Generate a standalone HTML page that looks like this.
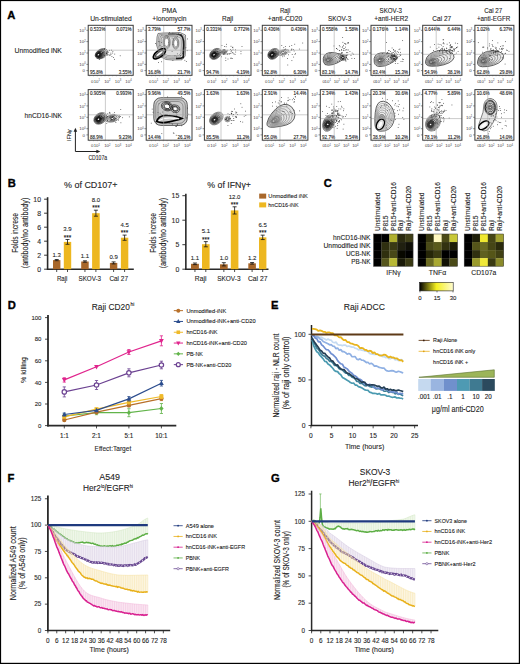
<!DOCTYPE html>
<html><head><meta charset="utf-8"><style>
html,body{margin:0;padding:0;background:#fff;width:520px;height:664px;overflow:hidden}
svg{display:block;font-family:"Liberation Sans", sans-serif}
text{stroke:currentColor;stroke-width:0.1px}
</style></head><body>
<svg width="520" height="664" viewBox="0 0 520 664">
<rect x="0" y="0" width="520" height="664" fill="#fff"/>
<rect x="0.00" y="0.00" width="520.00" height="1.10" fill="#000" stroke="none" stroke-width="1"/>
<rect x="0.00" y="0.00" width="1.10" height="664.00" fill="#000" stroke="none" stroke-width="1"/>
<rect x="518.80" y="0.00" width="1.20" height="664.00" fill="#000" stroke="none" stroke-width="1"/>
<rect x="0.00" y="662.80" width="520.00" height="1.20" fill="#000" stroke="none" stroke-width="1"/>
<text x="7.30" y="19.20" font-size="11.2" text-anchor="start" font-weight="bold" fill="#000" style="stroke:#000;stroke-width:0.35px">A</text>
<text x="7.80" y="187.30" font-size="11.2" text-anchor="start" font-weight="bold" fill="#000" style="stroke:#000;stroke-width:0.35px">B</text>
<text x="323.80" y="186.90" font-size="11.2" text-anchor="start" font-weight="bold" fill="#000" style="stroke:#000;stroke-width:0.35px">C</text>
<text x="7.80" y="308.90" font-size="11.2" text-anchor="start" font-weight="bold" fill="#000" style="stroke:#000;stroke-width:0.35px">D</text>
<text x="271.00" y="308.90" font-size="11.2" text-anchor="start" font-weight="bold" fill="#000" style="stroke:#000;stroke-width:0.35px">E</text>
<text x="7.50" y="482.40" font-size="11.2" text-anchor="start" font-weight="bold" fill="#000" style="stroke:#000;stroke-width:0.35px">F</text>
<text x="271.00" y="482.40" font-size="11.2" text-anchor="start" font-weight="bold" fill="#000" style="stroke:#000;stroke-width:0.35px">G</text>
<text x="14.50" y="52.70" font-size="7.8" text-anchor="start" font-weight="normal" fill="#2a2a2a" textLength="47.4" lengthAdjust="spacingAndGlyphs">Unmodified iNK</text>
<text x="24.50" y="117.60" font-size="7.8" text-anchor="start" font-weight="normal" fill="#2a2a2a" textLength="37.4" lengthAdjust="spacingAndGlyphs">hnCD16-iNK</text>
<text x="90.20" y="20.60" font-size="7.4" text-anchor="start" font-weight="normal" fill="#2a2a2a" textLength="41.499999999999986" lengthAdjust="spacingAndGlyphs">Un-stimulated</text>
<text x="85.60" y="31.90" font-size="4.4" text-anchor="end" fill="#444" style="stroke:none">10<tspan font-size="2.64" dy="-1.6">3</tspan></text>
<text x="85.60" y="43.20" font-size="4.4" text-anchor="end" fill="#444" style="stroke:none">10<tspan font-size="2.64" dy="-1.6">2</tspan></text>
<text x="85.60" y="54.60" font-size="4.4" text-anchor="end" fill="#444" style="stroke:none">10<tspan font-size="2.64" dy="-1.6">1</tspan></text>
<text x="85.60" y="66.00" font-size="4.4" text-anchor="end" fill="#444" style="stroke:none">10<tspan font-size="2.64" dy="-1.6">0</tspan></text>
<text x="85.00" y="72.20" font-size="4.4" text-anchor="end" font-weight="normal" fill="#444" style="stroke:none">0</text>
<line x1="86.40" y1="30.30" x2="88.20" y2="30.30" stroke="#444" stroke-width="0.6"/>
<line x1="86.40" y1="41.60" x2="88.20" y2="41.60" stroke="#444" stroke-width="0.6"/>
<line x1="86.40" y1="53.00" x2="88.20" y2="53.00" stroke="#444" stroke-width="0.6"/>
<line x1="86.40" y1="64.40" x2="88.20" y2="64.40" stroke="#444" stroke-width="0.6"/>
<line x1="86.40" y1="70.60" x2="88.20" y2="70.60" stroke="#444" stroke-width="0.6"/>
<text x="92.20" y="82.50" font-size="4.4" text-anchor="middle" font-weight="normal" fill="#444" style="stroke:none">0</text>
<text x="100.00" y="82.50" font-size="4.4" text-anchor="end" fill="#444" style="stroke:none">10<tspan font-size="2.64" dy="-1.6">1</tspan></text>
<text x="110.50" y="82.50" font-size="4.4" text-anchor="end" fill="#444" style="stroke:none">10<tspan font-size="2.64" dy="-1.6">2</tspan></text>
<text x="121.10" y="82.50" font-size="4.4" text-anchor="end" fill="#444" style="stroke:none">10<tspan font-size="2.64" dy="-1.6">3</tspan></text>
<text x="131.70" y="82.50" font-size="4.4" text-anchor="end" fill="#444" style="stroke:none">10<tspan font-size="2.64" dy="-1.6">4</tspan></text>
<text x="90.00" y="30.50" font-size="4.55" text-anchor="start" font-weight="normal" fill="#2a2a2a">0.533%</text>
<text x="131.60" y="30.50" font-size="4.55" text-anchor="end" font-weight="normal" fill="#2a2a2a">0.071%</text>
<text x="90.00" y="73.80" font-size="4.55" text-anchor="start" font-weight="normal" fill="#2a2a2a">95.8%</text>
<text x="131.60" y="73.80" font-size="4.55" text-anchor="end" font-weight="normal" fill="#2a2a2a">3.55%</text>
<text x="85.60" y="96.20" font-size="4.4" text-anchor="end" fill="#444" style="stroke:none">10<tspan font-size="2.64" dy="-1.6">3</tspan></text>
<text x="85.60" y="107.50" font-size="4.4" text-anchor="end" fill="#444" style="stroke:none">10<tspan font-size="2.64" dy="-1.6">2</tspan></text>
<text x="85.60" y="118.90" font-size="4.4" text-anchor="end" fill="#444" style="stroke:none">10<tspan font-size="2.64" dy="-1.6">1</tspan></text>
<text x="85.60" y="130.30" font-size="4.4" text-anchor="end" fill="#444" style="stroke:none">10<tspan font-size="2.64" dy="-1.6">0</tspan></text>
<text x="85.00" y="136.50" font-size="4.4" text-anchor="end" font-weight="normal" fill="#444" style="stroke:none">0</text>
<line x1="86.40" y1="94.60" x2="88.20" y2="94.60" stroke="#444" stroke-width="0.6"/>
<line x1="86.40" y1="105.90" x2="88.20" y2="105.90" stroke="#444" stroke-width="0.6"/>
<line x1="86.40" y1="117.30" x2="88.20" y2="117.30" stroke="#444" stroke-width="0.6"/>
<line x1="86.40" y1="128.70" x2="88.20" y2="128.70" stroke="#444" stroke-width="0.6"/>
<line x1="86.40" y1="134.90" x2="88.20" y2="134.90" stroke="#444" stroke-width="0.6"/>
<text x="92.20" y="147.40" font-size="4.4" text-anchor="middle" font-weight="normal" fill="#444" style="stroke:none">0</text>
<text x="100.00" y="147.40" font-size="4.4" text-anchor="end" fill="#444" style="stroke:none">10<tspan font-size="2.64" dy="-1.6">1</tspan></text>
<text x="110.50" y="147.40" font-size="4.4" text-anchor="end" fill="#444" style="stroke:none">10<tspan font-size="2.64" dy="-1.6">2</tspan></text>
<text x="121.10" y="147.40" font-size="4.4" text-anchor="end" fill="#444" style="stroke:none">10<tspan font-size="2.64" dy="-1.6">3</tspan></text>
<text x="131.70" y="147.40" font-size="4.4" text-anchor="end" fill="#444" style="stroke:none">10<tspan font-size="2.64" dy="-1.6">4</tspan></text>
<text x="90.00" y="94.80" font-size="4.55" text-anchor="start" font-weight="normal" fill="#2a2a2a">0.905%</text>
<text x="131.60" y="94.80" font-size="4.55" text-anchor="end" font-weight="normal" fill="#2a2a2a">0.993%</text>
<text x="90.00" y="138.70" font-size="4.55" text-anchor="start" font-weight="normal" fill="#2a2a2a">88.9%</text>
<text x="131.60" y="138.70" font-size="4.55" text-anchor="end" font-weight="normal" fill="#2a2a2a">9.23%</text>
<text x="162.00" y="12.60" font-size="7.4" text-anchor="start" font-weight="normal" fill="#2a2a2a" textLength="14.699999999999989" lengthAdjust="spacingAndGlyphs">PMA</text>
<text x="152.30" y="20.50" font-size="7.4" text-anchor="start" font-weight="normal" fill="#2a2a2a" textLength="34.19999999999999" lengthAdjust="spacingAndGlyphs">+ionomycin</text>
<text x="143.60" y="31.90" font-size="4.4" text-anchor="end" fill="#444" style="stroke:none">10<tspan font-size="2.64" dy="-1.6">3</tspan></text>
<text x="143.60" y="43.20" font-size="4.4" text-anchor="end" fill="#444" style="stroke:none">10<tspan font-size="2.64" dy="-1.6">2</tspan></text>
<text x="143.60" y="54.60" font-size="4.4" text-anchor="end" fill="#444" style="stroke:none">10<tspan font-size="2.64" dy="-1.6">1</tspan></text>
<text x="143.60" y="66.00" font-size="4.4" text-anchor="end" fill="#444" style="stroke:none">10<tspan font-size="2.64" dy="-1.6">0</tspan></text>
<text x="143.00" y="72.20" font-size="4.4" text-anchor="end" font-weight="normal" fill="#444" style="stroke:none">0</text>
<line x1="144.40" y1="30.30" x2="146.20" y2="30.30" stroke="#444" stroke-width="0.6"/>
<line x1="144.40" y1="41.60" x2="146.20" y2="41.60" stroke="#444" stroke-width="0.6"/>
<line x1="144.40" y1="53.00" x2="146.20" y2="53.00" stroke="#444" stroke-width="0.6"/>
<line x1="144.40" y1="64.40" x2="146.20" y2="64.40" stroke="#444" stroke-width="0.6"/>
<line x1="144.40" y1="70.60" x2="146.20" y2="70.60" stroke="#444" stroke-width="0.6"/>
<text x="150.27" y="82.50" font-size="4.4" text-anchor="middle" font-weight="normal" fill="#444" style="stroke:none">0</text>
<text x="158.17" y="82.50" font-size="4.4" text-anchor="end" fill="#444" style="stroke:none">10<tspan font-size="2.64" dy="-1.6">1</tspan></text>
<text x="168.86" y="82.50" font-size="4.4" text-anchor="end" fill="#444" style="stroke:none">10<tspan font-size="2.64" dy="-1.6">2</tspan></text>
<text x="179.65" y="82.50" font-size="4.4" text-anchor="end" fill="#444" style="stroke:none">10<tspan font-size="2.64" dy="-1.6">3</tspan></text>
<text x="190.44" y="82.50" font-size="4.4" text-anchor="end" fill="#444" style="stroke:none">10<tspan font-size="2.64" dy="-1.6">4</tspan></text>
<text x="148.00" y="30.50" font-size="4.55" text-anchor="start" font-weight="normal" fill="#2a2a2a">3.79%</text>
<text x="190.40" y="30.50" font-size="4.55" text-anchor="end" font-weight="normal" fill="#2a2a2a">57.7%</text>
<text x="148.00" y="73.80" font-size="4.55" text-anchor="start" font-weight="normal" fill="#2a2a2a">16.8%</text>
<text x="190.40" y="73.80" font-size="4.55" text-anchor="end" font-weight="normal" fill="#2a2a2a">21.7%</text>
<text x="143.60" y="96.20" font-size="4.4" text-anchor="end" fill="#444" style="stroke:none">10<tspan font-size="2.64" dy="-1.6">3</tspan></text>
<text x="143.60" y="107.50" font-size="4.4" text-anchor="end" fill="#444" style="stroke:none">10<tspan font-size="2.64" dy="-1.6">2</tspan></text>
<text x="143.60" y="118.90" font-size="4.4" text-anchor="end" fill="#444" style="stroke:none">10<tspan font-size="2.64" dy="-1.6">1</tspan></text>
<text x="143.60" y="130.30" font-size="4.4" text-anchor="end" fill="#444" style="stroke:none">10<tspan font-size="2.64" dy="-1.6">0</tspan></text>
<text x="143.00" y="136.50" font-size="4.4" text-anchor="end" font-weight="normal" fill="#444" style="stroke:none">0</text>
<line x1="144.40" y1="94.60" x2="146.20" y2="94.60" stroke="#444" stroke-width="0.6"/>
<line x1="144.40" y1="105.90" x2="146.20" y2="105.90" stroke="#444" stroke-width="0.6"/>
<line x1="144.40" y1="117.30" x2="146.20" y2="117.30" stroke="#444" stroke-width="0.6"/>
<line x1="144.40" y1="128.70" x2="146.20" y2="128.70" stroke="#444" stroke-width="0.6"/>
<line x1="144.40" y1="134.90" x2="146.20" y2="134.90" stroke="#444" stroke-width="0.6"/>
<text x="150.27" y="147.40" font-size="4.4" text-anchor="middle" font-weight="normal" fill="#444" style="stroke:none">0</text>
<text x="158.17" y="147.40" font-size="4.4" text-anchor="end" fill="#444" style="stroke:none">10<tspan font-size="2.64" dy="-1.6">1</tspan></text>
<text x="168.86" y="147.40" font-size="4.4" text-anchor="end" fill="#444" style="stroke:none">10<tspan font-size="2.64" dy="-1.6">2</tspan></text>
<text x="179.65" y="147.40" font-size="4.4" text-anchor="end" fill="#444" style="stroke:none">10<tspan font-size="2.64" dy="-1.6">3</tspan></text>
<text x="190.44" y="147.40" font-size="4.4" text-anchor="end" fill="#444" style="stroke:none">10<tspan font-size="2.64" dy="-1.6">4</tspan></text>
<text x="148.00" y="94.80" font-size="4.55" text-anchor="start" font-weight="normal" fill="#2a2a2a">9.96%</text>
<text x="190.40" y="94.80" font-size="4.55" text-anchor="end" font-weight="normal" fill="#2a2a2a">49.5%</text>
<text x="148.00" y="138.70" font-size="4.55" text-anchor="start" font-weight="normal" fill="#2a2a2a">14.4%</text>
<text x="190.40" y="138.70" font-size="4.55" text-anchor="end" font-weight="normal" fill="#2a2a2a">26.1%</text>
<text x="222.00" y="20.60" font-size="7.4" text-anchor="start" font-weight="normal" fill="#2a2a2a" textLength="11.099999999999994" lengthAdjust="spacingAndGlyphs">Raji</text>
<text x="201.80" y="31.90" font-size="4.4" text-anchor="end" fill="#444" style="stroke:none">10<tspan font-size="2.64" dy="-1.6">3</tspan></text>
<text x="201.80" y="43.20" font-size="4.4" text-anchor="end" fill="#444" style="stroke:none">10<tspan font-size="2.64" dy="-1.6">2</tspan></text>
<text x="201.80" y="54.60" font-size="4.4" text-anchor="end" fill="#444" style="stroke:none">10<tspan font-size="2.64" dy="-1.6">1</tspan></text>
<text x="201.80" y="66.00" font-size="4.4" text-anchor="end" fill="#444" style="stroke:none">10<tspan font-size="2.64" dy="-1.6">0</tspan></text>
<text x="201.20" y="72.20" font-size="4.4" text-anchor="end" font-weight="normal" fill="#444" style="stroke:none">0</text>
<line x1="202.60" y1="30.30" x2="204.40" y2="30.30" stroke="#444" stroke-width="0.6"/>
<line x1="202.60" y1="41.60" x2="204.40" y2="41.60" stroke="#444" stroke-width="0.6"/>
<line x1="202.60" y1="53.00" x2="204.40" y2="53.00" stroke="#444" stroke-width="0.6"/>
<line x1="202.60" y1="64.40" x2="204.40" y2="64.40" stroke="#444" stroke-width="0.6"/>
<line x1="202.60" y1="70.60" x2="204.40" y2="70.60" stroke="#444" stroke-width="0.6"/>
<text x="208.54" y="82.50" font-size="4.4" text-anchor="middle" font-weight="normal" fill="#444" style="stroke:none">0</text>
<text x="216.55" y="82.50" font-size="4.4" text-anchor="end" fill="#444" style="stroke:none">10<tspan font-size="2.64" dy="-1.6">1</tspan></text>
<text x="227.42" y="82.50" font-size="4.4" text-anchor="end" fill="#444" style="stroke:none">10<tspan font-size="2.64" dy="-1.6">2</tspan></text>
<text x="238.40" y="82.50" font-size="4.4" text-anchor="end" fill="#444" style="stroke:none">10<tspan font-size="2.64" dy="-1.6">3</tspan></text>
<text x="249.38" y="82.50" font-size="4.4" text-anchor="end" fill="#444" style="stroke:none">10<tspan font-size="2.64" dy="-1.6">4</tspan></text>
<text x="206.20" y="30.50" font-size="4.55" text-anchor="start" font-weight="normal" fill="#2a2a2a">0.331%</text>
<text x="249.40" y="30.50" font-size="4.55" text-anchor="end" font-weight="normal" fill="#2a2a2a">0.772%</text>
<text x="206.20" y="73.80" font-size="4.55" text-anchor="start" font-weight="normal" fill="#2a2a2a">94.7%</text>
<text x="249.40" y="73.80" font-size="4.55" text-anchor="end" font-weight="normal" fill="#2a2a2a">4.19%</text>
<text x="201.80" y="96.20" font-size="4.4" text-anchor="end" fill="#444" style="stroke:none">10<tspan font-size="2.64" dy="-1.6">3</tspan></text>
<text x="201.80" y="107.50" font-size="4.4" text-anchor="end" fill="#444" style="stroke:none">10<tspan font-size="2.64" dy="-1.6">2</tspan></text>
<text x="201.80" y="118.90" font-size="4.4" text-anchor="end" fill="#444" style="stroke:none">10<tspan font-size="2.64" dy="-1.6">1</tspan></text>
<text x="201.80" y="130.30" font-size="4.4" text-anchor="end" fill="#444" style="stroke:none">10<tspan font-size="2.64" dy="-1.6">0</tspan></text>
<text x="201.20" y="136.50" font-size="4.4" text-anchor="end" font-weight="normal" fill="#444" style="stroke:none">0</text>
<line x1="202.60" y1="94.60" x2="204.40" y2="94.60" stroke="#444" stroke-width="0.6"/>
<line x1="202.60" y1="105.90" x2="204.40" y2="105.90" stroke="#444" stroke-width="0.6"/>
<line x1="202.60" y1="117.30" x2="204.40" y2="117.30" stroke="#444" stroke-width="0.6"/>
<line x1="202.60" y1="128.70" x2="204.40" y2="128.70" stroke="#444" stroke-width="0.6"/>
<line x1="202.60" y1="134.90" x2="204.40" y2="134.90" stroke="#444" stroke-width="0.6"/>
<text x="208.54" y="147.40" font-size="4.4" text-anchor="middle" font-weight="normal" fill="#444" style="stroke:none">0</text>
<text x="216.55" y="147.40" font-size="4.4" text-anchor="end" fill="#444" style="stroke:none">10<tspan font-size="2.64" dy="-1.6">1</tspan></text>
<text x="227.42" y="147.40" font-size="4.4" text-anchor="end" fill="#444" style="stroke:none">10<tspan font-size="2.64" dy="-1.6">2</tspan></text>
<text x="238.40" y="147.40" font-size="4.4" text-anchor="end" fill="#444" style="stroke:none">10<tspan font-size="2.64" dy="-1.6">3</tspan></text>
<text x="249.38" y="147.40" font-size="4.4" text-anchor="end" fill="#444" style="stroke:none">10<tspan font-size="2.64" dy="-1.6">4</tspan></text>
<text x="206.20" y="94.80" font-size="4.55" text-anchor="start" font-weight="normal" fill="#2a2a2a">1.63%</text>
<text x="249.40" y="94.80" font-size="4.55" text-anchor="end" font-weight="normal" fill="#2a2a2a">1.63%</text>
<text x="206.20" y="138.70" font-size="4.55" text-anchor="start" font-weight="normal" fill="#2a2a2a">85.5%</text>
<text x="249.40" y="138.70" font-size="4.55" text-anchor="end" font-weight="normal" fill="#2a2a2a">11.2%</text>
<text x="279.90" y="12.60" font-size="7.4" text-anchor="start" font-weight="normal" fill="#2a2a2a" textLength="10.400000000000034" lengthAdjust="spacingAndGlyphs">Raji</text>
<text x="267.70" y="20.50" font-size="7.4" text-anchor="start" font-weight="normal" fill="#2a2a2a" textLength="34.60000000000002" lengthAdjust="spacingAndGlyphs">+anti-CD20</text>
<text x="259.70" y="31.90" font-size="4.4" text-anchor="end" fill="#444" style="stroke:none">10<tspan font-size="2.64" dy="-1.6">3</tspan></text>
<text x="259.70" y="43.20" font-size="4.4" text-anchor="end" fill="#444" style="stroke:none">10<tspan font-size="2.64" dy="-1.6">2</tspan></text>
<text x="259.70" y="54.60" font-size="4.4" text-anchor="end" fill="#444" style="stroke:none">10<tspan font-size="2.64" dy="-1.6">1</tspan></text>
<text x="259.70" y="66.00" font-size="4.4" text-anchor="end" fill="#444" style="stroke:none">10<tspan font-size="2.64" dy="-1.6">0</tspan></text>
<text x="259.10" y="72.20" font-size="4.4" text-anchor="end" font-weight="normal" fill="#444" style="stroke:none">0</text>
<line x1="260.50" y1="30.30" x2="262.30" y2="30.30" stroke="#444" stroke-width="0.6"/>
<line x1="260.50" y1="41.60" x2="262.30" y2="41.60" stroke="#444" stroke-width="0.6"/>
<line x1="260.50" y1="53.00" x2="262.30" y2="53.00" stroke="#444" stroke-width="0.6"/>
<line x1="260.50" y1="64.40" x2="262.30" y2="64.40" stroke="#444" stroke-width="0.6"/>
<line x1="260.50" y1="70.60" x2="262.30" y2="70.60" stroke="#444" stroke-width="0.6"/>
<text x="266.35" y="82.50" font-size="4.4" text-anchor="middle" font-weight="normal" fill="#444" style="stroke:none">0</text>
<text x="274.23" y="82.50" font-size="4.4" text-anchor="end" fill="#444" style="stroke:none">10<tspan font-size="2.64" dy="-1.6">1</tspan></text>
<text x="284.87" y="82.50" font-size="4.4" text-anchor="end" fill="#444" style="stroke:none">10<tspan font-size="2.64" dy="-1.6">2</tspan></text>
<text x="295.61" y="82.50" font-size="4.4" text-anchor="end" fill="#444" style="stroke:none">10<tspan font-size="2.64" dy="-1.6">3</tspan></text>
<text x="306.35" y="82.50" font-size="4.4" text-anchor="end" fill="#444" style="stroke:none">10<tspan font-size="2.64" dy="-1.6">4</tspan></text>
<text x="264.10" y="30.50" font-size="4.55" text-anchor="start" font-weight="normal" fill="#2a2a2a">0.436%</text>
<text x="306.30" y="30.50" font-size="4.55" text-anchor="end" font-weight="normal" fill="#2a2a2a">0.436%</text>
<text x="264.10" y="73.80" font-size="4.55" text-anchor="start" font-weight="normal" fill="#2a2a2a">92.8%</text>
<text x="306.30" y="73.80" font-size="4.55" text-anchor="end" font-weight="normal" fill="#2a2a2a">6.30%</text>
<text x="259.70" y="96.20" font-size="4.4" text-anchor="end" fill="#444" style="stroke:none">10<tspan font-size="2.64" dy="-1.6">3</tspan></text>
<text x="259.70" y="107.50" font-size="4.4" text-anchor="end" fill="#444" style="stroke:none">10<tspan font-size="2.64" dy="-1.6">2</tspan></text>
<text x="259.70" y="118.90" font-size="4.4" text-anchor="end" fill="#444" style="stroke:none">10<tspan font-size="2.64" dy="-1.6">1</tspan></text>
<text x="259.70" y="130.30" font-size="4.4" text-anchor="end" fill="#444" style="stroke:none">10<tspan font-size="2.64" dy="-1.6">0</tspan></text>
<text x="259.10" y="136.50" font-size="4.4" text-anchor="end" font-weight="normal" fill="#444" style="stroke:none">0</text>
<line x1="260.50" y1="94.60" x2="262.30" y2="94.60" stroke="#444" stroke-width="0.6"/>
<line x1="260.50" y1="105.90" x2="262.30" y2="105.90" stroke="#444" stroke-width="0.6"/>
<line x1="260.50" y1="117.30" x2="262.30" y2="117.30" stroke="#444" stroke-width="0.6"/>
<line x1="260.50" y1="128.70" x2="262.30" y2="128.70" stroke="#444" stroke-width="0.6"/>
<line x1="260.50" y1="134.90" x2="262.30" y2="134.90" stroke="#444" stroke-width="0.6"/>
<text x="266.35" y="147.40" font-size="4.4" text-anchor="middle" font-weight="normal" fill="#444" style="stroke:none">0</text>
<text x="274.23" y="147.40" font-size="4.4" text-anchor="end" fill="#444" style="stroke:none">10<tspan font-size="2.64" dy="-1.6">1</tspan></text>
<text x="284.87" y="147.40" font-size="4.4" text-anchor="end" fill="#444" style="stroke:none">10<tspan font-size="2.64" dy="-1.6">2</tspan></text>
<text x="295.61" y="147.40" font-size="4.4" text-anchor="end" fill="#444" style="stroke:none">10<tspan font-size="2.64" dy="-1.6">3</tspan></text>
<text x="306.35" y="147.40" font-size="4.4" text-anchor="end" fill="#444" style="stroke:none">10<tspan font-size="2.64" dy="-1.6">4</tspan></text>
<text x="264.10" y="94.80" font-size="4.55" text-anchor="start" font-weight="normal" fill="#2a2a2a">2.91%</text>
<text x="306.30" y="94.80" font-size="4.55" text-anchor="end" font-weight="normal" fill="#2a2a2a">14.4%</text>
<text x="264.10" y="138.70" font-size="4.55" text-anchor="start" font-weight="normal" fill="#2a2a2a">55.0%</text>
<text x="306.30" y="138.70" font-size="4.55" text-anchor="end" font-weight="normal" fill="#2a2a2a">27.7%</text>
<text x="328.10" y="20.60" font-size="7.4" text-anchor="start" font-weight="normal" fill="#2a2a2a" textLength="23.099999999999966" lengthAdjust="spacingAndGlyphs">SKOV-3</text>
<text x="317.70" y="31.90" font-size="4.4" text-anchor="end" fill="#444" style="stroke:none">10<tspan font-size="2.64" dy="-1.6">3</tspan></text>
<text x="317.70" y="43.20" font-size="4.4" text-anchor="end" fill="#444" style="stroke:none">10<tspan font-size="2.64" dy="-1.6">2</tspan></text>
<text x="317.70" y="54.60" font-size="4.4" text-anchor="end" fill="#444" style="stroke:none">10<tspan font-size="2.64" dy="-1.6">1</tspan></text>
<text x="317.70" y="66.00" font-size="4.4" text-anchor="end" fill="#444" style="stroke:none">10<tspan font-size="2.64" dy="-1.6">0</tspan></text>
<text x="317.10" y="72.20" font-size="4.4" text-anchor="end" font-weight="normal" fill="#444" style="stroke:none">0</text>
<line x1="318.50" y1="30.30" x2="320.30" y2="30.30" stroke="#444" stroke-width="0.6"/>
<line x1="318.50" y1="41.60" x2="320.30" y2="41.60" stroke="#444" stroke-width="0.6"/>
<line x1="318.50" y1="53.00" x2="320.30" y2="53.00" stroke="#444" stroke-width="0.6"/>
<line x1="318.50" y1="64.40" x2="320.30" y2="64.40" stroke="#444" stroke-width="0.6"/>
<line x1="318.50" y1="70.60" x2="320.30" y2="70.60" stroke="#444" stroke-width="0.6"/>
<text x="323.79" y="82.50" font-size="4.4" text-anchor="middle" font-weight="normal" fill="#444" style="stroke:none">0</text>
<text x="330.86" y="82.50" font-size="4.4" text-anchor="end" fill="#444" style="stroke:none">10<tspan font-size="2.64" dy="-1.6">1</tspan></text>
<text x="340.03" y="82.50" font-size="4.4" text-anchor="end" fill="#444" style="stroke:none">10<tspan font-size="2.64" dy="-1.6">2</tspan></text>
<text x="349.29" y="82.50" font-size="4.4" text-anchor="end" fill="#444" style="stroke:none">10<tspan font-size="2.64" dy="-1.6">3</tspan></text>
<text x="358.54" y="82.50" font-size="4.4" text-anchor="end" fill="#444" style="stroke:none">10<tspan font-size="2.64" dy="-1.6">4</tspan></text>
<text x="322.10" y="30.50" font-size="4.55" text-anchor="start" font-weight="normal" fill="#2a2a2a">0.558%</text>
<text x="358.00" y="30.50" font-size="4.55" text-anchor="end" font-weight="normal" fill="#2a2a2a">1.58%</text>
<text x="322.10" y="73.80" font-size="4.55" text-anchor="start" font-weight="normal" fill="#2a2a2a">83.1%</text>
<text x="358.00" y="73.80" font-size="4.55" text-anchor="end" font-weight="normal" fill="#2a2a2a">14.7%</text>
<text x="317.70" y="96.20" font-size="4.4" text-anchor="end" fill="#444" style="stroke:none">10<tspan font-size="2.64" dy="-1.6">3</tspan></text>
<text x="317.70" y="107.50" font-size="4.4" text-anchor="end" fill="#444" style="stroke:none">10<tspan font-size="2.64" dy="-1.6">2</tspan></text>
<text x="317.70" y="118.90" font-size="4.4" text-anchor="end" fill="#444" style="stroke:none">10<tspan font-size="2.64" dy="-1.6">1</tspan></text>
<text x="317.70" y="130.30" font-size="4.4" text-anchor="end" fill="#444" style="stroke:none">10<tspan font-size="2.64" dy="-1.6">0</tspan></text>
<text x="317.10" y="136.50" font-size="4.4" text-anchor="end" font-weight="normal" fill="#444" style="stroke:none">0</text>
<line x1="318.50" y1="94.60" x2="320.30" y2="94.60" stroke="#444" stroke-width="0.6"/>
<line x1="318.50" y1="105.90" x2="320.30" y2="105.90" stroke="#444" stroke-width="0.6"/>
<line x1="318.50" y1="117.30" x2="320.30" y2="117.30" stroke="#444" stroke-width="0.6"/>
<line x1="318.50" y1="128.70" x2="320.30" y2="128.70" stroke="#444" stroke-width="0.6"/>
<line x1="318.50" y1="134.90" x2="320.30" y2="134.90" stroke="#444" stroke-width="0.6"/>
<text x="323.79" y="147.40" font-size="4.4" text-anchor="middle" font-weight="normal" fill="#444" style="stroke:none">0</text>
<text x="330.86" y="147.40" font-size="4.4" text-anchor="end" fill="#444" style="stroke:none">10<tspan font-size="2.64" dy="-1.6">1</tspan></text>
<text x="340.03" y="147.40" font-size="4.4" text-anchor="end" fill="#444" style="stroke:none">10<tspan font-size="2.64" dy="-1.6">2</tspan></text>
<text x="349.29" y="147.40" font-size="4.4" text-anchor="end" fill="#444" style="stroke:none">10<tspan font-size="2.64" dy="-1.6">3</tspan></text>
<text x="358.54" y="147.40" font-size="4.4" text-anchor="end" fill="#444" style="stroke:none">10<tspan font-size="2.64" dy="-1.6">4</tspan></text>
<text x="322.10" y="94.80" font-size="4.55" text-anchor="start" font-weight="normal" fill="#2a2a2a">2.34%</text>
<text x="358.00" y="94.80" font-size="4.55" text-anchor="end" font-weight="normal" fill="#2a2a2a">1.43%</text>
<text x="322.10" y="138.70" font-size="4.55" text-anchor="start" font-weight="normal" fill="#2a2a2a">92.7%</text>
<text x="358.00" y="138.70" font-size="4.55" text-anchor="end" font-weight="normal" fill="#2a2a2a">3.54%</text>
<text x="379.50" y="12.60" font-size="7.4" text-anchor="start" font-weight="normal" fill="#2a2a2a" textLength="22.399999999999977" lengthAdjust="spacingAndGlyphs">SKOV-3</text>
<text x="374.20" y="20.50" font-size="7.4" text-anchor="start" font-weight="normal" fill="#2a2a2a" textLength="34.0" lengthAdjust="spacingAndGlyphs">+anti-HER2</text>
<text x="368.40" y="31.90" font-size="4.4" text-anchor="end" fill="#444" style="stroke:none">10<tspan font-size="2.64" dy="-1.6">3</tspan></text>
<text x="368.40" y="43.20" font-size="4.4" text-anchor="end" fill="#444" style="stroke:none">10<tspan font-size="2.64" dy="-1.6">2</tspan></text>
<text x="368.40" y="54.60" font-size="4.4" text-anchor="end" fill="#444" style="stroke:none">10<tspan font-size="2.64" dy="-1.6">1</tspan></text>
<text x="368.40" y="66.00" font-size="4.4" text-anchor="end" fill="#444" style="stroke:none">10<tspan font-size="2.64" dy="-1.6">0</tspan></text>
<text x="367.80" y="72.20" font-size="4.4" text-anchor="end" font-weight="normal" fill="#444" style="stroke:none">0</text>
<line x1="369.20" y1="30.30" x2="371.00" y2="30.30" stroke="#444" stroke-width="0.6"/>
<line x1="369.20" y1="41.60" x2="371.00" y2="41.60" stroke="#444" stroke-width="0.6"/>
<line x1="369.20" y1="53.00" x2="371.00" y2="53.00" stroke="#444" stroke-width="0.6"/>
<line x1="369.20" y1="64.40" x2="371.00" y2="64.40" stroke="#444" stroke-width="0.6"/>
<line x1="369.20" y1="70.60" x2="371.00" y2="70.60" stroke="#444" stroke-width="0.6"/>
<text x="374.43" y="82.50" font-size="4.4" text-anchor="middle" font-weight="normal" fill="#444" style="stroke:none">0</text>
<text x="381.41" y="82.50" font-size="4.4" text-anchor="end" fill="#444" style="stroke:none">10<tspan font-size="2.64" dy="-1.6">1</tspan></text>
<text x="390.41" y="82.50" font-size="4.4" text-anchor="end" fill="#444" style="stroke:none">10<tspan font-size="2.64" dy="-1.6">2</tspan></text>
<text x="399.51" y="82.50" font-size="4.4" text-anchor="end" fill="#444" style="stroke:none">10<tspan font-size="2.64" dy="-1.6">3</tspan></text>
<text x="408.60" y="82.50" font-size="4.4" text-anchor="end" fill="#444" style="stroke:none">10<tspan font-size="2.64" dy="-1.6">4</tspan></text>
<text x="372.80" y="30.50" font-size="4.55" text-anchor="start" font-weight="normal" fill="#2a2a2a">0.176%</text>
<text x="408.00" y="30.50" font-size="4.55" text-anchor="end" font-weight="normal" fill="#2a2a2a">1.14%</text>
<text x="372.80" y="73.80" font-size="4.55" text-anchor="start" font-weight="normal" fill="#2a2a2a">83.4%</text>
<text x="408.00" y="73.80" font-size="4.55" text-anchor="end" font-weight="normal" fill="#2a2a2a">15.3%</text>
<text x="368.40" y="96.20" font-size="4.4" text-anchor="end" fill="#444" style="stroke:none">10<tspan font-size="2.64" dy="-1.6">3</tspan></text>
<text x="368.40" y="107.50" font-size="4.4" text-anchor="end" fill="#444" style="stroke:none">10<tspan font-size="2.64" dy="-1.6">2</tspan></text>
<text x="368.40" y="118.90" font-size="4.4" text-anchor="end" fill="#444" style="stroke:none">10<tspan font-size="2.64" dy="-1.6">1</tspan></text>
<text x="368.40" y="130.30" font-size="4.4" text-anchor="end" fill="#444" style="stroke:none">10<tspan font-size="2.64" dy="-1.6">0</tspan></text>
<text x="367.80" y="136.50" font-size="4.4" text-anchor="end" font-weight="normal" fill="#444" style="stroke:none">0</text>
<line x1="369.20" y1="94.60" x2="371.00" y2="94.60" stroke="#444" stroke-width="0.6"/>
<line x1="369.20" y1="105.90" x2="371.00" y2="105.90" stroke="#444" stroke-width="0.6"/>
<line x1="369.20" y1="117.30" x2="371.00" y2="117.30" stroke="#444" stroke-width="0.6"/>
<line x1="369.20" y1="128.70" x2="371.00" y2="128.70" stroke="#444" stroke-width="0.6"/>
<line x1="369.20" y1="134.90" x2="371.00" y2="134.90" stroke="#444" stroke-width="0.6"/>
<text x="374.43" y="147.40" font-size="4.4" text-anchor="middle" font-weight="normal" fill="#444" style="stroke:none">0</text>
<text x="381.41" y="147.40" font-size="4.4" text-anchor="end" fill="#444" style="stroke:none">10<tspan font-size="2.64" dy="-1.6">1</tspan></text>
<text x="390.41" y="147.40" font-size="4.4" text-anchor="end" fill="#444" style="stroke:none">10<tspan font-size="2.64" dy="-1.6">2</tspan></text>
<text x="399.51" y="147.40" font-size="4.4" text-anchor="end" fill="#444" style="stroke:none">10<tspan font-size="2.64" dy="-1.6">3</tspan></text>
<text x="408.60" y="147.40" font-size="4.4" text-anchor="end" fill="#444" style="stroke:none">10<tspan font-size="2.64" dy="-1.6">4</tspan></text>
<text x="372.80" y="94.80" font-size="4.55" text-anchor="start" font-weight="normal" fill="#2a2a2a">20.3%</text>
<text x="408.00" y="94.80" font-size="4.55" text-anchor="end" font-weight="normal" fill="#2a2a2a">30.6%</text>
<text x="372.80" y="138.70" font-size="4.55" text-anchor="start" font-weight="normal" fill="#2a2a2a">38.9%</text>
<text x="408.00" y="138.70" font-size="4.55" text-anchor="end" font-weight="normal" fill="#2a2a2a">10.2%</text>
<text x="432.30" y="20.60" font-size="7.4" text-anchor="start" font-weight="normal" fill="#2a2a2a" textLength="18.899999999999977" lengthAdjust="spacingAndGlyphs">Cal 27</text>
<text x="420.10" y="31.90" font-size="4.4" text-anchor="end" fill="#444" style="stroke:none">10<tspan font-size="2.64" dy="-1.6">3</tspan></text>
<text x="420.10" y="43.20" font-size="4.4" text-anchor="end" fill="#444" style="stroke:none">10<tspan font-size="2.64" dy="-1.6">2</tspan></text>
<text x="420.10" y="54.60" font-size="4.4" text-anchor="end" fill="#444" style="stroke:none">10<tspan font-size="2.64" dy="-1.6">1</tspan></text>
<text x="420.10" y="66.00" font-size="4.4" text-anchor="end" fill="#444" style="stroke:none">10<tspan font-size="2.64" dy="-1.6">0</tspan></text>
<text x="419.50" y="72.20" font-size="4.4" text-anchor="end" font-weight="normal" fill="#444" style="stroke:none">0</text>
<line x1="420.90" y1="30.30" x2="422.70" y2="30.30" stroke="#444" stroke-width="0.6"/>
<line x1="420.90" y1="41.60" x2="422.70" y2="41.60" stroke="#444" stroke-width="0.6"/>
<line x1="420.90" y1="53.00" x2="422.70" y2="53.00" stroke="#444" stroke-width="0.6"/>
<line x1="420.90" y1="64.40" x2="422.70" y2="64.40" stroke="#444" stroke-width="0.6"/>
<line x1="420.90" y1="70.60" x2="422.70" y2="70.60" stroke="#444" stroke-width="0.6"/>
<text x="426.18" y="82.50" font-size="4.4" text-anchor="middle" font-weight="normal" fill="#444" style="stroke:none">0</text>
<text x="433.24" y="82.50" font-size="4.4" text-anchor="end" fill="#444" style="stroke:none">10<tspan font-size="2.64" dy="-1.6">1</tspan></text>
<text x="442.38" y="82.50" font-size="4.4" text-anchor="end" fill="#444" style="stroke:none">10<tspan font-size="2.64" dy="-1.6">2</tspan></text>
<text x="451.62" y="82.50" font-size="4.4" text-anchor="end" fill="#444" style="stroke:none">10<tspan font-size="2.64" dy="-1.6">3</tspan></text>
<text x="460.85" y="82.50" font-size="4.4" text-anchor="end" fill="#444" style="stroke:none">10<tspan font-size="2.64" dy="-1.6">4</tspan></text>
<text x="424.50" y="30.50" font-size="4.55" text-anchor="start" font-weight="normal" fill="#2a2a2a">0.644%</text>
<text x="460.30" y="30.50" font-size="4.55" text-anchor="end" font-weight="normal" fill="#2a2a2a">6.44%</text>
<text x="424.50" y="73.80" font-size="4.55" text-anchor="start" font-weight="normal" fill="#2a2a2a">54.9%</text>
<text x="460.30" y="73.80" font-size="4.55" text-anchor="end" font-weight="normal" fill="#2a2a2a">38.1%</text>
<text x="420.10" y="96.20" font-size="4.4" text-anchor="end" fill="#444" style="stroke:none">10<tspan font-size="2.64" dy="-1.6">3</tspan></text>
<text x="420.10" y="107.50" font-size="4.4" text-anchor="end" fill="#444" style="stroke:none">10<tspan font-size="2.64" dy="-1.6">2</tspan></text>
<text x="420.10" y="118.90" font-size="4.4" text-anchor="end" fill="#444" style="stroke:none">10<tspan font-size="2.64" dy="-1.6">1</tspan></text>
<text x="420.10" y="130.30" font-size="4.4" text-anchor="end" fill="#444" style="stroke:none">10<tspan font-size="2.64" dy="-1.6">0</tspan></text>
<text x="419.50" y="136.50" font-size="4.4" text-anchor="end" font-weight="normal" fill="#444" style="stroke:none">0</text>
<line x1="420.90" y1="94.60" x2="422.70" y2="94.60" stroke="#444" stroke-width="0.6"/>
<line x1="420.90" y1="105.90" x2="422.70" y2="105.90" stroke="#444" stroke-width="0.6"/>
<line x1="420.90" y1="117.30" x2="422.70" y2="117.30" stroke="#444" stroke-width="0.6"/>
<line x1="420.90" y1="128.70" x2="422.70" y2="128.70" stroke="#444" stroke-width="0.6"/>
<line x1="420.90" y1="134.90" x2="422.70" y2="134.90" stroke="#444" stroke-width="0.6"/>
<text x="426.18" y="147.40" font-size="4.4" text-anchor="middle" font-weight="normal" fill="#444" style="stroke:none">0</text>
<text x="433.24" y="147.40" font-size="4.4" text-anchor="end" fill="#444" style="stroke:none">10<tspan font-size="2.64" dy="-1.6">1</tspan></text>
<text x="442.38" y="147.40" font-size="4.4" text-anchor="end" fill="#444" style="stroke:none">10<tspan font-size="2.64" dy="-1.6">2</tspan></text>
<text x="451.62" y="147.40" font-size="4.4" text-anchor="end" fill="#444" style="stroke:none">10<tspan font-size="2.64" dy="-1.6">3</tspan></text>
<text x="460.85" y="147.40" font-size="4.4" text-anchor="end" fill="#444" style="stroke:none">10<tspan font-size="2.64" dy="-1.6">4</tspan></text>
<text x="424.50" y="94.80" font-size="4.55" text-anchor="start" font-weight="normal" fill="#2a2a2a">4.77%</text>
<text x="460.30" y="94.80" font-size="4.55" text-anchor="end" font-weight="normal" fill="#2a2a2a">5.89%</text>
<text x="424.50" y="138.70" font-size="4.55" text-anchor="start" font-weight="normal" fill="#2a2a2a">78.1%</text>
<text x="460.30" y="138.70" font-size="4.55" text-anchor="end" font-weight="normal" fill="#2a2a2a">11.2%</text>
<text x="484.20" y="12.60" font-size="7.4" text-anchor="start" font-weight="normal" fill="#2a2a2a" textLength="18.0" lengthAdjust="spacingAndGlyphs">Cal 27</text>
<text x="476.90" y="20.50" font-size="7.4" text-anchor="start" font-weight="normal" fill="#2a2a2a" textLength="33.400000000000034" lengthAdjust="spacingAndGlyphs">+anti-EGFR</text>
<text x="472.30" y="31.90" font-size="4.4" text-anchor="end" fill="#444" style="stroke:none">10<tspan font-size="2.64" dy="-1.6">3</tspan></text>
<text x="472.30" y="43.20" font-size="4.4" text-anchor="end" fill="#444" style="stroke:none">10<tspan font-size="2.64" dy="-1.6">2</tspan></text>
<text x="472.30" y="54.60" font-size="4.4" text-anchor="end" fill="#444" style="stroke:none">10<tspan font-size="2.64" dy="-1.6">1</tspan></text>
<text x="472.30" y="66.00" font-size="4.4" text-anchor="end" fill="#444" style="stroke:none">10<tspan font-size="2.64" dy="-1.6">0</tspan></text>
<text x="471.70" y="72.20" font-size="4.4" text-anchor="end" font-weight="normal" fill="#444" style="stroke:none">0</text>
<line x1="473.10" y1="30.30" x2="474.90" y2="30.30" stroke="#444" stroke-width="0.6"/>
<line x1="473.10" y1="41.60" x2="474.90" y2="41.60" stroke="#444" stroke-width="0.6"/>
<line x1="473.10" y1="53.00" x2="474.90" y2="53.00" stroke="#444" stroke-width="0.6"/>
<line x1="473.10" y1="64.40" x2="474.90" y2="64.40" stroke="#444" stroke-width="0.6"/>
<line x1="473.10" y1="70.60" x2="474.90" y2="70.60" stroke="#444" stroke-width="0.6"/>
<text x="478.37" y="82.50" font-size="4.4" text-anchor="middle" font-weight="normal" fill="#444" style="stroke:none">0</text>
<text x="485.39" y="82.50" font-size="4.4" text-anchor="end" fill="#444" style="stroke:none">10<tspan font-size="2.64" dy="-1.6">1</tspan></text>
<text x="494.49" y="82.50" font-size="4.4" text-anchor="end" fill="#444" style="stroke:none">10<tspan font-size="2.64" dy="-1.6">2</tspan></text>
<text x="503.68" y="82.50" font-size="4.4" text-anchor="end" fill="#444" style="stroke:none">10<tspan font-size="2.64" dy="-1.6">3</tspan></text>
<text x="512.87" y="82.50" font-size="4.4" text-anchor="end" fill="#444" style="stroke:none">10<tspan font-size="2.64" dy="-1.6">4</tspan></text>
<text x="476.70" y="30.50" font-size="4.55" text-anchor="start" font-weight="normal" fill="#2a2a2a">1.02%</text>
<text x="512.30" y="30.50" font-size="4.55" text-anchor="end" font-weight="normal" fill="#2a2a2a">6.37%</text>
<text x="476.70" y="73.80" font-size="4.55" text-anchor="start" font-weight="normal" fill="#2a2a2a">62.8%</text>
<text x="512.30" y="73.80" font-size="4.55" text-anchor="end" font-weight="normal" fill="#2a2a2a">29.8%</text>
<text x="472.30" y="96.20" font-size="4.4" text-anchor="end" fill="#444" style="stroke:none">10<tspan font-size="2.64" dy="-1.6">3</tspan></text>
<text x="472.30" y="107.50" font-size="4.4" text-anchor="end" fill="#444" style="stroke:none">10<tspan font-size="2.64" dy="-1.6">2</tspan></text>
<text x="472.30" y="118.90" font-size="4.4" text-anchor="end" fill="#444" style="stroke:none">10<tspan font-size="2.64" dy="-1.6">1</tspan></text>
<text x="472.30" y="130.30" font-size="4.4" text-anchor="end" fill="#444" style="stroke:none">10<tspan font-size="2.64" dy="-1.6">0</tspan></text>
<text x="471.70" y="136.50" font-size="4.4" text-anchor="end" font-weight="normal" fill="#444" style="stroke:none">0</text>
<line x1="473.10" y1="94.60" x2="474.90" y2="94.60" stroke="#444" stroke-width="0.6"/>
<line x1="473.10" y1="105.90" x2="474.90" y2="105.90" stroke="#444" stroke-width="0.6"/>
<line x1="473.10" y1="117.30" x2="474.90" y2="117.30" stroke="#444" stroke-width="0.6"/>
<line x1="473.10" y1="128.70" x2="474.90" y2="128.70" stroke="#444" stroke-width="0.6"/>
<line x1="473.10" y1="134.90" x2="474.90" y2="134.90" stroke="#444" stroke-width="0.6"/>
<text x="478.37" y="147.40" font-size="4.4" text-anchor="middle" font-weight="normal" fill="#444" style="stroke:none">0</text>
<text x="485.39" y="147.40" font-size="4.4" text-anchor="end" fill="#444" style="stroke:none">10<tspan font-size="2.64" dy="-1.6">1</tspan></text>
<text x="494.49" y="147.40" font-size="4.4" text-anchor="end" fill="#444" style="stroke:none">10<tspan font-size="2.64" dy="-1.6">2</tspan></text>
<text x="503.68" y="147.40" font-size="4.4" text-anchor="end" fill="#444" style="stroke:none">10<tspan font-size="2.64" dy="-1.6">3</tspan></text>
<text x="512.87" y="147.40" font-size="4.4" text-anchor="end" fill="#444" style="stroke:none">10<tspan font-size="2.64" dy="-1.6">4</tspan></text>
<text x="476.70" y="94.80" font-size="4.55" text-anchor="start" font-weight="normal" fill="#2a2a2a">10.6%</text>
<text x="512.30" y="94.80" font-size="4.55" text-anchor="end" font-weight="normal" fill="#2a2a2a">48.6%</text>
<text x="476.70" y="138.70" font-size="4.55" text-anchor="start" font-weight="normal" fill="#2a2a2a">26.8%</text>
<text x="512.30" y="138.70" font-size="4.55" text-anchor="end" font-weight="normal" fill="#2a2a2a">14.0%</text>
<line x1="75.40" y1="130.50" x2="75.40" y2="151.50" stroke="#222" stroke-width="1.0"/>
<line x1="75.40" y1="151.50" x2="98.00" y2="151.50" stroke="#222" stroke-width="1.0"/>
<path d="M75.4,127.8 L73.6,131.8 L77.2,131.8 Z" stroke="none" stroke-width="1" fill="#222"/>
<path d="M100.4,151.5 L96.4,149.7 L96.4,153.3 Z" stroke="none" stroke-width="1" fill="#222"/>
<text x="70.60" y="135.20" font-size="6.2" text-anchor="middle" font-weight="normal" fill="#2a2a2a" textLength="11.6" lengthAdjust="spacingAndGlyphs" transform="rotate(-90 70.6 135.2)">IFNγ</text>
<text x="88.40" y="160.20" font-size="6.6" text-anchor="start" font-weight="normal" fill="#2a2a2a" textLength="18.7" lengthAdjust="spacingAndGlyphs">CD107a</text>
<clipPath id="cp00"><rect x="88.20" y="25.30" width="45.00" height="50.00"/></clipPath><g clip-path="url(#cp00)">
<rect x="112.98" y="57.07" width="0.75" height="0.75" fill="#222"/>
<rect x="104.06" y="48.31" width="0.75" height="0.75" fill="#222"/>
<rect x="98.45" y="57.01" width="0.75" height="0.75" fill="#222"/>
<rect x="111.03" y="49.79" width="0.75" height="0.75" fill="#222"/>
<rect x="103.98" y="55.33" width="0.75" height="0.75" fill="#222"/>
<rect x="114.01" y="58.92" width="0.75" height="0.75" fill="#222"/>
<rect x="108.90" y="54.72" width="0.75" height="0.75" fill="#222"/>
<rect x="101.95" y="52.46" width="0.75" height="0.75" fill="#222"/>
<rect x="111.54" y="56.27" width="0.75" height="0.75" fill="#222"/>
<rect x="119.82" y="55.42" width="0.75" height="0.75" fill="#222"/>
<rect x="112.33" y="52.68" width="0.75" height="0.75" fill="#222"/>
<rect x="112.50" y="50.96" width="0.75" height="0.75" fill="#222"/>
<rect x="101.88" y="52.70" width="0.75" height="0.75" fill="#222"/>
<rect x="108.30" y="51.76" width="0.75" height="0.75" fill="#222"/>
<rect x="106.03" y="52.91" width="0.75" height="0.75" fill="#222"/>
<rect x="107.58" y="54.24" width="0.75" height="0.75" fill="#222"/>
<rect x="99.18" y="58.99" width="0.75" height="0.75" fill="#222"/>
<rect x="110.50" y="52.75" width="0.75" height="0.75" fill="#222"/>
<rect x="109.71" y="54.84" width="0.75" height="0.75" fill="#222"/>
<rect x="104.27" y="48.99" width="0.75" height="0.75" fill="#222"/>
<rect x="106.21" y="52.83" width="0.75" height="0.75" fill="#222"/>
<rect x="110.57" y="54.21" width="0.75" height="0.75" fill="#222"/>
<rect x="101.57" y="53.72" width="0.75" height="0.75" fill="#222"/>
<rect x="109.19" y="49.93" width="0.75" height="0.75" fill="#222"/>
<rect x="114.38" y="53.72" width="0.75" height="0.75" fill="#222"/>
<rect x="107.36" y="54.76" width="0.75" height="0.75" fill="#222"/>
<rect x="98.54" y="54.40" width="0.75" height="0.75" fill="#222"/>
<rect x="100.89" y="55.05" width="0.75" height="0.75" fill="#222"/>
<rect x="101.65" y="55.83" width="0.75" height="0.75" fill="#222"/>
<rect x="103.44" y="52.22" width="0.75" height="0.75" fill="#222"/>
<ellipse cx="100.20" cy="54.15" rx="5.58" ry="3.60" transform="rotate(-30 100.20 54.15)" fill="#666" fill-opacity="0.20"/>
<ellipse cx="98.70" cy="54.69" rx="3.10" ry="2.00" transform="rotate(-30 98.70 54.69)" fill="#111" fill-opacity="0.75"/>
<ellipse cx="101.40" cy="53.72" rx="6.70" ry="4.50" transform="rotate(-30 101.40 53.72)" fill="none" stroke="#111" stroke-width="0.50"/>
<ellipse cx="101.03" cy="53.85" rx="5.80" ry="3.92" transform="rotate(-30 101.03 53.85)" fill="none" stroke="#111" stroke-width="0.56"/>
<ellipse cx="100.65" cy="53.99" rx="4.93" ry="3.36" transform="rotate(-30 100.65 53.99)" fill="none" stroke="#111" stroke-width="0.62"/>
<ellipse cx="100.28" cy="54.12" rx="4.08" ry="2.81" transform="rotate(-30 100.28 54.12)" fill="none" stroke="#111" stroke-width="0.69"/>
<ellipse cx="99.90" cy="54.26" rx="3.26" ry="2.28" transform="rotate(-30 99.90 54.26)" fill="none" stroke="#111" stroke-width="0.75"/>
<ellipse cx="99.53" cy="54.39" rx="2.47" ry="1.77" transform="rotate(-30 99.53 54.39)" fill="none" stroke="#111" stroke-width="0.81"/>
<ellipse cx="99.15" cy="54.53" rx="1.72" ry="1.29" transform="rotate(-30 99.15 54.53)" fill="none" stroke="#111" stroke-width="0.88"/>
<ellipse cx="98.78" cy="54.66" rx="1.04" ry="0.85" transform="rotate(-30 98.78 54.66)" fill="none" stroke="#111" stroke-width="0.94"/>
<ellipse cx="98.40" cy="54.80" rx="0.90" ry="0.60" transform="rotate(-30 98.40 54.80)" fill="#fff"/>
</g>
<line x1="105.40" y1="25.30" x2="105.40" y2="75.30" stroke="#a8a8a8" stroke-width="0.6"/>
<line x1="88.20" y1="50.20" x2="133.20" y2="50.20" stroke="#a8a8a8" stroke-width="0.6"/>
<rect x="88.20" y="25.30" width="45.00" height="50.00" fill="none" stroke="#3a3a3a" stroke-width="1.0"/>
<line x1="89.70" y1="75.30" x2="89.70" y2="76.30" stroke="#555" stroke-width="0.4"/>
<line x1="93.52" y1="75.30" x2="93.52" y2="76.30" stroke="#555" stroke-width="0.4"/>
<line x1="97.34" y1="75.30" x2="97.34" y2="76.30" stroke="#555" stroke-width="0.4"/>
<line x1="101.15" y1="75.30" x2="101.15" y2="76.30" stroke="#555" stroke-width="0.4"/>
<line x1="104.97" y1="75.30" x2="104.97" y2="76.30" stroke="#555" stroke-width="0.4"/>
<line x1="108.79" y1="75.30" x2="108.79" y2="76.30" stroke="#555" stroke-width="0.4"/>
<line x1="112.61" y1="75.30" x2="112.61" y2="76.30" stroke="#555" stroke-width="0.4"/>
<line x1="116.43" y1="75.30" x2="116.43" y2="76.30" stroke="#555" stroke-width="0.4"/>
<line x1="120.25" y1="75.30" x2="120.25" y2="76.30" stroke="#555" stroke-width="0.4"/>
<line x1="124.06" y1="75.30" x2="124.06" y2="76.30" stroke="#555" stroke-width="0.4"/>
<line x1="127.88" y1="75.30" x2="127.88" y2="76.30" stroke="#555" stroke-width="0.4"/>
<line x1="131.70" y1="75.30" x2="131.70" y2="76.30" stroke="#555" stroke-width="0.4"/>
<clipPath id="cp10"><rect x="88.20" y="89.60" width="45.00" height="50.60"/></clipPath><g clip-path="url(#cp10)">
<rect x="115.48" y="122.23" width="0.75" height="0.75" fill="#222"/>
<rect x="113.06" y="115.97" width="0.75" height="0.75" fill="#222"/>
<rect x="104.31" y="115.51" width="0.75" height="0.75" fill="#222"/>
<rect x="112.62" y="113.78" width="0.75" height="0.75" fill="#222"/>
<rect x="110.88" y="118.21" width="0.75" height="0.75" fill="#222"/>
<rect x="128.92" y="116.52" width="0.75" height="0.75" fill="#222"/>
<rect x="111.61" y="116.66" width="0.75" height="0.75" fill="#222"/>
<rect x="110.60" y="114.67" width="0.75" height="0.75" fill="#222"/>
<rect x="99.45" y="114.95" width="0.75" height="0.75" fill="#222"/>
<rect x="114.13" y="119.53" width="0.75" height="0.75" fill="#222"/>
<rect x="111.47" y="119.19" width="0.75" height="0.75" fill="#222"/>
<rect x="109.98" y="116.65" width="0.75" height="0.75" fill="#222"/>
<rect x="114.74" y="118.13" width="0.75" height="0.75" fill="#222"/>
<rect x="114.89" y="118.37" width="0.75" height="0.75" fill="#222"/>
<rect x="107.35" y="116.48" width="0.75" height="0.75" fill="#222"/>
<rect x="103.41" y="118.68" width="0.75" height="0.75" fill="#222"/>
<rect x="114.01" y="112.31" width="0.75" height="0.75" fill="#222"/>
<rect x="106.78" y="120.73" width="0.75" height="0.75" fill="#222"/>
<rect x="120.38" y="109.24" width="0.75" height="0.75" fill="#222"/>
<rect x="120.12" y="116.06" width="0.75" height="0.75" fill="#222"/>
<rect x="102.62" y="117.18" width="0.75" height="0.75" fill="#222"/>
<rect x="106.78" y="120.03" width="0.75" height="0.75" fill="#222"/>
<rect x="119.06" y="116.62" width="0.75" height="0.75" fill="#222"/>
<rect x="108.80" y="112.81" width="0.75" height="0.75" fill="#222"/>
<rect x="109.22" y="111.93" width="0.75" height="0.75" fill="#222"/>
<rect x="106.89" y="113.48" width="0.75" height="0.75" fill="#222"/>
<rect x="109.77" y="112.69" width="0.75" height="0.75" fill="#222"/>
<rect x="107.36" y="119.53" width="0.75" height="0.75" fill="#222"/>
<rect x="114.00" y="117.44" width="0.75" height="0.75" fill="#222"/>
<rect x="106.38" y="122.97" width="0.75" height="0.75" fill="#222"/>
<rect x="122.27" y="117.36" width="0.75" height="0.75" fill="#222"/>
<rect x="120.52" y="122.43" width="0.75" height="0.75" fill="#222"/>
<rect x="119.08" y="116.65" width="0.75" height="0.75" fill="#222"/>
<rect x="118.72" y="115.18" width="0.75" height="0.75" fill="#222"/>
<rect x="103.29" y="120.24" width="0.75" height="0.75" fill="#222"/>
<rect x="118.00" y="119.72" width="0.75" height="0.75" fill="#222"/>
<rect x="107.37" y="116.12" width="0.75" height="0.75" fill="#222"/>
<rect x="112.22" y="115.91" width="0.75" height="0.75" fill="#222"/>
<rect x="113.94" y="114.42" width="0.75" height="0.75" fill="#222"/>
<rect x="112.72" y="120.75" width="0.75" height="0.75" fill="#222"/>
<ellipse cx="99.58" cy="118.76" rx="5.85" ry="4.14" transform="rotate(-35 99.58 118.76)" fill="#666" fill-opacity="0.20"/>
<ellipse cx="98.68" cy="119.21" rx="3.25" ry="2.30" transform="rotate(-35 98.68 119.21)" fill="#111" fill-opacity="0.75"/>
<ellipse cx="100.30" cy="118.40" rx="7.00" ry="5.10" transform="rotate(-35 100.30 118.40)" fill="none" stroke="#111" stroke-width="0.50"/>
<ellipse cx="100.08" cy="118.51" rx="6.06" ry="4.43" transform="rotate(-35 100.08 118.51)" fill="none" stroke="#111" stroke-width="0.56"/>
<ellipse cx="99.85" cy="118.62" rx="5.14" ry="3.79" transform="rotate(-35 99.85 118.62)" fill="none" stroke="#111" stroke-width="0.62"/>
<ellipse cx="99.62" cy="118.74" rx="4.25" ry="3.15" transform="rotate(-35 99.62 118.74)" fill="none" stroke="#111" stroke-width="0.69"/>
<ellipse cx="99.40" cy="118.85" rx="3.39" ry="2.54" transform="rotate(-35 99.40 118.85)" fill="none" stroke="#111" stroke-width="0.75"/>
<ellipse cx="99.17" cy="118.96" rx="2.56" ry="1.96" transform="rotate(-35 99.17 118.96)" fill="none" stroke="#111" stroke-width="0.81"/>
<ellipse cx="98.95" cy="119.08" rx="1.78" ry="1.41" transform="rotate(-35 98.95 119.08)" fill="none" stroke="#111" stroke-width="0.88"/>
<ellipse cx="98.72" cy="119.19" rx="1.07" ry="0.90" transform="rotate(-35 98.72 119.19)" fill="none" stroke="#111" stroke-width="0.94"/>
<ellipse cx="98.50" cy="119.30" rx="0.90" ry="0.60" transform="rotate(-35 98.50 119.30)" fill="#fff"/>
<ellipse cx="112.00" cy="118.50" rx="7.00" ry="3.50" transform="rotate(-10 112.00 118.50)" fill="none" stroke="#333" stroke-width="0.50"/>
<ellipse cx="112.00" cy="118.50" rx="5.14" ry="2.64" transform="rotate(-10 112.00 118.50)" fill="none" stroke="#333" stroke-width="0.62"/>
<ellipse cx="112.00" cy="118.50" rx="3.39" ry="1.83" transform="rotate(-10 112.00 118.50)" fill="none" stroke="#333" stroke-width="0.75"/>
<ellipse cx="112.00" cy="118.50" rx="1.78" ry="1.09" transform="rotate(-10 112.00 118.50)" fill="none" stroke="#333" stroke-width="0.88"/>
</g>
<line x1="105.40" y1="89.60" x2="105.40" y2="140.20" stroke="#a8a8a8" stroke-width="0.6"/>
<line x1="88.20" y1="114.80" x2="133.20" y2="114.80" stroke="#a8a8a8" stroke-width="0.6"/>
<rect x="88.20" y="89.60" width="45.00" height="50.60" fill="none" stroke="#3a3a3a" stroke-width="1.0"/>
<line x1="89.70" y1="140.20" x2="89.70" y2="141.20" stroke="#555" stroke-width="0.4"/>
<line x1="93.52" y1="140.20" x2="93.52" y2="141.20" stroke="#555" stroke-width="0.4"/>
<line x1="97.34" y1="140.20" x2="97.34" y2="141.20" stroke="#555" stroke-width="0.4"/>
<line x1="101.15" y1="140.20" x2="101.15" y2="141.20" stroke="#555" stroke-width="0.4"/>
<line x1="104.97" y1="140.20" x2="104.97" y2="141.20" stroke="#555" stroke-width="0.4"/>
<line x1="108.79" y1="140.20" x2="108.79" y2="141.20" stroke="#555" stroke-width="0.4"/>
<line x1="112.61" y1="140.20" x2="112.61" y2="141.20" stroke="#555" stroke-width="0.4"/>
<line x1="116.43" y1="140.20" x2="116.43" y2="141.20" stroke="#555" stroke-width="0.4"/>
<line x1="120.25" y1="140.20" x2="120.25" y2="141.20" stroke="#555" stroke-width="0.4"/>
<line x1="124.06" y1="140.20" x2="124.06" y2="141.20" stroke="#555" stroke-width="0.4"/>
<line x1="127.88" y1="140.20" x2="127.88" y2="141.20" stroke="#555" stroke-width="0.4"/>
<line x1="131.70" y1="140.20" x2="131.70" y2="141.20" stroke="#555" stroke-width="0.4"/>
<clipPath id="cp01"><rect x="146.20" y="25.30" width="45.80" height="50.00"/></clipPath><g clip-path="url(#cp01)">
<rect x="185.49" y="47.39" width="0.75" height="0.75" fill="#222"/>
<rect x="187.20" y="38.58" width="0.75" height="0.75" fill="#222"/>
<rect x="168.20" y="42.07" width="0.75" height="0.75" fill="#222"/>
<rect x="185.94" y="61.12" width="0.75" height="0.75" fill="#222"/>
<rect x="166.57" y="43.71" width="0.75" height="0.75" fill="#222"/>
<rect x="157.95" y="41.05" width="0.75" height="0.75" fill="#222"/>
<rect x="182.01" y="55.92" width="0.75" height="0.75" fill="#222"/>
<rect x="165.70" y="57.43" width="0.75" height="0.75" fill="#222"/>
<rect x="169.04" y="44.59" width="0.75" height="0.75" fill="#222"/>
<rect x="158.43" y="52.99" width="0.75" height="0.75" fill="#222"/>
<rect x="171.75" y="37.79" width="0.75" height="0.75" fill="#222"/>
<rect x="159.37" y="41.43" width="0.75" height="0.75" fill="#222"/>
<rect x="173.36" y="38.61" width="0.75" height="0.75" fill="#222"/>
<rect x="161.14" y="42.07" width="0.75" height="0.75" fill="#222"/>
<rect x="161.81" y="46.15" width="0.75" height="0.75" fill="#222"/>
<rect x="164.09" y="51.37" width="0.75" height="0.75" fill="#222"/>
<rect x="162.69" y="55.79" width="0.75" height="0.75" fill="#222"/>
<rect x="172.51" y="60.00" width="0.75" height="0.75" fill="#222"/>
<rect x="163.69" y="45.31" width="0.75" height="0.75" fill="#222"/>
<rect x="177.09" y="36.40" width="0.75" height="0.75" fill="#222"/>
<rect x="175.07" y="44.95" width="0.75" height="0.75" fill="#222"/>
<rect x="181.87" y="53.35" width="0.75" height="0.75" fill="#222"/>
<rect x="182.86" y="48.75" width="0.75" height="0.75" fill="#222"/>
<rect x="184.49" y="59.87" width="0.75" height="0.75" fill="#222"/>
<rect x="167.09" y="41.52" width="0.75" height="0.75" fill="#222"/>
<rect x="176.34" y="56.59" width="0.75" height="0.75" fill="#222"/>
<rect x="161.45" y="34.89" width="0.75" height="0.75" fill="#222"/>
<rect x="155.22" y="43.05" width="0.75" height="0.75" fill="#222"/>
<rect x="171.71" y="51.15" width="0.75" height="0.75" fill="#222"/>
<rect x="186.79" y="50.31" width="0.75" height="0.75" fill="#222"/>
<rect x="178.17" y="33.04" width="0.75" height="0.75" fill="#222"/>
<rect x="159.62" y="45.28" width="0.75" height="0.75" fill="#222"/>
<rect x="172.44" y="32.78" width="0.75" height="0.75" fill="#222"/>
<rect x="174.56" y="55.46" width="0.75" height="0.75" fill="#222"/>
<rect x="167.01" y="36.72" width="0.75" height="0.75" fill="#222"/>
<rect x="179.92" y="55.18" width="0.75" height="0.75" fill="#222"/>
<rect x="172.55" y="44.13" width="0.75" height="0.75" fill="#222"/>
<rect x="180.98" y="58.38" width="0.75" height="0.75" fill="#222"/>
<rect x="179.74" y="54.81" width="0.75" height="0.75" fill="#222"/>
<rect x="167.30" y="43.10" width="0.75" height="0.75" fill="#222"/>
<rect x="158.19" y="62.17" width="0.75" height="0.75" fill="#222"/>
<rect x="161.24" y="61.42" width="0.75" height="0.75" fill="#222"/>
<rect x="157.60" y="69.71" width="0.75" height="0.75" fill="#222"/>
<rect x="176.96" y="53.49" width="0.75" height="0.75" fill="#222"/>
<rect x="169.26" y="32.24" width="0.75" height="0.75" fill="#222"/>
<path d="M157.00,37.00 L158.00,33.50 L163.00,33.00 L171.00,32.80 L180.00,32.50 L185.50,35.00 L185.80,45.00 L185.20,56.00 L182.00,59.80 L172.00,60.00 L166.00,59.50 L161.00,57.00 L158.50,51.00 L156.50,45.00 Z" stroke="#333" stroke-width="0.55" fill="#888" fill-opacity="0.28"/>
<path d="M158.40,37.90 L159.30,34.75 L163.80,34.30 L171.00,34.12 L179.10,33.85 L184.05,36.10 L184.32,45.10 L183.78,55.00 L180.90,58.42 L171.90,58.60 L166.50,58.15 L162.00,55.90 L159.75,50.50 L157.95,45.10 Z" stroke="#555" stroke-width="0.45" fill="none"/>
<path d="M159.80,38.80 L160.60,36.00 L164.60,35.60 L171.00,35.44 L178.20,35.20 L182.60,37.20 L182.84,45.20 L182.36,54.00 L179.80,57.04 L171.80,57.20 L167.00,56.80 L163.00,54.80 L161.00,50.00 L159.40,45.20 Z" stroke="#555" stroke-width="0.45" fill="none"/>
<path d="M161.20,39.70 L161.90,37.25 L165.40,36.90 L171.00,36.76 L177.30,36.55 L181.15,38.30 L181.36,45.30 L180.94,53.00 L178.70,55.66 L171.70,55.80 L167.50,55.45 L164.00,53.70 L162.25,49.50 L160.85,45.30 Z" stroke="#555" stroke-width="0.45" fill="none"/>
<path d="M179.5,34.5 Q184,36 183.8,45 L183.3,57.5 Q180,58.8 176,58.5" stroke="#1a1a1a" stroke-width="1.5" fill="none"/>
<path d="M168,34 Q176,33.5 182,35" stroke="#333" stroke-width="1.0" fill="none"/>
<ellipse cx="166.60" cy="42.30" rx="3.60" ry="6.80" transform="rotate(0 166.60 42.30)" fill="none" stroke="#444" stroke-width="0.45"/>
<ellipse cx="166.60" cy="42.30" rx="2.88" ry="5.44" transform="rotate(0 166.60 42.30)" fill="none" stroke="#444" stroke-width="0.45"/>
<ellipse cx="166.60" cy="42.30" rx="2.16" ry="4.08" transform="rotate(0 166.60 42.30)" fill="none" stroke="#444" stroke-width="0.45"/>
<ellipse cx="166.60" cy="42.30" rx="1.51" ry="3.40" transform="rotate(0 166.60 42.30)" fill="#fff"/>
<ellipse cx="175.70" cy="43.20" rx="3.20" ry="6.00" transform="rotate(0 175.70 43.20)" fill="none" stroke="#444" stroke-width="0.45"/>
<ellipse cx="175.70" cy="43.20" rx="2.56" ry="4.80" transform="rotate(0 175.70 43.20)" fill="none" stroke="#444" stroke-width="0.45"/>
<ellipse cx="175.70" cy="43.20" rx="1.92" ry="3.60" transform="rotate(0 175.70 43.20)" fill="none" stroke="#444" stroke-width="0.45"/>
<ellipse cx="175.70" cy="43.20" rx="1.34" ry="3.00" transform="rotate(0 175.70 43.20)" fill="#fff"/>
<ellipse cx="159.40" cy="53.80" rx="7.40" ry="3.30" transform="rotate(-37 159.40 53.80)" fill="#999" stroke="#000" stroke-width="1.5"/>
<ellipse cx="159.40" cy="53.80" rx="5.20" ry="1.70" transform="rotate(-37 159.40 53.80)" fill="none" stroke="#222" stroke-width="0.6"/>
<ellipse cx="159.60" cy="53.60" rx="3.60" ry="0.80" transform="rotate(-37 159.60 53.60)" fill="#fff"/>
</g>
<line x1="163.70" y1="25.30" x2="163.70" y2="75.30" stroke="#a8a8a8" stroke-width="0.6"/>
<line x1="146.20" y1="50.20" x2="192.00" y2="50.20" stroke="#a8a8a8" stroke-width="0.6"/>
<rect x="146.20" y="25.30" width="45.80" height="50.00" fill="none" stroke="#3a3a3a" stroke-width="1.0"/>
<line x1="147.70" y1="75.30" x2="147.70" y2="76.30" stroke="#555" stroke-width="0.4"/>
<line x1="151.59" y1="75.30" x2="151.59" y2="76.30" stroke="#555" stroke-width="0.4"/>
<line x1="155.48" y1="75.30" x2="155.48" y2="76.30" stroke="#555" stroke-width="0.4"/>
<line x1="159.37" y1="75.30" x2="159.37" y2="76.30" stroke="#555" stroke-width="0.4"/>
<line x1="163.26" y1="75.30" x2="163.26" y2="76.30" stroke="#555" stroke-width="0.4"/>
<line x1="167.15" y1="75.30" x2="167.15" y2="76.30" stroke="#555" stroke-width="0.4"/>
<line x1="171.05" y1="75.30" x2="171.05" y2="76.30" stroke="#555" stroke-width="0.4"/>
<line x1="174.94" y1="75.30" x2="174.94" y2="76.30" stroke="#555" stroke-width="0.4"/>
<line x1="178.83" y1="75.30" x2="178.83" y2="76.30" stroke="#555" stroke-width="0.4"/>
<line x1="182.72" y1="75.30" x2="182.72" y2="76.30" stroke="#555" stroke-width="0.4"/>
<line x1="186.61" y1="75.30" x2="186.61" y2="76.30" stroke="#555" stroke-width="0.4"/>
<line x1="190.50" y1="75.30" x2="190.50" y2="76.30" stroke="#555" stroke-width="0.4"/>
<clipPath id="cp11"><rect x="146.20" y="89.60" width="45.80" height="50.60"/></clipPath><g clip-path="url(#cp11)">
<rect x="175.88" y="112.60" width="0.75" height="0.75" fill="#222"/>
<rect x="171.64" y="107.20" width="0.75" height="0.75" fill="#222"/>
<rect x="151.81" y="108.73" width="0.75" height="0.75" fill="#222"/>
<rect x="169.46" y="119.53" width="0.75" height="0.75" fill="#222"/>
<rect x="166.57" y="114.93" width="0.75" height="0.75" fill="#222"/>
<rect x="167.27" y="96.57" width="0.75" height="0.75" fill="#222"/>
<rect x="155.93" y="123.40" width="0.75" height="0.75" fill="#222"/>
<rect x="158.66" y="103.42" width="0.75" height="0.75" fill="#222"/>
<rect x="157.62" y="112.08" width="0.75" height="0.75" fill="#222"/>
<rect x="188.44" y="113.79" width="0.75" height="0.75" fill="#222"/>
<rect x="171.89" y="124.29" width="0.75" height="0.75" fill="#222"/>
<rect x="150.86" y="122.79" width="0.75" height="0.75" fill="#222"/>
<rect x="178.43" y="107.62" width="0.75" height="0.75" fill="#222"/>
<rect x="176.13" y="126.16" width="0.75" height="0.75" fill="#222"/>
<rect x="186.04" y="117.79" width="0.75" height="0.75" fill="#222"/>
<rect x="186.90" y="114.73" width="0.75" height="0.75" fill="#222"/>
<rect x="169.04" y="104.21" width="0.75" height="0.75" fill="#222"/>
<rect x="185.76" y="116.83" width="0.75" height="0.75" fill="#222"/>
<rect x="171.74" y="122.93" width="0.75" height="0.75" fill="#222"/>
<rect x="175.41" y="126.08" width="0.75" height="0.75" fill="#222"/>
<rect x="175.86" y="134.88" width="0.75" height="0.75" fill="#222"/>
<rect x="173.58" y="132.88" width="0.75" height="0.75" fill="#222"/>
<rect x="162.32" y="111.67" width="0.75" height="0.75" fill="#222"/>
<rect x="176.80" y="124.25" width="0.75" height="0.75" fill="#222"/>
<rect x="175.81" y="118.64" width="0.75" height="0.75" fill="#222"/>
<rect x="187.23" y="107.72" width="0.75" height="0.75" fill="#222"/>
<rect x="172.94" y="112.30" width="0.75" height="0.75" fill="#222"/>
<rect x="176.62" y="114.45" width="0.75" height="0.75" fill="#222"/>
<rect x="168.79" y="114.72" width="0.75" height="0.75" fill="#222"/>
<rect x="179.47" y="108.97" width="0.75" height="0.75" fill="#222"/>
<rect x="159.75" y="112.84" width="0.75" height="0.75" fill="#222"/>
<rect x="166.25" y="107.15" width="0.75" height="0.75" fill="#222"/>
<rect x="180.95" y="96.12" width="0.75" height="0.75" fill="#222"/>
<rect x="181.34" y="125.40" width="0.75" height="0.75" fill="#222"/>
<rect x="176.15" y="115.56" width="0.75" height="0.75" fill="#222"/>
<rect x="169.06" y="122.51" width="0.75" height="0.75" fill="#222"/>
<rect x="177.03" y="123.76" width="0.75" height="0.75" fill="#222"/>
<rect x="176.81" y="125.08" width="0.75" height="0.75" fill="#222"/>
<rect x="173.50" y="104.60" width="0.75" height="0.75" fill="#222"/>
<rect x="161.43" y="133.30" width="0.75" height="0.75" fill="#222"/>
<rect x="172.94" y="132.58" width="0.75" height="0.75" fill="#222"/>
<rect x="160.76" y="114.12" width="0.75" height="0.75" fill="#222"/>
<rect x="152.66" y="111.82" width="0.75" height="0.75" fill="#222"/>
<rect x="153.8" y="97.7" width="33.5" height="27.7" rx="7" fill="#777" fill-opacity="0.38" stroke="#222" stroke-width="0.7"/>
<rect x="155.8" y="99.7" width="29.5" height="23.7" rx="6" fill="none" stroke="#444" stroke-width="0.5"/>
<rect x="158" y="101.5" width="25" height="19" rx="5" fill="none" stroke="#555" stroke-width="0.5"/>
<ellipse cx="167.00" cy="106.30" rx="5.70" ry="4.50" transform="rotate(15 167.00 106.30)" fill="none" stroke="#111" stroke-width="0.60"/>
<ellipse cx="167.00" cy="106.30" rx="4.21" ry="3.36" transform="rotate(15 167.00 106.30)" fill="none" stroke="#111" stroke-width="0.75"/>
<ellipse cx="167.00" cy="106.30" rx="2.81" ry="2.28" transform="rotate(15 167.00 106.30)" fill="none" stroke="#111" stroke-width="0.90"/>
<ellipse cx="167.00" cy="106.30" rx="1.53" ry="1.29" transform="rotate(15 167.00 106.30)" fill="none" stroke="#111" stroke-width="1.05"/>
<ellipse cx="167.00" cy="106.30" rx="2.50" ry="1.80" transform="rotate(15 167.00 106.30)" fill="#fff"/>
<ellipse cx="175.20" cy="108.70" rx="4.50" ry="3.70" transform="rotate(15 175.20 108.70)" fill="none" stroke="#222" stroke-width="0.60"/>
<ellipse cx="175.20" cy="108.70" rx="2.99" ry="2.49" transform="rotate(15 175.20 108.70)" fill="none" stroke="#222" stroke-width="0.80"/>
<ellipse cx="175.20" cy="108.70" rx="1.61" ry="1.38" transform="rotate(15 175.20 108.70)" fill="none" stroke="#222" stroke-width="1.00"/>
<ellipse cx="175.20" cy="108.70" rx="1.80" ry="1.40" transform="rotate(15 175.20 108.70)" fill="#fff"/>
<path d="M156.5,121.5 Q159,114.5 168,115.5 Q177,116 182,118.5 Q177,120.5 169,121.8 Q162,123.5 156.5,121.5 Z" stroke="#000" stroke-width="1.7" fill="#ccc"/>
<path d="M159,120.5 Q163,118 170,118 Q176,118.5 179,118.8" stroke="#fff" stroke-width="1.0" fill="none"/>
</g>
<line x1="163.70" y1="89.60" x2="163.70" y2="140.20" stroke="#a8a8a8" stroke-width="0.6"/>
<line x1="146.20" y1="114.80" x2="192.00" y2="114.80" stroke="#a8a8a8" stroke-width="0.6"/>
<rect x="146.20" y="89.60" width="45.80" height="50.60" fill="none" stroke="#3a3a3a" stroke-width="1.0"/>
<line x1="147.70" y1="140.20" x2="147.70" y2="141.20" stroke="#555" stroke-width="0.4"/>
<line x1="151.59" y1="140.20" x2="151.59" y2="141.20" stroke="#555" stroke-width="0.4"/>
<line x1="155.48" y1="140.20" x2="155.48" y2="141.20" stroke="#555" stroke-width="0.4"/>
<line x1="159.37" y1="140.20" x2="159.37" y2="141.20" stroke="#555" stroke-width="0.4"/>
<line x1="163.26" y1="140.20" x2="163.26" y2="141.20" stroke="#555" stroke-width="0.4"/>
<line x1="167.15" y1="140.20" x2="167.15" y2="141.20" stroke="#555" stroke-width="0.4"/>
<line x1="171.05" y1="140.20" x2="171.05" y2="141.20" stroke="#555" stroke-width="0.4"/>
<line x1="174.94" y1="140.20" x2="174.94" y2="141.20" stroke="#555" stroke-width="0.4"/>
<line x1="178.83" y1="140.20" x2="178.83" y2="141.20" stroke="#555" stroke-width="0.4"/>
<line x1="182.72" y1="140.20" x2="182.72" y2="141.20" stroke="#555" stroke-width="0.4"/>
<line x1="186.61" y1="140.20" x2="186.61" y2="141.20" stroke="#555" stroke-width="0.4"/>
<line x1="190.50" y1="140.20" x2="190.50" y2="141.20" stroke="#555" stroke-width="0.4"/>
<clipPath id="cp02"><rect x="204.40" y="25.30" width="46.60" height="50.00"/></clipPath><g clip-path="url(#cp02)">
<rect x="227.55" y="53.49" width="0.75" height="0.75" fill="#222"/>
<rect x="235.34" y="51.66" width="0.75" height="0.75" fill="#222"/>
<rect x="230.75" y="51.14" width="0.75" height="0.75" fill="#222"/>
<rect x="223.88" y="52.37" width="0.75" height="0.75" fill="#222"/>
<rect x="232.45" y="46.80" width="0.75" height="0.75" fill="#222"/>
<rect x="232.70" y="52.67" width="0.75" height="0.75" fill="#222"/>
<rect x="230.32" y="57.83" width="0.75" height="0.75" fill="#222"/>
<rect x="226.76" y="54.27" width="0.75" height="0.75" fill="#222"/>
<rect x="231.33" y="50.21" width="0.75" height="0.75" fill="#222"/>
<rect x="232.31" y="47.19" width="0.75" height="0.75" fill="#222"/>
<rect x="223.45" y="54.17" width="0.75" height="0.75" fill="#222"/>
<rect x="234.72" y="53.97" width="0.75" height="0.75" fill="#222"/>
<rect x="229.59" y="53.25" width="0.75" height="0.75" fill="#222"/>
<rect x="225.45" y="60.27" width="0.75" height="0.75" fill="#222"/>
<rect x="220.01" y="52.04" width="0.75" height="0.75" fill="#222"/>
<rect x="241.62" y="46.18" width="0.75" height="0.75" fill="#222"/>
<rect x="230.28" y="49.27" width="0.75" height="0.75" fill="#222"/>
<rect x="227.61" y="58.64" width="0.75" height="0.75" fill="#222"/>
<rect x="226.65" y="51.33" width="0.75" height="0.75" fill="#222"/>
<rect x="225.77" y="46.38" width="0.75" height="0.75" fill="#222"/>
<rect x="226.22" y="43.90" width="0.75" height="0.75" fill="#222"/>
<rect x="221.56" y="45.21" width="0.75" height="0.75" fill="#222"/>
<rect x="232.65" y="48.81" width="0.75" height="0.75" fill="#222"/>
<rect x="230.63" y="45.86" width="0.75" height="0.75" fill="#222"/>
<rect x="223.69" y="49.23" width="0.75" height="0.75" fill="#222"/>
<rect x="231.92" y="52.06" width="0.75" height="0.75" fill="#222"/>
<rect x="221.09" y="56.45" width="0.75" height="0.75" fill="#222"/>
<rect x="235.16" y="49.50" width="0.75" height="0.75" fill="#222"/>
<rect x="240.59" y="53.42" width="0.75" height="0.75" fill="#222"/>
<rect x="230.55" y="52.86" width="0.75" height="0.75" fill="#222"/>
<rect x="226.83" y="49.86" width="0.75" height="0.75" fill="#222"/>
<rect x="225.38" y="57.66" width="0.75" height="0.75" fill="#222"/>
<rect x="219.82" y="50.26" width="0.75" height="0.75" fill="#222"/>
<rect x="227.55" y="53.47" width="0.75" height="0.75" fill="#222"/>
<rect x="224.08" y="46.17" width="0.75" height="0.75" fill="#222"/>
<rect x="233.61" y="53.59" width="0.75" height="0.75" fill="#222"/>
<rect x="230.94" y="57.79" width="0.75" height="0.75" fill="#222"/>
<rect x="229.00" y="53.64" width="0.75" height="0.75" fill="#222"/>
<rect x="231.88" y="58.00" width="0.75" height="0.75" fill="#222"/>
<rect x="240.59" y="50.95" width="0.75" height="0.75" fill="#222"/>
<ellipse cx="214.90" cy="54.26" rx="5.40" ry="3.78" transform="rotate(-40 214.90 54.26)" fill="#666" fill-opacity="0.20"/>
<ellipse cx="214.15" cy="54.71" rx="3.00" ry="2.10" transform="rotate(-40 214.15 54.71)" fill="#111" fill-opacity="0.75"/>
<ellipse cx="215.50" cy="53.90" rx="6.50" ry="4.70" transform="rotate(-40 215.50 53.90)" fill="none" stroke="#111" stroke-width="0.50"/>
<ellipse cx="215.31" cy="54.01" rx="5.63" ry="4.09" transform="rotate(-40 215.31 54.01)" fill="none" stroke="#111" stroke-width="0.56"/>
<ellipse cx="215.12" cy="54.12" rx="4.79" ry="3.50" transform="rotate(-40 215.12 54.12)" fill="none" stroke="#111" stroke-width="0.62"/>
<ellipse cx="214.94" cy="54.24" rx="3.96" ry="2.92" transform="rotate(-40 214.94 54.24)" fill="none" stroke="#111" stroke-width="0.69"/>
<ellipse cx="214.75" cy="54.35" rx="3.17" ry="2.37" transform="rotate(-40 214.75 54.35)" fill="none" stroke="#111" stroke-width="0.75"/>
<ellipse cx="214.56" cy="54.46" rx="2.40" ry="1.83" transform="rotate(-40 214.56 54.46)" fill="none" stroke="#111" stroke-width="0.81"/>
<ellipse cx="214.38" cy="54.57" rx="1.69" ry="1.33" transform="rotate(-40 214.38 54.57)" fill="none" stroke="#111" stroke-width="0.88"/>
<ellipse cx="214.19" cy="54.69" rx="1.03" ry="0.87" transform="rotate(-40 214.19 54.69)" fill="none" stroke="#111" stroke-width="0.94"/>
<ellipse cx="214.00" cy="54.80" rx="0.90" ry="0.60" transform="rotate(-40 214.00 54.80)" fill="#fff"/>
<ellipse cx="224.00" cy="52.00" rx="2.70" ry="2.50" transform="rotate(0 224.00 52.00)" fill="none" stroke="#333" stroke-width="0.45"/>
<ellipse cx="224.00" cy="52.00" rx="1.87" ry="1.74" transform="rotate(0 224.00 52.00)" fill="none" stroke="#333" stroke-width="0.60"/>
<ellipse cx="224.00" cy="52.00" rx="1.11" ry="1.05" transform="rotate(0 224.00 52.00)" fill="none" stroke="#333" stroke-width="0.75"/>
</g>
<line x1="221.00" y1="25.30" x2="221.00" y2="75.30" stroke="#a8a8a8" stroke-width="0.6"/>
<line x1="204.40" y1="50.20" x2="251.00" y2="50.20" stroke="#a8a8a8" stroke-width="0.6"/>
<rect x="204.40" y="25.30" width="46.60" height="50.00" fill="none" stroke="#3a3a3a" stroke-width="1.0"/>
<line x1="205.90" y1="75.30" x2="205.90" y2="76.30" stroke="#555" stroke-width="0.4"/>
<line x1="209.86" y1="75.30" x2="209.86" y2="76.30" stroke="#555" stroke-width="0.4"/>
<line x1="213.83" y1="75.30" x2="213.83" y2="76.30" stroke="#555" stroke-width="0.4"/>
<line x1="217.79" y1="75.30" x2="217.79" y2="76.30" stroke="#555" stroke-width="0.4"/>
<line x1="221.75" y1="75.30" x2="221.75" y2="76.30" stroke="#555" stroke-width="0.4"/>
<line x1="225.72" y1="75.30" x2="225.72" y2="76.30" stroke="#555" stroke-width="0.4"/>
<line x1="229.68" y1="75.30" x2="229.68" y2="76.30" stroke="#555" stroke-width="0.4"/>
<line x1="233.65" y1="75.30" x2="233.65" y2="76.30" stroke="#555" stroke-width="0.4"/>
<line x1="237.61" y1="75.30" x2="237.61" y2="76.30" stroke="#555" stroke-width="0.4"/>
<line x1="241.57" y1="75.30" x2="241.57" y2="76.30" stroke="#555" stroke-width="0.4"/>
<line x1="245.54" y1="75.30" x2="245.54" y2="76.30" stroke="#555" stroke-width="0.4"/>
<line x1="249.50" y1="75.30" x2="249.50" y2="76.30" stroke="#555" stroke-width="0.4"/>
<clipPath id="cp12"><rect x="204.40" y="89.60" width="46.60" height="50.60"/></clipPath><g clip-path="url(#cp12)">
<rect x="243.81" y="115.84" width="0.75" height="0.75" fill="#222"/>
<rect x="230.01" y="118.23" width="0.75" height="0.75" fill="#222"/>
<rect x="235.48" y="111.60" width="0.75" height="0.75" fill="#222"/>
<rect x="245.03" y="110.77" width="0.75" height="0.75" fill="#222"/>
<rect x="237.14" y="114.03" width="0.75" height="0.75" fill="#222"/>
<rect x="236.22" y="117.10" width="0.75" height="0.75" fill="#222"/>
<rect x="229.02" y="116.42" width="0.75" height="0.75" fill="#222"/>
<rect x="232.64" y="120.01" width="0.75" height="0.75" fill="#222"/>
<rect x="226.98" y="119.72" width="0.75" height="0.75" fill="#222"/>
<rect x="231.00" y="120.09" width="0.75" height="0.75" fill="#222"/>
<rect x="225.50" y="119.08" width="0.75" height="0.75" fill="#222"/>
<rect x="242.36" y="121.71" width="0.75" height="0.75" fill="#222"/>
<rect x="232.51" y="115.74" width="0.75" height="0.75" fill="#222"/>
<rect x="229.32" y="118.36" width="0.75" height="0.75" fill="#222"/>
<rect x="233.11" y="114.11" width="0.75" height="0.75" fill="#222"/>
<rect x="226.04" y="117.86" width="0.75" height="0.75" fill="#222"/>
<rect x="230.87" y="123.18" width="0.75" height="0.75" fill="#222"/>
<rect x="236.35" y="112.06" width="0.75" height="0.75" fill="#222"/>
<rect x="233.36" y="118.18" width="0.75" height="0.75" fill="#222"/>
<rect x="235.82" y="116.05" width="0.75" height="0.75" fill="#222"/>
<rect x="234.01" y="108.63" width="0.75" height="0.75" fill="#222"/>
<rect x="232.01" y="111.25" width="0.75" height="0.75" fill="#222"/>
<rect x="229.36" y="114.05" width="0.75" height="0.75" fill="#222"/>
<rect x="231.29" y="113.05" width="0.75" height="0.75" fill="#222"/>
<rect x="245.44" y="115.21" width="0.75" height="0.75" fill="#222"/>
<rect x="227.56" y="125.18" width="0.75" height="0.75" fill="#222"/>
<rect x="230.86" y="112.75" width="0.75" height="0.75" fill="#222"/>
<rect x="231.33" y="113.06" width="0.75" height="0.75" fill="#222"/>
<rect x="235.59" y="112.76" width="0.75" height="0.75" fill="#222"/>
<rect x="230.93" y="113.78" width="0.75" height="0.75" fill="#222"/>
<rect x="240.25" y="121.31" width="0.75" height="0.75" fill="#222"/>
<rect x="235.59" y="117.26" width="0.75" height="0.75" fill="#222"/>
<rect x="233.56" y="120.15" width="0.75" height="0.75" fill="#222"/>
<rect x="241.66" y="106.89" width="0.75" height="0.75" fill="#222"/>
<rect x="240.43" y="103.40" width="0.75" height="0.75" fill="#222"/>
<rect x="231.30" y="110.91" width="0.75" height="0.75" fill="#222"/>
<rect x="227.61" y="113.44" width="0.75" height="0.75" fill="#222"/>
<rect x="234.91" y="116.18" width="0.75" height="0.75" fill="#222"/>
<rect x="225.32" y="119.05" width="0.75" height="0.75" fill="#222"/>
<rect x="232.77" y="114.12" width="0.75" height="0.75" fill="#222"/>
<ellipse cx="215.58" cy="118.98" rx="6.48" ry="4.32" transform="rotate(-40 215.58 118.98)" fill="#666" fill-opacity="0.20"/>
<ellipse cx="214.68" cy="119.58" rx="3.60" ry="2.40" transform="rotate(-40 214.68 119.58)" fill="#111" fill-opacity="0.75"/>
<ellipse cx="216.30" cy="118.50" rx="7.70" ry="5.30" transform="rotate(-40 216.30 118.50)" fill="none" stroke="#222" stroke-width="0.45"/>
<ellipse cx="216.07" cy="118.65" rx="6.66" ry="4.61" transform="rotate(-40 216.07 118.65)" fill="none" stroke="#222" stroke-width="0.51"/>
<ellipse cx="215.85" cy="118.80" rx="5.64" ry="3.93" transform="rotate(-40 215.85 118.80)" fill="none" stroke="#222" stroke-width="0.56"/>
<ellipse cx="215.62" cy="118.95" rx="4.65" ry="3.27" transform="rotate(-40 215.62 118.95)" fill="none" stroke="#222" stroke-width="0.62"/>
<ellipse cx="215.40" cy="119.10" rx="3.70" ry="2.63" transform="rotate(-40 215.40 119.10)" fill="none" stroke="#222" stroke-width="0.68"/>
<ellipse cx="215.18" cy="119.25" rx="2.79" ry="2.02" transform="rotate(-40 215.18 119.25)" fill="none" stroke="#222" stroke-width="0.73"/>
<ellipse cx="214.95" cy="119.40" rx="1.92" ry="1.45" transform="rotate(-40 214.95 119.40)" fill="none" stroke="#222" stroke-width="0.79"/>
<ellipse cx="214.72" cy="119.55" rx="1.13" ry="0.92" transform="rotate(-40 214.72 119.55)" fill="none" stroke="#222" stroke-width="0.84"/>
<ellipse cx="214.50" cy="119.70" rx="0.90" ry="0.60" transform="rotate(-40 214.50 119.70)" fill="#fff"/>
<ellipse cx="227.50" cy="119.20" rx="2.90" ry="2.70" transform="rotate(0 227.50 119.20)" fill="none" stroke="#333" stroke-width="0.45"/>
<ellipse cx="227.50" cy="119.20" rx="1.99" ry="1.87" transform="rotate(0 227.50 119.20)" fill="none" stroke="#333" stroke-width="0.60"/>
<ellipse cx="227.50" cy="119.20" rx="1.16" ry="1.11" transform="rotate(0 227.50 119.20)" fill="none" stroke="#333" stroke-width="0.75"/>
</g>
<line x1="221.00" y1="89.60" x2="221.00" y2="140.20" stroke="#a8a8a8" stroke-width="0.6"/>
<line x1="204.40" y1="114.80" x2="251.00" y2="114.80" stroke="#a8a8a8" stroke-width="0.6"/>
<rect x="204.40" y="89.60" width="46.60" height="50.60" fill="none" stroke="#3a3a3a" stroke-width="1.0"/>
<line x1="205.90" y1="140.20" x2="205.90" y2="141.20" stroke="#555" stroke-width="0.4"/>
<line x1="209.86" y1="140.20" x2="209.86" y2="141.20" stroke="#555" stroke-width="0.4"/>
<line x1="213.83" y1="140.20" x2="213.83" y2="141.20" stroke="#555" stroke-width="0.4"/>
<line x1="217.79" y1="140.20" x2="217.79" y2="141.20" stroke="#555" stroke-width="0.4"/>
<line x1="221.75" y1="140.20" x2="221.75" y2="141.20" stroke="#555" stroke-width="0.4"/>
<line x1="225.72" y1="140.20" x2="225.72" y2="141.20" stroke="#555" stroke-width="0.4"/>
<line x1="229.68" y1="140.20" x2="229.68" y2="141.20" stroke="#555" stroke-width="0.4"/>
<line x1="233.65" y1="140.20" x2="233.65" y2="141.20" stroke="#555" stroke-width="0.4"/>
<line x1="237.61" y1="140.20" x2="237.61" y2="141.20" stroke="#555" stroke-width="0.4"/>
<line x1="241.57" y1="140.20" x2="241.57" y2="141.20" stroke="#555" stroke-width="0.4"/>
<line x1="245.54" y1="140.20" x2="245.54" y2="141.20" stroke="#555" stroke-width="0.4"/>
<line x1="249.50" y1="140.20" x2="249.50" y2="141.20" stroke="#555" stroke-width="0.4"/>
<clipPath id="cp03"><rect x="262.30" y="25.30" width="45.60" height="50.00"/></clipPath><g clip-path="url(#cp03)">
<rect x="291.39" y="45.11" width="0.75" height="0.75" fill="#222"/>
<rect x="282.40" y="56.38" width="0.75" height="0.75" fill="#222"/>
<rect x="281.39" y="45.09" width="0.75" height="0.75" fill="#222"/>
<rect x="293.29" y="56.69" width="0.75" height="0.75" fill="#222"/>
<rect x="290.81" y="49.90" width="0.75" height="0.75" fill="#222"/>
<rect x="291.82" y="54.14" width="0.75" height="0.75" fill="#222"/>
<rect x="287.70" y="49.60" width="0.75" height="0.75" fill="#222"/>
<rect x="302.35" y="42.65" width="0.75" height="0.75" fill="#222"/>
<rect x="288.23" y="54.42" width="0.75" height="0.75" fill="#222"/>
<rect x="283.39" y="47.35" width="0.75" height="0.75" fill="#222"/>
<rect x="292.97" y="49.28" width="0.75" height="0.75" fill="#222"/>
<rect x="287.41" y="64.63" width="0.75" height="0.75" fill="#222"/>
<rect x="289.54" y="51.72" width="0.75" height="0.75" fill="#222"/>
<rect x="291.55" y="48.76" width="0.75" height="0.75" fill="#222"/>
<rect x="294.96" y="52.97" width="0.75" height="0.75" fill="#222"/>
<rect x="284.49" y="49.23" width="0.75" height="0.75" fill="#222"/>
<rect x="291.51" y="60.29" width="0.75" height="0.75" fill="#222"/>
<rect x="289.15" y="45.93" width="0.75" height="0.75" fill="#222"/>
<rect x="284.96" y="46.18" width="0.75" height="0.75" fill="#222"/>
<rect x="293.79" y="50.62" width="0.75" height="0.75" fill="#222"/>
<rect x="286.22" y="52.37" width="0.75" height="0.75" fill="#222"/>
<rect x="287.13" y="58.25" width="0.75" height="0.75" fill="#222"/>
<rect x="285.31" y="48.65" width="0.75" height="0.75" fill="#222"/>
<rect x="298.96" y="48.69" width="0.75" height="0.75" fill="#222"/>
<rect x="285.21" y="53.55" width="0.75" height="0.75" fill="#222"/>
<rect x="284.23" y="55.64" width="0.75" height="0.75" fill="#222"/>
<rect x="294.59" y="54.05" width="0.75" height="0.75" fill="#222"/>
<rect x="294.36" y="43.84" width="0.75" height="0.75" fill="#222"/>
<rect x="291.21" y="48.86" width="0.75" height="0.75" fill="#222"/>
<rect x="280.01" y="52.81" width="0.75" height="0.75" fill="#222"/>
<ellipse cx="272.90" cy="54.26" rx="5.22" ry="3.78" transform="rotate(-40 272.90 54.26)" fill="#666" fill-opacity="0.20"/>
<ellipse cx="272.15" cy="54.71" rx="2.90" ry="2.10" transform="rotate(-40 272.15 54.71)" fill="#111" fill-opacity="0.75"/>
<ellipse cx="273.50" cy="53.90" rx="6.30" ry="4.70" transform="rotate(-40 273.50 53.90)" fill="none" stroke="#111" stroke-width="0.50"/>
<ellipse cx="273.31" cy="54.01" rx="5.46" ry="4.09" transform="rotate(-40 273.31 54.01)" fill="none" stroke="#111" stroke-width="0.56"/>
<ellipse cx="273.12" cy="54.12" rx="4.64" ry="3.50" transform="rotate(-40 273.12 54.12)" fill="none" stroke="#111" stroke-width="0.62"/>
<ellipse cx="272.94" cy="54.24" rx="3.85" ry="2.92" transform="rotate(-40 272.94 54.24)" fill="none" stroke="#111" stroke-width="0.69"/>
<ellipse cx="272.75" cy="54.35" rx="3.08" ry="2.37" transform="rotate(-40 272.75 54.35)" fill="none" stroke="#111" stroke-width="0.75"/>
<ellipse cx="272.56" cy="54.46" rx="2.34" ry="1.83" transform="rotate(-40 272.56 54.46)" fill="none" stroke="#111" stroke-width="0.81"/>
<ellipse cx="272.38" cy="54.57" rx="1.65" ry="1.33" transform="rotate(-40 272.38 54.57)" fill="none" stroke="#111" stroke-width="0.88"/>
<ellipse cx="272.19" cy="54.69" rx="1.01" ry="0.87" transform="rotate(-40 272.19 54.69)" fill="none" stroke="#111" stroke-width="0.94"/>
<ellipse cx="272.00" cy="54.80" rx="0.90" ry="0.60" transform="rotate(-40 272.00 54.80)" fill="#fff"/>
<ellipse cx="283.00" cy="52.50" rx="6.00" ry="2.70" transform="rotate(-15 283.00 52.50)" fill="none" stroke="#666" stroke-width="0.45"/>
<ellipse cx="283.00" cy="52.50" rx="4.43" ry="2.07" transform="rotate(-15 283.00 52.50)" fill="none" stroke="#666" stroke-width="0.56"/>
<ellipse cx="283.00" cy="52.50" rx="2.94" ry="1.48" transform="rotate(-15 283.00 52.50)" fill="none" stroke="#666" stroke-width="0.68"/>
<ellipse cx="283.00" cy="52.50" rx="1.59" ry="0.93" transform="rotate(-15 283.00 52.50)" fill="none" stroke="#666" stroke-width="0.79"/>
</g>
<line x1="280.00" y1="25.30" x2="280.00" y2="75.30" stroke="#a8a8a8" stroke-width="0.6"/>
<line x1="262.30" y1="50.20" x2="307.90" y2="50.20" stroke="#a8a8a8" stroke-width="0.6"/>
<rect x="262.30" y="25.30" width="45.60" height="50.00" fill="none" stroke="#3a3a3a" stroke-width="1.0"/>
<line x1="263.80" y1="75.30" x2="263.80" y2="76.30" stroke="#555" stroke-width="0.4"/>
<line x1="267.67" y1="75.30" x2="267.67" y2="76.30" stroke="#555" stroke-width="0.4"/>
<line x1="271.55" y1="75.30" x2="271.55" y2="76.30" stroke="#555" stroke-width="0.4"/>
<line x1="275.42" y1="75.30" x2="275.42" y2="76.30" stroke="#555" stroke-width="0.4"/>
<line x1="279.29" y1="75.30" x2="279.29" y2="76.30" stroke="#555" stroke-width="0.4"/>
<line x1="283.16" y1="75.30" x2="283.16" y2="76.30" stroke="#555" stroke-width="0.4"/>
<line x1="287.04" y1="75.30" x2="287.04" y2="76.30" stroke="#555" stroke-width="0.4"/>
<line x1="290.91" y1="75.30" x2="290.91" y2="76.30" stroke="#555" stroke-width="0.4"/>
<line x1="294.78" y1="75.30" x2="294.78" y2="76.30" stroke="#555" stroke-width="0.4"/>
<line x1="298.65" y1="75.30" x2="298.65" y2="76.30" stroke="#555" stroke-width="0.4"/>
<line x1="302.53" y1="75.30" x2="302.53" y2="76.30" stroke="#555" stroke-width="0.4"/>
<line x1="306.40" y1="75.30" x2="306.40" y2="76.30" stroke="#555" stroke-width="0.4"/>
<clipPath id="cp13"><rect x="262.30" y="89.60" width="45.60" height="50.60"/></clipPath><g clip-path="url(#cp13)">
<rect x="286.48" y="105.82" width="0.75" height="0.75" fill="#222"/>
<rect x="294.04" y="101.45" width="0.75" height="0.75" fill="#222"/>
<rect x="272.21" y="102.32" width="0.75" height="0.75" fill="#222"/>
<rect x="287.41" y="100.37" width="0.75" height="0.75" fill="#222"/>
<rect x="278.83" y="103.60" width="0.75" height="0.75" fill="#222"/>
<rect x="291.91" y="99.41" width="0.75" height="0.75" fill="#222"/>
<rect x="294.05" y="99.11" width="0.75" height="0.75" fill="#222"/>
<rect x="277.84" y="102.57" width="0.75" height="0.75" fill="#222"/>
<rect x="281.19" y="101.54" width="0.75" height="0.75" fill="#222"/>
<rect x="275.90" y="110.41" width="0.75" height="0.75" fill="#222"/>
<rect x="275.02" y="101.55" width="0.75" height="0.75" fill="#222"/>
<rect x="280.60" y="101.43" width="0.75" height="0.75" fill="#222"/>
<rect x="280.86" y="114.69" width="0.75" height="0.75" fill="#222"/>
<rect x="281.08" y="97.12" width="0.75" height="0.75" fill="#222"/>
<rect x="282.48" y="111.00" width="0.75" height="0.75" fill="#222"/>
<rect x="287.75" y="97.48" width="0.75" height="0.75" fill="#222"/>
<rect x="289.52" y="111.33" width="0.75" height="0.75" fill="#222"/>
<rect x="283.59" y="111.03" width="0.75" height="0.75" fill="#222"/>
<rect x="276.42" y="105.88" width="0.75" height="0.75" fill="#222"/>
<rect x="292.08" y="113.10" width="0.75" height="0.75" fill="#222"/>
<rect x="293.05" y="97.91" width="0.75" height="0.75" fill="#222"/>
<rect x="293.51" y="101.71" width="0.75" height="0.75" fill="#222"/>
<rect x="293.52" y="109.85" width="0.75" height="0.75" fill="#222"/>
<rect x="284.36" y="103.75" width="0.75" height="0.75" fill="#222"/>
<rect x="272.23" y="105.72" width="0.75" height="0.75" fill="#222"/>
<rect x="283.89" y="102.65" width="0.75" height="0.75" fill="#222"/>
<rect x="294.84" y="96.33" width="0.75" height="0.75" fill="#222"/>
<rect x="289.92" y="112.31" width="0.75" height="0.75" fill="#222"/>
<rect x="280.46" y="105.75" width="0.75" height="0.75" fill="#222"/>
<rect x="299.30" y="110.52" width="0.75" height="0.75" fill="#222"/>
<rect x="288.05" y="99.89" width="0.75" height="0.75" fill="#222"/>
<rect x="289.53" y="99.32" width="0.75" height="0.75" fill="#222"/>
<rect x="278.90" y="100.40" width="0.75" height="0.75" fill="#222"/>
<rect x="295.23" y="96.55" width="0.75" height="0.75" fill="#222"/>
<rect x="283.70" y="113.87" width="0.75" height="0.75" fill="#222"/>
<rect x="286.33" y="102.80" width="0.75" height="0.75" fill="#222"/>
<path d="M274.00,127.25 Q266.00,128.00 267.00,123.00 Q268.00,118.00 272.00,113.00 Q276.00,108.00 280.00,105.75 Q284.00,103.50 288.00,104.75 Q292.00,106.00 294.00,110.50 Q296.00,115.00 294.00,119.00 Q292.00,123.00 287.00,124.75 Q282.00,126.50 274.00,127.25 Z" stroke="none" stroke-width="1" fill="#777" fill-opacity="0.18"/>
<path d="M273.68,123.19 Q270.88,123.45 271.23,121.70 Q271.57,119.95 272.98,118.20 Q274.38,116.45 275.77,115.66 Q277.18,114.88 278.58,115.31 Q279.98,115.75 280.68,117.33 Q281.38,118.90 280.68,120.30 Q279.98,121.70 278.23,122.31 Q276.48,122.92 273.68,123.19 Z" stroke="none" stroke-width="1" fill="#222" fill-opacity="0.35"/>
<path d="M274.00,127.25 Q266.00,128.00 267.00,123.00 Q268.00,118.00 272.00,113.00 Q276.00,108.00 280.00,105.75 Q284.00,103.50 288.00,104.75 Q292.00,106.00 294.00,110.50 Q296.00,115.00 294.00,119.00 Q292.00,123.00 287.00,124.75 Q282.00,126.50 274.00,127.25 Z" stroke="#222" stroke-width="0.7" fill="none"/>
<path d="M273.93,126.43 Q266.99,127.08 267.86,122.74 Q268.72,118.40 272.20,114.05 Q275.67,109.71 279.14,107.76 Q282.62,105.81 286.09,106.89 Q289.56,107.98 291.30,111.88 Q293.03,115.79 291.30,119.26 Q289.56,122.74 285.22,124.26 Q280.88,125.78 273.93,126.43 Z" stroke="#666" stroke-width="0.45733333333333326" fill="none"/>
<path d="M273.87,125.62 Q267.95,126.18 268.69,122.48 Q269.43,118.78 272.39,115.08 Q275.35,111.38 278.31,109.72 Q281.27,108.06 284.22,108.98 Q287.18,109.91 288.66,113.23 Q290.14,116.56 288.66,119.52 Q287.18,122.48 283.49,123.77 Q279.79,125.07 273.87,125.62 Z" stroke="#666" stroke-width="0.49466666666666664" fill="none"/>
<path d="M273.81,124.84 Q268.89,125.30 269.50,122.23 Q270.12,119.16 272.58,116.08 Q275.04,113.01 277.50,111.63 Q279.95,110.24 282.41,111.01 Q284.87,111.78 286.10,114.55 Q287.33,117.31 286.10,119.77 Q284.87,122.23 281.80,123.31 Q278.73,124.38 273.81,124.84 Z" stroke="#666" stroke-width="0.5319999999999999" fill="none"/>
<path d="M273.75,124.09 Q269.80,124.46 270.29,121.99 Q270.78,119.52 272.76,117.05 Q274.73,114.58 276.71,113.47 Q278.69,112.36 280.66,112.97 Q282.64,113.59 283.63,115.81 Q284.61,118.04 283.63,120.01 Q282.64,121.99 280.17,122.85 Q277.70,123.72 273.75,124.09 Z" stroke="#666" stroke-width="0.5693333333333334" fill="none"/>
<path d="M273.69,123.36 Q270.67,123.65 271.04,121.76 Q271.42,119.87 272.93,117.98 Q274.44,116.09 275.96,115.24 Q277.47,114.39 278.98,114.86 Q280.49,115.33 281.25,117.03 Q282.00,118.73 281.25,120.24 Q280.49,121.76 278.60,122.42 Q276.71,123.08 273.69,123.36 Z" stroke="#666" stroke-width="0.6066666666666667" fill="none"/>
<path d="M273.63,122.67 Q271.49,122.87 271.76,121.54 Q272.03,120.20 273.10,118.86 Q274.17,117.52 275.24,116.92 Q276.31,116.32 277.38,116.65 Q278.45,116.99 278.99,118.19 Q279.52,119.39 278.99,120.46 Q278.45,121.54 277.11,122.00 Q275.77,122.47 273.63,122.67 Z" stroke="#666" stroke-width="0.644" fill="none"/>
<path d="M273.58,122.03 Q272.27,122.15 272.43,121.33 Q272.60,120.51 273.25,119.68 Q273.91,118.86 274.57,118.49 Q275.23,118.12 275.89,118.33 Q276.54,118.53 276.87,119.27 Q277.20,120.01 276.87,120.67 Q276.54,121.33 275.72,121.62 Q274.90,121.90 273.58,122.03 Z" stroke="#666" stroke-width="0.6813333333333333" fill="none"/>
<path d="M273.54,121.45 Q272.96,121.50 273.03,121.14 Q273.11,120.79 273.39,120.43 Q273.68,120.07 273.97,119.91 Q274.25,119.75 274.54,119.84 Q274.82,119.93 274.97,120.25 Q275.11,120.57 274.97,120.86 Q274.82,121.14 274.47,121.27 Q274.11,121.39 273.54,121.45 Z" stroke="#666" stroke-width="0.7186666666666667" fill="none"/>
<ellipse cx="273.50" cy="121.00" rx="0.90" ry="0.60" transform="rotate(0 273.50 121.00)" fill="#fff"/>
</g>
<line x1="280.00" y1="89.60" x2="280.00" y2="140.20" stroke="#a8a8a8" stroke-width="0.6"/>
<line x1="262.30" y1="114.80" x2="307.90" y2="114.80" stroke="#a8a8a8" stroke-width="0.6"/>
<rect x="262.30" y="89.60" width="45.60" height="50.60" fill="none" stroke="#3a3a3a" stroke-width="1.0"/>
<line x1="263.80" y1="140.20" x2="263.80" y2="141.20" stroke="#555" stroke-width="0.4"/>
<line x1="267.67" y1="140.20" x2="267.67" y2="141.20" stroke="#555" stroke-width="0.4"/>
<line x1="271.55" y1="140.20" x2="271.55" y2="141.20" stroke="#555" stroke-width="0.4"/>
<line x1="275.42" y1="140.20" x2="275.42" y2="141.20" stroke="#555" stroke-width="0.4"/>
<line x1="279.29" y1="140.20" x2="279.29" y2="141.20" stroke="#555" stroke-width="0.4"/>
<line x1="283.16" y1="140.20" x2="283.16" y2="141.20" stroke="#555" stroke-width="0.4"/>
<line x1="287.04" y1="140.20" x2="287.04" y2="141.20" stroke="#555" stroke-width="0.4"/>
<line x1="290.91" y1="140.20" x2="290.91" y2="141.20" stroke="#555" stroke-width="0.4"/>
<line x1="294.78" y1="140.20" x2="294.78" y2="141.20" stroke="#555" stroke-width="0.4"/>
<line x1="298.65" y1="140.20" x2="298.65" y2="141.20" stroke="#555" stroke-width="0.4"/>
<line x1="302.53" y1="140.20" x2="302.53" y2="141.20" stroke="#555" stroke-width="0.4"/>
<line x1="306.40" y1="140.20" x2="306.40" y2="141.20" stroke="#555" stroke-width="0.4"/>
<clipPath id="cp04"><rect x="320.30" y="25.30" width="39.30" height="50.00"/></clipPath><g clip-path="url(#cp04)">
<rect x="340.73" y="57.17" width="0.75" height="0.75" fill="#222"/>
<rect x="346.19" y="56.76" width="0.75" height="0.75" fill="#222"/>
<rect x="341.83" y="52.70" width="0.75" height="0.75" fill="#222"/>
<rect x="345.97" y="52.27" width="0.75" height="0.75" fill="#222"/>
<rect x="347.18" y="42.57" width="0.75" height="0.75" fill="#222"/>
<rect x="345.20" y="60.43" width="0.75" height="0.75" fill="#222"/>
<rect x="344.26" y="42.97" width="0.75" height="0.75" fill="#222"/>
<rect x="354.20" y="58.22" width="0.75" height="0.75" fill="#222"/>
<rect x="339.67" y="53.98" width="0.75" height="0.75" fill="#222"/>
<rect x="338.92" y="45.16" width="0.75" height="0.75" fill="#222"/>
<rect x="346.97" y="58.48" width="0.75" height="0.75" fill="#222"/>
<rect x="345.74" y="54.76" width="0.75" height="0.75" fill="#222"/>
<rect x="339.22" y="60.54" width="0.75" height="0.75" fill="#222"/>
<rect x="345.96" y="57.11" width="0.75" height="0.75" fill="#222"/>
<rect x="339.54" y="58.17" width="0.75" height="0.75" fill="#222"/>
<rect x="334.77" y="57.66" width="0.75" height="0.75" fill="#222"/>
<rect x="342.51" y="41.89" width="0.75" height="0.75" fill="#222"/>
<rect x="353.11" y="53.79" width="0.75" height="0.75" fill="#222"/>
<rect x="347.64" y="59.14" width="0.75" height="0.75" fill="#222"/>
<rect x="347.88" y="49.58" width="0.75" height="0.75" fill="#222"/>
<rect x="341.43" y="56.85" width="0.75" height="0.75" fill="#222"/>
<rect x="342.63" y="58.04" width="0.75" height="0.75" fill="#222"/>
<rect x="351.50" y="57.97" width="0.75" height="0.75" fill="#222"/>
<rect x="347.82" y="42.82" width="0.75" height="0.75" fill="#222"/>
<rect x="341.13" y="49.22" width="0.75" height="0.75" fill="#222"/>
<rect x="341.03" y="52.51" width="0.75" height="0.75" fill="#222"/>
<rect x="340.80" y="56.98" width="0.75" height="0.75" fill="#222"/>
<rect x="351.80" y="52.71" width="0.75" height="0.75" fill="#222"/>
<rect x="345.45" y="43.83" width="0.75" height="0.75" fill="#222"/>
<rect x="333.60" y="45.60" width="0.75" height="0.75" fill="#222"/>
<rect x="350.61" y="55.05" width="0.75" height="0.75" fill="#222"/>
<rect x="348.09" y="42.23" width="0.75" height="0.75" fill="#222"/>
<rect x="338.93" y="49.97" width="0.75" height="0.75" fill="#222"/>
<rect x="346.12" y="54.99" width="0.75" height="0.75" fill="#222"/>
<rect x="336.00" y="48.18" width="0.75" height="0.75" fill="#222"/>
<rect x="349.56" y="51.15" width="0.75" height="0.75" fill="#222"/>
<rect x="339.65" y="46.43" width="0.75" height="0.75" fill="#222"/>
<rect x="345.66" y="60.64" width="0.75" height="0.75" fill="#222"/>
<rect x="342.04" y="55.45" width="0.75" height="0.75" fill="#222"/>
<rect x="339.36" y="50.34" width="0.75" height="0.75" fill="#222"/>
<rect x="338.58" y="53.07" width="0.75" height="0.75" fill="#222"/>
<rect x="342.30" y="37.17" width="0.75" height="0.75" fill="#222"/>
<rect x="329.65" y="53.14" width="0.75" height="0.75" fill="#222"/>
<rect x="339.73" y="53.01" width="0.75" height="0.75" fill="#222"/>
<rect x="347.37" y="54.58" width="0.75" height="0.75" fill="#222"/>
<rect x="339.88" y="54.48" width="0.75" height="0.75" fill="#222"/>
<rect x="343.64" y="58.80" width="0.75" height="0.75" fill="#222"/>
<rect x="346.56" y="49.58" width="0.75" height="0.75" fill="#222"/>
<rect x="346.66" y="54.66" width="0.75" height="0.75" fill="#222"/>
<rect x="337.34" y="48.88" width="0.75" height="0.75" fill="#222"/>
<rect x="337.06" y="61.60" width="0.75" height="0.75" fill="#222"/>
<rect x="345.18" y="46.73" width="0.75" height="0.75" fill="#222"/>
<rect x="341.36" y="49.89" width="0.75" height="0.75" fill="#222"/>
<rect x="337.57" y="56.65" width="0.75" height="0.75" fill="#222"/>
<rect x="341.86" y="47.29" width="0.75" height="0.75" fill="#222"/>
<rect x="341.10" y="57.12" width="0.75" height="0.75" fill="#222"/>
<rect x="343.89" y="48.03" width="0.75" height="0.75" fill="#222"/>
<rect x="342.93" y="48.44" width="0.75" height="0.75" fill="#222"/>
<rect x="345.66" y="49.17" width="0.75" height="0.75" fill="#222"/>
<rect x="336.08" y="48.15" width="0.75" height="0.75" fill="#222"/>
<rect x="342.45" y="46.05" width="0.75" height="0.75" fill="#222"/>
<rect x="340.91" y="53.05" width="0.75" height="0.75" fill="#222"/>
<rect x="338.10" y="53.99" width="0.75" height="0.75" fill="#222"/>
<rect x="341.71" y="52.15" width="0.75" height="0.75" fill="#222"/>
<rect x="342.99" y="50.22" width="0.75" height="0.75" fill="#222"/>
<rect x="345.33" y="43.44" width="0.75" height="0.75" fill="#222"/>
<rect x="345.01" y="58.80" width="0.75" height="0.75" fill="#222"/>
<rect x="343.02" y="44.89" width="0.75" height="0.75" fill="#222"/>
<rect x="347.38" y="52.10" width="0.75" height="0.75" fill="#222"/>
<rect x="344.62" y="50.24" width="0.75" height="0.75" fill="#222"/>
<path d="M328.50,65.25 Q324.00,65.50 323.40,61.75 Q322.80,58.00 324.15,55.75 Q325.50,53.50 328.75,52.75 Q332.00,52.00 336.00,53.00 Q340.00,54.00 342.50,55.75 Q345.00,57.50 343.00,59.25 Q341.00,61.00 337.00,63.00 Q333.00,65.00 328.50,65.25 Z" stroke="none" stroke-width="1" fill="#777" fill-opacity="0.15"/>
<path d="M328.18,61.84 Q326.60,61.92 326.39,60.61 Q326.18,59.30 326.65,58.51 Q327.12,57.73 328.26,57.46 Q329.40,57.20 330.80,57.55 Q332.20,57.90 333.07,58.51 Q333.95,59.12 333.25,59.74 Q332.55,60.35 331.15,61.05 Q329.75,61.75 328.18,61.84 Z" stroke="none" stroke-width="1" fill="#222" fill-opacity="0.35"/>
<path d="M328.50,65.25 Q324.00,65.50 323.40,61.75 Q322.80,58.00 324.15,55.75 Q325.50,53.50 328.75,52.75 Q332.00,52.00 336.00,53.00 Q340.00,54.00 342.50,55.75 Q345.00,57.50 343.00,59.25 Q341.00,61.00 337.00,63.00 Q333.00,65.00 328.50,65.25 Z" stroke="#222" stroke-width="0.7" fill="none"/>
<path d="M328.42,64.41 Q324.64,64.62 324.13,61.47 Q323.63,58.32 324.76,56.43 Q325.90,54.54 328.63,53.91 Q331.36,53.27 334.73,54.12 Q338.09,54.96 340.19,56.43 Q342.29,57.90 340.61,59.37 Q338.93,60.84 335.57,62.52 Q332.20,64.20 328.42,64.41 Z" stroke="#444" stroke-width="0.49500000000000005" fill="none"/>
<path d="M328.34,63.61 Q325.25,63.78 324.84,61.20 Q324.42,58.62 325.35,57.08 Q326.28,55.53 328.52,55.01 Q330.75,54.50 333.50,55.18 Q336.26,55.87 337.98,57.08 Q339.70,58.28 338.32,59.48 Q336.94,60.69 334.19,62.06 Q331.44,63.44 328.34,63.61 Z" stroke="#444" stroke-width="0.54" fill="none"/>
<path d="M328.27,62.85 Q325.83,62.99 325.50,60.95 Q325.18,58.91 325.91,57.69 Q326.64,56.47 328.41,56.06 Q330.17,55.66 332.34,56.20 Q334.51,56.74 335.87,57.69 Q337.23,58.64 336.14,59.59 Q335.06,60.54 332.89,61.63 Q330.71,62.71 328.27,62.85 Z" stroke="#444" stroke-width="0.5850000000000001" fill="none"/>
<path d="M328.20,62.13 Q326.38,62.23 326.13,60.71 Q325.89,59.19 326.44,58.27 Q326.98,57.36 328.30,57.06 Q329.62,56.75 331.25,57.16 Q332.87,57.56 333.89,58.27 Q334.90,58.98 334.09,59.70 Q333.28,60.41 331.66,61.22 Q330.03,62.03 328.20,62.13 Z" stroke="#444" stroke-width="0.63" fill="none"/>
<path d="M328.14,61.47 Q326.88,61.54 326.71,60.49 Q326.55,59.44 326.92,58.81 Q327.30,58.18 328.21,57.97 Q329.12,57.76 330.24,58.04 Q331.35,58.32 332.05,58.81 Q332.75,59.30 332.19,59.79 Q331.63,60.28 330.51,60.84 Q329.40,61.40 328.14,61.47 Z" stroke="#444" stroke-width="0.675" fill="none"/>
<path d="M328.08,60.87 Q327.34,60.91 327.24,60.29 Q327.14,59.67 327.36,59.30 Q327.59,58.93 328.12,58.80 Q328.66,58.68 329.32,58.85 Q329.98,59.01 330.39,59.30 Q330.80,59.59 330.47,59.88 Q330.14,60.16 329.48,60.49 Q328.82,60.82 328.08,60.87 Z" stroke="#444" stroke-width="0.7200000000000001" fill="none"/>
<path d="M328.03,60.35 Q327.73,60.37 327.69,60.12 Q327.65,59.87 327.74,59.72 Q327.83,59.56 328.05,59.51 Q328.27,59.46 328.54,59.53 Q328.80,59.60 328.97,59.72 Q329.14,59.83 329.00,59.95 Q328.87,60.07 328.60,60.20 Q328.33,60.33 328.03,60.35 Z" stroke="#444" stroke-width="0.7650000000000001" fill="none"/>
<ellipse cx="328.00" cy="60.00" rx="0.90" ry="0.60" transform="rotate(0 328.00 60.00)" fill="#fff"/>
<ellipse cx="343.00" cy="57.50" rx="3.50" ry="3.00" transform="rotate(0 343.00 57.50)" fill="none" stroke="#222" stroke-width="0.50"/>
<ellipse cx="343.00" cy="57.50" rx="2.37" ry="2.06" transform="rotate(0 343.00 57.50)" fill="none" stroke="#222" stroke-width="0.67"/>
<ellipse cx="343.00" cy="57.50" rx="1.33" ry="1.19" transform="rotate(0 343.00 57.50)" fill="none" stroke="#222" stroke-width="0.83"/>
</g>
<line x1="334.20" y1="25.30" x2="334.20" y2="75.30" stroke="#a8a8a8" stroke-width="0.6"/>
<line x1="320.30" y1="54.30" x2="359.60" y2="54.30" stroke="#a8a8a8" stroke-width="0.6"/>
<rect x="320.30" y="25.30" width="39.30" height="50.00" fill="none" stroke="#3a3a3a" stroke-width="1.0"/>
<line x1="321.80" y1="75.30" x2="321.80" y2="76.30" stroke="#555" stroke-width="0.4"/>
<line x1="325.10" y1="75.30" x2="325.10" y2="76.30" stroke="#555" stroke-width="0.4"/>
<line x1="328.40" y1="75.30" x2="328.40" y2="76.30" stroke="#555" stroke-width="0.4"/>
<line x1="331.70" y1="75.30" x2="331.70" y2="76.30" stroke="#555" stroke-width="0.4"/>
<line x1="335.00" y1="75.30" x2="335.00" y2="76.30" stroke="#555" stroke-width="0.4"/>
<line x1="338.30" y1="75.30" x2="338.30" y2="76.30" stroke="#555" stroke-width="0.4"/>
<line x1="341.60" y1="75.30" x2="341.60" y2="76.30" stroke="#555" stroke-width="0.4"/>
<line x1="344.90" y1="75.30" x2="344.90" y2="76.30" stroke="#555" stroke-width="0.4"/>
<line x1="348.20" y1="75.30" x2="348.20" y2="76.30" stroke="#555" stroke-width="0.4"/>
<line x1="351.50" y1="75.30" x2="351.50" y2="76.30" stroke="#555" stroke-width="0.4"/>
<line x1="354.80" y1="75.30" x2="354.80" y2="76.30" stroke="#555" stroke-width="0.4"/>
<line x1="358.10" y1="75.30" x2="358.10" y2="76.30" stroke="#555" stroke-width="0.4"/>
<clipPath id="cp14"><rect x="320.30" y="89.60" width="39.30" height="50.60"/></clipPath><g clip-path="url(#cp14)">
<rect x="334.62" y="118.96" width="0.75" height="0.75" fill="#222"/>
<rect x="332.97" y="111.29" width="0.75" height="0.75" fill="#222"/>
<rect x="337.24" y="123.18" width="0.75" height="0.75" fill="#222"/>
<rect x="326.38" y="123.16" width="0.75" height="0.75" fill="#222"/>
<rect x="335.89" y="109.77" width="0.75" height="0.75" fill="#222"/>
<rect x="332.31" y="121.37" width="0.75" height="0.75" fill="#222"/>
<rect x="328.81" y="107.03" width="0.75" height="0.75" fill="#222"/>
<rect x="337.49" y="113.47" width="0.75" height="0.75" fill="#222"/>
<rect x="332.96" y="122.25" width="0.75" height="0.75" fill="#222"/>
<rect x="332.91" y="115.10" width="0.75" height="0.75" fill="#222"/>
<rect x="345.96" y="114.46" width="0.75" height="0.75" fill="#222"/>
<rect x="337.24" y="114.18" width="0.75" height="0.75" fill="#222"/>
<rect x="337.27" y="111.73" width="0.75" height="0.75" fill="#222"/>
<rect x="335.10" y="121.98" width="0.75" height="0.75" fill="#222"/>
<rect x="338.46" y="108.57" width="0.75" height="0.75" fill="#222"/>
<rect x="333.55" y="113.35" width="0.75" height="0.75" fill="#222"/>
<rect x="333.50" y="127.32" width="0.75" height="0.75" fill="#222"/>
<rect x="337.83" y="114.57" width="0.75" height="0.75" fill="#222"/>
<rect x="324.60" y="124.55" width="0.75" height="0.75" fill="#222"/>
<rect x="333.61" y="107.89" width="0.75" height="0.75" fill="#222"/>
<rect x="343.49" y="108.48" width="0.75" height="0.75" fill="#222"/>
<rect x="340.41" y="108.60" width="0.75" height="0.75" fill="#222"/>
<rect x="336.65" y="117.08" width="0.75" height="0.75" fill="#222"/>
<rect x="343.01" y="110.37" width="0.75" height="0.75" fill="#222"/>
<rect x="331.65" y="124.49" width="0.75" height="0.75" fill="#222"/>
<rect x="337.87" y="121.35" width="0.75" height="0.75" fill="#222"/>
<rect x="339.04" y="120.34" width="0.75" height="0.75" fill="#222"/>
<rect x="338.62" y="121.29" width="0.75" height="0.75" fill="#222"/>
<rect x="341.60" y="115.56" width="0.75" height="0.75" fill="#222"/>
<rect x="344.94" y="116.16" width="0.75" height="0.75" fill="#222"/>
<rect x="339.07" y="114.76" width="0.75" height="0.75" fill="#222"/>
<rect x="334.36" y="115.54" width="0.75" height="0.75" fill="#222"/>
<rect x="336.76" y="127.93" width="0.75" height="0.75" fill="#222"/>
<rect x="337.57" y="113.09" width="0.75" height="0.75" fill="#222"/>
<rect x="333.43" y="118.63" width="0.75" height="0.75" fill="#222"/>
<rect x="335.64" y="120.34" width="0.75" height="0.75" fill="#222"/>
<rect x="337.53" y="115.55" width="0.75" height="0.75" fill="#222"/>
<rect x="335.67" y="118.08" width="0.75" height="0.75" fill="#222"/>
<rect x="335.02" y="114.76" width="0.75" height="0.75" fill="#222"/>
<rect x="336.30" y="110.88" width="0.75" height="0.75" fill="#222"/>
<rect x="339.95" y="101.05" width="0.75" height="0.75" fill="#222"/>
<rect x="336.36" y="115.45" width="0.75" height="0.75" fill="#222"/>
<rect x="335.21" y="111.29" width="0.75" height="0.75" fill="#222"/>
<rect x="331.44" y="112.88" width="0.75" height="0.75" fill="#222"/>
<rect x="332.22" y="113.11" width="0.75" height="0.75" fill="#222"/>
<rect x="331.02" y="109.72" width="0.75" height="0.75" fill="#222"/>
<rect x="330.60" y="122.71" width="0.75" height="0.75" fill="#222"/>
<rect x="332.46" y="109.47" width="0.75" height="0.75" fill="#222"/>
<rect x="342.75" y="128.71" width="0.75" height="0.75" fill="#222"/>
<rect x="332.42" y="112.30" width="0.75" height="0.75" fill="#222"/>
<rect x="339.03" y="120.58" width="0.75" height="0.75" fill="#222"/>
<rect x="333.75" y="110.85" width="0.75" height="0.75" fill="#222"/>
<rect x="334.68" y="109.47" width="0.75" height="0.75" fill="#222"/>
<rect x="339.64" y="114.70" width="0.75" height="0.75" fill="#222"/>
<rect x="337.80" y="117.29" width="0.75" height="0.75" fill="#222"/>
<rect x="338.24" y="114.97" width="0.75" height="0.75" fill="#222"/>
<rect x="336.15" y="119.74" width="0.75" height="0.75" fill="#222"/>
<rect x="331.85" y="114.65" width="0.75" height="0.75" fill="#222"/>
<rect x="336.40" y="120.41" width="0.75" height="0.75" fill="#222"/>
<rect x="332.83" y="113.63" width="0.75" height="0.75" fill="#222"/>
<rect x="331.78" y="110.16" width="0.75" height="0.75" fill="#222"/>
<rect x="334.95" y="125.87" width="0.75" height="0.75" fill="#222"/>
<rect x="337.80" y="101.38" width="0.75" height="0.75" fill="#222"/>
<rect x="343.51" y="123.82" width="0.75" height="0.75" fill="#222"/>
<rect x="327.78" y="121.75" width="0.75" height="0.75" fill="#222"/>
<rect x="338.49" y="116.89" width="0.75" height="0.75" fill="#222"/>
<rect x="325.57" y="114.97" width="0.75" height="0.75" fill="#222"/>
<rect x="339.57" y="114.94" width="0.75" height="0.75" fill="#222"/>
<rect x="335.58" y="119.25" width="0.75" height="0.75" fill="#222"/>
<rect x="334.06" y="114.80" width="0.75" height="0.75" fill="#222"/>
<rect x="332.03" y="115.65" width="0.75" height="0.75" fill="#222"/>
<rect x="337.33" y="125.00" width="0.75" height="0.75" fill="#222"/>
<rect x="336.38" y="106.10" width="0.75" height="0.75" fill="#222"/>
<rect x="338.66" y="121.83" width="0.75" height="0.75" fill="#222"/>
<rect x="336.44" y="120.35" width="0.75" height="0.75" fill="#222"/>
<rect x="341.05" y="105.83" width="0.75" height="0.75" fill="#222"/>
<rect x="326.96" y="113.20" width="0.75" height="0.75" fill="#222"/>
<rect x="336.13" y="116.27" width="0.75" height="0.75" fill="#222"/>
<rect x="335.96" y="121.29" width="0.75" height="0.75" fill="#222"/>
<rect x="326.80" y="115.76" width="0.75" height="0.75" fill="#222"/>
<rect x="338.57" y="118.21" width="0.75" height="0.75" fill="#222"/>
<rect x="332.63" y="116.20" width="0.75" height="0.75" fill="#222"/>
<rect x="330.31" y="123.34" width="0.75" height="0.75" fill="#222"/>
<rect x="342.32" y="116.68" width="0.75" height="0.75" fill="#222"/>
<rect x="335.36" y="116.75" width="0.75" height="0.75" fill="#222"/>
<rect x="326.14" y="105.84" width="0.75" height="0.75" fill="#222"/>
<rect x="341.07" y="119.44" width="0.75" height="0.75" fill="#222"/>
<rect x="333.66" y="109.71" width="0.75" height="0.75" fill="#222"/>
<rect x="340.07" y="118.36" width="0.75" height="0.75" fill="#222"/>
<rect x="336.93" y="113.45" width="0.75" height="0.75" fill="#222"/>
<rect x="336.18" y="115.33" width="0.75" height="0.75" fill="#222"/>
<rect x="343.25" y="116.43" width="0.75" height="0.75" fill="#222"/>
<rect x="337.10" y="110.86" width="0.75" height="0.75" fill="#222"/>
<rect x="330.42" y="126.72" width="0.75" height="0.75" fill="#222"/>
<rect x="331.45" y="112.75" width="0.75" height="0.75" fill="#222"/>
<rect x="337.73" y="110.43" width="0.75" height="0.75" fill="#222"/>
<rect x="336.92" y="110.22" width="0.75" height="0.75" fill="#222"/>
<rect x="332.98" y="124.41" width="0.75" height="0.75" fill="#222"/>
<rect x="331.59" y="115.17" width="0.75" height="0.75" fill="#222"/>
<rect x="332.97" y="106.55" width="0.75" height="0.75" fill="#222"/>
<rect x="337.43" y="118.74" width="0.75" height="0.75" fill="#222"/>
<rect x="341.66" y="106.90" width="0.75" height="0.75" fill="#222"/>
<rect x="331.39" y="103.74" width="0.75" height="0.75" fill="#222"/>
<rect x="333.42" y="112.18" width="0.75" height="0.75" fill="#222"/>
<rect x="338.54" y="112.72" width="0.75" height="0.75" fill="#222"/>
<rect x="338.48" y="113.95" width="0.75" height="0.75" fill="#222"/>
<rect x="322.17" y="111.26" width="0.75" height="0.75" fill="#222"/>
<rect x="330.93" y="119.05" width="0.75" height="0.75" fill="#222"/>
<rect x="334.87" y="118.03" width="0.75" height="0.75" fill="#222"/>
<rect x="334.88" y="110.03" width="0.75" height="0.75" fill="#222"/>
<ellipse cx="328.24" cy="123.68" rx="4.50" ry="7.20" transform="rotate(22 328.24 123.68)" fill="#666" fill-opacity="0.20"/>
<ellipse cx="327.79" cy="124.28" rx="2.50" ry="4.00" transform="rotate(22 327.79 124.28)" fill="#111" fill-opacity="0.75"/>
<ellipse cx="328.60" cy="123.20" rx="5.50" ry="8.50" transform="rotate(22 328.60 123.20)" fill="none" stroke="#222" stroke-width="0.48"/>
<ellipse cx="328.49" cy="123.35" rx="4.78" ry="7.34" transform="rotate(22 328.49 123.35)" fill="none" stroke="#222" stroke-width="0.54"/>
<ellipse cx="328.38" cy="123.50" rx="4.07" ry="6.21" transform="rotate(22 328.38 123.50)" fill="none" stroke="#222" stroke-width="0.60"/>
<ellipse cx="328.26" cy="123.65" rx="3.39" ry="5.12" transform="rotate(22 328.26 123.65)" fill="none" stroke="#222" stroke-width="0.66"/>
<ellipse cx="328.15" cy="123.80" rx="2.72" ry="4.06" transform="rotate(22 328.15 123.80)" fill="none" stroke="#222" stroke-width="0.72"/>
<ellipse cx="328.04" cy="123.95" rx="2.09" ry="3.04" transform="rotate(22 328.04 123.95)" fill="none" stroke="#222" stroke-width="0.78"/>
<ellipse cx="327.93" cy="124.10" rx="1.49" ry="2.08" transform="rotate(22 327.93 124.10)" fill="none" stroke="#222" stroke-width="0.84"/>
<ellipse cx="327.81" cy="124.25" rx="0.94" ry="1.20" transform="rotate(22 327.81 124.25)" fill="none" stroke="#222" stroke-width="0.90"/>
<ellipse cx="327.70" cy="124.40" rx="0.90" ry="0.60" transform="rotate(22 327.70 124.40)" fill="#fff"/>
</g>
<line x1="334.20" y1="89.60" x2="334.20" y2="140.20" stroke="#a8a8a8" stroke-width="0.6"/>
<line x1="320.30" y1="118.60" x2="359.60" y2="118.60" stroke="#a8a8a8" stroke-width="0.6"/>
<rect x="320.30" y="89.60" width="39.30" height="50.60" fill="none" stroke="#3a3a3a" stroke-width="1.0"/>
<line x1="321.80" y1="140.20" x2="321.80" y2="141.20" stroke="#555" stroke-width="0.4"/>
<line x1="325.10" y1="140.20" x2="325.10" y2="141.20" stroke="#555" stroke-width="0.4"/>
<line x1="328.40" y1="140.20" x2="328.40" y2="141.20" stroke="#555" stroke-width="0.4"/>
<line x1="331.70" y1="140.20" x2="331.70" y2="141.20" stroke="#555" stroke-width="0.4"/>
<line x1="335.00" y1="140.20" x2="335.00" y2="141.20" stroke="#555" stroke-width="0.4"/>
<line x1="338.30" y1="140.20" x2="338.30" y2="141.20" stroke="#555" stroke-width="0.4"/>
<line x1="341.60" y1="140.20" x2="341.60" y2="141.20" stroke="#555" stroke-width="0.4"/>
<line x1="344.90" y1="140.20" x2="344.90" y2="141.20" stroke="#555" stroke-width="0.4"/>
<line x1="348.20" y1="140.20" x2="348.20" y2="141.20" stroke="#555" stroke-width="0.4"/>
<line x1="351.50" y1="140.20" x2="351.50" y2="141.20" stroke="#555" stroke-width="0.4"/>
<line x1="354.80" y1="140.20" x2="354.80" y2="141.20" stroke="#555" stroke-width="0.4"/>
<line x1="358.10" y1="140.20" x2="358.10" y2="141.20" stroke="#555" stroke-width="0.4"/>
<clipPath id="cp05"><rect x="371.00" y="25.30" width="38.60" height="50.00"/></clipPath><g clip-path="url(#cp05)">
<rect x="396.87" y="51.33" width="0.75" height="0.75" fill="#222"/>
<rect x="381.98" y="53.01" width="0.75" height="0.75" fill="#222"/>
<rect x="394.93" y="63.12" width="0.75" height="0.75" fill="#222"/>
<rect x="388.50" y="50.31" width="0.75" height="0.75" fill="#222"/>
<rect x="394.11" y="58.75" width="0.75" height="0.75" fill="#222"/>
<rect x="392.49" y="55.19" width="0.75" height="0.75" fill="#222"/>
<rect x="400.40" y="54.56" width="0.75" height="0.75" fill="#222"/>
<rect x="391.72" y="47.62" width="0.75" height="0.75" fill="#222"/>
<rect x="393.36" y="49.71" width="0.75" height="0.75" fill="#222"/>
<rect x="394.27" y="54.13" width="0.75" height="0.75" fill="#222"/>
<rect x="388.02" y="55.52" width="0.75" height="0.75" fill="#222"/>
<rect x="394.21" y="53.40" width="0.75" height="0.75" fill="#222"/>
<rect x="402.46" y="61.20" width="0.75" height="0.75" fill="#222"/>
<rect x="391.19" y="55.04" width="0.75" height="0.75" fill="#222"/>
<rect x="389.87" y="56.65" width="0.75" height="0.75" fill="#222"/>
<rect x="402.17" y="58.74" width="0.75" height="0.75" fill="#222"/>
<rect x="394.31" y="50.89" width="0.75" height="0.75" fill="#222"/>
<rect x="394.14" y="54.42" width="0.75" height="0.75" fill="#222"/>
<rect x="395.25" y="51.57" width="0.75" height="0.75" fill="#222"/>
<rect x="397.06" y="54.22" width="0.75" height="0.75" fill="#222"/>
<rect x="387.10" y="51.98" width="0.75" height="0.75" fill="#222"/>
<rect x="398.23" y="51.93" width="0.75" height="0.75" fill="#222"/>
<rect x="397.49" y="63.25" width="0.75" height="0.75" fill="#222"/>
<rect x="402.28" y="40.28" width="0.75" height="0.75" fill="#222"/>
<rect x="391.98" y="53.78" width="0.75" height="0.75" fill="#222"/>
<rect x="387.84" y="61.15" width="0.75" height="0.75" fill="#222"/>
<rect x="392.50" y="61.72" width="0.75" height="0.75" fill="#222"/>
<rect x="399.51" y="48.65" width="0.75" height="0.75" fill="#222"/>
<rect x="400.65" y="61.25" width="0.75" height="0.75" fill="#222"/>
<rect x="388.51" y="50.30" width="0.75" height="0.75" fill="#222"/>
<rect x="398.65" y="49.30" width="0.75" height="0.75" fill="#222"/>
<rect x="395.81" y="52.80" width="0.75" height="0.75" fill="#222"/>
<rect x="399.56" y="54.10" width="0.75" height="0.75" fill="#222"/>
<rect x="400.07" y="51.95" width="0.75" height="0.75" fill="#222"/>
<rect x="387.56" y="55.85" width="0.75" height="0.75" fill="#222"/>
<rect x="391.89" y="55.89" width="0.75" height="0.75" fill="#222"/>
<rect x="393.97" y="56.25" width="0.75" height="0.75" fill="#222"/>
<rect x="402.96" y="59.21" width="0.75" height="0.75" fill="#222"/>
<rect x="391.54" y="55.45" width="0.75" height="0.75" fill="#222"/>
<rect x="391.20" y="52.67" width="0.75" height="0.75" fill="#222"/>
<rect x="386.23" y="42.14" width="0.75" height="0.75" fill="#222"/>
<rect x="399.94" y="54.96" width="0.75" height="0.75" fill="#222"/>
<rect x="393.13" y="49.09" width="0.75" height="0.75" fill="#222"/>
<rect x="390.05" y="51.12" width="0.75" height="0.75" fill="#222"/>
<rect x="387.38" y="52.60" width="0.75" height="0.75" fill="#222"/>
<rect x="397.33" y="57.51" width="0.75" height="0.75" fill="#222"/>
<rect x="398.67" y="55.93" width="0.75" height="0.75" fill="#222"/>
<rect x="394.80" y="50.22" width="0.75" height="0.75" fill="#222"/>
<rect x="388.42" y="59.31" width="0.75" height="0.75" fill="#222"/>
<rect x="392.18" y="52.54" width="0.75" height="0.75" fill="#222"/>
<rect x="388.58" y="52.75" width="0.75" height="0.75" fill="#222"/>
<rect x="393.21" y="52.10" width="0.75" height="0.75" fill="#222"/>
<rect x="395.22" y="59.04" width="0.75" height="0.75" fill="#222"/>
<rect x="386.07" y="53.46" width="0.75" height="0.75" fill="#222"/>
<rect x="391.65" y="60.91" width="0.75" height="0.75" fill="#222"/>
<rect x="390.87" y="53.61" width="0.75" height="0.75" fill="#222"/>
<rect x="390.49" y="62.34" width="0.75" height="0.75" fill="#222"/>
<rect x="394.95" y="61.02" width="0.75" height="0.75" fill="#222"/>
<rect x="389.74" y="57.52" width="0.75" height="0.75" fill="#222"/>
<rect x="391.36" y="57.52" width="0.75" height="0.75" fill="#222"/>
<path d="M380.00,66.50 Q375.00,66.50 374.25,62.25 Q373.50,58.00 375.25,55.75 Q377.00,53.50 380.50,53.00 Q384.00,52.50 388.50,53.50 Q393.00,54.50 395.50,56.00 Q398.00,57.50 396.00,59.50 Q394.00,61.50 389.50,64.00 Q385.00,66.50 380.00,66.50 Z" stroke="none" stroke-width="1" fill="#777" fill-opacity="0.15"/>
<path d="M379.74,62.60 Q377.99,62.60 377.73,61.11 Q377.47,59.62 378.08,58.84 Q378.69,58.05 379.91,57.88 Q381.14,57.70 382.72,58.05 Q384.29,58.40 385.17,58.92 Q386.04,59.45 385.34,60.15 Q384.64,60.85 383.06,61.73 Q381.49,62.60 379.74,62.60 Z" stroke="none" stroke-width="1" fill="#222" fill-opacity="0.35"/>
<path d="M380.00,66.50 Q375.00,66.50 374.25,62.25 Q373.50,58.00 375.25,55.75 Q377.00,53.50 380.50,53.00 Q384.00,52.50 388.50,53.50 Q393.00,54.50 395.50,56.00 Q398.00,57.50 396.00,59.50 Q394.00,61.50 389.50,64.00 Q385.00,66.50 380.00,66.50 Z" stroke="#222" stroke-width="0.7" fill="none"/>
<path d="M379.94,65.54 Q375.73,65.54 375.10,61.97 Q374.47,58.40 375.94,56.51 Q377.41,54.62 380.36,54.20 Q383.30,53.77 387.08,54.62 Q390.86,55.46 392.97,56.72 Q395.07,57.98 393.39,59.66 Q391.71,61.34 387.92,63.44 Q384.14,65.54 379.94,65.54 Z" stroke="#444" stroke-width="0.49500000000000005" fill="none"/>
<path d="M379.88,64.63 Q376.44,64.63 375.92,61.70 Q375.40,58.78 376.61,57.23 Q377.81,55.68 380.22,55.34 Q382.63,55.00 385.72,55.68 Q388.82,56.37 390.54,57.40 Q392.26,58.44 390.88,59.81 Q389.51,61.19 386.41,62.91 Q383.32,64.63 379.88,64.63 Z" stroke="#444" stroke-width="0.54" fill="none"/>
<path d="M379.82,63.76 Q377.10,63.76 376.70,61.45 Q376.29,59.14 377.24,57.92 Q378.19,56.70 380.09,56.43 Q381.99,56.16 384.43,56.70 Q386.87,57.24 388.23,58.06 Q389.59,58.87 388.50,59.96 Q387.42,61.04 384.97,62.40 Q382.53,63.76 379.82,63.76 Z" stroke="#444" stroke-width="0.5850000000000001" fill="none"/>
<path d="M379.76,62.94 Q377.73,62.94 377.43,61.21 Q377.12,59.48 377.83,58.57 Q378.54,57.66 379.97,57.45 Q381.39,57.25 383.21,57.66 Q385.04,58.06 386.06,58.67 Q387.07,59.28 386.26,60.09 Q385.45,60.91 383.62,61.92 Q381.79,62.94 379.76,62.94 Z" stroke="#444" stroke-width="0.63" fill="none"/>
<path d="M379.71,62.18 Q378.31,62.18 378.11,60.99 Q377.90,59.80 378.38,59.17 Q378.87,58.54 379.85,58.40 Q380.83,58.26 382.09,58.54 Q383.34,58.82 384.04,59.24 Q384.74,59.66 384.18,60.22 Q383.62,60.78 382.37,61.48 Q381.11,62.18 379.71,62.18 Z" stroke="#444" stroke-width="0.675" fill="none"/>
<path d="M379.67,61.49 Q378.84,61.49 378.72,60.79 Q378.59,60.09 378.88,59.72 Q379.17,59.35 379.75,59.26 Q380.33,59.18 381.07,59.35 Q381.81,59.51 382.22,59.76 Q382.63,60.01 382.30,60.34 Q381.98,60.66 381.23,61.08 Q380.49,61.49 379.67,61.49 Z" stroke="#444" stroke-width="0.7200000000000001" fill="none"/>
<path d="M379.63,60.90 Q379.29,60.90 379.24,60.62 Q379.19,60.33 379.31,60.18 Q379.43,60.03 379.66,60.00 Q379.89,59.96 380.20,60.03 Q380.50,60.10 380.67,60.20 Q380.83,60.30 380.70,60.43 Q380.56,60.57 380.26,60.73 Q379.96,60.90 379.63,60.90 Z" stroke="#444" stroke-width="0.7650000000000001" fill="none"/>
<ellipse cx="379.60" cy="60.50" rx="0.90" ry="0.60" transform="rotate(0 379.60 60.50)" fill="#fff"/>
<ellipse cx="394.00" cy="57.50" rx="3.50" ry="3.00" transform="rotate(0 394.00 57.50)" fill="none" stroke="#222" stroke-width="0.50"/>
<ellipse cx="394.00" cy="57.50" rx="2.37" ry="2.06" transform="rotate(0 394.00 57.50)" fill="none" stroke="#222" stroke-width="0.67"/>
<ellipse cx="394.00" cy="57.50" rx="1.33" ry="1.19" transform="rotate(0 394.00 57.50)" fill="none" stroke="#222" stroke-width="0.83"/>
</g>
<line x1="385.50" y1="25.30" x2="385.50" y2="75.30" stroke="#a8a8a8" stroke-width="0.6"/>
<line x1="371.00" y1="54.30" x2="409.60" y2="54.30" stroke="#a8a8a8" stroke-width="0.6"/>
<rect x="371.00" y="25.30" width="38.60" height="50.00" fill="none" stroke="#3a3a3a" stroke-width="1.0"/>
<line x1="372.50" y1="75.30" x2="372.50" y2="76.30" stroke="#555" stroke-width="0.4"/>
<line x1="375.74" y1="75.30" x2="375.74" y2="76.30" stroke="#555" stroke-width="0.4"/>
<line x1="378.97" y1="75.30" x2="378.97" y2="76.30" stroke="#555" stroke-width="0.4"/>
<line x1="382.21" y1="75.30" x2="382.21" y2="76.30" stroke="#555" stroke-width="0.4"/>
<line x1="385.45" y1="75.30" x2="385.45" y2="76.30" stroke="#555" stroke-width="0.4"/>
<line x1="388.68" y1="75.30" x2="388.68" y2="76.30" stroke="#555" stroke-width="0.4"/>
<line x1="391.92" y1="75.30" x2="391.92" y2="76.30" stroke="#555" stroke-width="0.4"/>
<line x1="395.15" y1="75.30" x2="395.15" y2="76.30" stroke="#555" stroke-width="0.4"/>
<line x1="398.39" y1="75.30" x2="398.39" y2="76.30" stroke="#555" stroke-width="0.4"/>
<line x1="401.63" y1="75.30" x2="401.63" y2="76.30" stroke="#555" stroke-width="0.4"/>
<line x1="404.86" y1="75.30" x2="404.86" y2="76.30" stroke="#555" stroke-width="0.4"/>
<line x1="408.10" y1="75.30" x2="408.10" y2="76.30" stroke="#555" stroke-width="0.4"/>
<clipPath id="cp15"><rect x="371.00" y="89.60" width="38.60" height="50.60"/></clipPath><g clip-path="url(#cp15)">
<rect x="394.66" y="115.63" width="0.75" height="0.75" fill="#222"/>
<rect x="399.30" y="109.60" width="0.75" height="0.75" fill="#222"/>
<rect x="386.40" y="104.52" width="0.75" height="0.75" fill="#222"/>
<rect x="394.58" y="112.84" width="0.75" height="0.75" fill="#222"/>
<rect x="381.25" y="105.58" width="0.75" height="0.75" fill="#222"/>
<rect x="386.86" y="99.29" width="0.75" height="0.75" fill="#222"/>
<rect x="398.16" y="106.36" width="0.75" height="0.75" fill="#222"/>
<rect x="393.72" y="109.31" width="0.75" height="0.75" fill="#222"/>
<rect x="402.36" y="116.97" width="0.75" height="0.75" fill="#222"/>
<rect x="380.25" y="106.99" width="0.75" height="0.75" fill="#222"/>
<rect x="403.33" y="107.76" width="0.75" height="0.75" fill="#222"/>
<rect x="392.09" y="100.42" width="0.75" height="0.75" fill="#222"/>
<rect x="391.67" y="108.30" width="0.75" height="0.75" fill="#222"/>
<rect x="384.00" y="104.70" width="0.75" height="0.75" fill="#222"/>
<rect x="388.11" y="106.40" width="0.75" height="0.75" fill="#222"/>
<rect x="398.59" y="123.85" width="0.75" height="0.75" fill="#222"/>
<rect x="386.50" y="102.11" width="0.75" height="0.75" fill="#222"/>
<rect x="391.17" y="119.93" width="0.75" height="0.75" fill="#222"/>
<rect x="386.33" y="127.57" width="0.75" height="0.75" fill="#222"/>
<rect x="395.26" y="103.26" width="0.75" height="0.75" fill="#222"/>
<rect x="397.79" y="127.02" width="0.75" height="0.75" fill="#222"/>
<rect x="395.03" y="119.28" width="0.75" height="0.75" fill="#222"/>
<rect x="389.36" y="109.44" width="0.75" height="0.75" fill="#222"/>
<rect x="381.23" y="122.12" width="0.75" height="0.75" fill="#222"/>
<rect x="394.46" y="104.67" width="0.75" height="0.75" fill="#222"/>
<rect x="397.15" y="110.33" width="0.75" height="0.75" fill="#222"/>
<rect x="398.19" y="113.87" width="0.75" height="0.75" fill="#222"/>
<rect x="396.60" y="105.78" width="0.75" height="0.75" fill="#222"/>
<rect x="402.61" y="110.46" width="0.75" height="0.75" fill="#222"/>
<rect x="403.53" y="118.91" width="0.75" height="0.75" fill="#222"/>
<rect x="385.04" y="121.46" width="0.75" height="0.75" fill="#222"/>
<rect x="390.70" y="112.75" width="0.75" height="0.75" fill="#222"/>
<rect x="386.60" y="104.84" width="0.75" height="0.75" fill="#222"/>
<rect x="386.22" y="124.77" width="0.75" height="0.75" fill="#222"/>
<rect x="398.77" y="104.03" width="0.75" height="0.75" fill="#222"/>
<rect x="390.26" y="119.51" width="0.75" height="0.75" fill="#222"/>
<rect x="383.78" y="103.78" width="0.75" height="0.75" fill="#222"/>
<rect x="382.22" y="97.88" width="0.75" height="0.75" fill="#222"/>
<rect x="397.84" y="100.55" width="0.75" height="0.75" fill="#222"/>
<rect x="387.06" y="110.11" width="0.75" height="0.75" fill="#222"/>
<path d="M380.25,131.25 Q375.50,131.00 375.00,125.00 Q374.50,119.00 375.25,112.50 Q376.00,106.00 378.00,103.50 Q380.00,101.00 383.50,101.25 Q387.00,101.50 390.00,104.75 Q393.00,108.00 394.00,113.00 Q395.00,118.00 393.50,122.50 Q392.00,127.00 388.50,129.25 Q385.00,131.50 380.25,131.25 Z" stroke="none" stroke-width="1" fill="#777" fill-opacity="0.12"/>
<path d="M380.74,124.59 Q379.07,124.50 378.90,122.40 Q378.73,120.30 378.99,118.03 Q379.25,115.75 379.95,114.88 Q380.65,114.00 381.88,114.09 Q383.10,114.17 384.15,115.31 Q385.20,116.45 385.55,118.20 Q385.90,119.95 385.38,121.53 Q384.85,123.10 383.62,123.89 Q382.40,124.67 380.74,124.59 Z" stroke="none" stroke-width="1" fill="#222" fill-opacity="0.35"/>
<path d="M380.25,131.25 Q375.50,131.00 375.00,125.00 Q374.50,119.00 375.25,112.50 Q376.00,106.00 378.00,103.50 Q380.00,101.00 383.50,101.25 Q387.00,101.50 390.00,104.75 Q393.00,108.00 394.00,113.00 Q395.00,118.00 393.50,122.50 Q392.00,127.00 388.50,129.25 Q385.00,131.50 380.25,131.25 Z" stroke="#222" stroke-width="0.7" fill="none"/>
<path d="M380.33,130.11 Q376.11,129.89 375.67,124.56 Q375.22,119.22 375.89,113.44 Q376.56,107.67 378.33,105.44 Q380.11,103.22 383.22,103.44 Q386.33,103.67 389.00,106.56 Q391.67,109.44 392.56,113.89 Q393.44,118.33 392.11,122.33 Q390.78,126.33 387.67,128.33 Q384.56,130.33 380.33,130.11 Z" stroke="#777" stroke-width="0.45733333333333326" fill="none"/>
<path d="M380.42,128.97 Q376.72,128.78 376.33,124.11 Q375.94,119.44 376.53,114.39 Q377.11,109.33 378.67,107.39 Q380.22,105.44 382.94,105.64 Q385.67,105.83 388.00,108.36 Q390.33,110.89 391.11,114.78 Q391.89,118.67 390.72,122.17 Q389.56,125.67 386.83,127.42 Q384.11,129.17 380.42,128.97 Z" stroke="#777" stroke-width="0.49466666666666664" fill="none"/>
<path d="M380.50,127.83 Q377.33,127.67 377.00,123.67 Q376.67,119.67 377.17,115.33 Q377.67,111.00 379.00,109.33 Q380.33,107.67 382.67,107.83 Q385.00,108.00 387.00,110.17 Q389.00,112.33 389.67,115.67 Q390.33,119.00 389.33,122.00 Q388.33,125.00 386.00,126.50 Q383.67,128.00 380.50,127.83 Z" stroke="#777" stroke-width="0.5319999999999999" fill="none"/>
<path d="M380.58,126.69 Q377.94,126.56 377.67,123.22 Q377.39,119.89 377.81,116.28 Q378.22,112.67 379.33,111.28 Q380.44,109.89 382.39,110.03 Q384.33,110.17 386.00,111.97 Q387.67,113.78 388.22,116.56 Q388.78,119.33 387.94,121.83 Q387.11,124.33 385.17,125.58 Q383.22,126.83 380.58,126.69 Z" stroke="#777" stroke-width="0.5693333333333334" fill="none"/>
<path d="M380.67,125.56 Q378.56,125.44 378.33,122.78 Q378.11,120.11 378.44,117.22 Q378.78,114.33 379.67,113.22 Q380.56,112.11 382.11,112.22 Q383.67,112.33 385.00,113.78 Q386.33,115.22 386.78,117.44 Q387.22,119.67 386.56,121.67 Q385.89,123.67 384.33,124.67 Q382.78,125.67 380.67,125.56 Z" stroke="#777" stroke-width="0.6066666666666667" fill="none"/>
<path d="M380.75,124.42 Q379.17,124.33 379.00,122.33 Q378.83,120.33 379.08,118.17 Q379.33,116.00 380.00,115.17 Q380.67,114.33 381.83,114.42 Q383.00,114.50 384.00,115.58 Q385.00,116.67 385.33,118.33 Q385.67,120.00 385.17,121.50 Q384.67,123.00 383.50,123.75 Q382.33,124.50 380.75,124.42 Z" stroke="#777" stroke-width="0.644" fill="none"/>
<path d="M380.83,123.28 Q379.78,123.22 379.67,121.89 Q379.56,120.56 379.72,119.11 Q379.89,117.67 380.33,117.11 Q380.78,116.56 381.56,116.61 Q382.33,116.67 383.00,117.39 Q383.67,118.11 383.89,119.22 Q384.11,120.33 383.78,121.33 Q383.44,122.33 382.67,122.83 Q381.89,123.33 380.83,123.28 Z" stroke="#777" stroke-width="0.6813333333333333" fill="none"/>
<path d="M380.92,122.14 Q380.39,122.11 380.33,121.44 Q380.28,120.78 380.36,120.06 Q380.44,119.33 380.67,119.06 Q380.89,118.78 381.28,118.81 Q381.67,118.83 382.00,119.19 Q382.33,119.56 382.44,120.11 Q382.56,120.67 382.39,121.17 Q382.22,121.67 381.83,121.92 Q381.44,122.17 380.92,122.14 Z" stroke="#777" stroke-width="0.7186666666666667" fill="none"/>
<ellipse cx="380.40" cy="124.40" rx="3.60" ry="5.60" transform="rotate(25 380.40 124.40)" fill="#ddd" stroke="#000" stroke-width="1.3"/>
<ellipse cx="380.40" cy="124.40" rx="1.50" ry="2.80" transform="rotate(25 380.40 124.40)" fill="#fff"/>
</g>
<line x1="385.50" y1="89.60" x2="385.50" y2="140.20" stroke="#a8a8a8" stroke-width="0.6"/>
<line x1="371.00" y1="118.60" x2="409.60" y2="118.60" stroke="#a8a8a8" stroke-width="0.6"/>
<rect x="371.00" y="89.60" width="38.60" height="50.60" fill="none" stroke="#3a3a3a" stroke-width="1.0"/>
<line x1="372.50" y1="140.20" x2="372.50" y2="141.20" stroke="#555" stroke-width="0.4"/>
<line x1="375.74" y1="140.20" x2="375.74" y2="141.20" stroke="#555" stroke-width="0.4"/>
<line x1="378.97" y1="140.20" x2="378.97" y2="141.20" stroke="#555" stroke-width="0.4"/>
<line x1="382.21" y1="140.20" x2="382.21" y2="141.20" stroke="#555" stroke-width="0.4"/>
<line x1="385.45" y1="140.20" x2="385.45" y2="141.20" stroke="#555" stroke-width="0.4"/>
<line x1="388.68" y1="140.20" x2="388.68" y2="141.20" stroke="#555" stroke-width="0.4"/>
<line x1="391.92" y1="140.20" x2="391.92" y2="141.20" stroke="#555" stroke-width="0.4"/>
<line x1="395.15" y1="140.20" x2="395.15" y2="141.20" stroke="#555" stroke-width="0.4"/>
<line x1="398.39" y1="140.20" x2="398.39" y2="141.20" stroke="#555" stroke-width="0.4"/>
<line x1="401.63" y1="140.20" x2="401.63" y2="141.20" stroke="#555" stroke-width="0.4"/>
<line x1="404.86" y1="140.20" x2="404.86" y2="141.20" stroke="#555" stroke-width="0.4"/>
<line x1="408.10" y1="140.20" x2="408.10" y2="141.20" stroke="#555" stroke-width="0.4"/>
<clipPath id="cp06"><rect x="422.70" y="25.30" width="39.20" height="50.00"/></clipPath><g clip-path="url(#cp06)">
<rect x="450.83" y="47.36" width="0.75" height="0.75" fill="#222"/>
<rect x="450.62" y="54.53" width="0.75" height="0.75" fill="#222"/>
<rect x="443.92" y="48.53" width="0.75" height="0.75" fill="#222"/>
<rect x="454.94" y="42.70" width="0.75" height="0.75" fill="#222"/>
<rect x="449.38" y="48.86" width="0.75" height="0.75" fill="#222"/>
<rect x="446.04" y="51.82" width="0.75" height="0.75" fill="#222"/>
<rect x="434.17" y="44.12" width="0.75" height="0.75" fill="#222"/>
<rect x="449.68" y="46.77" width="0.75" height="0.75" fill="#222"/>
<rect x="451.15" y="46.67" width="0.75" height="0.75" fill="#222"/>
<rect x="436.50" y="48.15" width="0.75" height="0.75" fill="#222"/>
<rect x="445.06" y="50.66" width="0.75" height="0.75" fill="#222"/>
<rect x="442.80" y="54.30" width="0.75" height="0.75" fill="#222"/>
<rect x="451.91" y="51.44" width="0.75" height="0.75" fill="#222"/>
<rect x="446.74" y="43.79" width="0.75" height="0.75" fill="#222"/>
<rect x="450.02" y="53.35" width="0.75" height="0.75" fill="#222"/>
<rect x="443.32" y="56.99" width="0.75" height="0.75" fill="#222"/>
<rect x="442.65" y="39.41" width="0.75" height="0.75" fill="#222"/>
<rect x="452.31" y="49.97" width="0.75" height="0.75" fill="#222"/>
<rect x="442.36" y="52.21" width="0.75" height="0.75" fill="#222"/>
<rect x="449.00" y="52.09" width="0.75" height="0.75" fill="#222"/>
<rect x="449.21" y="50.59" width="0.75" height="0.75" fill="#222"/>
<rect x="429.85" y="46.69" width="0.75" height="0.75" fill="#222"/>
<rect x="439.28" y="50.02" width="0.75" height="0.75" fill="#222"/>
<rect x="443.28" y="39.42" width="0.75" height="0.75" fill="#222"/>
<rect x="448.42" y="49.37" width="0.75" height="0.75" fill="#222"/>
<rect x="439.41" y="51.33" width="0.75" height="0.75" fill="#222"/>
<rect x="447.47" y="52.63" width="0.75" height="0.75" fill="#222"/>
<rect x="441.90" y="47.79" width="0.75" height="0.75" fill="#222"/>
<rect x="445.78" y="49.87" width="0.75" height="0.75" fill="#222"/>
<rect x="451.62" y="47.41" width="0.75" height="0.75" fill="#222"/>
<rect x="449.71" y="52.60" width="0.75" height="0.75" fill="#222"/>
<rect x="451.91" y="46.34" width="0.75" height="0.75" fill="#222"/>
<rect x="449.78" y="45.23" width="0.75" height="0.75" fill="#222"/>
<rect x="454.08" y="49.82" width="0.75" height="0.75" fill="#222"/>
<rect x="437.75" y="43.74" width="0.75" height="0.75" fill="#222"/>
<rect x="440.29" y="49.33" width="0.75" height="0.75" fill="#222"/>
<rect x="455.89" y="52.69" width="0.75" height="0.75" fill="#222"/>
<rect x="446.04" y="47.77" width="0.75" height="0.75" fill="#222"/>
<rect x="439.45" y="54.76" width="0.75" height="0.75" fill="#222"/>
<rect x="438.51" y="46.78" width="0.75" height="0.75" fill="#222"/>
<rect x="453.62" y="48.17" width="0.75" height="0.75" fill="#222"/>
<rect x="451.22" y="46.16" width="0.75" height="0.75" fill="#222"/>
<rect x="456.03" y="47.31" width="0.75" height="0.75" fill="#222"/>
<rect x="443.68" y="43.48" width="0.75" height="0.75" fill="#222"/>
<rect x="450.22" y="49.52" width="0.75" height="0.75" fill="#222"/>
<rect x="442.28" y="49.10" width="0.75" height="0.75" fill="#222"/>
<rect x="454.49" y="54.03" width="0.75" height="0.75" fill="#222"/>
<rect x="455.38" y="48.13" width="0.75" height="0.75" fill="#222"/>
<rect x="449.86" y="53.08" width="0.75" height="0.75" fill="#222"/>
<rect x="438.98" y="50.69" width="0.75" height="0.75" fill="#222"/>
<rect x="451.95" y="52.87" width="0.75" height="0.75" fill="#222"/>
<rect x="446.88" y="53.03" width="0.75" height="0.75" fill="#222"/>
<rect x="456.12" y="47.02" width="0.75" height="0.75" fill="#222"/>
<rect x="448.59" y="49.83" width="0.75" height="0.75" fill="#222"/>
<rect x="437.55" y="50.15" width="0.75" height="0.75" fill="#222"/>
<rect x="443.87" y="49.41" width="0.75" height="0.75" fill="#222"/>
<rect x="442.42" y="53.34" width="0.75" height="0.75" fill="#222"/>
<rect x="457.31" y="43.29" width="0.75" height="0.75" fill="#222"/>
<rect x="449.25" y="58.21" width="0.75" height="0.75" fill="#222"/>
<rect x="442.96" y="42.32" width="0.75" height="0.75" fill="#222"/>
<rect x="433.21" y="50.21" width="0.75" height="0.75" fill="#222"/>
<rect x="457.31" y="46.64" width="0.75" height="0.75" fill="#222"/>
<rect x="443.94" y="49.48" width="0.75" height="0.75" fill="#222"/>
<rect x="441.71" y="48.27" width="0.75" height="0.75" fill="#222"/>
<rect x="447.16" y="50.17" width="0.75" height="0.75" fill="#222"/>
<rect x="450.85" y="53.03" width="0.75" height="0.75" fill="#222"/>
<rect x="453.59" y="50.92" width="0.75" height="0.75" fill="#222"/>
<rect x="440.98" y="44.74" width="0.75" height="0.75" fill="#222"/>
<rect x="442.78" y="46.28" width="0.75" height="0.75" fill="#222"/>
<rect x="445.90" y="50.67" width="0.75" height="0.75" fill="#222"/>
<rect x="450.00" y="46.69" width="0.75" height="0.75" fill="#222"/>
<rect x="439.63" y="44.04" width="0.75" height="0.75" fill="#222"/>
<rect x="449.75" y="50.14" width="0.75" height="0.75" fill="#222"/>
<rect x="446.41" y="47.92" width="0.75" height="0.75" fill="#222"/>
<rect x="454.05" y="48.99" width="0.75" height="0.75" fill="#222"/>
<rect x="449.79" y="45.12" width="0.75" height="0.75" fill="#222"/>
<rect x="450.32" y="44.17" width="0.75" height="0.75" fill="#222"/>
<rect x="448.97" y="42.46" width="0.75" height="0.75" fill="#222"/>
<rect x="451.27" y="49.92" width="0.75" height="0.75" fill="#222"/>
<rect x="451.45" y="50.38" width="0.75" height="0.75" fill="#222"/>
<rect x="451.61" y="46.93" width="0.75" height="0.75" fill="#222"/>
<rect x="443.53" y="50.65" width="0.75" height="0.75" fill="#222"/>
<rect x="452.38" y="50.39" width="0.75" height="0.75" fill="#222"/>
<rect x="457.74" y="51.15" width="0.75" height="0.75" fill="#222"/>
<rect x="442.76" y="43.19" width="0.75" height="0.75" fill="#222"/>
<rect x="453.08" y="48.89" width="0.75" height="0.75" fill="#222"/>
<rect x="442.32" y="51.22" width="0.75" height="0.75" fill="#222"/>
<rect x="440.91" y="48.66" width="0.75" height="0.75" fill="#222"/>
<rect x="449.88" y="48.77" width="0.75" height="0.75" fill="#222"/>
<rect x="445.87" y="50.61" width="0.75" height="0.75" fill="#222"/>
<path d="M431.50,66.25 Q425.00,66.00 425.50,61.50 Q426.00,57.00 429.50,54.25 Q433.00,51.50 438.50,50.75 Q444.00,50.00 448.00,51.00 Q452.00,52.00 453.50,54.75 Q455.00,57.50 452.50,60.25 Q450.00,63.00 444.00,64.75 Q438.00,66.50 431.50,66.25 Z" stroke="none" stroke-width="1" fill="#777" fill-opacity="0.15"/>
<path d="M431.17,63.49 Q428.90,63.40 429.07,61.83 Q429.25,60.25 430.48,59.29 Q431.70,58.33 433.62,58.06 Q435.55,57.80 436.95,58.15 Q438.35,58.50 438.88,59.46 Q439.40,60.42 438.52,61.39 Q437.65,62.35 435.55,62.96 Q433.45,63.58 431.17,63.49 Z" stroke="none" stroke-width="1" fill="#222" fill-opacity="0.35"/>
<path d="M431.50,66.25 Q425.00,66.00 425.50,61.50 Q426.00,57.00 429.50,54.25 Q433.00,51.50 438.50,50.75 Q444.00,50.00 448.00,51.00 Q452.00,52.00 453.50,54.75 Q455.00,57.50 452.50,60.25 Q450.00,63.00 444.00,64.75 Q438.00,66.50 431.50,66.25 Z" stroke="#222" stroke-width="0.7" fill="none"/>
<path d="M431.43,65.65 Q425.85,65.43 426.28,61.57 Q426.71,57.71 429.71,55.35 Q432.72,52.99 437.44,52.35 Q442.15,51.70 445.59,52.56 Q449.02,53.42 450.31,55.78 Q451.59,58.14 449.45,60.50 Q447.30,62.86 442.15,64.36 Q437.01,65.86 431.43,65.65 Z" stroke="#444" stroke-width="0.45733333333333326" fill="none"/>
<path d="M431.36,65.07 Q426.67,64.89 427.03,61.64 Q427.39,58.39 429.92,56.41 Q432.44,54.43 436.41,53.89 Q440.38,53.34 443.26,54.07 Q446.15,54.79 447.23,56.77 Q448.31,58.75 446.51,60.74 Q444.70,62.72 440.38,63.98 Q436.05,65.25 431.36,65.07 Z" stroke="#444" stroke-width="0.49466666666666664" fill="none"/>
<path d="M431.30,64.51 Q427.46,64.36 427.75,61.70 Q428.05,59.05 430.11,57.43 Q432.18,55.80 435.43,55.36 Q438.67,54.92 441.04,55.51 Q443.40,56.10 444.28,57.72 Q445.17,59.34 443.69,60.97 Q442.22,62.59 438.67,63.62 Q435.13,64.66 431.30,64.51 Z" stroke="#444" stroke-width="0.5319999999999999" fill="none"/>
<path d="M431.23,63.98 Q428.21,63.86 428.44,61.77 Q428.67,59.67 430.30,58.39 Q431.93,57.11 434.49,56.76 Q437.05,56.41 438.92,56.88 Q440.78,57.34 441.48,58.62 Q442.18,59.90 441.01,61.18 Q439.85,62.47 437.05,63.28 Q434.26,64.10 431.23,63.98 Z" stroke="#444" stroke-width="0.5693333333333334" fill="none"/>
<path d="M431.17,63.48 Q428.91,63.39 429.08,61.83 Q429.26,60.26 430.48,59.30 Q431.70,58.34 433.61,58.08 Q435.53,57.82 436.92,58.17 Q438.32,58.52 438.84,59.47 Q439.36,60.43 438.49,61.39 Q437.62,62.35 435.53,62.96 Q433.44,63.57 431.17,63.48 Z" stroke="#444" stroke-width="0.6066666666666667" fill="none"/>
<path d="M431.12,63.02 Q429.56,62.96 429.68,61.88 Q429.80,60.80 430.64,60.14 Q431.48,59.48 432.80,59.30 Q434.12,59.12 435.08,59.36 Q436.03,59.60 436.39,60.26 Q436.75,60.92 436.15,61.58 Q435.56,62.24 434.12,62.66 Q432.68,63.08 431.12,63.02 Z" stroke="#444" stroke-width="0.644" fill="none"/>
<path d="M431.07,62.60 Q430.15,62.57 430.22,61.93 Q430.29,61.29 430.79,60.90 Q431.28,60.51 432.06,60.41 Q432.84,60.30 433.41,60.44 Q433.97,60.58 434.18,60.97 Q434.40,61.36 434.04,61.75 Q433.69,62.14 432.84,62.39 Q431.99,62.64 431.07,62.60 Z" stroke="#444" stroke-width="0.6813333333333333" fill="none"/>
<path d="M431.03,62.24 Q430.66,62.23 430.68,61.97 Q430.71,61.71 430.91,61.55 Q431.11,61.40 431.43,61.35 Q431.75,61.31 431.98,61.37 Q432.21,61.43 432.29,61.58 Q432.38,61.74 432.24,61.90 Q432.09,62.06 431.75,62.16 Q431.40,62.26 431.03,62.24 Z" stroke="#444" stroke-width="0.7186666666666667" fill="none"/>
<ellipse cx="431.00" cy="62.00" rx="0.90" ry="0.60" transform="rotate(0 431.00 62.00)" fill="#fff"/>
</g>
<line x1="436.20" y1="25.30" x2="436.20" y2="75.30" stroke="#a8a8a8" stroke-width="0.6"/>
<line x1="422.70" y1="54.30" x2="461.90" y2="54.30" stroke="#a8a8a8" stroke-width="0.6"/>
<rect x="422.70" y="25.30" width="39.20" height="50.00" fill="none" stroke="#3a3a3a" stroke-width="1.0"/>
<line x1="424.20" y1="75.30" x2="424.20" y2="76.30" stroke="#555" stroke-width="0.4"/>
<line x1="427.49" y1="75.30" x2="427.49" y2="76.30" stroke="#555" stroke-width="0.4"/>
<line x1="430.78" y1="75.30" x2="430.78" y2="76.30" stroke="#555" stroke-width="0.4"/>
<line x1="434.07" y1="75.30" x2="434.07" y2="76.30" stroke="#555" stroke-width="0.4"/>
<line x1="437.36" y1="75.30" x2="437.36" y2="76.30" stroke="#555" stroke-width="0.4"/>
<line x1="440.65" y1="75.30" x2="440.65" y2="76.30" stroke="#555" stroke-width="0.4"/>
<line x1="443.95" y1="75.30" x2="443.95" y2="76.30" stroke="#555" stroke-width="0.4"/>
<line x1="447.24" y1="75.30" x2="447.24" y2="76.30" stroke="#555" stroke-width="0.4"/>
<line x1="450.53" y1="75.30" x2="450.53" y2="76.30" stroke="#555" stroke-width="0.4"/>
<line x1="453.82" y1="75.30" x2="453.82" y2="76.30" stroke="#555" stroke-width="0.4"/>
<line x1="457.11" y1="75.30" x2="457.11" y2="76.30" stroke="#555" stroke-width="0.4"/>
<line x1="460.40" y1="75.30" x2="460.40" y2="76.30" stroke="#555" stroke-width="0.4"/>
<clipPath id="cp16"><rect x="422.70" y="89.60" width="39.20" height="50.60"/></clipPath><g clip-path="url(#cp16)">
<rect x="433.66" y="110.78" width="0.75" height="0.75" fill="#222"/>
<rect x="433.63" y="112.43" width="0.75" height="0.75" fill="#222"/>
<rect x="431.08" y="115.19" width="0.75" height="0.75" fill="#222"/>
<rect x="443.96" y="109.83" width="0.75" height="0.75" fill="#222"/>
<rect x="438.70" y="109.61" width="0.75" height="0.75" fill="#222"/>
<rect x="441.47" y="104.84" width="0.75" height="0.75" fill="#222"/>
<rect x="435.43" y="116.15" width="0.75" height="0.75" fill="#222"/>
<rect x="444.29" y="110.92" width="0.75" height="0.75" fill="#222"/>
<rect x="436.52" y="118.92" width="0.75" height="0.75" fill="#222"/>
<rect x="448.79" y="117.72" width="0.75" height="0.75" fill="#222"/>
<rect x="438.88" y="122.47" width="0.75" height="0.75" fill="#222"/>
<rect x="431.55" y="110.98" width="0.75" height="0.75" fill="#222"/>
<rect x="437.11" y="104.78" width="0.75" height="0.75" fill="#222"/>
<rect x="431.49" y="108.45" width="0.75" height="0.75" fill="#222"/>
<rect x="435.74" y="116.08" width="0.75" height="0.75" fill="#222"/>
<rect x="445.64" y="109.99" width="0.75" height="0.75" fill="#222"/>
<rect x="441.55" y="99.08" width="0.75" height="0.75" fill="#222"/>
<rect x="433.98" y="106.63" width="0.75" height="0.75" fill="#222"/>
<rect x="436.59" y="112.96" width="0.75" height="0.75" fill="#222"/>
<rect x="438.35" y="114.57" width="0.75" height="0.75" fill="#222"/>
<rect x="438.65" y="102.19" width="0.75" height="0.75" fill="#222"/>
<rect x="431.08" y="101.32" width="0.75" height="0.75" fill="#222"/>
<rect x="443.65" y="118.28" width="0.75" height="0.75" fill="#222"/>
<rect x="436.20" y="118.61" width="0.75" height="0.75" fill="#222"/>
<rect x="437.88" y="106.91" width="0.75" height="0.75" fill="#222"/>
<rect x="431.40" y="110.59" width="0.75" height="0.75" fill="#222"/>
<rect x="440.74" y="117.28" width="0.75" height="0.75" fill="#222"/>
<rect x="438.47" y="106.94" width="0.75" height="0.75" fill="#222"/>
<rect x="436.70" y="127.25" width="0.75" height="0.75" fill="#222"/>
<rect x="438.91" y="112.59" width="0.75" height="0.75" fill="#222"/>
<rect x="436.89" y="114.55" width="0.75" height="0.75" fill="#222"/>
<rect x="436.08" y="115.63" width="0.75" height="0.75" fill="#222"/>
<rect x="429.45" y="106.60" width="0.75" height="0.75" fill="#222"/>
<rect x="435.25" y="107.64" width="0.75" height="0.75" fill="#222"/>
<rect x="437.80" y="110.52" width="0.75" height="0.75" fill="#222"/>
<rect x="433.35" y="121.02" width="0.75" height="0.75" fill="#222"/>
<rect x="441.28" y="110.49" width="0.75" height="0.75" fill="#222"/>
<rect x="431.07" y="109.79" width="0.75" height="0.75" fill="#222"/>
<rect x="434.41" y="114.77" width="0.75" height="0.75" fill="#222"/>
<rect x="436.69" y="123.07" width="0.75" height="0.75" fill="#222"/>
<rect x="435.60" y="113.54" width="0.75" height="0.75" fill="#222"/>
<rect x="436.73" y="108.76" width="0.75" height="0.75" fill="#222"/>
<rect x="432.02" y="122.79" width="0.75" height="0.75" fill="#222"/>
<rect x="436.22" y="114.31" width="0.75" height="0.75" fill="#222"/>
<rect x="434.33" y="129.72" width="0.75" height="0.75" fill="#222"/>
<rect x="437.87" y="112.94" width="0.75" height="0.75" fill="#222"/>
<rect x="439.29" y="111.78" width="0.75" height="0.75" fill="#222"/>
<rect x="443.34" y="121.41" width="0.75" height="0.75" fill="#222"/>
<rect x="430.18" y="119.99" width="0.75" height="0.75" fill="#222"/>
<rect x="443.57" y="119.65" width="0.75" height="0.75" fill="#222"/>
<rect x="439.60" y="114.99" width="0.75" height="0.75" fill="#222"/>
<rect x="436.63" y="111.75" width="0.75" height="0.75" fill="#222"/>
<rect x="430.23" y="102.02" width="0.75" height="0.75" fill="#222"/>
<rect x="435.11" y="107.87" width="0.75" height="0.75" fill="#222"/>
<rect x="432.78" y="102.33" width="0.75" height="0.75" fill="#222"/>
<rect x="438.74" y="115.21" width="0.75" height="0.75" fill="#222"/>
<rect x="431.51" y="116.16" width="0.75" height="0.75" fill="#222"/>
<rect x="440.70" y="121.23" width="0.75" height="0.75" fill="#222"/>
<rect x="440.50" y="113.16" width="0.75" height="0.75" fill="#222"/>
<rect x="439.80" y="111.23" width="0.75" height="0.75" fill="#222"/>
<rect x="439.35" y="116.26" width="0.75" height="0.75" fill="#222"/>
<rect x="439.27" y="112.16" width="0.75" height="0.75" fill="#222"/>
<rect x="441.36" y="111.62" width="0.75" height="0.75" fill="#222"/>
<rect x="439.73" y="105.29" width="0.75" height="0.75" fill="#222"/>
<rect x="443.20" y="117.30" width="0.75" height="0.75" fill="#222"/>
<rect x="434.30" y="114.11" width="0.75" height="0.75" fill="#222"/>
<rect x="442.78" y="111.29" width="0.75" height="0.75" fill="#222"/>
<rect x="434.70" y="117.95" width="0.75" height="0.75" fill="#222"/>
<rect x="438.57" y="120.63" width="0.75" height="0.75" fill="#222"/>
<rect x="432.21" y="118.68" width="0.75" height="0.75" fill="#222"/>
<rect x="433.76" y="109.43" width="0.75" height="0.75" fill="#222"/>
<rect x="434.93" y="122.98" width="0.75" height="0.75" fill="#222"/>
<rect x="436.84" y="104.63" width="0.75" height="0.75" fill="#222"/>
<rect x="442.46" y="117.76" width="0.75" height="0.75" fill="#222"/>
<rect x="441.98" y="105.37" width="0.75" height="0.75" fill="#222"/>
<rect x="433.58" y="119.51" width="0.75" height="0.75" fill="#222"/>
<rect x="431.78" y="117.47" width="0.75" height="0.75" fill="#222"/>
<rect x="439.34" y="116.40" width="0.75" height="0.75" fill="#222"/>
<rect x="438.93" y="107.47" width="0.75" height="0.75" fill="#222"/>
<rect x="440.82" y="115.21" width="0.75" height="0.75" fill="#222"/>
<rect x="436.45" y="112.08" width="0.75" height="0.75" fill="#222"/>
<rect x="442.86" y="112.12" width="0.75" height="0.75" fill="#222"/>
<rect x="442.81" y="110.87" width="0.75" height="0.75" fill="#222"/>
<rect x="438.96" y="102.49" width="0.75" height="0.75" fill="#222"/>
<rect x="441.45" y="104.97" width="0.75" height="0.75" fill="#222"/>
<rect x="443.26" y="102.92" width="0.75" height="0.75" fill="#222"/>
<rect x="430.73" y="117.26" width="0.75" height="0.75" fill="#222"/>
<rect x="436.48" y="122.13" width="0.75" height="0.75" fill="#222"/>
<rect x="451.56" y="104.60" width="0.75" height="0.75" fill="#222"/>
<rect x="437.56" y="109.46" width="0.75" height="0.75" fill="#222"/>
<rect x="439.06" y="117.24" width="0.75" height="0.75" fill="#222"/>
<rect x="441.75" y="113.22" width="0.75" height="0.75" fill="#222"/>
<rect x="432.84" y="111.16" width="0.75" height="0.75" fill="#222"/>
<rect x="439.84" y="102.33" width="0.75" height="0.75" fill="#222"/>
<rect x="436.41" y="120.03" width="0.75" height="0.75" fill="#222"/>
<rect x="433.58" y="116.09" width="0.75" height="0.75" fill="#222"/>
<rect x="440.56" y="120.95" width="0.75" height="0.75" fill="#222"/>
<rect x="439.53" y="106.07" width="0.75" height="0.75" fill="#222"/>
<rect x="436.13" y="118.77" width="0.75" height="0.75" fill="#222"/>
<ellipse cx="432.04" cy="123.32" rx="5.85" ry="7.65" transform="rotate(30 432.04 123.32)" fill="#666" fill-opacity="0.20"/>
<ellipse cx="430.84" cy="124.22" rx="3.25" ry="4.25" transform="rotate(30 430.84 124.22)" fill="#111" fill-opacity="0.75"/>
<ellipse cx="433.00" cy="122.60" rx="7.00" ry="9.00" transform="rotate(30 433.00 122.60)" fill="none" stroke="#333" stroke-width="0.45"/>
<ellipse cx="432.70" cy="122.83" rx="6.06" ry="7.77" transform="rotate(30 432.70 122.83)" fill="none" stroke="#333" stroke-width="0.51"/>
<ellipse cx="432.40" cy="123.05" rx="5.14" ry="6.57" transform="rotate(30 432.40 123.05)" fill="none" stroke="#333" stroke-width="0.56"/>
<ellipse cx="432.10" cy="123.28" rx="4.25" ry="5.40" transform="rotate(30 432.10 123.28)" fill="none" stroke="#333" stroke-width="0.62"/>
<ellipse cx="431.80" cy="123.50" rx="3.39" ry="4.28" transform="rotate(30 431.80 123.50)" fill="none" stroke="#333" stroke-width="0.68"/>
<ellipse cx="431.50" cy="123.73" rx="2.56" ry="3.20" transform="rotate(30 431.50 123.73)" fill="none" stroke="#333" stroke-width="0.73"/>
<ellipse cx="431.20" cy="123.95" rx="1.78" ry="2.18" transform="rotate(30 431.20 123.95)" fill="none" stroke="#333" stroke-width="0.79"/>
<ellipse cx="430.90" cy="124.18" rx="1.07" ry="1.25" transform="rotate(30 430.90 124.18)" fill="none" stroke="#333" stroke-width="0.84"/>
<ellipse cx="430.60" cy="124.40" rx="0.90" ry="0.60" transform="rotate(30 430.60 124.40)" fill="#fff"/>
</g>
<line x1="436.20" y1="89.60" x2="436.20" y2="140.20" stroke="#a8a8a8" stroke-width="0.6"/>
<line x1="422.70" y1="118.60" x2="461.90" y2="118.60" stroke="#a8a8a8" stroke-width="0.6"/>
<rect x="422.70" y="89.60" width="39.20" height="50.60" fill="none" stroke="#3a3a3a" stroke-width="1.0"/>
<line x1="424.20" y1="140.20" x2="424.20" y2="141.20" stroke="#555" stroke-width="0.4"/>
<line x1="427.49" y1="140.20" x2="427.49" y2="141.20" stroke="#555" stroke-width="0.4"/>
<line x1="430.78" y1="140.20" x2="430.78" y2="141.20" stroke="#555" stroke-width="0.4"/>
<line x1="434.07" y1="140.20" x2="434.07" y2="141.20" stroke="#555" stroke-width="0.4"/>
<line x1="437.36" y1="140.20" x2="437.36" y2="141.20" stroke="#555" stroke-width="0.4"/>
<line x1="440.65" y1="140.20" x2="440.65" y2="141.20" stroke="#555" stroke-width="0.4"/>
<line x1="443.95" y1="140.20" x2="443.95" y2="141.20" stroke="#555" stroke-width="0.4"/>
<line x1="447.24" y1="140.20" x2="447.24" y2="141.20" stroke="#555" stroke-width="0.4"/>
<line x1="450.53" y1="140.20" x2="450.53" y2="141.20" stroke="#555" stroke-width="0.4"/>
<line x1="453.82" y1="140.20" x2="453.82" y2="141.20" stroke="#555" stroke-width="0.4"/>
<line x1="457.11" y1="140.20" x2="457.11" y2="141.20" stroke="#555" stroke-width="0.4"/>
<line x1="460.40" y1="140.20" x2="460.40" y2="141.20" stroke="#555" stroke-width="0.4"/>
<clipPath id="cp07"><rect x="474.90" y="25.30" width="39.00" height="50.00"/></clipPath><g clip-path="url(#cp07)">
<rect x="503.69" y="53.67" width="0.75" height="0.75" fill="#222"/>
<rect x="491.60" y="49.84" width="0.75" height="0.75" fill="#222"/>
<rect x="489.61" y="54.94" width="0.75" height="0.75" fill="#222"/>
<rect x="492.15" y="45.50" width="0.75" height="0.75" fill="#222"/>
<rect x="481.04" y="57.43" width="0.75" height="0.75" fill="#222"/>
<rect x="502.51" y="58.46" width="0.75" height="0.75" fill="#222"/>
<rect x="501.27" y="51.29" width="0.75" height="0.75" fill="#222"/>
<rect x="494.84" y="46.85" width="0.75" height="0.75" fill="#222"/>
<rect x="482.15" y="46.80" width="0.75" height="0.75" fill="#222"/>
<rect x="496.78" y="51.30" width="0.75" height="0.75" fill="#222"/>
<rect x="493.22" y="53.04" width="0.75" height="0.75" fill="#222"/>
<rect x="502.83" y="48.11" width="0.75" height="0.75" fill="#222"/>
<rect x="504.71" y="63.69" width="0.75" height="0.75" fill="#222"/>
<rect x="489.27" y="43.49" width="0.75" height="0.75" fill="#222"/>
<rect x="494.69" y="51.56" width="0.75" height="0.75" fill="#222"/>
<rect x="493.17" y="50.44" width="0.75" height="0.75" fill="#222"/>
<rect x="501.95" y="49.34" width="0.75" height="0.75" fill="#222"/>
<rect x="500.12" y="46.17" width="0.75" height="0.75" fill="#222"/>
<rect x="502.92" y="45.49" width="0.75" height="0.75" fill="#222"/>
<rect x="491.49" y="59.15" width="0.75" height="0.75" fill="#222"/>
<rect x="504.87" y="53.23" width="0.75" height="0.75" fill="#222"/>
<rect x="495.58" y="52.19" width="0.75" height="0.75" fill="#222"/>
<rect x="496.05" y="49.41" width="0.75" height="0.75" fill="#222"/>
<rect x="488.10" y="54.26" width="0.75" height="0.75" fill="#222"/>
<rect x="482.29" y="51.82" width="0.75" height="0.75" fill="#222"/>
<rect x="506.31" y="49.69" width="0.75" height="0.75" fill="#222"/>
<rect x="502.09" y="53.49" width="0.75" height="0.75" fill="#222"/>
<rect x="499.15" y="48.52" width="0.75" height="0.75" fill="#222"/>
<rect x="492.14" y="40.29" width="0.75" height="0.75" fill="#222"/>
<rect x="501.78" y="47.83" width="0.75" height="0.75" fill="#222"/>
<rect x="493.44" y="50.40" width="0.75" height="0.75" fill="#222"/>
<rect x="508.62" y="50.90" width="0.75" height="0.75" fill="#222"/>
<rect x="489.14" y="54.69" width="0.75" height="0.75" fill="#222"/>
<rect x="497.26" y="50.08" width="0.75" height="0.75" fill="#222"/>
<rect x="487.21" y="47.33" width="0.75" height="0.75" fill="#222"/>
<rect x="492.69" y="46.07" width="0.75" height="0.75" fill="#222"/>
<rect x="497.17" y="55.03" width="0.75" height="0.75" fill="#222"/>
<rect x="489.93" y="55.21" width="0.75" height="0.75" fill="#222"/>
<rect x="498.67" y="54.38" width="0.75" height="0.75" fill="#222"/>
<rect x="501.21" y="48.05" width="0.75" height="0.75" fill="#222"/>
<rect x="506.85" y="50.24" width="0.75" height="0.75" fill="#222"/>
<rect x="484.14" y="54.42" width="0.75" height="0.75" fill="#222"/>
<rect x="483.33" y="46.75" width="0.75" height="0.75" fill="#222"/>
<rect x="497.72" y="50.26" width="0.75" height="0.75" fill="#222"/>
<rect x="477.93" y="42.30" width="0.75" height="0.75" fill="#222"/>
<rect x="494.67" y="54.75" width="0.75" height="0.75" fill="#222"/>
<rect x="495.33" y="48.30" width="0.75" height="0.75" fill="#222"/>
<rect x="494.77" y="51.42" width="0.75" height="0.75" fill="#222"/>
<rect x="493.04" y="49.51" width="0.75" height="0.75" fill="#222"/>
<rect x="497.56" y="52.17" width="0.75" height="0.75" fill="#222"/>
<rect x="491.01" y="52.81" width="0.75" height="0.75" fill="#222"/>
<rect x="501.84" y="45.52" width="0.75" height="0.75" fill="#222"/>
<rect x="496.01" y="47.54" width="0.75" height="0.75" fill="#222"/>
<rect x="482.49" y="56.92" width="0.75" height="0.75" fill="#222"/>
<rect x="490.76" y="50.48" width="0.75" height="0.75" fill="#222"/>
<rect x="489.05" y="45.58" width="0.75" height="0.75" fill="#222"/>
<rect x="505.27" y="52.86" width="0.75" height="0.75" fill="#222"/>
<rect x="490.18" y="48.80" width="0.75" height="0.75" fill="#222"/>
<rect x="493.46" y="52.31" width="0.75" height="0.75" fill="#222"/>
<rect x="496.03" y="50.78" width="0.75" height="0.75" fill="#222"/>
<rect x="482.96" y="54.57" width="0.75" height="0.75" fill="#222"/>
<rect x="495.53" y="50.31" width="0.75" height="0.75" fill="#222"/>
<rect x="504.98" y="41.31" width="0.75" height="0.75" fill="#222"/>
<rect x="497.46" y="42.51" width="0.75" height="0.75" fill="#222"/>
<rect x="483.37" y="46.73" width="0.75" height="0.75" fill="#222"/>
<rect x="489.68" y="51.39" width="0.75" height="0.75" fill="#222"/>
<rect x="500.80" y="49.02" width="0.75" height="0.75" fill="#222"/>
<rect x="494.96" y="53.56" width="0.75" height="0.75" fill="#222"/>
<rect x="494.65" y="51.37" width="0.75" height="0.75" fill="#222"/>
<rect x="490.60" y="48.34" width="0.75" height="0.75" fill="#222"/>
<rect x="501.83" y="57.08" width="0.75" height="0.75" fill="#222"/>
<rect x="493.25" y="52.17" width="0.75" height="0.75" fill="#222"/>
<rect x="492.17" y="50.10" width="0.75" height="0.75" fill="#222"/>
<rect x="498.16" y="51.08" width="0.75" height="0.75" fill="#222"/>
<rect x="495.07" y="51.32" width="0.75" height="0.75" fill="#222"/>
<rect x="487.08" y="48.43" width="0.75" height="0.75" fill="#222"/>
<rect x="491.72" y="43.99" width="0.75" height="0.75" fill="#222"/>
<rect x="495.19" y="51.67" width="0.75" height="0.75" fill="#222"/>
<rect x="497.26" y="54.17" width="0.75" height="0.75" fill="#222"/>
<rect x="491.42" y="50.21" width="0.75" height="0.75" fill="#222"/>
<path d="M482.50,66.75 Q477.00,66.50 477.50,61.75 Q478.00,57.00 481.50,54.25 Q485.00,51.50 490.00,51.00 Q495.00,50.50 499.00,51.75 Q503.00,53.00 503.50,55.50 Q504.00,58.00 501.50,60.75 Q499.00,63.50 493.50,65.25 Q488.00,67.00 482.50,66.75 Z" stroke="none" stroke-width="1" fill="#777" fill-opacity="0.15"/>
<path d="M482.82,63.01 Q480.90,62.92 481.07,61.26 Q481.25,59.60 482.48,58.64 Q483.70,57.67 485.45,57.50 Q487.20,57.33 488.60,57.76 Q490.00,58.20 490.18,59.08 Q490.35,59.95 489.48,60.91 Q488.60,61.88 486.68,62.49 Q484.75,63.10 482.82,63.01 Z" stroke="none" stroke-width="1" fill="#222" fill-opacity="0.35"/>
<path d="M482.50,66.75 Q477.00,66.50 477.50,61.75 Q478.00,57.00 481.50,54.25 Q485.00,51.50 490.00,51.00 Q495.00,50.50 499.00,51.75 Q503.00,53.00 503.50,55.50 Q504.00,58.00 501.50,60.75 Q499.00,63.50 493.50,65.25 Q488.00,67.00 482.50,66.75 Z" stroke="#222" stroke-width="0.7" fill="none"/>
<path d="M482.57,65.93 Q477.85,65.72 478.28,61.64 Q478.71,57.57 481.71,55.21 Q484.72,52.85 489.01,52.42 Q493.30,51.99 496.73,53.06 Q500.16,54.14 500.59,56.28 Q501.02,58.43 498.87,60.79 Q496.73,63.15 492.01,64.65 Q487.29,66.15 482.57,65.93 Z" stroke="#444" stroke-width="0.45733333333333326" fill="none"/>
<path d="M482.64,65.15 Q478.67,64.97 479.03,61.54 Q479.39,58.11 481.92,56.13 Q484.44,54.15 488.05,53.79 Q491.66,53.43 494.54,54.33 Q497.43,55.23 497.79,57.03 Q498.15,58.84 496.34,60.82 Q494.54,62.80 490.57,64.07 Q486.61,65.33 482.64,65.15 Z" stroke="#444" stroke-width="0.49466666666666664" fill="none"/>
<path d="M482.70,64.39 Q479.46,64.25 479.75,61.44 Q480.05,58.64 482.11,57.02 Q484.18,55.39 487.13,55.10 Q490.08,54.80 492.44,55.54 Q494.81,56.28 495.10,57.75 Q495.40,59.23 493.92,60.85 Q492.44,62.48 489.20,63.51 Q485.95,64.54 482.70,64.39 Z" stroke="#444" stroke-width="0.5319999999999999" fill="none"/>
<path d="M482.77,63.68 Q480.21,63.56 480.44,61.35 Q480.67,59.14 482.30,57.86 Q483.93,56.58 486.26,56.34 Q488.59,56.11 490.45,56.69 Q492.31,57.27 492.55,58.44 Q492.78,59.60 491.62,60.88 Q490.45,62.16 487.89,62.98 Q485.33,63.79 482.77,63.68 Z" stroke="#444" stroke-width="0.5693333333333334" fill="none"/>
<path d="M482.83,63.00 Q480.91,62.92 481.08,61.26 Q481.26,59.61 482.48,58.65 Q483.70,57.69 485.44,57.52 Q487.18,57.34 488.58,57.78 Q489.97,58.21 490.14,59.08 Q490.32,59.95 489.45,60.91 Q488.58,61.87 486.66,62.48 Q484.74,63.09 482.83,63.00 Z" stroke="#444" stroke-width="0.6066666666666667" fill="none"/>
<path d="M482.88,62.38 Q481.56,62.32 481.68,61.18 Q481.80,60.04 482.64,59.38 Q483.48,58.72 484.68,58.60 Q485.88,58.48 486.84,58.78 Q487.79,59.08 487.91,59.68 Q488.03,60.28 487.44,60.94 Q486.84,61.60 485.52,62.02 Q484.20,62.44 482.88,62.38 Z" stroke="#444" stroke-width="0.644" fill="none"/>
<path d="M482.93,61.81 Q482.15,61.78 482.22,61.11 Q482.29,60.43 482.79,60.04 Q483.28,59.66 483.99,59.58 Q484.70,59.51 485.26,59.69 Q485.83,59.87 485.90,60.22 Q485.97,60.58 485.62,60.96 Q485.26,61.35 484.49,61.60 Q483.71,61.85 482.93,61.81 Z" stroke="#444" stroke-width="0.6813333333333333" fill="none"/>
<path d="M482.97,61.33 Q482.66,61.32 482.68,61.04 Q482.71,60.77 482.91,60.61 Q483.11,60.45 483.40,60.43 Q483.69,60.40 483.92,60.47 Q484.15,60.54 484.18,60.68 Q484.21,60.83 484.06,60.99 Q483.92,61.14 483.60,61.24 Q483.29,61.34 482.97,61.33 Z" stroke="#444" stroke-width="0.7186666666666667" fill="none"/>
<ellipse cx="483.00" cy="61.00" rx="0.90" ry="0.60" transform="rotate(0 483.00 61.00)" fill="#fff"/>
</g>
<line x1="487.80" y1="25.30" x2="487.80" y2="75.30" stroke="#a8a8a8" stroke-width="0.6"/>
<line x1="474.90" y1="54.30" x2="513.90" y2="54.30" stroke="#a8a8a8" stroke-width="0.6"/>
<rect x="474.90" y="25.30" width="39.00" height="50.00" fill="none" stroke="#3a3a3a" stroke-width="1.0"/>
<line x1="476.40" y1="75.30" x2="476.40" y2="76.30" stroke="#555" stroke-width="0.4"/>
<line x1="479.67" y1="75.30" x2="479.67" y2="76.30" stroke="#555" stroke-width="0.4"/>
<line x1="482.95" y1="75.30" x2="482.95" y2="76.30" stroke="#555" stroke-width="0.4"/>
<line x1="486.22" y1="75.30" x2="486.22" y2="76.30" stroke="#555" stroke-width="0.4"/>
<line x1="489.49" y1="75.30" x2="489.49" y2="76.30" stroke="#555" stroke-width="0.4"/>
<line x1="492.76" y1="75.30" x2="492.76" y2="76.30" stroke="#555" stroke-width="0.4"/>
<line x1="496.04" y1="75.30" x2="496.04" y2="76.30" stroke="#555" stroke-width="0.4"/>
<line x1="499.31" y1="75.30" x2="499.31" y2="76.30" stroke="#555" stroke-width="0.4"/>
<line x1="502.58" y1="75.30" x2="502.58" y2="76.30" stroke="#555" stroke-width="0.4"/>
<line x1="505.85" y1="75.30" x2="505.85" y2="76.30" stroke="#555" stroke-width="0.4"/>
<line x1="509.13" y1="75.30" x2="509.13" y2="76.30" stroke="#555" stroke-width="0.4"/>
<line x1="512.40" y1="75.30" x2="512.40" y2="76.30" stroke="#555" stroke-width="0.4"/>
<clipPath id="cp17"><rect x="474.90" y="89.60" width="39.00" height="50.60"/></clipPath><g clip-path="url(#cp17)">
<rect x="493.25" y="120.37" width="0.75" height="0.75" fill="#222"/>
<rect x="494.93" y="114.30" width="0.75" height="0.75" fill="#222"/>
<rect x="489.66" y="122.24" width="0.75" height="0.75" fill="#222"/>
<rect x="492.85" y="125.84" width="0.75" height="0.75" fill="#222"/>
<rect x="489.31" y="113.33" width="0.75" height="0.75" fill="#222"/>
<rect x="485.11" y="127.01" width="0.75" height="0.75" fill="#222"/>
<rect x="495.63" y="120.32" width="0.75" height="0.75" fill="#222"/>
<rect x="488.29" y="133.52" width="0.75" height="0.75" fill="#222"/>
<rect x="495.59" y="113.03" width="0.75" height="0.75" fill="#222"/>
<rect x="496.43" y="109.07" width="0.75" height="0.75" fill="#222"/>
<rect x="505.37" y="120.68" width="0.75" height="0.75" fill="#222"/>
<rect x="488.20" y="112.13" width="0.75" height="0.75" fill="#222"/>
<rect x="493.24" y="103.84" width="0.75" height="0.75" fill="#222"/>
<rect x="490.77" y="116.16" width="0.75" height="0.75" fill="#222"/>
<rect x="500.39" y="122.29" width="0.75" height="0.75" fill="#222"/>
<rect x="506.12" y="125.60" width="0.75" height="0.75" fill="#222"/>
<rect x="503.82" y="112.35" width="0.75" height="0.75" fill="#222"/>
<rect x="499.63" y="108.01" width="0.75" height="0.75" fill="#222"/>
<rect x="494.59" y="119.05" width="0.75" height="0.75" fill="#222"/>
<rect x="489.16" y="118.53" width="0.75" height="0.75" fill="#222"/>
<rect x="491.22" y="122.82" width="0.75" height="0.75" fill="#222"/>
<rect x="490.85" y="126.84" width="0.75" height="0.75" fill="#222"/>
<rect x="500.28" y="110.14" width="0.75" height="0.75" fill="#222"/>
<rect x="501.14" y="116.82" width="0.75" height="0.75" fill="#222"/>
<rect x="491.09" y="110.95" width="0.75" height="0.75" fill="#222"/>
<rect x="496.53" y="116.63" width="0.75" height="0.75" fill="#222"/>
<rect x="504.77" y="125.20" width="0.75" height="0.75" fill="#222"/>
<rect x="501.17" y="113.38" width="0.75" height="0.75" fill="#222"/>
<rect x="498.34" y="110.24" width="0.75" height="0.75" fill="#222"/>
<rect x="490.72" y="113.37" width="0.75" height="0.75" fill="#222"/>
<rect x="497.68" y="121.53" width="0.75" height="0.75" fill="#222"/>
<rect x="490.21" y="128.39" width="0.75" height="0.75" fill="#222"/>
<rect x="482.50" y="129.95" width="0.75" height="0.75" fill="#222"/>
<rect x="484.81" y="125.33" width="0.75" height="0.75" fill="#222"/>
<rect x="504.26" y="109.53" width="0.75" height="0.75" fill="#222"/>
<rect x="486.63" y="102.17" width="0.75" height="0.75" fill="#222"/>
<rect x="494.50" y="118.86" width="0.75" height="0.75" fill="#222"/>
<rect x="485.91" y="106.98" width="0.75" height="0.75" fill="#222"/>
<rect x="501.80" y="128.38" width="0.75" height="0.75" fill="#222"/>
<rect x="493.27" y="111.49" width="0.75" height="0.75" fill="#222"/>
<rect x="506.30" y="109.96" width="0.75" height="0.75" fill="#222"/>
<rect x="492.82" y="115.78" width="0.75" height="0.75" fill="#222"/>
<rect x="491.57" y="115.09" width="0.75" height="0.75" fill="#222"/>
<rect x="497.00" y="124.38" width="0.75" height="0.75" fill="#222"/>
<rect x="499.17" y="106.09" width="0.75" height="0.75" fill="#222"/>
<rect x="488.82" y="131.23" width="0.75" height="0.75" fill="#222"/>
<rect x="486.11" y="123.11" width="0.75" height="0.75" fill="#222"/>
<rect x="493.27" y="114.96" width="0.75" height="0.75" fill="#222"/>
<rect x="499.30" y="122.08" width="0.75" height="0.75" fill="#222"/>
<rect x="494.65" y="116.66" width="0.75" height="0.75" fill="#222"/>
<path d="M484,131 Q476,129 480,121 Q484,112 484,104 Q486,98 491,98.5 Q498,100 497,110 Q496,120 490,127 Q488,131 484,131 Z" stroke="#333" stroke-width="0.6" fill="#999" fill-opacity="0.25"/>
<ellipse cx="490.20" cy="107.50" rx="5.70" ry="7.50" transform="rotate(0 490.20 107.50)" fill="none" stroke="#333" stroke-width="0.50"/>
<ellipse cx="490.20" cy="107.50" rx="4.39" ry="5.74" transform="rotate(0 490.20 107.50)" fill="none" stroke="#333" stroke-width="0.60"/>
<ellipse cx="490.20" cy="107.50" rx="3.18" ry="4.10" transform="rotate(0 490.20 107.50)" fill="none" stroke="#333" stroke-width="0.70"/>
<ellipse cx="490.20" cy="107.50" rx="2.08" ry="2.63" transform="rotate(0 490.20 107.50)" fill="none" stroke="#333" stroke-width="0.80"/>
<ellipse cx="490.20" cy="107.50" rx="1.14" ry="1.36" transform="rotate(0 490.20 107.50)" fill="none" stroke="#333" stroke-width="0.90"/>
<ellipse cx="490.20" cy="107.50" rx="5.00" ry="6.80" transform="rotate(0 490.20 107.50)" fill="none" stroke="#111" stroke-width="0.9"/>
<ellipse cx="483.80" cy="125.20" rx="5.80" ry="3.20" transform="rotate(-35 483.80 125.20)" fill="#eee" stroke="#000" stroke-width="1.4"/>
<ellipse cx="483.80" cy="125.20" rx="3.00" ry="1.30" transform="rotate(-35 483.80 125.20)" fill="#fff"/>
</g>
<line x1="487.80" y1="89.60" x2="487.80" y2="140.20" stroke="#a8a8a8" stroke-width="0.6"/>
<line x1="474.90" y1="118.60" x2="513.90" y2="118.60" stroke="#a8a8a8" stroke-width="0.6"/>
<rect x="474.90" y="89.60" width="39.00" height="50.60" fill="none" stroke="#3a3a3a" stroke-width="1.0"/>
<line x1="476.40" y1="140.20" x2="476.40" y2="141.20" stroke="#555" stroke-width="0.4"/>
<line x1="479.67" y1="140.20" x2="479.67" y2="141.20" stroke="#555" stroke-width="0.4"/>
<line x1="482.95" y1="140.20" x2="482.95" y2="141.20" stroke="#555" stroke-width="0.4"/>
<line x1="486.22" y1="140.20" x2="486.22" y2="141.20" stroke="#555" stroke-width="0.4"/>
<line x1="489.49" y1="140.20" x2="489.49" y2="141.20" stroke="#555" stroke-width="0.4"/>
<line x1="492.76" y1="140.20" x2="492.76" y2="141.20" stroke="#555" stroke-width="0.4"/>
<line x1="496.04" y1="140.20" x2="496.04" y2="141.20" stroke="#555" stroke-width="0.4"/>
<line x1="499.31" y1="140.20" x2="499.31" y2="141.20" stroke="#555" stroke-width="0.4"/>
<line x1="502.58" y1="140.20" x2="502.58" y2="141.20" stroke="#555" stroke-width="0.4"/>
<line x1="505.85" y1="140.20" x2="505.85" y2="141.20" stroke="#555" stroke-width="0.4"/>
<line x1="509.13" y1="140.20" x2="509.13" y2="141.20" stroke="#555" stroke-width="0.4"/>
<line x1="512.40" y1="140.20" x2="512.40" y2="141.20" stroke="#555" stroke-width="0.4"/>
<line x1="47.60" y1="197.20" x2="47.60" y2="269.90" stroke="#2a2a2a" stroke-width="1.6"/>
<line x1="46.90" y1="269.20" x2="133.80" y2="269.20" stroke="#2a2a2a" stroke-width="1.5"/>
<line x1="44.10" y1="269.20" x2="47.60" y2="269.20" stroke="#222" stroke-width="0.9"/>
<text x="41.00" y="271.60" font-size="6.9" text-anchor="end" font-weight="normal" fill="#333">0</text>
<line x1="44.10" y1="255.20" x2="47.60" y2="255.20" stroke="#222" stroke-width="0.9"/>
<text x="41.00" y="257.60" font-size="6.9" text-anchor="end" font-weight="normal" fill="#333">2</text>
<line x1="44.10" y1="241.20" x2="47.60" y2="241.20" stroke="#222" stroke-width="0.9"/>
<text x="41.00" y="243.60" font-size="6.9" text-anchor="end" font-weight="normal" fill="#333">4</text>
<line x1="44.10" y1="227.20" x2="47.60" y2="227.20" stroke="#222" stroke-width="0.9"/>
<text x="41.00" y="229.60" font-size="6.9" text-anchor="end" font-weight="normal" fill="#333">6</text>
<line x1="44.10" y1="213.20" x2="47.60" y2="213.20" stroke="#222" stroke-width="0.9"/>
<text x="41.00" y="215.60" font-size="6.9" text-anchor="end" font-weight="normal" fill="#333">8</text>
<line x1="44.10" y1="199.20" x2="47.60" y2="199.20" stroke="#222" stroke-width="0.9"/>
<text x="41.00" y="201.60" font-size="6.9" text-anchor="end" font-weight="normal" fill="#333">10</text>
<rect x="53.00" y="260.10" width="7.40" height="9.10" fill="#A8672A" stroke="none" stroke-width="1"/>
<line x1="56.70" y1="269.20" x2="56.70" y2="272.00" stroke="#222" stroke-width="0.8"/>
<line x1="56.70" y1="259.50" x2="56.70" y2="260.70" stroke="#111" stroke-width="0.8"/>
<line x1="54.70" y1="259.50" x2="58.70" y2="259.50" stroke="#111" stroke-width="0.8"/>
<line x1="54.70" y1="260.70" x2="58.70" y2="260.70" stroke="#111" stroke-width="0.8"/>
<text x="56.70" y="256.80" font-size="6.0" text-anchor="middle" font-weight="normal" fill="#333">1.3</text>
<rect x="63.80" y="241.90" width="7.40" height="27.30" fill="#EDB720" stroke="none" stroke-width="1"/>
<line x1="67.50" y1="269.20" x2="67.50" y2="272.00" stroke="#222" stroke-width="0.8"/>
<line x1="67.50" y1="239.50" x2="67.50" y2="244.30" stroke="#111" stroke-width="0.8"/>
<line x1="65.50" y1="239.50" x2="69.50" y2="239.50" stroke="#111" stroke-width="0.8"/>
<line x1="65.50" y1="244.30" x2="69.50" y2="244.30" stroke="#111" stroke-width="0.8"/>
<text x="67.50" y="231.20" font-size="6.0" text-anchor="middle" font-weight="normal" fill="#333">3.9</text>
<text x="67.50" y="239.70" font-size="6.4" text-anchor="middle" font-weight="normal" fill="#222">***</text>
<rect x="81.20" y="261.50" width="7.50" height="7.70" fill="#A8672A" stroke="none" stroke-width="1"/>
<line x1="84.95" y1="269.20" x2="84.95" y2="272.00" stroke="#222" stroke-width="0.8"/>
<line x1="84.95" y1="260.80" x2="84.95" y2="262.20" stroke="#111" stroke-width="0.8"/>
<line x1="82.95" y1="260.80" x2="86.95" y2="260.80" stroke="#111" stroke-width="0.8"/>
<line x1="82.95" y1="262.20" x2="86.95" y2="262.20" stroke="#111" stroke-width="0.8"/>
<text x="84.95" y="258.10" font-size="6.0" text-anchor="middle" font-weight="normal" fill="#333">1.1</text>
<rect x="92.10" y="213.20" width="7.60" height="56.00" fill="#EDB720" stroke="none" stroke-width="1"/>
<line x1="95.90" y1="269.20" x2="95.90" y2="272.00" stroke="#222" stroke-width="0.8"/>
<line x1="95.90" y1="210.20" x2="95.90" y2="216.20" stroke="#111" stroke-width="0.8"/>
<line x1="93.90" y1="210.20" x2="97.90" y2="210.20" stroke="#111" stroke-width="0.8"/>
<line x1="93.90" y1="216.20" x2="97.90" y2="216.20" stroke="#111" stroke-width="0.8"/>
<text x="95.90" y="201.90" font-size="6.0" text-anchor="middle" font-weight="normal" fill="#333">8.0</text>
<text x="95.90" y="210.40" font-size="6.4" text-anchor="middle" font-weight="normal" fill="#222">***</text>
<rect x="109.90" y="262.90" width="7.40" height="6.30" fill="#A8672A" stroke="none" stroke-width="1"/>
<line x1="113.60" y1="269.20" x2="113.60" y2="272.00" stroke="#222" stroke-width="0.8"/>
<line x1="113.60" y1="261.90" x2="113.60" y2="263.90" stroke="#111" stroke-width="0.8"/>
<line x1="111.60" y1="261.90" x2="115.60" y2="261.90" stroke="#111" stroke-width="0.8"/>
<line x1="111.60" y1="263.90" x2="115.60" y2="263.90" stroke="#111" stroke-width="0.8"/>
<text x="113.60" y="259.20" font-size="6.0" text-anchor="middle" font-weight="normal" fill="#333">0.9</text>
<rect x="120.90" y="237.70" width="7.40" height="31.50" fill="#EDB720" stroke="none" stroke-width="1"/>
<line x1="124.60" y1="269.20" x2="124.60" y2="272.00" stroke="#222" stroke-width="0.8"/>
<line x1="124.60" y1="235.10" x2="124.60" y2="240.30" stroke="#111" stroke-width="0.8"/>
<line x1="122.60" y1="235.10" x2="126.60" y2="235.10" stroke="#111" stroke-width="0.8"/>
<line x1="122.60" y1="240.30" x2="126.60" y2="240.30" stroke="#111" stroke-width="0.8"/>
<text x="124.60" y="226.80" font-size="6.0" text-anchor="middle" font-weight="normal" fill="#333">4.5</text>
<text x="124.60" y="235.30" font-size="6.4" text-anchor="middle" font-weight="normal" fill="#222">***</text>
<text x="90.75" y="187.70" font-size="8.6" text-anchor="middle" font-weight="normal" fill="#2a2a2a" textLength="53.5" lengthAdjust="spacingAndGlyphs">% of CD107+</text>
<text x="62.15" y="281.20" font-size="7.0" text-anchor="middle" font-weight="normal" fill="#2a2a2a" textLength="10.500000000000007" lengthAdjust="spacingAndGlyphs">Raji</text>
<text x="89.80" y="281.20" font-size="7.0" text-anchor="middle" font-weight="normal" fill="#2a2a2a" textLength="22.599999999999994" lengthAdjust="spacingAndGlyphs">SKOV-3</text>
<text x="118.70" y="281.20" font-size="7.0" text-anchor="middle" font-weight="normal" fill="#2a2a2a" textLength="18.599999999999994" lengthAdjust="spacingAndGlyphs">Cal 27</text>
<text x="18.00" y="232.90" font-size="8.4" text-anchor="middle" font-weight="normal" fill="#2a2a2a" textLength="39.8" lengthAdjust="spacingAndGlyphs" transform="rotate(-90 18.0 232.9)">Folds increse</text>
<text x="28.20" y="233.00" font-size="8.4" text-anchor="middle" font-weight="normal" fill="#2a2a2a" textLength="70.5" lengthAdjust="spacingAndGlyphs" transform="rotate(-90 28.2 233.0)">(antibody/no antibody)</text>
<line x1="185.85" y1="193.70" x2="185.85" y2="269.90" stroke="#2a2a2a" stroke-width="1.6"/>
<line x1="185.15" y1="269.20" x2="268.50" y2="269.20" stroke="#2a2a2a" stroke-width="1.5"/>
<line x1="182.35" y1="269.20" x2="185.85" y2="269.20" stroke="#222" stroke-width="0.9"/>
<text x="179.25" y="271.60" font-size="6.9" text-anchor="end" font-weight="normal" fill="#333">0</text>
<line x1="182.35" y1="244.70" x2="185.85" y2="244.70" stroke="#222" stroke-width="0.9"/>
<text x="179.25" y="247.10" font-size="6.9" text-anchor="end" font-weight="normal" fill="#333">5</text>
<line x1="182.35" y1="220.20" x2="185.85" y2="220.20" stroke="#222" stroke-width="0.9"/>
<text x="179.25" y="222.60" font-size="6.9" text-anchor="end" font-weight="normal" fill="#333">10</text>
<line x1="182.35" y1="195.70" x2="185.85" y2="195.70" stroke="#222" stroke-width="0.9"/>
<text x="179.25" y="198.10" font-size="6.9" text-anchor="end" font-weight="normal" fill="#333">15</text>
<rect x="191.00" y="263.81" width="7.90" height="5.39" fill="#A8672A" stroke="none" stroke-width="1"/>
<line x1="194.95" y1="269.20" x2="194.95" y2="272.00" stroke="#222" stroke-width="0.8"/>
<line x1="194.95" y1="263.01" x2="194.95" y2="264.61" stroke="#111" stroke-width="0.8"/>
<line x1="192.95" y1="263.01" x2="196.95" y2="263.01" stroke="#111" stroke-width="0.8"/>
<line x1="192.95" y1="264.61" x2="196.95" y2="264.61" stroke="#111" stroke-width="0.8"/>
<text x="194.95" y="260.31" font-size="6.0" text-anchor="middle" font-weight="normal" fill="#333">1.1</text>
<rect x="202.00" y="244.21" width="7.60" height="24.99" fill="#EDB720" stroke="none" stroke-width="1"/>
<line x1="205.80" y1="269.20" x2="205.80" y2="272.00" stroke="#222" stroke-width="0.8"/>
<line x1="205.80" y1="241.61" x2="205.80" y2="246.81" stroke="#111" stroke-width="0.8"/>
<line x1="203.80" y1="241.61" x2="207.80" y2="241.61" stroke="#111" stroke-width="0.8"/>
<line x1="203.80" y1="246.81" x2="207.80" y2="246.81" stroke="#111" stroke-width="0.8"/>
<text x="205.80" y="233.31" font-size="6.0" text-anchor="middle" font-weight="normal" fill="#333">5.1</text>
<text x="205.80" y="241.81" font-size="6.4" text-anchor="middle" font-weight="normal" fill="#222">***</text>
<rect x="220.00" y="264.30" width="7.70" height="4.90" fill="#A8672A" stroke="none" stroke-width="1"/>
<line x1="223.85" y1="269.20" x2="223.85" y2="272.00" stroke="#222" stroke-width="0.8"/>
<line x1="223.85" y1="262.70" x2="223.85" y2="265.90" stroke="#111" stroke-width="0.8"/>
<line x1="221.85" y1="262.70" x2="225.85" y2="262.70" stroke="#111" stroke-width="0.8"/>
<line x1="221.85" y1="265.90" x2="225.85" y2="265.90" stroke="#111" stroke-width="0.8"/>
<text x="223.85" y="260.00" font-size="6.0" text-anchor="middle" font-weight="normal" fill="#333">1.0</text>
<rect x="230.80" y="210.40" width="7.60" height="58.80" fill="#EDB720" stroke="none" stroke-width="1"/>
<line x1="234.60" y1="269.20" x2="234.60" y2="272.00" stroke="#222" stroke-width="0.8"/>
<line x1="234.60" y1="206.80" x2="234.60" y2="214.00" stroke="#111" stroke-width="0.8"/>
<line x1="232.60" y1="206.80" x2="236.60" y2="206.80" stroke="#111" stroke-width="0.8"/>
<line x1="232.60" y1="214.00" x2="236.60" y2="214.00" stroke="#111" stroke-width="0.8"/>
<text x="234.60" y="198.50" font-size="6.0" text-anchor="middle" font-weight="normal" fill="#333">12.0</text>
<text x="234.60" y="207.00" font-size="6.4" text-anchor="middle" font-weight="normal" fill="#222">***</text>
<rect x="248.30" y="263.32" width="7.60" height="5.88" fill="#A8672A" stroke="none" stroke-width="1"/>
<line x1="252.10" y1="269.20" x2="252.10" y2="272.00" stroke="#222" stroke-width="0.8"/>
<line x1="252.10" y1="262.52" x2="252.10" y2="264.12" stroke="#111" stroke-width="0.8"/>
<line x1="250.10" y1="262.52" x2="254.10" y2="262.52" stroke="#111" stroke-width="0.8"/>
<line x1="250.10" y1="264.12" x2="254.10" y2="264.12" stroke="#111" stroke-width="0.8"/>
<text x="252.10" y="259.82" font-size="6.0" text-anchor="middle" font-weight="normal" fill="#333">1.2</text>
<rect x="259.00" y="237.35" width="7.40" height="31.85" fill="#EDB720" stroke="none" stroke-width="1"/>
<line x1="262.70" y1="269.20" x2="262.70" y2="272.00" stroke="#222" stroke-width="0.8"/>
<line x1="262.70" y1="235.15" x2="262.70" y2="239.55" stroke="#111" stroke-width="0.8"/>
<line x1="260.70" y1="235.15" x2="264.70" y2="235.15" stroke="#111" stroke-width="0.8"/>
<line x1="260.70" y1="239.55" x2="264.70" y2="239.55" stroke="#111" stroke-width="0.8"/>
<text x="262.70" y="226.85" font-size="6.0" text-anchor="middle" font-weight="normal" fill="#333">6.5</text>
<text x="262.70" y="235.35" font-size="6.4" text-anchor="middle" font-weight="normal" fill="#222">***</text>
<text x="229.15" y="187.70" font-size="8.6" text-anchor="middle" font-weight="normal" fill="#2a2a2a" textLength="43.69999999999999" lengthAdjust="spacingAndGlyphs">% of IFNγ+</text>
<text x="200.60" y="281.20" font-size="7.0" text-anchor="middle" font-weight="normal" fill="#2a2a2a" textLength="11.599999999999994" lengthAdjust="spacingAndGlyphs">Raji</text>
<text x="228.90" y="281.20" font-size="7.0" text-anchor="middle" font-weight="normal" fill="#2a2a2a" textLength="23.400000000000006" lengthAdjust="spacingAndGlyphs">SKOV-3</text>
<text x="257.70" y="281.20" font-size="7.0" text-anchor="middle" font-weight="normal" fill="#2a2a2a" textLength="19.599999999999994" lengthAdjust="spacingAndGlyphs">Cal 27</text>
<text x="156.00" y="232.90" font-size="8.4" text-anchor="middle" font-weight="normal" fill="#2a2a2a" textLength="39.8" lengthAdjust="spacingAndGlyphs" transform="rotate(-90 156.0 232.9)">Folds increse</text>
<text x="166.30" y="233.00" font-size="8.4" text-anchor="middle" font-weight="normal" fill="#2a2a2a" textLength="70.5" lengthAdjust="spacingAndGlyphs" transform="rotate(-90 166.3 233.0)">(antibody/no antibody)</text>
<rect x="259.20" y="193.60" width="7.00" height="5.00" fill="#A8672A" stroke="none" stroke-width="1"/>
<rect x="259.20" y="202.40" width="7.00" height="5.00" fill="#EDB720" stroke="none" stroke-width="1"/>
<text x="268.30" y="198.10" font-size="6.0" text-anchor="start" font-weight="normal" fill="#2a2a2a" textLength="39.6" lengthAdjust="spacingAndGlyphs">Unmodified iNK</text>
<text x="268.30" y="207.00" font-size="6.0" text-anchor="start" font-weight="normal" fill="#2a2a2a" textLength="30.2" lengthAdjust="spacingAndGlyphs">hnCD16-iNK</text>
<rect x="373.60" y="234.00" width="8.03" height="8.20" fill="#000" stroke="none" stroke-width="1"/>
<rect x="381.48" y="234.00" width="8.03" height="8.20" fill="#000" stroke="none" stroke-width="1"/>
<rect x="389.36" y="234.00" width="8.03" height="8.20" fill="#b0b030" stroke="none" stroke-width="1"/>
<rect x="397.24" y="234.00" width="8.03" height="8.20" fill="#2a2a10" stroke="none" stroke-width="1"/>
<rect x="405.12" y="234.00" width="8.03" height="8.20" fill="#404018" stroke="none" stroke-width="1"/>
<rect x="373.60" y="242.05" width="8.03" height="8.20" fill="#000" stroke="none" stroke-width="1"/>
<rect x="381.48" y="242.05" width="8.03" height="8.20" fill="#2f2f10" stroke="none" stroke-width="1"/>
<rect x="389.36" y="242.05" width="8.03" height="8.20" fill="#3a3a14" stroke="none" stroke-width="1"/>
<rect x="397.24" y="242.05" width="8.03" height="8.20" fill="#202010" stroke="none" stroke-width="1"/>
<rect x="405.12" y="242.05" width="8.03" height="8.20" fill="#101008" stroke="none" stroke-width="1"/>
<rect x="373.60" y="250.10" width="8.03" height="8.20" fill="#000" stroke="none" stroke-width="1"/>
<rect x="381.48" y="250.10" width="8.03" height="8.20" fill="#30300f" stroke="none" stroke-width="1"/>
<rect x="389.36" y="250.10" width="8.03" height="8.20" fill="#484818" stroke="none" stroke-width="1"/>
<rect x="397.24" y="250.10" width="8.03" height="8.20" fill="#080800" stroke="none" stroke-width="1"/>
<rect x="405.12" y="250.10" width="8.03" height="8.20" fill="#000" stroke="none" stroke-width="1"/>
<rect x="373.60" y="258.15" width="8.03" height="8.20" fill="#000" stroke="none" stroke-width="1"/>
<rect x="381.48" y="258.15" width="8.03" height="8.20" fill="#55551c" stroke="none" stroke-width="1"/>
<rect x="389.36" y="258.15" width="8.03" height="8.20" fill="#b8b835" stroke="none" stroke-width="1"/>
<rect x="397.24" y="258.15" width="8.03" height="8.20" fill="#1a1a08" stroke="none" stroke-width="1"/>
<rect x="405.12" y="258.15" width="8.03" height="8.20" fill="#3a3a14" stroke="none" stroke-width="1"/>
<rect x="373.60" y="234.00" width="39.40" height="32.20" fill="none" stroke="#333" stroke-width="0.5"/>
<text x="379.74" y="231.00" font-size="6.6" text-anchor="start" font-weight="normal" fill="#2a2a2a" transform="rotate(-90 379.74 231.0)">Unstimulated</text>
<text x="387.62" y="231.00" font-size="6.6" text-anchor="start" font-weight="normal" fill="#2a2a2a" transform="rotate(-90 387.62 231.0)">P815</text>
<text x="395.50" y="231.00" font-size="6.6" text-anchor="start" font-weight="normal" fill="#2a2a2a" transform="rotate(-90 395.5 231.0)">P815+anti-CD16</text>
<text x="403.38" y="231.00" font-size="6.6" text-anchor="start" font-weight="normal" fill="#2a2a2a" transform="rotate(-90 403.38 231.0)">Raji</text>
<text x="411.26" y="231.00" font-size="6.6" text-anchor="start" font-weight="normal" fill="#2a2a2a" transform="rotate(-90 411.26 231.0)">Raji+anti-CD20</text>
<text x="393.40" y="275.40" font-size="7.0" text-anchor="middle" font-weight="normal" fill="#2a2a2a" textLength="14.2" lengthAdjust="spacingAndGlyphs">IFNγ</text>
<rect x="418.00" y="234.00" width="8.03" height="8.20" fill="#000" stroke="none" stroke-width="1"/>
<rect x="425.88" y="234.00" width="8.03" height="8.20" fill="#35350f" stroke="none" stroke-width="1"/>
<rect x="433.76" y="234.00" width="8.03" height="8.20" fill="#fff8c0" stroke="none" stroke-width="1"/>
<rect x="441.64" y="234.00" width="8.03" height="8.20" fill="#4a4a18" stroke="none" stroke-width="1"/>
<rect x="449.52" y="234.00" width="8.03" height="8.20" fill="#c8c838" stroke="none" stroke-width="1"/>
<rect x="418.00" y="242.05" width="8.03" height="8.20" fill="#000" stroke="none" stroke-width="1"/>
<rect x="425.88" y="242.05" width="8.03" height="8.20" fill="#4a4a18" stroke="none" stroke-width="1"/>
<rect x="433.76" y="242.05" width="8.03" height="8.20" fill="#5a5a1c" stroke="none" stroke-width="1"/>
<rect x="441.64" y="242.05" width="8.03" height="8.20" fill="#323210" stroke="none" stroke-width="1"/>
<rect x="449.52" y="242.05" width="8.03" height="8.20" fill="#1e1e08" stroke="none" stroke-width="1"/>
<rect x="418.00" y="250.10" width="8.03" height="8.20" fill="#000" stroke="none" stroke-width="1"/>
<rect x="425.88" y="250.10" width="8.03" height="8.20" fill="#262608" stroke="none" stroke-width="1"/>
<rect x="433.76" y="250.10" width="8.03" height="8.20" fill="#3a3a12" stroke="none" stroke-width="1"/>
<rect x="441.64" y="250.10" width="8.03" height="8.20" fill="#000" stroke="none" stroke-width="1"/>
<rect x="449.52" y="250.10" width="8.03" height="8.20" fill="#000" stroke="none" stroke-width="1"/>
<rect x="418.00" y="258.15" width="8.03" height="8.20" fill="#000" stroke="none" stroke-width="1"/>
<rect x="425.88" y="258.15" width="8.03" height="8.20" fill="#6a6a22" stroke="none" stroke-width="1"/>
<rect x="433.76" y="258.15" width="8.03" height="8.20" fill="#a8a832" stroke="none" stroke-width="1"/>
<rect x="441.64" y="258.15" width="8.03" height="8.20" fill="#121205" stroke="none" stroke-width="1"/>
<rect x="449.52" y="258.15" width="8.03" height="8.20" fill="#4a4a18" stroke="none" stroke-width="1"/>
<rect x="418.00" y="234.00" width="39.40" height="32.20" fill="none" stroke="#333" stroke-width="0.5"/>
<text x="424.14" y="231.00" font-size="6.6" text-anchor="start" font-weight="normal" fill="#2a2a2a" transform="rotate(-90 424.14 231.0)">Unstimulated</text>
<text x="432.02" y="231.00" font-size="6.6" text-anchor="start" font-weight="normal" fill="#2a2a2a" transform="rotate(-90 432.02 231.0)">P815</text>
<text x="439.90" y="231.00" font-size="6.6" text-anchor="start" font-weight="normal" fill="#2a2a2a" transform="rotate(-90 439.9 231.0)">P815+anti-CD16</text>
<text x="447.78" y="231.00" font-size="6.6" text-anchor="start" font-weight="normal" fill="#2a2a2a" transform="rotate(-90 447.78 231.0)">Raji</text>
<text x="455.66" y="231.00" font-size="6.6" text-anchor="start" font-weight="normal" fill="#2a2a2a" transform="rotate(-90 455.65999999999997 231.0)">Raji+anti-CD20</text>
<text x="437.50" y="275.40" font-size="7.0" text-anchor="middle" font-weight="normal" fill="#2a2a2a" textLength="17.5" lengthAdjust="spacingAndGlyphs">TNFα</text>
<rect x="464.20" y="234.00" width="8.03" height="8.20" fill="#000" stroke="none" stroke-width="1"/>
<rect x="472.08" y="234.00" width="8.03" height="8.20" fill="#1e1e08" stroke="none" stroke-width="1"/>
<rect x="479.96" y="234.00" width="8.03" height="8.20" fill="#f0e830" stroke="none" stroke-width="1"/>
<rect x="487.84" y="234.00" width="8.03" height="8.20" fill="#454515" stroke="none" stroke-width="1"/>
<rect x="495.72" y="234.00" width="8.03" height="8.20" fill="#a0a030" stroke="none" stroke-width="1"/>
<rect x="464.20" y="242.05" width="8.03" height="8.20" fill="#000" stroke="none" stroke-width="1"/>
<rect x="472.08" y="242.05" width="8.03" height="8.20" fill="#55551a" stroke="none" stroke-width="1"/>
<rect x="479.96" y="242.05" width="8.03" height="8.20" fill="#6a6a22" stroke="none" stroke-width="1"/>
<rect x="487.84" y="242.05" width="8.03" height="8.20" fill="#454515" stroke="none" stroke-width="1"/>
<rect x="495.72" y="242.05" width="8.03" height="8.20" fill="#2a2a0c" stroke="none" stroke-width="1"/>
<rect x="464.20" y="250.10" width="8.03" height="8.20" fill="#000" stroke="none" stroke-width="1"/>
<rect x="472.08" y="250.10" width="8.03" height="8.20" fill="#303010" stroke="none" stroke-width="1"/>
<rect x="479.96" y="250.10" width="8.03" height="8.20" fill="#606020" stroke="none" stroke-width="1"/>
<rect x="487.84" y="250.10" width="8.03" height="8.20" fill="#555518" stroke="none" stroke-width="1"/>
<rect x="495.72" y="250.10" width="8.03" height="8.20" fill="#404014" stroke="none" stroke-width="1"/>
<rect x="464.20" y="258.15" width="8.03" height="8.20" fill="#000" stroke="none" stroke-width="1"/>
<rect x="472.08" y="258.15" width="8.03" height="8.20" fill="#9a9a2c" stroke="none" stroke-width="1"/>
<rect x="479.96" y="258.15" width="8.03" height="8.20" fill="#f0e838" stroke="none" stroke-width="1"/>
<rect x="487.84" y="258.15" width="8.03" height="8.20" fill="#3a3a12" stroke="none" stroke-width="1"/>
<rect x="495.72" y="258.15" width="8.03" height="8.20" fill="#8a8a2a" stroke="none" stroke-width="1"/>
<rect x="464.20" y="234.00" width="39.40" height="32.20" fill="none" stroke="#333" stroke-width="0.5"/>
<text x="470.34" y="231.00" font-size="6.6" text-anchor="start" font-weight="normal" fill="#2a2a2a" transform="rotate(-90 470.34 231.0)">Unstimulated</text>
<text x="478.22" y="231.00" font-size="6.6" text-anchor="start" font-weight="normal" fill="#2a2a2a" transform="rotate(-90 478.21999999999997 231.0)">P815</text>
<text x="486.10" y="231.00" font-size="6.6" text-anchor="start" font-weight="normal" fill="#2a2a2a" transform="rotate(-90 486.09999999999997 231.0)">P815+anti-CD16</text>
<text x="493.98" y="231.00" font-size="6.6" text-anchor="start" font-weight="normal" fill="#2a2a2a" transform="rotate(-90 493.97999999999996 231.0)">Raji</text>
<text x="501.86" y="231.00" font-size="6.6" text-anchor="start" font-weight="normal" fill="#2a2a2a" transform="rotate(-90 501.85999999999996 231.0)">Raji+anti-CD20</text>
<text x="483.75" y="275.40" font-size="7.0" text-anchor="middle" font-weight="normal" fill="#2a2a2a" textLength="25.0" lengthAdjust="spacingAndGlyphs">CD107a</text>
<text x="370.40" y="240.30" font-size="6.7" text-anchor="end" font-weight="normal" fill="#2a2a2a" textLength="37.299999999999955" lengthAdjust="spacingAndGlyphs">hnCD16-iNK</text>
<text x="370.40" y="248.30" font-size="6.7" text-anchor="end" font-weight="normal" fill="#2a2a2a" textLength="46.89999999999998" lengthAdjust="spacingAndGlyphs">Unmodified iNK</text>
<text x="370.40" y="256.10" font-size="6.7" text-anchor="end" font-weight="normal" fill="#2a2a2a" textLength="24.399999999999977" lengthAdjust="spacingAndGlyphs">UCB-NK</text>
<text x="370.40" y="264.00" font-size="6.7" text-anchor="end" font-weight="normal" fill="#2a2a2a" textLength="19.099999999999966" lengthAdjust="spacingAndGlyphs">PB-NK</text>
<defs><linearGradient id="cb" x1="0" x2="1" y1="0" y2="0"><stop offset="0" stop-color="#000"/><stop offset="0.5" stop-color="#f5f020"/><stop offset="1" stop-color="#fffcd0"/></linearGradient></defs>
<rect x="419.60" y="282.30" width="33.60" height="8.60" fill="url(#cb)" stroke="#222" stroke-width="0.6"/>
<line x1="420.00" y1="290.90" x2="420.00" y2="292.40" stroke="#222" stroke-width="0.6"/>
<text x="420.00" y="300.30" font-size="6.0" text-anchor="middle" font-weight="normal" fill="#2a2a2a">0</text>
<line x1="437.00" y1="290.90" x2="437.00" y2="292.40" stroke="#222" stroke-width="0.6"/>
<text x="437.00" y="300.30" font-size="6.0" text-anchor="middle" font-weight="normal" fill="#2a2a2a">15</text>
<line x1="453.00" y1="290.90" x2="453.00" y2="292.40" stroke="#222" stroke-width="0.6"/>
<text x="453.00" y="300.30" font-size="6.0" text-anchor="middle" font-weight="normal" fill="#2a2a2a">30</text>
<text x="91.80" y="310.10" font-size="9.4" text-anchor="start" font-weight="normal" fill="#2a2a2a" textLength="38.0" lengthAdjust="spacingAndGlyphs">Raji CD20</text>
<text x="130.60" y="306.40" font-size="4.6" text-anchor="start" font-weight="normal" fill="#2a2a2a" textLength="3.8" lengthAdjust="spacingAndGlyphs">hi</text>
<line x1="48.00" y1="315.00" x2="48.00" y2="426.40" stroke="#2a2a2a" stroke-width="1.8"/>
<line x1="47.20" y1="425.60" x2="176.30" y2="425.60" stroke="#2a2a2a" stroke-width="1.6"/>
<line x1="45.00" y1="425.60" x2="48.00" y2="425.60" stroke="#222" stroke-width="0.8"/>
<text x="41.40" y="427.70" font-size="6.0" text-anchor="end" font-weight="normal" fill="#333">0</text>
<line x1="45.00" y1="404.00" x2="48.00" y2="404.00" stroke="#222" stroke-width="0.8"/>
<text x="41.40" y="406.10" font-size="6.0" text-anchor="end" font-weight="normal" fill="#333">20</text>
<line x1="45.00" y1="382.40" x2="48.00" y2="382.40" stroke="#222" stroke-width="0.8"/>
<text x="41.40" y="384.50" font-size="6.0" text-anchor="end" font-weight="normal" fill="#333">40</text>
<line x1="45.00" y1="360.80" x2="48.00" y2="360.80" stroke="#222" stroke-width="0.8"/>
<text x="41.40" y="362.90" font-size="6.0" text-anchor="end" font-weight="normal" fill="#333">60</text>
<line x1="45.00" y1="339.20" x2="48.00" y2="339.20" stroke="#222" stroke-width="0.8"/>
<text x="41.40" y="341.30" font-size="6.0" text-anchor="end" font-weight="normal" fill="#333">80</text>
<line x1="45.00" y1="317.60" x2="48.00" y2="317.60" stroke="#222" stroke-width="0.8"/>
<text x="41.40" y="319.70" font-size="6.0" text-anchor="end" font-weight="normal" fill="#333">100</text>
<line x1="64.30" y1="425.60" x2="64.30" y2="428.40" stroke="#222" stroke-width="0.8"/>
<text x="64.30" y="437.60" font-size="6.3" text-anchor="middle" font-weight="normal" fill="#2a2a2a">1:1</text>
<line x1="96.50" y1="425.60" x2="96.50" y2="428.40" stroke="#222" stroke-width="0.8"/>
<text x="96.50" y="437.60" font-size="6.3" text-anchor="middle" font-weight="normal" fill="#2a2a2a">2:1</text>
<line x1="128.90" y1="425.60" x2="128.90" y2="428.40" stroke="#222" stroke-width="0.8"/>
<text x="128.90" y="437.60" font-size="6.3" text-anchor="middle" font-weight="normal" fill="#2a2a2a">5:1</text>
<line x1="161.40" y1="425.60" x2="161.40" y2="428.40" stroke="#222" stroke-width="0.8"/>
<text x="161.40" y="437.60" font-size="6.3" text-anchor="middle" font-weight="normal" fill="#2a2a2a">10:1</text>
<text x="112.90" y="450.50" font-size="7.6" text-anchor="middle" font-weight="normal" fill="#2a2a2a" textLength="36.7" lengthAdjust="spacingAndGlyphs">Effect:Target</text>
<text x="25.80" y="370.00" font-size="8.0" text-anchor="middle" font-weight="normal" fill="#2a2a2a" textLength="26.0" lengthAdjust="spacingAndGlyphs" transform="rotate(-90 25.8 370.0)">% killing</text>
<path d="M64.30,416.00 L96.50,412.70 L128.90,412.70 L161.40,408.50" stroke="#62B44A" stroke-width="1.25" fill="none"/>
<line x1="64.30" y1="414.00" x2="64.30" y2="418.00" stroke="#62B44A" stroke-width="0.8"/>
<line x1="62.70" y1="414.00" x2="65.90" y2="414.00" stroke="#62B44A" stroke-width="0.8"/>
<line x1="62.70" y1="418.00" x2="65.90" y2="418.00" stroke="#62B44A" stroke-width="0.8"/>
<path d="M64.30,413.60 L66.50,416.00 L64.30,418.40 L62.10,416.00 Z" fill="#62B44A"/>
<line x1="96.50" y1="410.70" x2="96.50" y2="414.70" stroke="#62B44A" stroke-width="0.8"/>
<line x1="94.90" y1="410.70" x2="98.10" y2="410.70" stroke="#62B44A" stroke-width="0.8"/>
<line x1="94.90" y1="414.70" x2="98.10" y2="414.70" stroke="#62B44A" stroke-width="0.8"/>
<path d="M96.50,410.30 L98.70,412.70 L96.50,415.10 L94.30,412.70 Z" fill="#62B44A"/>
<line x1="128.90" y1="408.70" x2="128.90" y2="416.70" stroke="#62B44A" stroke-width="0.8"/>
<line x1="127.30" y1="408.70" x2="130.50" y2="408.70" stroke="#62B44A" stroke-width="0.8"/>
<line x1="127.30" y1="416.70" x2="130.50" y2="416.70" stroke="#62B44A" stroke-width="0.8"/>
<path d="M128.90,410.30 L131.10,412.70 L128.90,415.10 L126.70,412.70 Z" fill="#62B44A"/>
<line x1="161.40" y1="403.50" x2="161.40" y2="413.50" stroke="#62B44A" stroke-width="0.8"/>
<line x1="159.80" y1="403.50" x2="163.00" y2="403.50" stroke="#62B44A" stroke-width="0.8"/>
<line x1="159.80" y1="413.50" x2="163.00" y2="413.50" stroke="#62B44A" stroke-width="0.8"/>
<path d="M161.40,406.10 L163.60,408.50 L161.40,410.90 L159.20,408.50 Z" fill="#62B44A"/>
<path d="M64.30,420.00 L96.50,412.20 L128.90,405.30 L161.40,398.60" stroke="#B8702A" stroke-width="1.25" fill="none"/>
<circle cx="64.30" cy="420.00" r="2.20" fill="#B8702A"/>
<circle cx="96.50" cy="412.20" r="2.20" fill="#B8702A"/>
<line x1="128.90" y1="403.80" x2="128.90" y2="406.80" stroke="#B8702A" stroke-width="0.8"/>
<line x1="127.30" y1="403.80" x2="130.50" y2="403.80" stroke="#B8702A" stroke-width="0.8"/>
<line x1="127.30" y1="406.80" x2="130.50" y2="406.80" stroke="#B8702A" stroke-width="0.8"/>
<circle cx="128.90" cy="405.30" r="2.20" fill="#B8702A"/>
<line x1="161.40" y1="396.60" x2="161.40" y2="400.60" stroke="#B8702A" stroke-width="0.8"/>
<line x1="159.80" y1="396.60" x2="163.00" y2="396.60" stroke="#B8702A" stroke-width="0.8"/>
<line x1="159.80" y1="400.60" x2="163.00" y2="400.60" stroke="#B8702A" stroke-width="0.8"/>
<circle cx="161.40" cy="398.60" r="2.20" fill="#B8702A"/>
<path d="M64.30,416.80 L96.50,409.20 L128.90,402.30 L161.40,396.50" stroke="#EFBA2A" stroke-width="1.25" fill="none"/>
<rect x="62.30" y="414.80" width="4.00" height="4.00" fill="#EFBA2A"/>
<rect x="94.50" y="407.20" width="4.00" height="4.00" fill="#EFBA2A"/>
<line x1="128.90" y1="400.80" x2="128.90" y2="403.80" stroke="#EFBA2A" stroke-width="0.8"/>
<line x1="127.30" y1="400.80" x2="130.50" y2="400.80" stroke="#EFBA2A" stroke-width="0.8"/>
<line x1="127.30" y1="403.80" x2="130.50" y2="403.80" stroke="#EFBA2A" stroke-width="0.8"/>
<rect x="126.90" y="400.30" width="4.00" height="4.00" fill="#EFBA2A"/>
<line x1="161.40" y1="394.50" x2="161.40" y2="398.50" stroke="#EFBA2A" stroke-width="0.8"/>
<line x1="159.80" y1="394.50" x2="163.00" y2="394.50" stroke="#EFBA2A" stroke-width="0.8"/>
<line x1="159.80" y1="398.50" x2="163.00" y2="398.50" stroke="#EFBA2A" stroke-width="0.8"/>
<rect x="159.40" y="394.50" width="4.00" height="4.00" fill="#EFBA2A"/>
<path d="M64.30,414.50 L96.50,410.40 L128.90,398.80 L161.40,383.20" stroke="#2C4D8E" stroke-width="1.25" fill="none"/>
<line x1="64.30" y1="413.00" x2="64.30" y2="416.00" stroke="#2C4D8E" stroke-width="0.8"/>
<line x1="62.70" y1="413.00" x2="65.90" y2="413.00" stroke="#2C4D8E" stroke-width="0.8"/>
<line x1="62.70" y1="416.00" x2="65.90" y2="416.00" stroke="#2C4D8E" stroke-width="0.8"/>
<path d="M64.30,411.90 L66.70,416.30 L61.90,416.30 Z" fill="#2C4D8E"/>
<path d="M96.50,407.80 L98.90,412.20 L94.10,412.20 Z" fill="#2C4D8E"/>
<line x1="128.90" y1="396.60" x2="128.90" y2="401.00" stroke="#2C4D8E" stroke-width="0.8"/>
<line x1="127.30" y1="396.60" x2="130.50" y2="396.60" stroke="#2C4D8E" stroke-width="0.8"/>
<line x1="127.30" y1="401.00" x2="130.50" y2="401.00" stroke="#2C4D8E" stroke-width="0.8"/>
<path d="M128.90,396.20 L131.30,400.60 L126.50,400.60 Z" fill="#2C4D8E"/>
<line x1="161.40" y1="380.40" x2="161.40" y2="386.00" stroke="#2C4D8E" stroke-width="0.8"/>
<line x1="159.80" y1="380.40" x2="163.00" y2="380.40" stroke="#2C4D8E" stroke-width="0.8"/>
<line x1="159.80" y1="386.00" x2="163.00" y2="386.00" stroke="#2C4D8E" stroke-width="0.8"/>
<path d="M161.40,380.60 L163.80,385.00 L159.00,385.00 Z" fill="#2C4D8E"/>
<path d="M64.30,391.90 L96.50,385.00 L128.90,372.80 L161.40,365.00" stroke="#6B4191" stroke-width="1.25" fill="none"/>
<line x1="64.30" y1="386.90" x2="64.30" y2="396.90" stroke="#6B4191" stroke-width="0.8"/>
<line x1="62.70" y1="386.90" x2="65.90" y2="386.90" stroke="#6B4191" stroke-width="0.8"/>
<line x1="62.70" y1="396.90" x2="65.90" y2="396.90" stroke="#6B4191" stroke-width="0.8"/>
<circle cx="64.30" cy="391.90" r="2.20" fill="#fff" stroke="#6B4191" stroke-width="1.2"/>
<line x1="96.50" y1="380.50" x2="96.50" y2="389.50" stroke="#6B4191" stroke-width="0.8"/>
<line x1="94.90" y1="380.50" x2="98.10" y2="380.50" stroke="#6B4191" stroke-width="0.8"/>
<line x1="94.90" y1="389.50" x2="98.10" y2="389.50" stroke="#6B4191" stroke-width="0.8"/>
<circle cx="96.50" cy="385.00" r="2.20" fill="#fff" stroke="#6B4191" stroke-width="1.2"/>
<line x1="128.90" y1="368.80" x2="128.90" y2="376.80" stroke="#6B4191" stroke-width="0.8"/>
<line x1="127.30" y1="368.80" x2="130.50" y2="368.80" stroke="#6B4191" stroke-width="0.8"/>
<line x1="127.30" y1="376.80" x2="130.50" y2="376.80" stroke="#6B4191" stroke-width="0.8"/>
<circle cx="128.90" cy="372.80" r="2.20" fill="#fff" stroke="#6B4191" stroke-width="1.2"/>
<line x1="161.40" y1="361.20" x2="161.40" y2="368.80" stroke="#6B4191" stroke-width="0.8"/>
<line x1="159.80" y1="361.20" x2="163.00" y2="361.20" stroke="#6B4191" stroke-width="0.8"/>
<line x1="159.80" y1="368.80" x2="163.00" y2="368.80" stroke="#6B4191" stroke-width="0.8"/>
<circle cx="161.40" cy="365.00" r="2.20" fill="#fff" stroke="#6B4191" stroke-width="1.2"/>
<path d="M64.30,379.90 L96.50,366.80 L128.90,352.00 L161.40,340.80" stroke="#E0258D" stroke-width="1.25" fill="none"/>
<line x1="64.30" y1="377.70" x2="64.30" y2="382.10" stroke="#E0258D" stroke-width="0.8"/>
<line x1="62.70" y1="377.70" x2="65.90" y2="377.70" stroke="#E0258D" stroke-width="0.8"/>
<line x1="62.70" y1="382.10" x2="65.90" y2="382.10" stroke="#E0258D" stroke-width="0.8"/>
<path d="M64.30,382.50 L66.70,378.10 L61.90,378.10 Z" fill="#E0258D"/>
<path d="M96.50,369.40 L98.90,365.00 L94.10,365.00 Z" fill="#E0258D"/>
<line x1="128.90" y1="349.50" x2="128.90" y2="354.50" stroke="#E0258D" stroke-width="0.8"/>
<line x1="127.30" y1="349.50" x2="130.50" y2="349.50" stroke="#E0258D" stroke-width="0.8"/>
<line x1="127.30" y1="354.50" x2="130.50" y2="354.50" stroke="#E0258D" stroke-width="0.8"/>
<path d="M128.90,354.60 L131.30,350.20 L126.50,350.20 Z" fill="#E0258D"/>
<line x1="161.40" y1="335.80" x2="161.40" y2="345.80" stroke="#E0258D" stroke-width="0.8"/>
<line x1="159.80" y1="335.80" x2="163.00" y2="335.80" stroke="#E0258D" stroke-width="0.8"/>
<line x1="159.80" y1="345.80" x2="163.00" y2="345.80" stroke="#E0258D" stroke-width="0.8"/>
<path d="M161.40,343.40 L163.80,339.00 L159.00,339.00 Z" fill="#E0258D"/>
<line x1="173.80" y1="310.65" x2="183.00" y2="310.65" stroke="#B8702A" stroke-width="1.0"/>
<circle cx="178.30" cy="310.65" r="1.98" fill="#B8702A"/>
<text x="186.40" y="312.65" font-size="5.9" text-anchor="start" font-weight="normal" fill="#2a2a2a" textLength="39.8" lengthAdjust="spacingAndGlyphs">Unmodified-iNK</text>
<line x1="173.80" y1="321.45" x2="183.00" y2="321.45" stroke="#2C4D8E" stroke-width="1.0"/>
<path d="M178.30,319.11 L180.46,323.07 L176.14,323.07 Z" fill="#2C4D8E"/>
<text x="186.40" y="323.45" font-size="5.9" text-anchor="start" font-weight="normal" fill="#2a2a2a" textLength="69.3" lengthAdjust="spacingAndGlyphs">Unmodified-iNK+anti-CD20</text>
<line x1="173.80" y1="332.25" x2="183.00" y2="332.25" stroke="#EFBA2A" stroke-width="1.0"/>
<rect x="176.50" y="330.45" width="3.60" height="3.60" fill="#EFBA2A"/>
<text x="186.40" y="334.25" font-size="5.9" text-anchor="start" font-weight="normal" fill="#2a2a2a" textLength="31.2" lengthAdjust="spacingAndGlyphs">hnCD16-iNK</text>
<line x1="173.80" y1="343.05" x2="183.00" y2="343.05" stroke="#E0258D" stroke-width="1.0"/>
<path d="M178.30,345.39 L180.46,341.43 L176.14,341.43 Z" fill="#E0258D"/>
<text x="186.40" y="345.05" font-size="5.9" text-anchor="start" font-weight="normal" fill="#2a2a2a" textLength="60.6" lengthAdjust="spacingAndGlyphs">hnCD16-iNK+anti-CD20</text>
<line x1="173.80" y1="353.85" x2="183.00" y2="353.85" stroke="#62B44A" stroke-width="1.0"/>
<path d="M178.30,351.69 L180.28,353.85 L178.30,356.01 L176.32,353.85 Z" fill="#62B44A"/>
<text x="186.40" y="355.85" font-size="5.9" text-anchor="start" font-weight="normal" fill="#2a2a2a" textLength="16.5" lengthAdjust="spacingAndGlyphs">PB-NK</text>
<line x1="173.80" y1="364.65" x2="183.00" y2="364.65" stroke="#6B4191" stroke-width="1.0"/>
<circle cx="178.30" cy="364.65" r="1.98" fill="#fff" stroke="#6B4191" stroke-width="1.2"/>
<text x="186.40" y="366.65" font-size="5.9" text-anchor="start" font-weight="normal" fill="#2a2a2a" textLength="45.0" lengthAdjust="spacingAndGlyphs">PB-NK+anti-CD20</text>
<text x="343.80" y="310.10" font-size="9.4" text-anchor="start" font-weight="normal" fill="#2a2a2a" textLength="41.2" lengthAdjust="spacingAndGlyphs">Raji ADCC</text>
<line x1="311.50" y1="325.00" x2="311.50" y2="426.20" stroke="#222" stroke-width="1.5"/>
<line x1="310.80" y1="425.50" x2="418.00" y2="425.50" stroke="#222" stroke-width="1.5"/>
<line x1="308.50" y1="425.50" x2="311.50" y2="425.50" stroke="#222" stroke-width="0.8"/>
<text x="305.60" y="427.90" font-size="6.8" text-anchor="end" font-weight="normal" fill="#333">0</text>
<line x1="308.50" y1="379.90" x2="311.50" y2="379.90" stroke="#222" stroke-width="0.8"/>
<text x="305.60" y="382.30" font-size="6.8" text-anchor="end" font-weight="normal" fill="#333">50</text>
<line x1="308.50" y1="334.30" x2="311.50" y2="334.30" stroke="#222" stroke-width="0.8"/>
<text x="305.60" y="336.70" font-size="6.8" text-anchor="end" font-weight="normal" fill="#333">100</text>
<line x1="310.90" y1="425.50" x2="310.90" y2="428.30" stroke="#222" stroke-width="0.8"/>
<text x="310.90" y="437.90" font-size="6.6" text-anchor="middle" font-weight="normal" fill="#2a2a2a">0</text>
<line x1="331.65" y1="425.50" x2="331.65" y2="428.30" stroke="#222" stroke-width="0.8"/>
<text x="331.65" y="437.90" font-size="6.6" text-anchor="middle" font-weight="normal" fill="#2a2a2a">5</text>
<line x1="352.40" y1="425.50" x2="352.40" y2="428.30" stroke="#222" stroke-width="0.8"/>
<text x="352.40" y="437.90" font-size="6.6" text-anchor="middle" font-weight="normal" fill="#2a2a2a">10</text>
<line x1="373.15" y1="425.50" x2="373.15" y2="428.30" stroke="#222" stroke-width="0.8"/>
<text x="373.15" y="437.90" font-size="6.6" text-anchor="middle" font-weight="normal" fill="#2a2a2a">15</text>
<line x1="393.90" y1="425.50" x2="393.90" y2="428.30" stroke="#222" stroke-width="0.8"/>
<text x="393.90" y="437.90" font-size="6.6" text-anchor="middle" font-weight="normal" fill="#2a2a2a">20</text>
<line x1="414.65" y1="425.50" x2="414.65" y2="428.30" stroke="#222" stroke-width="0.8"/>
<text x="414.65" y="437.90" font-size="6.6" text-anchor="middle" font-weight="normal" fill="#2a2a2a">25</text>
<text x="364.60" y="449.30" font-size="7.6" text-anchor="middle" font-weight="normal" fill="#2a2a2a" textLength="39.3" lengthAdjust="spacingAndGlyphs">Time (hours)</text>
<text x="278.60" y="375.60" font-size="8.2" text-anchor="middle" font-weight="normal" fill="#2a2a2a" textLength="84.0" lengthAdjust="spacingAndGlyphs" transform="rotate(-90 278.6 375.6)">Normalized raji - NLR count</text>
<text x="289.40" y="373.00" font-size="8.2" text-anchor="middle" font-weight="normal" fill="#2a2a2a" textLength="72.8" lengthAdjust="spacingAndGlyphs" transform="rotate(-90 289.4 373.0)">(% of raji only control)</text>
<path d="M312.00,334.55 L313.60,335.27 L315.20,336.50 L316.80,336.09 L318.40,336.68 L320.00,337.34 L321.60,337.07 L323.20,338.28 L324.80,339.06 L326.40,339.94 L328.00,339.09 L329.60,340.05 L331.20,340.20 L332.80,342.27 L334.40,342.68 L336.00,342.01 L337.60,344.52 L339.20,345.12 L340.80,345.14 L342.40,345.57 L344.00,345.03 L345.60,345.13 L347.20,346.53 L348.80,345.97 L350.40,346.61 L352.00,347.10 L353.60,347.05 L355.20,348.29 L356.80,348.61 L358.40,349.79 L360.00,349.53 L361.60,350.20 L363.20,350.35 L364.80,351.10 L366.40,351.21 L368.00,351.40 L369.60,353.40 L371.20,353.95 L372.80,354.19 L374.40,354.48 L376.00,354.25 L377.60,354.48 L379.20,354.99 L380.80,354.95 L382.40,356.73 L384.00,356.39 L385.60,357.68 L387.20,357.13 L388.80,358.62 L390.40,358.74 L392.00,357.39 L393.60,358.15 L395.20,359.89 L396.80,359.35 L398.40,360.72 L400.00,359.90 L401.60,359.59 L403.20,361.05" stroke="#C5DBF2" stroke-width="1.7" fill="none" stroke-linejoin="bevel"/>
<path d="M312.00,334.84 L313.60,336.06 L315.20,336.93 L316.80,336.74 L318.40,337.33 L320.00,338.92 L321.60,339.59 L323.20,341.55 L324.80,342.20 L326.40,342.91 L328.00,343.71 L329.60,344.80 L331.20,344.65 L332.80,346.09 L334.40,346.38 L336.00,348.72 L337.60,347.88 L339.20,350.25 L340.80,349.62 L342.40,351.65 L344.00,351.72 L345.60,352.63 L347.20,354.28 L348.80,353.40 L350.40,354.25 L352.00,356.73 L353.60,356.67 L355.20,356.58 L356.80,359.12 L358.40,359.78 L360.00,358.84 L361.60,360.14 L363.20,360.24 L364.80,361.27 L366.40,362.54 L368.00,362.26 L369.60,363.96 L371.20,363.30 L372.80,364.18 L374.40,366.10 L376.00,365.91 L377.60,366.52 L379.20,367.45 L380.80,367.79 L382.40,368.18 L384.00,368.05 L385.60,370.02 L387.20,370.94 L388.80,371.25 L390.40,370.92 L392.00,370.60 L393.60,370.90 L395.20,371.85 L396.80,372.11 L398.40,371.28 L400.00,371.81 L401.60,372.36 L403.20,372.95" stroke="#8FB0E3" stroke-width="1.7" fill="none" stroke-linejoin="bevel"/>
<path d="M312.00,339.88 L313.60,345.57 L315.20,348.96 L316.80,351.77 L318.40,352.93 L320.00,355.51 L321.60,357.14 L323.20,358.83 L324.80,361.38 L326.40,361.70 L328.00,364.04 L329.60,364.93 L331.20,366.60 L332.80,368.28 L334.40,370.50 L336.00,371.45 L337.60,371.66 L339.20,373.59 L340.80,374.74 L342.40,377.40 L344.00,378.28 L345.60,379.27 L347.20,380.31 L348.80,381.15 L350.40,382.56 L352.00,383.25 L353.60,383.06 L355.20,385.09 L356.80,385.22 L358.40,386.60 L360.00,387.12 L361.60,387.85 L363.20,388.73 L364.80,389.86 L366.40,390.25 L368.00,390.32 L369.60,392.18 L371.20,392.60 L372.80,393.43 L374.40,393.30 L376.00,393.49 L377.60,394.29 L379.20,393.47 L380.80,394.96 L382.40,394.90 L384.00,394.78 L385.60,395.24 L387.20,396.23 L388.80,395.99 L390.40,396.71 L392.00,397.30 L393.60,397.18 L395.20,396.95 L396.80,397.97 L398.40,397.76 L400.00,398.06 L401.60,398.28 L403.20,398.92" stroke="#4A9AB0" stroke-width="1.7" fill="none" stroke-linejoin="bevel"/>
<path d="M312.00,337.63 L313.60,342.17 L315.20,344.92 L316.80,348.06 L318.40,349.27 L320.00,351.80 L321.60,354.45 L323.20,355.66 L324.80,356.32 L326.40,358.44 L328.00,359.23 L329.60,361.36 L331.20,361.36 L332.80,362.76 L334.40,365.31 L336.00,365.41 L337.60,366.41 L339.20,368.68 L340.80,369.53 L342.40,369.74 L344.00,371.71 L345.60,373.10 L347.20,373.26 L348.80,375.40 L350.40,375.50 L352.00,377.09 L353.60,377.64 L355.20,378.89 L356.80,381.45 L358.40,381.32 L360.00,383.43 L361.60,383.13 L363.20,384.28 L364.80,385.61 L366.40,385.80 L368.00,385.11 L369.60,386.52 L371.20,387.07 L372.80,386.63 L374.40,386.91 L376.00,388.93 L377.60,388.70 L379.20,388.55 L380.80,389.56 L382.40,389.59 L384.00,391.24 L385.60,391.14 L387.20,390.78 L388.80,392.60 L390.40,391.53 L392.00,392.30 L393.60,392.18 L395.20,393.99 L396.80,393.12 L398.40,394.33 L400.00,393.85 L401.60,395.01 L403.20,395.81" stroke="#3F7F96" stroke-width="1.7" fill="none" stroke-linejoin="bevel"/>
<path d="M312.00,336.02 L313.60,335.25 L315.20,338.15 L316.80,338.63 L318.40,341.93 L320.00,341.63 L321.60,344.92 L323.20,346.06 L324.80,347.94 L326.40,349.76 L328.00,349.77 L329.60,351.50 L331.20,353.80 L332.80,354.58 L334.40,356.18 L336.00,357.75 L337.60,360.65 L339.20,362.32 L340.80,363.80 L342.40,364.24 L344.00,367.18 L345.60,367.90 L347.20,368.88 L348.80,370.87 L350.40,372.34 L352.00,373.20 L353.60,375.26 L355.20,375.78 L356.80,377.13 L358.40,378.78 L360.00,379.29 L361.60,380.19 L363.20,382.49 L364.80,384.14 L366.40,383.96 L368.00,385.48 L369.60,384.23 L371.20,385.09 L372.80,385.76 L374.40,387.90 L376.00,388.01 L377.60,388.48 L379.20,388.03 L380.80,388.85 L382.40,390.04 L384.00,388.88 L385.60,389.32 L387.20,389.58 L388.80,390.82 L390.40,391.96 L392.00,391.78 L393.60,391.87 L395.20,392.46 L396.80,392.21 L398.40,394.14 L400.00,393.35 L401.60,393.51 L403.20,394.05" stroke="#6F8FD2" stroke-width="1.7" fill="none" stroke-linejoin="bevel"/>
<path d="M312.00,337.78 L313.60,340.83 L315.20,343.12 L316.80,345.33 L318.40,347.41 L320.00,350.07 L321.60,350.92 L323.20,353.14 L324.80,353.35 L326.40,355.40 L328.00,356.93 L329.60,358.00 L331.20,360.64 L332.80,361.10 L334.40,363.38 L336.00,365.04 L337.60,364.96 L339.20,367.56 L340.80,368.72 L342.40,369.68 L344.00,369.57 L345.60,371.59 L347.20,373.09 L348.80,373.59 L350.40,374.61 L352.00,375.95 L353.60,376.77 L355.20,378.68 L356.80,378.64 L358.40,379.64 L360.00,380.93 L361.60,382.40 L363.20,381.94 L364.80,382.30 L366.40,384.68 L368.00,384.79 L369.60,385.10 L371.20,384.96 L372.80,384.77 L374.40,385.00 L376.00,385.70 L377.60,386.40 L379.20,386.01 L380.80,387.67 L382.40,388.12 L384.00,387.08 L385.60,389.14 L387.20,388.78 L388.80,389.94 L390.40,389.35 L392.00,390.29 L393.60,389.91 L395.20,390.53 L396.80,390.60 L398.40,389.95 L400.00,390.49 L401.60,390.97 L403.20,391.61" stroke="#253F55" stroke-width="1.7" fill="none" stroke-linejoin="bevel"/>
<path d="M312.00,328.88 L313.60,328.82 L315.20,329.13 L316.80,329.62 L318.40,331.00 L320.00,330.31 L321.60,330.88 L323.20,331.78 L324.80,331.80 L326.40,332.90 L328.00,332.31 L329.60,332.48 L331.20,333.16 L332.80,333.06 L334.40,335.26 L336.00,335.04 L337.60,335.90 L339.20,337.33 L340.80,337.10 L342.40,338.96 L344.00,340.17 L345.60,339.98 L347.20,342.03 L348.80,342.03 L350.40,343.36 L352.00,343.58 L353.60,344.28 L355.20,344.82 L356.80,344.94 L358.40,345.98 L360.00,348.20 L361.60,347.93 L363.20,348.44 L364.80,349.96 L366.40,350.00 L368.00,351.36 L369.60,350.75 L371.20,351.09 L372.80,353.12 L374.40,352.22 L376.00,354.11 L377.60,354.11 L379.20,355.28 L380.80,355.60 L382.40,355.43 L384.00,354.57 L385.60,354.94 L387.20,356.28 L388.80,357.47 L390.40,356.49 L392.00,357.68 L393.60,357.50 L395.20,358.44 L396.80,358.33 L398.40,359.48 L400.00,360.36 L401.60,360.21 L403.20,361.88" stroke="#E8B41E" stroke-width="1.8" fill="none" stroke-linejoin="bevel"/>
<line x1="311.50" y1="334.40" x2="403.40" y2="334.40" stroke="#5E3A17" stroke-width="2.0"/>
<line x1="418.60" y1="340.40" x2="429.70" y2="340.40" stroke="#6B4423" stroke-width="0.9"/>
<circle cx="423.8" cy="340.4" r="0.9" fill="#3a2010"/>
<text x="433.10" y="342.30" font-size="5.6" text-anchor="start" font-weight="normal" fill="#2a2a2a" textLength="24.2" lengthAdjust="spacingAndGlyphs">Raji Alone</text>
<line x1="418.60" y1="351.30" x2="429.70" y2="351.30" stroke="#EDBA3A" stroke-width="0.9"/>
<circle cx="423.8" cy="351.3" r="0.9" fill="#E0A010"/>
<text x="433.10" y="353.20" font-size="5.6" text-anchor="start" font-weight="normal" fill="#2a2a2a" textLength="42.1" lengthAdjust="spacingAndGlyphs">hnCD16 iNK only</text>
<text x="433.10" y="364.30" font-size="5.6" text-anchor="start" font-weight="normal" fill="#2a2a2a" textLength="35.1" lengthAdjust="spacingAndGlyphs">hnCD16 iNK +</text>
<path d="M418.9,377.3 L494.3,369.8 L494.3,377.3 Z" stroke="#5A7030" stroke-width="0.6" fill="#9CB55A"/>
<rect x="418.20" y="379.00" width="12.60" height="11.90" fill="#C5D9EF" stroke="none" stroke-width="1"/>
<rect x="430.70" y="379.00" width="13.40" height="11.90" fill="#9AB5E0" stroke="none" stroke-width="1"/>
<rect x="444.00" y="379.00" width="13.10" height="11.90" fill="#7090CC" stroke="none" stroke-width="1"/>
<rect x="457.00" y="379.00" width="12.70" height="11.90" fill="#4E9AB3" stroke="none" stroke-width="1"/>
<rect x="469.60" y="379.00" width="12.60" height="11.90" fill="#3F7A91" stroke="none" stroke-width="1"/>
<rect x="482.10" y="379.00" width="12.70" height="11.90" fill="#2B4A5E" stroke="none" stroke-width="1"/>
<text x="424.10" y="399.40" font-size="6.3" text-anchor="middle" font-weight="normal" fill="#2a2a2a">.001</text>
<text x="437.10" y="399.40" font-size="6.3" text-anchor="middle" font-weight="normal" fill="#2a2a2a">.01</text>
<text x="450.00" y="399.40" font-size="6.3" text-anchor="middle" font-weight="normal" fill="#2a2a2a">.1</text>
<text x="463.00" y="399.40" font-size="6.3" text-anchor="middle" font-weight="normal" fill="#2a2a2a">1</text>
<text x="476.00" y="399.40" font-size="6.3" text-anchor="middle" font-weight="normal" fill="#2a2a2a">10</text>
<text x="488.20" y="399.40" font-size="6.3" text-anchor="middle" font-weight="normal" fill="#2a2a2a">20</text>
<text x="457.80" y="411.50" font-size="8.4" text-anchor="middle" font-weight="normal" fill="#2a2a2a" textLength="51.9" lengthAdjust="spacingAndGlyphs">μg/ml anti-CD20</text>
<text x="109.60" y="480.20" font-size="8.8" text-anchor="middle" font-weight="normal" fill="#2a2a2a" textLength="20.8" lengthAdjust="spacingAndGlyphs">A549</text>
<text x="83.0" y="490.5" font-size="8.8" fill="#2a2a2a" textLength="50" lengthAdjust="spacingAndGlyphs">Her2<tspan font-size="4.6" dy="-3">lo</tspan><tspan dy="3">/EGFR</tspan><tspan font-size="4.6" dy="-3">hi</tspan></text>
<line x1="47.90" y1="495.59" x2="47.90" y2="631.20" stroke="#2a2a2a" stroke-width="1.8"/>
<line x1="47.20" y1="630.50" x2="170.20" y2="630.50" stroke="#2a2a2a" stroke-width="1.5"/>
<line x1="44.90" y1="630.50" x2="47.90" y2="630.50" stroke="#222" stroke-width="0.8"/>
<text x="41.30" y="632.70" font-size="6.3" text-anchor="end" font-weight="normal" fill="#333">0</text>
<line x1="44.90" y1="604.15" x2="47.90" y2="604.15" stroke="#222" stroke-width="0.8"/>
<text x="41.30" y="606.35" font-size="6.3" text-anchor="end" font-weight="normal" fill="#333">25</text>
<line x1="44.90" y1="577.80" x2="47.90" y2="577.80" stroke="#222" stroke-width="0.8"/>
<text x="41.30" y="580.00" font-size="6.3" text-anchor="end" font-weight="normal" fill="#333">50</text>
<line x1="44.90" y1="551.45" x2="47.90" y2="551.45" stroke="#222" stroke-width="0.8"/>
<text x="41.30" y="553.65" font-size="6.3" text-anchor="end" font-weight="normal" fill="#333">75</text>
<line x1="44.90" y1="525.10" x2="47.90" y2="525.10" stroke="#222" stroke-width="0.8"/>
<text x="41.30" y="527.30" font-size="6.3" text-anchor="end" font-weight="normal" fill="#333">100</text>
<line x1="44.90" y1="498.75" x2="47.90" y2="498.75" stroke="#222" stroke-width="0.8"/>
<text x="41.30" y="500.95" font-size="6.3" text-anchor="end" font-weight="normal" fill="#333">125</text>
<line x1="47.90" y1="630.50" x2="47.90" y2="633.30" stroke="#222" stroke-width="0.8"/>
<text x="47.90" y="642.80" font-size="6.4" text-anchor="middle" font-weight="normal" fill="#2a2a2a">0</text>
<line x1="56.78" y1="630.50" x2="56.78" y2="633.30" stroke="#222" stroke-width="0.8"/>
<text x="56.78" y="642.80" font-size="6.4" text-anchor="middle" font-weight="normal" fill="#2a2a2a">6</text>
<line x1="65.66" y1="630.50" x2="65.66" y2="633.30" stroke="#222" stroke-width="0.8"/>
<text x="65.66" y="642.80" font-size="6.4" text-anchor="middle" font-weight="normal" fill="#2a2a2a">12</text>
<line x1="74.54" y1="630.50" x2="74.54" y2="633.30" stroke="#222" stroke-width="0.8"/>
<text x="74.54" y="642.80" font-size="6.4" text-anchor="middle" font-weight="normal" fill="#2a2a2a">18</text>
<line x1="83.42" y1="630.50" x2="83.42" y2="633.30" stroke="#222" stroke-width="0.8"/>
<text x="83.42" y="642.80" font-size="6.4" text-anchor="middle" font-weight="normal" fill="#2a2a2a">24</text>
<line x1="92.30" y1="630.50" x2="92.30" y2="633.30" stroke="#222" stroke-width="0.8"/>
<text x="92.30" y="642.80" font-size="6.4" text-anchor="middle" font-weight="normal" fill="#2a2a2a">30</text>
<line x1="101.18" y1="630.50" x2="101.18" y2="633.30" stroke="#222" stroke-width="0.8"/>
<text x="101.18" y="642.80" font-size="6.4" text-anchor="middle" font-weight="normal" fill="#2a2a2a">36</text>
<line x1="110.06" y1="630.50" x2="110.06" y2="633.30" stroke="#222" stroke-width="0.8"/>
<text x="110.06" y="642.80" font-size="6.4" text-anchor="middle" font-weight="normal" fill="#2a2a2a">42</text>
<line x1="118.94" y1="630.50" x2="118.94" y2="633.30" stroke="#222" stroke-width="0.8"/>
<text x="118.94" y="642.80" font-size="6.4" text-anchor="middle" font-weight="normal" fill="#2a2a2a">48</text>
<line x1="127.82" y1="630.50" x2="127.82" y2="633.30" stroke="#222" stroke-width="0.8"/>
<text x="127.82" y="642.80" font-size="6.4" text-anchor="middle" font-weight="normal" fill="#2a2a2a">54</text>
<line x1="136.70" y1="630.50" x2="136.70" y2="633.30" stroke="#222" stroke-width="0.8"/>
<text x="136.70" y="642.80" font-size="6.4" text-anchor="middle" font-weight="normal" fill="#2a2a2a">60</text>
<line x1="145.58" y1="630.50" x2="145.58" y2="633.30" stroke="#222" stroke-width="0.8"/>
<text x="145.58" y="642.80" font-size="6.4" text-anchor="middle" font-weight="normal" fill="#2a2a2a">66</text>
<line x1="154.46" y1="630.50" x2="154.46" y2="633.30" stroke="#222" stroke-width="0.8"/>
<text x="154.46" y="642.80" font-size="6.4" text-anchor="middle" font-weight="normal" fill="#2a2a2a">72</text>
<line x1="163.34" y1="630.50" x2="163.34" y2="633.30" stroke="#222" stroke-width="0.8"/>
<text x="163.34" y="642.80" font-size="6.4" text-anchor="middle" font-weight="normal" fill="#2a2a2a">78</text>
<text x="16.30" y="563.20" font-size="8.2" text-anchor="middle" font-weight="normal" fill="#2a2a2a" textLength="74.0" lengthAdjust="spacingAndGlyphs" transform="rotate(-90 16.3 563.2)">Normalized  A549 count</text>
<text x="25.30" y="563.40" font-size="8.2" text-anchor="middle" font-weight="normal" fill="#2a2a2a" textLength="52.0" lengthAdjust="spacingAndGlyphs" transform="rotate(-90 25.3 563.4)">(% of A549 only)</text>
<text x="109.20" y="652.40" font-size="7.6" text-anchor="middle" font-weight="normal" fill="#2a2a2a" textLength="39.3" lengthAdjust="spacingAndGlyphs">Time (hours)</text>
<path d="M47.90,525.10 L48.64,525.19 L49.38,525.29 L50.12,525.40 L50.86,525.53 L51.60,525.66 L52.34,525.81 L53.08,525.96 L53.82,526.12 L54.56,526.29 L55.30,526.47 L56.04,526.64 L56.78,526.83 L57.52,527.01 L58.26,527.20 L59.00,527.38 L59.74,527.57 L60.48,527.75 L61.22,527.93 L61.96,528.11 L62.70,528.28 L63.44,528.44 L64.18,528.60 L64.92,528.75 L65.66,528.89 L66.40,529.03 L67.14,529.16 L67.88,529.30 L68.62,529.43 L69.36,529.56 L70.10,529.69 L70.84,529.81 L71.58,529.94 L72.32,530.06 L73.06,530.18 L73.80,530.30 L74.54,530.42 L75.28,530.53 L76.02,530.64 L76.76,530.75 L77.50,530.86 L78.24,530.97 L78.98,531.07 L79.72,531.17 L80.46,531.27 L81.20,531.37 L81.94,531.46 L82.68,531.55 L83.42,531.63 L84.16,531.72 L84.90,531.81 L85.64,531.90 L86.38,531.98 L87.12,532.07 L87.86,532.16 L88.60,532.24 L89.34,532.33 L90.08,532.41 L90.82,532.48 L91.56,532.56 L92.30,532.63 L93.04,532.70 L93.78,532.76 L94.52,532.81 L95.26,532.86 L96.00,532.91 L96.74,532.95 L97.48,532.98 L98.22,533.00 L98.96,533.01 L99.70,533.02 L100.44,533.02 L101.18,533.00 L101.92,532.98 L102.66,532.96 L103.40,532.92 L104.14,532.88 L104.88,532.84 L105.62,532.79 L106.36,532.73 L107.10,532.66 L107.84,532.59 L108.58,532.51 L109.32,532.43 L110.06,532.34 L110.80,532.24 L111.54,532.14 L112.28,532.03 L113.02,531.92 L113.76,531.80 L114.50,531.67 L115.24,531.54 L115.98,531.40 L116.72,531.26 L117.46,531.11 L118.20,530.95 L118.94,530.79 L119.68,530.62 L120.42,530.44 L121.16,530.26 L121.90,530.06 L122.64,529.86 L123.38,529.65 L124.12,529.43 L124.86,529.20 L125.60,528.97 L126.34,528.74 L127.08,528.49 L127.82,528.25 L128.56,528.00 L129.30,527.74 L130.04,527.49 L130.78,527.23 L131.52,526.97 L132.26,526.70 L133.00,526.43 L133.74,526.17 L134.48,525.90 L135.22,525.63 L135.96,525.37 L136.70,525.10 L137.44,524.65 L138.18,524.17 L138.92,523.66 L139.66,523.13 L140.40,522.59 L141.14,522.03 L141.88,521.49 L142.62,520.94 L143.36,520.42 L144.10,519.92 L144.84,519.45 L145.58,519.02 L146.32,518.64 L147.06,518.31 L147.80,518.04 L147.80,533.53 L147.06,533.71 L146.32,533.92 L145.58,534.16 L144.84,534.43 L144.10,534.72 L143.36,535.03 L142.62,535.36 L141.88,535.71 L141.14,536.07 L140.40,536.44 L139.66,536.83 L138.92,537.21 L138.18,537.60 L137.44,537.99 L136.70,538.38 L135.96,538.63 L135.22,538.89 L134.48,539.17 L133.74,539.46 L133.00,539.76 L132.26,540.07 L131.52,540.39 L130.78,540.71 L130.04,541.03 L129.30,541.36 L128.56,541.68 L127.82,542.00 L127.08,542.32 L126.34,542.64 L125.60,542.95 L124.86,543.24 L124.12,543.53 L123.38,543.81 L122.64,544.07 L121.90,544.32 L121.16,544.55 L120.42,544.76 L119.68,544.96 L118.94,545.13 L118.20,545.28 L117.46,545.41 L116.72,545.54 L115.98,545.65 L115.24,545.75 L114.50,545.83 L113.76,545.91 L113.02,545.97 L112.28,546.03 L111.54,546.07 L110.80,546.11 L110.06,546.13 L109.32,546.15 L108.58,546.16 L107.84,546.17 L107.10,546.16 L106.36,546.16 L105.62,546.14 L104.88,546.12 L104.14,546.10 L103.40,546.07 L102.66,546.04 L101.92,546.01 L101.18,545.97 L100.44,545.87 L99.70,545.71 L98.96,545.51 L98.22,545.28 L97.48,545.03 L96.74,544.76 L96.00,544.48 L95.26,544.21 L94.52,543.95 L93.78,543.71 L93.04,543.50 L92.30,543.33 L91.56,543.20 L90.82,543.08 L90.08,542.98 L89.34,542.89 L88.60,542.81 L87.86,542.75 L87.12,542.69 L86.38,542.64 L85.64,542.60 L84.90,542.56 L84.16,542.53 L83.42,542.49 L82.68,542.47 L81.94,542.49 L81.20,542.53 L80.46,542.58 L79.72,542.64 L78.98,542.70 L78.24,542.74 L77.50,542.76 L76.76,542.76 L76.02,542.72 L75.28,542.63 L74.54,542.49 L73.80,542.30 L73.06,542.07 L72.32,541.81 L71.58,541.52 L70.84,541.20 L70.10,540.86 L69.36,540.49 L68.62,540.10 L67.88,539.69 L67.14,539.27 L66.40,538.83 L65.66,538.38 L64.92,537.91 L64.18,537.41 L63.44,536.87 L62.70,536.32 L61.96,535.75 L61.22,535.16 L60.48,534.56 L59.74,533.97 L59.00,533.37 L58.26,532.78 L57.52,532.20 L56.78,531.63 L56.04,531.06 L55.30,530.46 L54.56,529.83 L53.82,529.20 L53.08,528.57 L52.34,527.95 L51.60,527.35 L50.86,526.79 L50.12,526.27 L49.38,525.81 L48.64,525.42 L47.90,525.10 Z" stroke="none" stroke-width="1" fill="#D3E8C4" fill-opacity="0.35"/>
<path d="M47.90,525.10 L47.90,525.10 M50.12,525.40 L50.12,526.27 M52.34,525.81 L52.34,527.95 M54.56,526.29 L54.56,529.83 M56.78,526.83 L56.78,531.63 M59.00,527.38 L59.00,533.37 M61.22,527.93 L61.22,535.16 M63.44,528.44 L63.44,536.87 M65.66,528.89 L65.66,538.38 M67.88,529.30 L67.88,539.69 M70.10,529.69 L70.10,540.86 M72.32,530.06 L72.32,541.81 M74.54,530.42 L74.54,542.49 M76.76,530.75 L76.76,542.76 M78.98,531.07 L78.98,542.70 M81.20,531.37 L81.20,542.53 M83.42,531.63 L83.42,542.49 M85.64,531.90 L85.64,542.60 M87.86,532.16 L87.86,542.75 M90.08,532.41 L90.08,542.98 M92.30,532.63 L92.30,543.33 M94.52,532.81 L94.52,543.95 M96.74,532.95 L96.74,544.76 M98.96,533.01 L98.96,545.51 M101.18,533.00 L101.18,545.97 M103.40,532.92 L103.40,546.07 M105.62,532.79 L105.62,546.14 M107.84,532.59 L107.84,546.17 M110.06,532.34 L110.06,546.13 M112.28,532.03 L112.28,546.03 M114.50,531.67 L114.50,545.83 M116.72,531.26 L116.72,545.54 M118.94,530.79 L118.94,545.13 M121.16,530.26 L121.16,544.55 M123.38,529.65 L123.38,543.81 M125.60,528.97 L125.60,542.95 M127.82,528.25 L127.82,542.00 M130.04,527.49 L130.04,541.03 M132.26,526.70 L132.26,540.07 M134.48,525.90 L134.48,539.17 M136.70,525.10 L136.70,538.38 M138.92,523.66 L138.92,537.21 M141.14,522.03 L141.14,536.07 M143.36,520.42 L143.36,535.03 M145.58,519.02 L145.58,534.16 M147.80,518.04 L147.80,533.53 " stroke="#D3E8C4" stroke-width="0.45" fill="none"/>
<path d="M47.90,525.10 L48.64,525.19 L49.38,525.29 L50.12,525.40 L50.86,525.53 L51.60,525.66 L52.34,525.81 L53.08,525.96 L53.82,526.12 L54.56,526.29 L55.30,526.47 L56.04,526.64 L56.78,526.83 L57.52,527.01 L58.26,527.20 L59.00,527.38 L59.74,527.57 L60.48,527.75 L61.22,527.93 L61.96,528.11 L62.70,528.28 L63.44,528.44 L64.18,528.60 L64.92,528.75 L65.66,528.89 L66.40,529.03 L67.14,529.16 L67.88,529.30 L68.62,529.43 L69.36,529.56 L70.10,529.69 L70.84,529.81 L71.58,529.94 L72.32,530.06 L73.06,530.18 L73.80,530.30 L74.54,530.42 L75.28,530.53 L76.02,530.64 L76.76,530.75 L77.50,530.86 L78.24,530.97 L78.98,531.07 L79.72,531.17 L80.46,531.27 L81.20,531.37 L81.94,531.46 L82.68,531.55 L83.42,531.63 L84.16,531.72 L84.90,531.81 L85.64,531.90 L86.38,531.98 L87.12,532.07 L87.86,532.16 L88.60,532.24 L89.34,532.33 L90.08,532.41 L90.82,532.48 L91.56,532.56 L92.30,532.63 L93.04,532.70 L93.78,532.76 L94.52,532.81 L95.26,532.86 L96.00,532.91 L96.74,532.95 L97.48,532.98 L98.22,533.00 L98.96,533.01 L99.70,533.02 L100.44,533.02 L101.18,533.00 L101.92,532.98 L102.66,532.96 L103.40,532.92 L104.14,532.88 L104.88,532.84 L105.62,532.79 L106.36,532.73 L107.10,532.66 L107.84,532.59 L108.58,532.51 L109.32,532.43 L110.06,532.34 L110.80,532.24 L111.54,532.14 L112.28,532.03 L113.02,531.92 L113.76,531.80 L114.50,531.67 L115.24,531.54 L115.98,531.40 L116.72,531.26 L117.46,531.11 L118.20,530.95 L118.94,530.79 L119.68,530.62 L120.42,530.44 L121.16,530.26 L121.90,530.06 L122.64,529.86 L123.38,529.65 L124.12,529.43 L124.86,529.20 L125.60,528.97 L126.34,528.74 L127.08,528.49 L127.82,528.25 L128.56,528.00 L129.30,527.74 L130.04,527.49 L130.78,527.23 L131.52,526.97 L132.26,526.70 L133.00,526.43 L133.74,526.17 L134.48,525.90 L135.22,525.63 L135.96,525.37 L136.70,525.10 L137.44,524.65 L138.18,524.17 L138.92,523.66 L139.66,523.13 L140.40,522.59 L141.14,522.03 L141.88,521.49 L142.62,520.94 L143.36,520.42 L144.10,519.92 L144.84,519.45 L145.58,519.02 L146.32,518.64 L147.06,518.31 L147.80,518.04" stroke="#D3E8C4" stroke-width="0.6" fill="none"/>
<path d="M47.90,525.20 L48.64,525.77 L49.38,526.08 L50.12,525.94 L50.86,526.66 L51.60,526.99 L52.34,528.23 L53.08,528.88 L53.82,529.01 L54.56,529.54 L55.30,530.52 L56.04,530.84 L56.78,531.78 L57.52,531.97 L58.26,532.92 L59.00,533.57 L59.74,533.71 L60.48,534.65 L61.22,534.97 L61.96,535.59 L62.70,536.08 L63.44,536.75 L64.18,537.14 L64.92,538.07 L65.66,538.31 L66.40,538.59 L67.14,538.98 L67.88,539.69 L68.62,539.83 L69.36,540.53 L70.10,540.56 L70.84,541.45 L71.58,541.16 L72.32,541.47 L73.06,541.75 L73.80,542.06 L74.54,542.83 L75.28,542.70 L76.02,542.71 L76.76,543.05 L77.50,542.96 L78.24,543.05 L78.98,542.62 L79.72,542.81 L80.46,542.45 L81.20,542.37 L81.94,542.25 L82.68,542.12 L83.42,542.73 L84.16,542.78 L84.90,542.87 L85.64,542.62 L86.38,542.37 L87.12,542.46 L87.86,542.66 L88.60,542.56 L89.34,542.77 L90.08,542.96 L90.82,543.24 L91.56,543.48 L92.30,543.21 L93.04,543.22 L93.78,543.91 L94.52,544.32 L95.26,544.13 L96.00,544.70 L96.74,544.98 L97.48,544.84 L98.22,545.47 L98.96,545.77 L99.70,545.62 L100.44,546.23 L101.18,546.06 L101.92,546.26 L102.66,546.17 L103.40,546.28 L104.14,545.79 L104.88,545.97 L105.62,546.12 L106.36,546.29 L107.10,546.23 L107.84,546.13 L108.58,546.31 L109.32,545.87 L110.06,545.77 L110.80,545.91 L111.54,546.29 L112.28,545.69 L113.02,545.99 L113.76,546.24 L114.50,545.97 L115.24,545.99 L115.98,545.97 L116.72,545.23 L117.46,545.23 L118.20,545.50 L118.94,544.86 L119.68,544.81 L120.42,544.56 L121.16,544.91 L121.90,543.95 L122.64,544.15 L123.38,543.66 L124.12,543.46 L124.86,543.07 L125.60,543.20 L126.34,542.96 L127.08,542.31 L127.82,542.20 L128.56,541.49 L129.30,541.13 L130.04,540.67 L130.78,540.63 L131.52,540.38 L132.26,540.26 L133.00,539.79 L133.74,539.22 L134.48,539.12 L135.22,538.62 L135.96,538.89 L136.70,538.42 L137.44,537.68 L138.18,537.89 L138.92,537.49 L139.66,536.60 L140.40,536.50 L141.14,536.17 L141.88,535.53 L142.62,535.13 L143.36,535.28 L144.10,534.86 L144.84,534.32 L145.58,533.88 L146.32,533.69 L147.06,533.97 L147.80,533.23" stroke="#5DAE45" stroke-width="1.5" fill="none"/>
<path d="M47.90,525.10 L48.64,525.40 L49.38,525.76 L50.12,526.17 L50.86,526.62 L51.60,527.11 L52.34,527.64 L53.08,528.20 L53.82,528.78 L54.56,529.39 L55.30,530.02 L56.04,530.66 L56.78,531.31 L57.52,531.97 L58.26,532.63 L59.00,533.29 L59.74,533.94 L60.48,534.58 L61.22,535.20 L61.96,535.81 L62.70,536.39 L63.44,536.94 L64.18,537.46 L64.92,537.94 L65.66,538.38 L66.40,538.79 L67.14,539.19 L67.88,539.58 L68.62,539.96 L69.36,540.32 L70.10,540.67 L70.84,541.01 L71.58,541.34 L72.32,541.66 L73.06,541.97 L73.80,542.26 L74.54,542.55 L75.28,542.83 L76.02,543.09 L76.76,543.35 L77.50,543.59 L78.24,543.83 L78.98,544.05 L79.72,544.27 L80.46,544.48 L81.20,544.68 L81.94,544.87 L82.68,545.06 L83.42,545.23 L84.16,545.39 L84.90,545.54 L85.64,545.67 L86.38,545.79 L87.12,545.90 L87.86,545.99 L88.60,546.07 L89.34,546.14 L90.08,546.21 L90.82,546.26 L91.56,546.31 L92.30,546.34 L93.04,546.38 L93.78,546.41 L94.52,546.43 L95.26,546.45 L96.00,546.47 L96.74,546.48 L97.48,546.50 L98.22,546.52 L98.96,546.53 L99.70,546.55 L100.44,546.58 L101.18,546.60 L101.92,546.63 L102.66,546.66 L103.40,546.70 L104.14,546.73 L104.88,546.76 L105.62,546.79 L106.36,546.83 L107.10,546.86 L107.84,546.88 L108.58,546.91 L109.32,546.93 L110.06,546.94 L110.80,546.96 L111.54,546.96 L112.28,546.96 L113.02,546.96 L113.76,546.94 L114.50,546.92 L115.24,546.89 L115.98,546.86 L116.72,546.81 L117.46,546.75 L118.20,546.68 L118.94,546.60 L119.68,546.51 L120.42,546.40 L121.16,546.27 L121.90,546.14 L122.64,545.99 L123.38,545.83 L124.12,545.66 L124.86,545.48 L125.60,545.30 L126.34,545.11 L127.08,544.91 L127.82,544.71 L128.56,544.51 L129.30,544.31 L130.04,544.11 L130.78,543.90 L131.52,543.71 L132.26,543.51 L133.00,543.32 L133.74,543.14 L134.48,542.96 L135.22,542.79 L135.96,542.64 L136.70,542.49 L137.44,542.27 L138.18,542.05 L138.92,541.83 L139.66,541.61 L140.40,541.41 L141.14,541.20 L141.88,541.01 L142.62,540.83 L143.36,540.65 L144.10,540.48 L144.84,540.33 L145.58,540.19 L146.32,540.06 L147.06,539.95 L147.80,539.86 L147.80,556.93 L147.06,557.22 L146.32,557.58 L145.58,558.01 L144.84,558.50 L144.10,559.03 L143.36,559.60 L142.62,560.18 L141.88,560.78 L141.14,561.37 L140.40,561.95 L139.66,562.50 L138.92,563.01 L138.18,563.47 L137.44,563.87 L136.70,564.20 L135.96,564.38 L135.22,564.54 L134.48,564.69 L133.74,564.82 L133.00,564.94 L132.26,565.06 L131.52,565.16 L130.78,565.25 L130.04,565.33 L129.30,565.40 L128.56,565.46 L127.82,565.51 L127.08,565.56 L126.34,565.59 L125.60,565.62 L124.86,565.64 L124.12,565.65 L123.38,565.66 L122.64,565.66 L121.90,565.65 L121.16,565.64 L120.42,565.62 L119.68,565.60 L118.94,565.57 L118.20,565.54 L117.46,565.48 L116.72,565.41 L115.98,565.33 L115.24,565.23 L114.50,565.13 L113.76,565.01 L113.02,564.88 L112.28,564.75 L111.54,564.61 L110.80,564.47 L110.06,564.32 L109.32,564.17 L108.58,564.03 L107.84,563.88 L107.10,563.73 L106.36,563.59 L105.62,563.46 L104.88,563.33 L104.14,563.21 L103.40,563.10 L102.66,563.00 L101.92,562.91 L101.18,562.83 L100.44,562.72 L99.70,562.65 L98.96,562.61 L98.22,562.60 L97.48,562.61 L96.74,562.62 L96.00,562.62 L95.26,562.62 L94.52,562.59 L93.78,562.54 L93.04,562.45 L92.30,562.31 L91.56,562.12 L90.82,561.90 L90.08,561.66 L89.34,561.39 L88.60,561.10 L87.86,560.79 L87.12,560.47 L86.38,560.14 L85.64,559.81 L84.90,559.48 L84.16,559.15 L83.42,558.83 L82.68,558.51 L81.94,558.19 L81.20,557.87 L80.46,557.55 L79.72,557.22 L78.98,556.89 L78.24,556.55 L77.50,556.20 L76.76,555.85 L76.02,555.48 L75.28,555.11 L74.54,554.72 L73.80,554.33 L73.06,553.96 L72.32,553.59 L71.58,553.23 L70.84,552.85 L70.10,552.46 L69.36,552.04 L68.62,551.59 L67.88,551.11 L67.14,550.58 L66.40,549.99 L65.66,549.34 L64.92,548.63 L64.18,547.87 L63.44,547.05 L62.70,546.19 L61.96,545.29 L61.22,544.36 L60.48,543.39 L59.74,542.41 L59.00,541.41 L58.26,540.41 L57.52,539.39 L56.78,538.38 L56.04,537.31 L55.30,536.15 L54.56,534.91 L53.82,533.63 L53.08,532.34 L52.34,531.06 L51.60,529.81 L50.86,528.63 L50.12,527.54 L49.38,526.57 L48.64,525.75 L47.90,525.10 Z" stroke="none" stroke-width="1" fill="#D6CCE2" fill-opacity="0.35"/>
<path d="M47.90,525.10 L47.90,525.10 M50.12,526.17 L50.12,527.54 M52.34,527.64 L52.34,531.06 M54.56,529.39 L54.56,534.91 M56.78,531.31 L56.78,538.38 M59.00,533.29 L59.00,541.41 M61.22,535.20 L61.22,544.36 M63.44,536.94 L63.44,547.05 M65.66,538.38 L65.66,549.34 M67.88,539.58 L67.88,551.11 M70.10,540.67 L70.10,552.46 M72.32,541.66 L72.32,553.59 M74.54,542.55 L74.54,554.72 M76.76,543.35 L76.76,555.85 M78.98,544.05 L78.98,556.89 M81.20,544.68 L81.20,557.87 M83.42,545.23 L83.42,558.83 M85.64,545.67 L85.64,559.81 M87.86,545.99 L87.86,560.79 M90.08,546.21 L90.08,561.66 M92.30,546.34 L92.30,562.31 M94.52,546.43 L94.52,562.59 M96.74,546.48 L96.74,562.62 M98.96,546.53 L98.96,562.61 M101.18,546.60 L101.18,562.83 M103.40,546.70 L103.40,563.10 M105.62,546.79 L105.62,563.46 M107.84,546.88 L107.84,563.88 M110.06,546.94 L110.06,564.32 M112.28,546.96 L112.28,564.75 M114.50,546.92 L114.50,565.13 M116.72,546.81 L116.72,565.41 M118.94,546.60 L118.94,565.57 M121.16,546.27 L121.16,565.64 M123.38,545.83 L123.38,565.66 M125.60,545.30 L125.60,565.62 M127.82,544.71 L127.82,565.51 M130.04,544.11 L130.04,565.33 M132.26,543.51 L132.26,565.06 M134.48,542.96 L134.48,564.69 M136.70,542.49 L136.70,564.20 M138.92,541.83 L138.92,563.01 M141.14,541.20 L141.14,561.37 M143.36,540.65 L143.36,559.60 M145.58,540.19 L145.58,558.01 M147.80,539.86 L147.80,556.93 " stroke="#D6CCE2" stroke-width="0.45" fill="none"/>
<path d="M47.90,525.10 L48.64,525.40 L49.38,525.76 L50.12,526.17 L50.86,526.62 L51.60,527.11 L52.34,527.64 L53.08,528.20 L53.82,528.78 L54.56,529.39 L55.30,530.02 L56.04,530.66 L56.78,531.31 L57.52,531.97 L58.26,532.63 L59.00,533.29 L59.74,533.94 L60.48,534.58 L61.22,535.20 L61.96,535.81 L62.70,536.39 L63.44,536.94 L64.18,537.46 L64.92,537.94 L65.66,538.38 L66.40,538.79 L67.14,539.19 L67.88,539.58 L68.62,539.96 L69.36,540.32 L70.10,540.67 L70.84,541.01 L71.58,541.34 L72.32,541.66 L73.06,541.97 L73.80,542.26 L74.54,542.55 L75.28,542.83 L76.02,543.09 L76.76,543.35 L77.50,543.59 L78.24,543.83 L78.98,544.05 L79.72,544.27 L80.46,544.48 L81.20,544.68 L81.94,544.87 L82.68,545.06 L83.42,545.23 L84.16,545.39 L84.90,545.54 L85.64,545.67 L86.38,545.79 L87.12,545.90 L87.86,545.99 L88.60,546.07 L89.34,546.14 L90.08,546.21 L90.82,546.26 L91.56,546.31 L92.30,546.34 L93.04,546.38 L93.78,546.41 L94.52,546.43 L95.26,546.45 L96.00,546.47 L96.74,546.48 L97.48,546.50 L98.22,546.52 L98.96,546.53 L99.70,546.55 L100.44,546.58 L101.18,546.60 L101.92,546.63 L102.66,546.66 L103.40,546.70 L104.14,546.73 L104.88,546.76 L105.62,546.79 L106.36,546.83 L107.10,546.86 L107.84,546.88 L108.58,546.91 L109.32,546.93 L110.06,546.94 L110.80,546.96 L111.54,546.96 L112.28,546.96 L113.02,546.96 L113.76,546.94 L114.50,546.92 L115.24,546.89 L115.98,546.86 L116.72,546.81 L117.46,546.75 L118.20,546.68 L118.94,546.60 L119.68,546.51 L120.42,546.40 L121.16,546.27 L121.90,546.14 L122.64,545.99 L123.38,545.83 L124.12,545.66 L124.86,545.48 L125.60,545.30 L126.34,545.11 L127.08,544.91 L127.82,544.71 L128.56,544.51 L129.30,544.31 L130.04,544.11 L130.78,543.90 L131.52,543.71 L132.26,543.51 L133.00,543.32 L133.74,543.14 L134.48,542.96 L135.22,542.79 L135.96,542.64 L136.70,542.49 L137.44,542.27 L138.18,542.05 L138.92,541.83 L139.66,541.61 L140.40,541.41 L141.14,541.20 L141.88,541.01 L142.62,540.83 L143.36,540.65 L144.10,540.48 L144.84,540.33 L145.58,540.19 L146.32,540.06 L147.06,539.95 L147.80,539.86" stroke="#D6CCE2" stroke-width="0.6" fill="none"/>
<path d="M47.90,525.45 L48.64,525.60 L49.38,526.42 L50.12,527.80 L50.86,528.47 L51.60,529.86 L52.34,531.40 L53.08,531.99 L53.82,533.83 L54.56,535.03 L55.30,536.45 L56.04,537.18 L56.78,538.40 L57.52,539.05 L58.26,540.10 L59.00,541.58 L59.74,542.07 L60.48,543.47 L61.22,544.45 L61.96,545.04 L62.70,545.92 L63.44,546.74 L64.18,547.86 L64.92,548.51 L65.66,549.59 L66.40,550.17 L67.14,550.55 L67.88,551.10 L68.62,551.52 L69.36,551.92 L70.10,552.51 L70.84,552.54 L71.58,553.38 L72.32,553.59 L73.06,553.66 L73.80,554.12 L74.54,554.37 L75.28,554.79 L76.02,555.63 L76.76,556.20 L77.50,556.52 L78.24,556.46 L78.98,556.99 L79.72,557.10 L80.46,557.44 L81.20,557.93 L81.94,558.04 L82.68,558.32 L83.42,558.66 L84.16,559.06 L84.90,559.35 L85.64,559.57 L86.38,559.96 L87.12,560.71 L87.86,560.43 L88.60,560.95 L89.34,561.45 L90.08,561.73 L90.82,561.89 L91.56,562.26 L92.30,562.16 L93.04,562.66 L93.78,562.30 L94.52,562.35 L95.26,562.84 L96.00,562.70 L96.74,562.36 L97.48,562.86 L98.22,562.47 L98.96,562.36 L99.70,563.00 L100.44,562.99 L101.18,562.60 L101.92,562.79 L102.66,562.86 L103.40,563.03 L104.14,563.55 L104.88,563.43 L105.62,563.38 L106.36,563.78 L107.10,563.99 L107.84,563.78 L108.58,564.34 L109.32,564.32 L110.06,564.56 L110.80,564.47 L111.54,564.39 L112.28,564.63 L113.02,564.78 L113.76,565.21 L114.50,564.85 L115.24,564.98 L115.98,565.67 L116.72,565.19 L117.46,565.66 L118.20,565.77 L118.94,565.34 L119.68,565.81 L120.42,565.32 L121.16,565.36 L121.90,565.77 L122.64,565.57 L123.38,565.93 L124.12,565.33 L124.86,565.45 L125.60,565.44 L126.34,565.32 L127.08,565.36 L127.82,565.86 L128.56,565.26 L129.30,565.35 L130.04,564.98 L130.78,565.22 L131.52,565.12 L132.26,565.38 L133.00,565.24 L133.74,565.00 L134.48,564.34 L135.22,564.87 L135.96,564.64 L136.70,564.18 L137.44,563.74 L138.18,563.14 L138.92,562.76 L139.66,562.32 L140.40,561.99 L141.14,561.30 L141.88,560.49 L142.62,560.40 L143.36,559.80 L144.10,559.15 L144.84,558.15 L145.58,558.06 L146.32,557.81 L147.06,557.33 L147.80,556.97" stroke="#6A4A92" stroke-width="2.2" fill="none"/>
<circle cx="47.90" cy="525.45" r="0.5" fill="#fff" stroke="none"/>
<circle cx="50.86" cy="528.47" r="0.5" fill="#fff" stroke="none"/>
<circle cx="53.82" cy="533.83" r="0.5" fill="#fff" stroke="none"/>
<circle cx="56.78" cy="538.40" r="0.5" fill="#fff" stroke="none"/>
<circle cx="59.74" cy="542.07" r="0.5" fill="#fff" stroke="none"/>
<circle cx="62.70" cy="545.92" r="0.5" fill="#fff" stroke="none"/>
<circle cx="65.66" cy="549.59" r="0.5" fill="#fff" stroke="none"/>
<circle cx="68.62" cy="551.52" r="0.5" fill="#fff" stroke="none"/>
<circle cx="71.58" cy="553.38" r="0.5" fill="#fff" stroke="none"/>
<circle cx="74.54" cy="554.37" r="0.5" fill="#fff" stroke="none"/>
<circle cx="77.50" cy="556.52" r="0.5" fill="#fff" stroke="none"/>
<circle cx="80.46" cy="557.44" r="0.5" fill="#fff" stroke="none"/>
<circle cx="83.42" cy="558.66" r="0.5" fill="#fff" stroke="none"/>
<circle cx="86.38" cy="559.96" r="0.5" fill="#fff" stroke="none"/>
<circle cx="89.34" cy="561.45" r="0.5" fill="#fff" stroke="none"/>
<circle cx="92.30" cy="562.16" r="0.5" fill="#fff" stroke="none"/>
<circle cx="95.26" cy="562.84" r="0.5" fill="#fff" stroke="none"/>
<circle cx="98.22" cy="562.47" r="0.5" fill="#fff" stroke="none"/>
<circle cx="101.18" cy="562.60" r="0.5" fill="#fff" stroke="none"/>
<circle cx="104.14" cy="563.55" r="0.5" fill="#fff" stroke="none"/>
<circle cx="107.10" cy="563.99" r="0.5" fill="#fff" stroke="none"/>
<circle cx="110.06" cy="564.56" r="0.5" fill="#fff" stroke="none"/>
<circle cx="113.02" cy="564.78" r="0.5" fill="#fff" stroke="none"/>
<circle cx="115.98" cy="565.67" r="0.5" fill="#fff" stroke="none"/>
<circle cx="118.94" cy="565.34" r="0.5" fill="#fff" stroke="none"/>
<circle cx="121.90" cy="565.77" r="0.5" fill="#fff" stroke="none"/>
<circle cx="124.86" cy="565.45" r="0.5" fill="#fff" stroke="none"/>
<circle cx="127.82" cy="565.86" r="0.5" fill="#fff" stroke="none"/>
<circle cx="130.78" cy="565.22" r="0.5" fill="#fff" stroke="none"/>
<circle cx="133.74" cy="565.00" r="0.5" fill="#fff" stroke="none"/>
<circle cx="136.70" cy="564.18" r="0.5" fill="#fff" stroke="none"/>
<circle cx="139.66" cy="562.32" r="0.5" fill="#fff" stroke="none"/>
<circle cx="142.62" cy="560.40" r="0.5" fill="#fff" stroke="none"/>
<circle cx="145.58" cy="558.06" r="0.5" fill="#fff" stroke="none"/>
<path d="M47.90,525.10 L48.64,525.59 L49.38,526.15 L50.12,526.79 L50.86,527.48 L51.60,528.24 L52.34,529.05 L53.08,529.92 L53.82,530.82 L54.56,531.76 L55.30,532.73 L56.04,533.73 L56.78,534.75 L57.52,535.79 L58.26,536.83 L59.00,537.88 L59.74,538.93 L60.48,539.97 L61.22,541.00 L61.96,542.01 L62.70,542.99 L63.44,543.95 L64.18,544.88 L64.92,545.76 L65.66,546.60 L66.40,547.42 L67.14,548.24 L67.88,549.06 L68.62,549.89 L69.36,550.71 L70.10,551.53 L70.84,552.34 L71.58,553.16 L72.32,553.96 L73.06,554.76 L73.80,555.54 L74.54,556.32 L75.28,557.08 L76.02,557.83 L76.76,558.56 L77.50,559.28 L78.24,559.97 L78.98,560.65 L79.72,561.31 L80.46,561.94 L81.20,562.54 L81.94,563.13 L82.68,563.68 L83.42,564.20 L84.16,564.70 L84.90,565.16 L85.64,565.59 L86.38,566.00 L87.12,566.38 L87.86,566.74 L88.60,567.07 L89.34,567.39 L90.08,567.68 L90.82,567.96 L91.56,568.23 L92.30,568.48 L93.04,568.72 L93.78,568.95 L94.52,569.17 L95.26,569.38 L96.00,569.59 L96.74,569.79 L97.48,570.00 L98.22,570.20 L98.96,570.41 L99.70,570.62 L100.44,570.83 L101.18,571.05 L101.92,571.28 L102.66,571.50 L103.40,571.72 L104.14,571.93 L104.88,572.14 L105.62,572.35 L106.36,572.55 L107.10,572.75 L107.84,572.94 L108.58,573.13 L109.32,573.31 L110.06,573.49 L110.80,573.66 L111.54,573.82 L112.28,573.98 L113.02,574.13 L113.76,574.27 L114.50,574.41 L115.24,574.54 L115.98,574.66 L116.72,574.77 L117.46,574.88 L118.20,574.97 L118.94,575.06 L119.68,575.11 L120.42,575.15 L121.16,575.19 L121.90,575.23 L122.64,575.25 L123.38,575.28 L124.12,575.30 L124.86,575.32 L125.60,575.33 L126.34,575.34 L127.08,575.35 L127.82,575.35 L128.56,575.36 L129.30,575.35 L130.04,575.35 L130.78,575.35 L131.52,575.34 L132.26,575.33 L133.00,575.32 L133.74,575.30 L134.48,575.29 L135.22,575.27 L135.96,575.26 L136.70,575.24 L137.44,575.23 L138.18,575.21 L138.92,575.19 L139.66,575.17 L140.40,575.16 L141.14,575.14 L141.88,575.13 L142.62,575.11 L143.36,575.10 L144.10,575.09 L144.84,575.08 L145.58,575.07 L146.32,575.06 L147.06,575.06 L147.80,575.06 L147.80,591.92 L147.06,591.92 L146.32,591.92 L145.58,591.93 L144.84,591.94 L144.10,591.95 L143.36,591.97 L142.62,591.98 L141.88,591.98 L141.14,591.96 L140.40,591.94 L139.66,591.90 L138.92,591.84 L138.18,591.75 L137.44,591.64 L136.70,591.50 L135.96,591.40 L135.22,591.28 L134.48,591.16 L133.74,591.02 L133.00,590.87 L132.26,590.71 L131.52,590.54 L130.78,590.37 L130.04,590.19 L129.30,590.00 L128.56,589.81 L127.82,589.62 L127.08,589.42 L126.34,589.22 L125.60,589.02 L124.86,588.82 L124.12,588.61 L123.38,588.41 L122.64,588.22 L121.90,588.02 L121.16,587.83 L120.42,587.64 L119.68,587.46 L118.94,587.29 L118.20,587.12 L117.46,586.95 L116.72,586.78 L115.98,586.61 L115.24,586.44 L114.50,586.27 L113.76,586.11 L113.02,585.94 L112.28,585.77 L111.54,585.61 L110.80,585.44 L110.06,585.28 L109.32,585.11 L108.58,584.95 L107.84,584.78 L107.10,584.62 L106.36,584.45 L105.62,584.28 L104.88,584.12 L104.14,583.95 L103.40,583.79 L102.66,583.62 L101.92,583.45 L101.18,583.28 L100.44,582.94 L99.70,582.59 L98.96,582.23 L98.22,581.87 L97.48,581.51 L96.74,581.15 L96.00,580.79 L95.26,580.44 L94.52,580.10 L93.78,579.78 L93.04,579.47 L92.30,579.17 L91.56,578.92 L90.82,578.73 L90.08,578.58 L89.34,578.46 L88.60,578.34 L87.86,578.22 L87.12,578.08 L86.38,577.89 L85.64,577.65 L84.90,577.34 L84.16,576.94 L83.42,576.43 L82.68,575.81 L81.94,575.11 L81.20,574.32 L80.46,573.46 L79.72,572.55 L78.98,571.59 L78.24,570.61 L77.50,569.59 L76.76,568.57 L76.02,567.56 L75.28,566.55 L74.54,565.57 L73.80,564.60 L73.06,563.62 L72.32,562.61 L71.58,561.60 L70.84,560.58 L70.10,559.55 L69.36,558.51 L68.62,557.47 L67.88,556.44 L67.14,555.40 L66.40,554.37 L65.66,553.35 L64.92,552.34 L64.18,551.35 L63.44,550.38 L62.70,549.41 L61.96,548.45 L61.22,547.47 L60.48,546.48 L59.74,545.48 L59.00,544.44 L58.26,543.38 L57.52,542.27 L56.78,541.12 L56.04,539.87 L55.30,538.48 L54.56,537.01 L53.82,535.47 L53.08,533.90 L52.34,532.35 L51.60,530.83 L50.86,529.39 L50.12,528.07 L49.38,526.89 L48.64,525.89 L47.90,525.10 Z" stroke="none" stroke-width="1" fill="#F6E2A6" fill-opacity="0.35"/>
<path d="M47.90,525.10 L47.90,525.10 M50.12,526.79 L50.12,528.07 M52.34,529.05 L52.34,532.35 M54.56,531.76 L54.56,537.01 M56.78,534.75 L56.78,541.12 M59.00,537.88 L59.00,544.44 M61.22,541.00 L61.22,547.47 M63.44,543.95 L63.44,550.38 M65.66,546.60 L65.66,553.35 M67.88,549.06 L67.88,556.44 M70.10,551.53 L70.10,559.55 M72.32,553.96 L72.32,562.61 M74.54,556.32 L74.54,565.57 M76.76,558.56 L76.76,568.57 M78.98,560.65 L78.98,571.59 M81.20,562.54 L81.20,574.32 M83.42,564.20 L83.42,576.43 M85.64,565.59 L85.64,577.65 M87.86,566.74 L87.86,578.22 M90.08,567.68 L90.08,578.58 M92.30,568.48 L92.30,579.17 M94.52,569.17 L94.52,580.10 M96.74,569.79 L96.74,581.15 M98.96,570.41 L98.96,582.23 M101.18,571.05 L101.18,583.28 M103.40,571.72 L103.40,583.79 M105.62,572.35 L105.62,584.28 M107.84,572.94 L107.84,584.78 M110.06,573.49 L110.06,585.28 M112.28,573.98 L112.28,585.77 M114.50,574.41 L114.50,586.27 M116.72,574.77 L116.72,586.78 M118.94,575.06 L118.94,587.29 M121.16,575.19 L121.16,587.83 M123.38,575.28 L123.38,588.41 M125.60,575.33 L125.60,589.02 M127.82,575.35 L127.82,589.62 M130.04,575.35 L130.04,590.19 M132.26,575.33 L132.26,590.71 M134.48,575.29 L134.48,591.16 M136.70,575.24 L136.70,591.50 M138.92,575.19 L138.92,591.84 M141.14,575.14 L141.14,591.96 M143.36,575.10 L143.36,591.97 M145.58,575.07 L145.58,591.93 M147.80,575.06 L147.80,591.92 " stroke="#F6E2A6" stroke-width="0.45" fill="none"/>
<path d="M47.90,525.10 L48.64,525.59 L49.38,526.15 L50.12,526.79 L50.86,527.48 L51.60,528.24 L52.34,529.05 L53.08,529.92 L53.82,530.82 L54.56,531.76 L55.30,532.73 L56.04,533.73 L56.78,534.75 L57.52,535.79 L58.26,536.83 L59.00,537.88 L59.74,538.93 L60.48,539.97 L61.22,541.00 L61.96,542.01 L62.70,542.99 L63.44,543.95 L64.18,544.88 L64.92,545.76 L65.66,546.60 L66.40,547.42 L67.14,548.24 L67.88,549.06 L68.62,549.89 L69.36,550.71 L70.10,551.53 L70.84,552.34 L71.58,553.16 L72.32,553.96 L73.06,554.76 L73.80,555.54 L74.54,556.32 L75.28,557.08 L76.02,557.83 L76.76,558.56 L77.50,559.28 L78.24,559.97 L78.98,560.65 L79.72,561.31 L80.46,561.94 L81.20,562.54 L81.94,563.13 L82.68,563.68 L83.42,564.20 L84.16,564.70 L84.90,565.16 L85.64,565.59 L86.38,566.00 L87.12,566.38 L87.86,566.74 L88.60,567.07 L89.34,567.39 L90.08,567.68 L90.82,567.96 L91.56,568.23 L92.30,568.48 L93.04,568.72 L93.78,568.95 L94.52,569.17 L95.26,569.38 L96.00,569.59 L96.74,569.79 L97.48,570.00 L98.22,570.20 L98.96,570.41 L99.70,570.62 L100.44,570.83 L101.18,571.05 L101.92,571.28 L102.66,571.50 L103.40,571.72 L104.14,571.93 L104.88,572.14 L105.62,572.35 L106.36,572.55 L107.10,572.75 L107.84,572.94 L108.58,573.13 L109.32,573.31 L110.06,573.49 L110.80,573.66 L111.54,573.82 L112.28,573.98 L113.02,574.13 L113.76,574.27 L114.50,574.41 L115.24,574.54 L115.98,574.66 L116.72,574.77 L117.46,574.88 L118.20,574.97 L118.94,575.06 L119.68,575.11 L120.42,575.15 L121.16,575.19 L121.90,575.23 L122.64,575.25 L123.38,575.28 L124.12,575.30 L124.86,575.32 L125.60,575.33 L126.34,575.34 L127.08,575.35 L127.82,575.35 L128.56,575.36 L129.30,575.35 L130.04,575.35 L130.78,575.35 L131.52,575.34 L132.26,575.33 L133.00,575.32 L133.74,575.30 L134.48,575.29 L135.22,575.27 L135.96,575.26 L136.70,575.24 L137.44,575.23 L138.18,575.21 L138.92,575.19 L139.66,575.17 L140.40,575.16 L141.14,575.14 L141.88,575.13 L142.62,575.11 L143.36,575.10 L144.10,575.09 L144.84,575.08 L145.58,575.07 L146.32,575.06 L147.06,575.06 L147.80,575.06" stroke="#F6E2A6" stroke-width="0.6" fill="none"/>
<path d="M47.90,524.88 L48.64,525.98 L49.38,526.99 L50.12,527.83 L50.86,529.63 L51.60,531.14 L52.34,532.54 L53.08,534.00 L53.82,535.52 L54.56,536.81 L55.30,538.39 L56.04,540.18 L56.78,541.35 L57.52,542.05 L58.26,543.52 L59.00,544.28 L59.74,545.78 L60.48,546.15 L61.22,547.23 L61.96,548.54 L62.70,549.50 L63.44,550.50 L64.18,551.54 L64.92,552.61 L65.66,553.52 L66.40,554.12 L67.14,555.68 L67.88,556.09 L68.62,557.64 L69.36,558.21 L70.10,559.57 L70.84,560.32 L71.58,561.95 L72.32,562.83 L73.06,563.57 L73.80,564.52 L74.54,565.38 L75.28,566.91 L76.02,567.84 L76.76,568.71 L77.50,569.74 L78.24,570.92 L78.98,571.70 L79.72,572.31 L80.46,573.10 L81.20,574.39 L81.94,575.33 L82.68,575.88 L83.42,576.31 L84.16,577.30 L84.90,577.34 L85.64,577.94 L86.38,578.01 L87.12,577.78 L87.86,578.56 L88.60,578.40 L89.34,578.21 L90.08,578.73 L90.82,578.78 L91.56,579.19 L92.30,579.23 L93.04,579.16 L93.78,579.89 L94.52,580.32 L95.26,580.75 L96.00,580.98 L96.74,580.95 L97.48,581.49 L98.22,582.16 L98.96,582.39 L99.70,582.55 L100.44,583.15 L101.18,583.40 L101.92,583.09 L102.66,583.33 L103.40,583.90 L104.14,584.05 L104.88,584.01 L105.62,584.26 L106.36,584.08 L107.10,584.98 L107.84,584.76 L108.58,585.13 L109.32,585.12 L110.06,585.23 L110.80,585.51 L111.54,585.64 L112.28,585.96 L113.02,586.10 L113.76,586.13 L114.50,586.38 L115.24,586.53 L115.98,586.75 L116.72,586.47 L117.46,587.30 L118.20,586.82 L118.94,586.93 L119.68,587.14 L120.42,587.34 L121.16,587.98 L121.90,587.92 L122.64,588.28 L123.38,588.25 L124.12,588.72 L124.86,589.14 L125.60,589.34 L126.34,589.21 L127.08,589.21 L127.82,589.72 L128.56,589.75 L129.30,589.83 L130.04,590.01 L130.78,590.61 L131.52,590.34 L132.26,591.01 L133.00,590.79 L133.74,590.65 L134.48,591.15 L135.22,591.24 L135.96,591.17 L136.70,591.49 L137.44,591.98 L138.18,591.45 L138.92,592.08 L139.66,592.22 L140.40,592.12 L141.14,591.93 L141.88,592.33 L142.62,592.30 L143.36,592.20 L144.10,591.96 L144.84,591.89 L145.58,592.20 L146.32,591.72 L147.06,591.90 L147.80,591.99" stroke="#E8B01A" stroke-width="1.5" fill="none"/>
<path d="M47.90,525.10 L48.64,525.89 L49.38,526.81 L50.12,527.83 L50.86,528.97 L51.60,530.19 L52.34,531.51 L53.08,532.90 L53.82,534.36 L54.56,535.88 L55.30,537.46 L56.04,539.07 L56.78,540.73 L57.52,542.40 L58.26,544.10 L59.00,545.80 L59.74,547.51 L60.48,549.20 L61.22,550.88 L61.96,552.53 L62.70,554.15 L63.44,555.72 L64.18,557.24 L64.92,558.70 L65.66,560.09 L66.40,561.45 L67.14,562.83 L67.88,564.23 L68.62,565.63 L69.36,567.03 L70.10,568.44 L70.84,569.85 L71.58,571.25 L72.32,572.65 L73.06,574.03 L73.80,575.39 L74.54,576.74 L75.28,578.06 L76.02,579.36 L76.76,580.62 L77.50,581.85 L78.24,583.04 L78.98,584.20 L79.72,585.30 L80.46,586.36 L81.20,587.36 L81.94,588.31 L82.68,589.20 L83.42,590.03 L84.16,590.79 L84.90,591.48 L85.64,592.11 L86.38,592.69 L87.12,593.21 L87.86,593.68 L88.60,594.11 L89.34,594.50 L90.08,594.84 L90.82,595.16 L91.56,595.44 L92.30,595.70 L93.04,595.93 L93.78,596.15 L94.52,596.35 L95.26,596.54 L96.00,596.73 L96.74,596.91 L97.48,597.09 L98.22,597.27 L98.96,597.47 L99.70,597.68 L100.44,597.90 L101.18,598.14 L101.92,598.39 L102.66,598.63 L103.40,598.86 L104.14,599.07 L104.88,599.28 L105.62,599.48 L106.36,599.68 L107.10,599.86 L107.84,600.04 L108.58,600.21 L109.32,600.37 L110.06,600.53 L110.80,600.69 L111.54,600.84 L112.28,600.99 L113.02,601.13 L113.76,601.27 L114.50,601.42 L115.24,601.55 L115.98,601.69 L116.72,601.83 L117.46,601.97 L118.20,602.11 L118.94,602.25 L119.68,602.34 L120.42,602.43 L121.16,602.52 L121.90,602.60 L122.64,602.69 L123.38,602.78 L124.12,602.86 L124.86,602.95 L125.60,603.03 L126.34,603.12 L127.08,603.20 L127.82,603.29 L128.56,603.37 L129.30,603.45 L130.04,603.53 L130.78,603.61 L131.52,603.69 L132.26,603.77 L133.00,603.84 L133.74,603.92 L134.48,603.99 L135.22,604.06 L135.96,604.13 L136.70,604.20 L137.44,604.27 L138.18,604.33 L138.92,604.40 L139.66,604.46 L140.40,604.52 L141.14,604.58 L141.88,604.63 L142.62,604.69 L143.36,604.74 L144.10,604.79 L144.84,604.83 L145.58,604.88 L146.32,604.92 L147.06,604.96 L147.80,604.99 L147.80,615.01 L147.06,614.99 L146.32,614.98 L145.58,614.97 L144.84,614.96 L144.10,614.95 L143.36,614.94 L142.62,614.92 L141.88,614.90 L141.14,614.87 L140.40,614.84 L139.66,614.79 L138.92,614.73 L138.18,614.66 L137.44,614.58 L136.70,614.48 L135.96,614.41 L135.22,614.33 L134.48,614.25 L133.74,614.17 L133.00,614.07 L132.26,613.98 L131.52,613.88 L130.78,613.78 L130.04,613.67 L129.30,613.56 L128.56,613.44 L127.82,613.33 L127.08,613.21 L126.34,613.08 L125.60,612.96 L124.86,612.83 L124.12,612.70 L123.38,612.56 L122.64,612.43 L121.90,612.29 L121.16,612.16 L120.42,612.02 L119.68,611.88 L118.94,611.74 L118.20,611.60 L117.46,611.45 L116.72,611.29 L115.98,611.13 L115.24,610.97 L114.50,610.80 L113.76,610.63 L113.02,610.45 L112.28,610.27 L111.54,610.10 L110.80,609.92 L110.06,609.74 L109.32,609.56 L108.58,609.38 L107.84,609.20 L107.10,609.02 L106.36,608.85 L105.62,608.68 L104.88,608.51 L104.14,608.34 L103.40,608.18 L102.66,608.03 L101.92,607.88 L101.18,607.73 L100.44,607.47 L99.70,607.25 L98.96,607.06 L98.22,606.88 L97.48,606.71 L96.74,606.54 L96.00,606.36 L95.26,606.16 L94.52,605.94 L93.78,605.67 L93.04,605.36 L92.30,604.99 L91.56,604.59 L90.82,604.17 L90.08,603.73 L89.34,603.26 L88.60,602.77 L87.86,602.24 L87.12,601.68 L86.38,601.07 L85.64,600.42 L84.90,599.72 L84.16,598.96 L83.42,598.14 L82.68,597.26 L81.94,596.31 L81.20,595.30 L80.46,594.24 L79.72,593.14 L78.98,591.99 L78.24,590.81 L77.50,589.60 L76.76,588.38 L76.02,587.14 L75.28,585.90 L74.54,584.65 L73.80,583.41 L73.06,582.16 L72.32,580.89 L71.58,579.62 L70.84,578.32 L70.10,577.00 L69.36,575.65 L68.62,574.26 L67.88,572.84 L67.14,571.38 L66.40,569.87 L65.66,568.31 L64.92,566.69 L64.18,565.00 L63.44,563.26 L62.70,561.47 L61.96,559.64 L61.22,557.78 L60.48,555.91 L59.74,554.02 L59.00,552.14 L58.26,550.27 L57.52,548.42 L56.78,546.60 L56.04,544.73 L55.30,542.76 L54.56,540.71 L53.82,538.62 L53.08,536.54 L52.34,534.49 L51.60,532.52 L50.86,530.67 L50.12,528.96 L49.38,527.44 L48.64,526.14 L47.90,525.10 Z" stroke="none" stroke-width="1" fill="#F2B8DA" fill-opacity="0.35"/>
<path d="M47.90,525.10 L47.90,525.10 M50.12,527.83 L50.12,528.96 M52.34,531.51 L52.34,534.49 M54.56,535.88 L54.56,540.71 M56.78,540.73 L56.78,546.60 M59.00,545.80 L59.00,552.14 M61.22,550.88 L61.22,557.78 M63.44,555.72 L63.44,563.26 M65.66,560.09 L65.66,568.31 M67.88,564.23 L67.88,572.84 M70.10,568.44 L70.10,577.00 M72.32,572.65 L72.32,580.89 M74.54,576.74 L74.54,584.65 M76.76,580.62 L76.76,588.38 M78.98,584.20 L78.98,591.99 M81.20,587.36 L81.20,595.30 M83.42,590.03 L83.42,598.14 M85.64,592.11 L85.64,600.42 M87.86,593.68 L87.86,602.24 M90.08,594.84 L90.08,603.73 M92.30,595.70 L92.30,604.99 M94.52,596.35 L94.52,605.94 M96.74,596.91 L96.74,606.54 M98.96,597.47 L98.96,607.06 M101.18,598.14 L101.18,607.73 M103.40,598.86 L103.40,608.18 M105.62,599.48 L105.62,608.68 M107.84,600.04 L107.84,609.20 M110.06,600.53 L110.06,609.74 M112.28,600.99 L112.28,610.27 M114.50,601.42 L114.50,610.80 M116.72,601.83 L116.72,611.29 M118.94,602.25 L118.94,611.74 M121.16,602.52 L121.16,612.16 M123.38,602.78 L123.38,612.56 M125.60,603.03 L125.60,612.96 M127.82,603.29 L127.82,613.33 M130.04,603.53 L130.04,613.67 M132.26,603.77 L132.26,613.98 M134.48,603.99 L134.48,614.25 M136.70,604.20 L136.70,614.48 M138.92,604.40 L138.92,614.73 M141.14,604.58 L141.14,614.87 M143.36,604.74 L143.36,614.94 M145.58,604.88 L145.58,614.97 M147.80,604.99 L147.80,615.01 " stroke="#F2B8DA" stroke-width="0.45" fill="none"/>
<path d="M47.90,525.10 L48.64,525.89 L49.38,526.81 L50.12,527.83 L50.86,528.97 L51.60,530.19 L52.34,531.51 L53.08,532.90 L53.82,534.36 L54.56,535.88 L55.30,537.46 L56.04,539.07 L56.78,540.73 L57.52,542.40 L58.26,544.10 L59.00,545.80 L59.74,547.51 L60.48,549.20 L61.22,550.88 L61.96,552.53 L62.70,554.15 L63.44,555.72 L64.18,557.24 L64.92,558.70 L65.66,560.09 L66.40,561.45 L67.14,562.83 L67.88,564.23 L68.62,565.63 L69.36,567.03 L70.10,568.44 L70.84,569.85 L71.58,571.25 L72.32,572.65 L73.06,574.03 L73.80,575.39 L74.54,576.74 L75.28,578.06 L76.02,579.36 L76.76,580.62 L77.50,581.85 L78.24,583.04 L78.98,584.20 L79.72,585.30 L80.46,586.36 L81.20,587.36 L81.94,588.31 L82.68,589.20 L83.42,590.03 L84.16,590.79 L84.90,591.48 L85.64,592.11 L86.38,592.69 L87.12,593.21 L87.86,593.68 L88.60,594.11 L89.34,594.50 L90.08,594.84 L90.82,595.16 L91.56,595.44 L92.30,595.70 L93.04,595.93 L93.78,596.15 L94.52,596.35 L95.26,596.54 L96.00,596.73 L96.74,596.91 L97.48,597.09 L98.22,597.27 L98.96,597.47 L99.70,597.68 L100.44,597.90 L101.18,598.14 L101.92,598.39 L102.66,598.63 L103.40,598.86 L104.14,599.07 L104.88,599.28 L105.62,599.48 L106.36,599.68 L107.10,599.86 L107.84,600.04 L108.58,600.21 L109.32,600.37 L110.06,600.53 L110.80,600.69 L111.54,600.84 L112.28,600.99 L113.02,601.13 L113.76,601.27 L114.50,601.42 L115.24,601.55 L115.98,601.69 L116.72,601.83 L117.46,601.97 L118.20,602.11 L118.94,602.25 L119.68,602.34 L120.42,602.43 L121.16,602.52 L121.90,602.60 L122.64,602.69 L123.38,602.78 L124.12,602.86 L124.86,602.95 L125.60,603.03 L126.34,603.12 L127.08,603.20 L127.82,603.29 L128.56,603.37 L129.30,603.45 L130.04,603.53 L130.78,603.61 L131.52,603.69 L132.26,603.77 L133.00,603.84 L133.74,603.92 L134.48,603.99 L135.22,604.06 L135.96,604.13 L136.70,604.20 L137.44,604.27 L138.18,604.33 L138.92,604.40 L139.66,604.46 L140.40,604.52 L141.14,604.58 L141.88,604.63 L142.62,604.69 L143.36,604.74 L144.10,604.79 L144.84,604.83 L145.58,604.88 L146.32,604.92 L147.06,604.96 L147.80,604.99" stroke="#F2B8DA" stroke-width="0.6" fill="none"/>
<path d="M47.90,525.40 L48.64,526.21 L49.38,527.80 L50.12,529.26 L50.86,530.60 L51.60,532.65 L52.34,534.57 L53.08,536.83 L53.82,538.34 L54.56,540.58 L55.30,542.77 L56.04,544.71 L56.78,546.84 L57.52,548.36 L58.26,550.09 L59.00,552.37 L59.74,554.29 L60.48,555.90 L61.22,558.05 L61.96,559.71 L62.70,561.64 L63.44,563.59 L64.18,565.12 L64.92,566.46 L65.66,568.28 L66.40,570.09 L67.14,571.71 L67.88,573.14 L68.62,573.90 L69.36,575.45 L70.10,576.92 L70.84,578.28 L71.58,579.36 L72.32,581.18 L73.06,581.95 L73.80,583.16 L74.54,584.80 L75.28,585.73 L76.02,587.27 L76.76,588.26 L77.50,589.79 L78.24,591.03 L78.98,591.63 L79.72,593.35 L80.46,594.43 L81.20,595.48 L81.94,596.31 L82.68,597.48 L83.42,598.48 L84.16,599.07 L84.90,599.75 L85.64,600.78 L86.38,600.71 L87.12,601.96 L87.86,602.23 L88.60,602.42 L89.34,603.04 L90.08,603.44 L90.82,603.84 L91.56,604.46 L92.30,604.96 L93.04,605.31 L93.78,605.83 L94.52,605.61 L95.26,606.19 L96.00,606.21 L96.74,606.77 L97.48,607.02 L98.22,606.84 L98.96,606.70 L99.70,607.30 L100.44,607.66 L101.18,607.80 L101.92,607.52 L102.66,608.23 L103.40,608.25 L104.14,608.20 L104.88,608.69 L105.62,608.70 L106.36,609.06 L107.10,608.79 L107.84,609.50 L108.58,609.65 L109.32,609.62 L110.06,609.54 L110.80,609.70 L111.54,609.78 L112.28,610.32 L113.02,610.74 L113.76,610.61 L114.50,610.61 L115.24,610.99 L115.98,611.00 L116.72,611.31 L117.46,611.43 L118.20,611.29 L118.94,611.82 L119.68,611.86 L120.42,612.03 L121.16,611.81 L121.90,611.99 L122.64,612.53 L123.38,612.60 L124.12,612.79 L124.86,613.12 L125.60,613.01 L126.34,613.01 L127.08,613.31 L127.82,613.32 L128.56,613.70 L129.30,613.26 L130.04,613.52 L130.78,614.13 L131.52,614.02 L132.26,613.83 L133.00,613.79 L133.74,614.10 L134.48,614.56 L135.22,614.31 L135.96,614.75 L136.70,614.74 L137.44,614.76 L138.18,614.57 L138.92,614.86 L139.66,615.07 L140.40,614.85 L141.14,614.71 L141.88,615.09 L142.62,614.71 L143.36,615.31 L144.10,614.95 L144.84,615.32 L145.58,614.81 L146.32,615.18 L147.06,614.69 L147.80,614.78" stroke="#D81F8F" stroke-width="1.5" fill="none"/>
<path d="M47.90,525.10 L48.64,525.10 L49.38,525.10 L50.12,525.10 L50.86,525.10 L51.60,525.10 L52.34,525.10 L53.08,525.10 L53.82,525.10 L54.56,525.10 L55.30,525.10 L56.04,525.10 L56.78,525.10 L57.52,525.10 L58.26,525.10 L59.00,525.10 L59.74,525.10 L60.48,525.10 L61.22,525.10 L61.96,525.10 L62.70,525.10 L63.44,525.10 L64.18,525.10 L64.92,525.10 L65.66,525.10 L66.40,525.10 L67.14,525.10 L67.88,525.10 L68.62,525.10 L69.36,525.10 L70.10,525.10 L70.84,525.10 L71.58,525.10 L72.32,525.10 L73.06,525.10 L73.80,525.10 L74.54,525.10 L75.28,525.10 L76.02,525.10 L76.76,525.10 L77.50,525.10 L78.24,525.10 L78.98,525.10 L79.72,525.10 L80.46,525.10 L81.20,525.10 L81.94,525.10 L82.68,525.10 L83.42,525.10 L84.16,525.10 L84.90,525.10 L85.64,525.10 L86.38,525.10 L87.12,525.10 L87.86,525.10 L88.60,525.10 L89.34,525.10 L90.08,525.10 L90.82,525.10 L91.56,525.10 L92.30,525.10 L93.04,525.10 L93.78,525.10 L94.52,525.10 L95.26,525.10 L96.00,525.10 L96.74,525.10 L97.48,525.10 L98.22,525.10 L98.96,525.10 L99.70,525.10 L100.44,525.10 L101.18,525.10 L101.92,525.10 L102.66,525.10 L103.40,525.10 L104.14,525.10 L104.88,525.10 L105.62,525.10 L106.36,525.10 L107.10,525.10 L107.84,525.10 L108.58,525.10 L109.32,525.10 L110.06,525.10 L110.80,525.10 L111.54,525.10 L112.28,525.10 L113.02,525.10 L113.76,525.10 L114.50,525.10 L115.24,525.10 L115.98,525.10 L116.72,525.10 L117.46,525.10 L118.20,525.10 L118.94,525.10 L119.68,525.10 L120.42,525.10 L121.16,525.10 L121.90,525.10 L122.64,525.10 L123.38,525.10 L124.12,525.10 L124.86,525.10 L125.60,525.10 L126.34,525.10 L127.08,525.10 L127.82,525.10 L128.56,525.10 L129.30,525.10 L130.04,525.10 L130.78,525.10 L131.52,525.10 L132.26,525.10 L133.00,525.10 L133.74,525.10 L134.48,525.10 L135.22,525.10 L135.96,525.10 L136.70,525.10 L137.44,525.10 L138.18,525.10 L138.92,525.10 L139.66,525.10 L140.40,525.10 L141.14,525.10 L141.88,525.10 L142.62,525.10 L143.36,525.10 L144.10,525.10 L144.84,525.10 L145.58,525.10 L146.32,525.10 L147.06,525.10 L147.80,525.10" stroke="#1F3A7E" stroke-width="2.2" fill="none"/>
<line x1="173.50" y1="525.70" x2="182.70" y2="525.70" stroke="#1F3A7E" stroke-width="0.8"/>
<circle cx="178.10" cy="525.70" r="0.9" fill="#1F3A7E"/>
<text x="185.70" y="527.70" font-size="5.8" text-anchor="start" font-weight="normal" fill="#2a2a2a" textLength="28.3" lengthAdjust="spacingAndGlyphs">A549 alone</text>
<line x1="173.50" y1="536.45" x2="182.70" y2="536.45" stroke="#E8B01A" stroke-width="0.8"/>
<circle cx="178.10" cy="536.45" r="0.9" fill="#E8B01A"/>
<text x="185.70" y="538.45" font-size="5.8" text-anchor="start" font-weight="normal" fill="#2a2a2a" textLength="31.2" lengthAdjust="spacingAndGlyphs">hnCD16 iNK</text>
<line x1="173.50" y1="547.20" x2="182.70" y2="547.20" stroke="#D81F8F" stroke-width="0.8"/>
<circle cx="178.10" cy="547.20" r="0.9" fill="#D81F8F"/>
<text x="185.70" y="549.20" font-size="5.8" text-anchor="start" font-weight="normal" fill="#2a2a2a" textLength="59.4" lengthAdjust="spacingAndGlyphs">hnCD16-iNK+anti-EGFR</text>
<line x1="173.50" y1="557.95" x2="182.70" y2="557.95" stroke="#5DAE45" stroke-width="0.8"/>
<circle cx="178.10" cy="557.95" r="0.9" fill="#5DAE45"/>
<text x="185.70" y="559.95" font-size="5.8" text-anchor="start" font-weight="normal" fill="#2a2a2a" textLength="14.4" lengthAdjust="spacingAndGlyphs">PBNK</text>
<line x1="173.50" y1="568.70" x2="182.70" y2="568.70" stroke="#6A4A92" stroke-width="0.8"/>
<circle cx="178.10" cy="568.70" r="1.1" fill="#fff" stroke="#6A4A92" stroke-width="0.6"/>
<text x="185.70" y="570.70" font-size="5.8" text-anchor="start" font-weight="normal" fill="#2a2a2a" textLength="43.3" lengthAdjust="spacingAndGlyphs">PBNK+anti-EGFR</text>
<line x1="320.39" y1="493.95" x2="320.39" y2="521.20" stroke="#5DAE45" stroke-width="0.6"/>
<line x1="319.19" y1="493.95" x2="321.59" y2="493.95" stroke="#5DAE45" stroke-width="0.6"/>
<text x="375.00" y="475.10" font-size="8.8" text-anchor="middle" font-weight="normal" fill="#2a2a2a" textLength="30.3" lengthAdjust="spacingAndGlyphs">SKOV-3</text>
<text x="348.5" y="485.6" font-size="8.8" fill="#2a2a2a" textLength="50.7" lengthAdjust="spacingAndGlyphs">Her2<tspan font-size="4.6" dy="-3">hi</tspan><tspan dy="3">/EGFR</tspan><tspan font-size="4.6" dy="-3">hi</tspan></text>
<line x1="311.60" y1="490.72" x2="311.60" y2="631.20" stroke="#2a2a2a" stroke-width="1.5"/>
<line x1="310.90" y1="630.50" x2="438.30" y2="630.50" stroke="#2a2a2a" stroke-width="1.5"/>
<line x1="308.60" y1="630.50" x2="311.60" y2="630.50" stroke="#222" stroke-width="0.8"/>
<text x="304.90" y="632.70" font-size="6.3" text-anchor="end" font-weight="normal" fill="#333">0</text>
<line x1="308.60" y1="603.20" x2="311.60" y2="603.20" stroke="#222" stroke-width="0.8"/>
<text x="304.90" y="605.40" font-size="6.3" text-anchor="end" font-weight="normal" fill="#333">25</text>
<line x1="308.60" y1="575.90" x2="311.60" y2="575.90" stroke="#222" stroke-width="0.8"/>
<text x="304.90" y="578.10" font-size="6.3" text-anchor="end" font-weight="normal" fill="#333">50</text>
<line x1="308.60" y1="548.60" x2="311.60" y2="548.60" stroke="#222" stroke-width="0.8"/>
<text x="304.90" y="550.80" font-size="6.3" text-anchor="end" font-weight="normal" fill="#333">75</text>
<line x1="308.60" y1="521.30" x2="311.60" y2="521.30" stroke="#222" stroke-width="0.8"/>
<text x="304.90" y="523.50" font-size="6.3" text-anchor="end" font-weight="normal" fill="#333">100</text>
<line x1="308.60" y1="494.00" x2="311.60" y2="494.00" stroke="#222" stroke-width="0.8"/>
<text x="304.90" y="496.20" font-size="6.3" text-anchor="end" font-weight="normal" fill="#333">125</text>
<line x1="311.60" y1="630.50" x2="311.60" y2="633.30" stroke="#222" stroke-width="0.8"/>
<text x="311.60" y="642.80" font-size="6.4" text-anchor="middle" font-weight="normal" fill="#2a2a2a">0</text>
<line x1="320.79" y1="630.50" x2="320.79" y2="633.30" stroke="#222" stroke-width="0.8"/>
<text x="320.79" y="642.80" font-size="6.4" text-anchor="middle" font-weight="normal" fill="#2a2a2a">6</text>
<line x1="329.97" y1="630.50" x2="329.97" y2="633.30" stroke="#222" stroke-width="0.8"/>
<text x="329.97" y="642.80" font-size="6.4" text-anchor="middle" font-weight="normal" fill="#2a2a2a">12</text>
<line x1="339.16" y1="630.50" x2="339.16" y2="633.30" stroke="#222" stroke-width="0.8"/>
<text x="339.16" y="642.80" font-size="6.4" text-anchor="middle" font-weight="normal" fill="#2a2a2a">18</text>
<line x1="348.34" y1="630.50" x2="348.34" y2="633.30" stroke="#222" stroke-width="0.8"/>
<text x="348.34" y="642.80" font-size="6.4" text-anchor="middle" font-weight="normal" fill="#2a2a2a">24</text>
<line x1="357.53" y1="630.50" x2="357.53" y2="633.30" stroke="#222" stroke-width="0.8"/>
<text x="357.53" y="642.80" font-size="6.4" text-anchor="middle" font-weight="normal" fill="#2a2a2a">30</text>
<line x1="366.72" y1="630.50" x2="366.72" y2="633.30" stroke="#222" stroke-width="0.8"/>
<text x="366.72" y="642.80" font-size="6.4" text-anchor="middle" font-weight="normal" fill="#2a2a2a">36</text>
<line x1="375.90" y1="630.50" x2="375.90" y2="633.30" stroke="#222" stroke-width="0.8"/>
<text x="375.90" y="642.80" font-size="6.4" text-anchor="middle" font-weight="normal" fill="#2a2a2a">42</text>
<line x1="385.09" y1="630.50" x2="385.09" y2="633.30" stroke="#222" stroke-width="0.8"/>
<text x="385.09" y="642.80" font-size="6.4" text-anchor="middle" font-weight="normal" fill="#2a2a2a">48</text>
<line x1="394.27" y1="630.50" x2="394.27" y2="633.30" stroke="#222" stroke-width="0.8"/>
<text x="394.27" y="642.80" font-size="6.4" text-anchor="middle" font-weight="normal" fill="#2a2a2a">54</text>
<line x1="403.46" y1="630.50" x2="403.46" y2="633.30" stroke="#222" stroke-width="0.8"/>
<text x="403.46" y="642.80" font-size="6.4" text-anchor="middle" font-weight="normal" fill="#2a2a2a">60</text>
<line x1="412.65" y1="630.50" x2="412.65" y2="633.30" stroke="#222" stroke-width="0.8"/>
<text x="412.65" y="642.80" font-size="6.4" text-anchor="middle" font-weight="normal" fill="#2a2a2a">66</text>
<line x1="421.83" y1="630.50" x2="421.83" y2="633.30" stroke="#222" stroke-width="0.8"/>
<text x="421.83" y="642.80" font-size="6.4" text-anchor="middle" font-weight="normal" fill="#2a2a2a">72</text>
<line x1="431.02" y1="630.50" x2="431.02" y2="633.30" stroke="#222" stroke-width="0.8"/>
<text x="431.02" y="642.80" font-size="6.4" text-anchor="middle" font-weight="normal" fill="#2a2a2a">78</text>
<text x="279.80" y="560.00" font-size="8.2" text-anchor="middle" font-weight="normal" fill="#2a2a2a" textLength="80.0" lengthAdjust="spacingAndGlyphs" transform="rotate(-90 279.8 560.0)">Normalized  SKOV-3 count</text>
<text x="288.80" y="559.40" font-size="8.2" text-anchor="middle" font-weight="normal" fill="#2a2a2a" textLength="56.4" lengthAdjust="spacingAndGlyphs" transform="rotate(-90 288.8 559.4)">(% of SKOV-3 only)</text>
<text x="374.20" y="652.40" font-size="7.6" text-anchor="middle" font-weight="normal" fill="#2a2a2a" textLength="39.3" lengthAdjust="spacingAndGlyphs">Time (hours)</text>
<path d="M311.60,521.30 L312.37,521.30 L313.13,521.30 L313.90,521.30 L314.66,521.30 L315.43,521.30 L316.19,521.30 L316.96,521.30 L317.72,521.30 L318.49,521.29 L319.25,521.25 L320.02,521.20 L320.79,521.16 L321.55,521.14 L322.32,521.15 L323.08,521.20 L323.85,521.30 L324.61,521.49 L325.38,521.76 L326.14,522.08 L326.91,522.43 L327.68,522.77 L328.44,523.08 L329.21,523.33 L329.97,523.48 L330.74,523.51 L331.50,523.53 L332.27,523.54 L333.03,523.54 L333.80,523.53 L334.56,523.51 L335.33,523.49 L336.10,523.46 L336.86,523.43 L337.63,523.39 L338.39,523.36 L339.16,523.31 L339.92,523.27 L340.69,523.23 L341.45,523.18 L342.22,523.14 L342.99,523.10 L343.75,523.06 L344.52,523.03 L345.28,523.00 L346.05,522.97 L346.81,522.95 L347.58,522.94 L348.34,522.94 L349.11,522.94 L349.88,522.95 L350.64,522.97 L351.41,523.00 L352.17,523.03 L352.94,523.06 L353.70,523.10 L354.47,523.14 L355.23,523.18 L356.00,523.23 L356.76,523.27 L357.53,523.31 L358.30,523.36 L359.06,523.39 L359.83,523.43 L360.59,523.46 L361.36,523.49 L362.12,523.51 L362.89,523.53 L363.65,523.54 L364.42,523.54 L365.19,523.53 L365.95,523.51 L366.72,523.48 L367.48,523.45 L368.25,523.40 L369.01,523.34 L369.78,523.28 L370.54,523.21 L371.31,523.13 L372.07,523.05 L372.84,522.96 L373.61,522.86 L374.37,522.77 L375.14,522.67 L375.90,522.56 L376.67,522.46 L377.43,522.35 L378.20,522.24 L378.96,522.13 L379.73,522.02 L380.50,521.91 L381.26,521.80 L382.03,521.70 L382.79,521.59 L383.56,521.49 L384.32,521.39 L385.09,521.30 L385.85,521.21 L386.62,521.12 L387.38,521.04 L388.15,520.96 L388.92,520.88 L389.68,520.81 L390.45,520.73 L391.21,520.65 L391.98,520.58 L392.74,520.50 L393.51,520.42 L394.27,520.34 L395.04,520.26 L395.81,520.18 L396.57,520.09 L397.34,520.01 L398.10,519.91 L398.87,519.82 L399.63,519.71 L400.40,519.61 L401.16,519.49 L401.93,519.37 L402.69,519.25 L403.46,519.12 L404.23,518.89 L404.99,518.62 L405.76,518.34 L406.52,518.03 L407.29,517.70 L408.05,517.37 L408.82,517.03 L409.58,516.69 L410.35,516.36 L411.12,516.04 L411.88,515.74 L412.65,515.46 L413.41,515.21 L414.18,514.99 L414.94,514.81 L414.94,529.17 L414.18,529.21 L413.41,529.26 L412.65,529.31 L411.88,529.37 L411.12,529.44 L410.35,529.51 L409.58,529.58 L408.82,529.65 L408.05,529.72 L407.29,529.79 L406.52,529.85 L405.76,529.91 L404.99,529.96 L404.23,530.00 L403.46,530.04 L402.69,530.05 L401.93,530.06 L401.16,530.07 L400.40,530.07 L399.63,530.06 L398.87,530.05 L398.10,530.04 L397.34,530.03 L396.57,530.02 L395.81,530.00 L395.04,529.99 L394.27,529.97 L393.51,529.96 L392.74,529.95 L391.98,529.94 L391.21,529.93 L390.45,529.93 L389.68,529.93 L388.92,529.93 L388.15,529.94 L387.38,529.95 L386.62,529.97 L385.85,530.00 L385.09,530.04 L384.32,530.08 L383.56,530.14 L382.79,530.21 L382.03,530.29 L381.26,530.38 L380.50,530.48 L379.73,530.58 L378.96,530.69 L378.20,530.80 L377.43,530.91 L376.67,531.02 L375.90,531.13 L375.14,531.24 L374.37,531.35 L373.61,531.45 L372.84,531.54 L372.07,531.63 L371.31,531.71 L370.54,531.77 L369.78,531.83 L369.01,531.87 L368.25,531.89 L367.48,531.90 L366.72,531.89 L365.95,531.86 L365.19,531.82 L364.42,531.75 L363.65,531.67 L362.89,531.58 L362.12,531.47 L361.36,531.36 L360.59,531.23 L359.83,531.09 L359.06,530.95 L358.30,530.81 L357.53,530.66 L356.76,530.51 L356.00,530.35 L355.23,530.20 L354.47,530.06 L353.70,529.91 L352.94,529.78 L352.17,529.65 L351.41,529.53 L350.64,529.41 L349.88,529.32 L349.11,529.23 L348.34,529.16 L347.58,528.99 L346.81,528.94 L346.05,528.95 L345.28,528.99 L344.52,529.00 L343.75,528.94 L342.99,528.66 L342.22,528.29 L341.45,527.85 L340.69,527.25 L339.92,526.58 L339.16,526.21 L338.39,526.36 L337.63,526.80 L336.86,527.31 L336.10,527.86 L335.33,528.48 L334.56,528.94 L333.80,529.09 L333.03,529.22 L332.27,529.31 L331.50,529.34 L330.74,529.29 L329.97,529.16 L329.21,528.99 L328.44,528.77 L327.68,528.49 L326.91,528.18 L326.14,527.84 L325.38,527.48 L324.61,527.12 L323.85,526.76 L323.08,525.68 L322.32,524.29 L321.55,517.85 L320.79,508.20 L320.02,517.67 L319.25,523.01 L318.49,523.94 L317.72,524.03 L316.96,523.47 L316.19,522.46 L315.43,521.42 L314.66,520.75 L313.90,520.63 L313.13,520.82 L312.37,521.11 L311.60,521.30 Z" stroke="none" stroke-width="1" fill="#D3E8C4" fill-opacity="0.35"/>
<path d="M311.60,521.30 L311.60,521.30 M313.90,521.30 L313.90,520.63 M316.19,521.30 L316.19,522.46 M318.49,521.29 L318.49,523.94 M320.79,521.16 L320.79,508.20 M323.08,521.20 L323.08,525.68 M325.38,521.76 L325.38,527.48 M327.68,522.77 L327.68,528.49 M329.97,523.48 L329.97,529.16 M332.27,523.54 L332.27,529.31 M334.56,523.51 L334.56,528.94 M336.86,523.43 L336.86,527.31 M339.16,523.31 L339.16,526.21 M341.45,523.18 L341.45,527.85 M343.75,523.06 L343.75,528.94 M346.05,522.97 L346.05,528.95 M348.34,522.94 L348.34,529.16 M350.64,522.97 L350.64,529.41 M352.94,523.06 L352.94,529.78 M355.23,523.18 L355.23,530.20 M357.53,523.31 L357.53,530.66 M359.83,523.43 L359.83,531.09 M362.12,523.51 L362.12,531.47 M364.42,523.54 L364.42,531.75 M366.72,523.48 L366.72,531.89 M369.01,523.34 L369.01,531.87 M371.31,523.13 L371.31,531.71 M373.61,522.86 L373.61,531.45 M375.90,522.56 L375.90,531.13 M378.20,522.24 L378.20,530.80 M380.50,521.91 L380.50,530.48 M382.79,521.59 L382.79,530.21 M385.09,521.30 L385.09,530.04 M387.38,521.04 L387.38,529.95 M389.68,520.81 L389.68,529.93 M391.98,520.58 L391.98,529.94 M394.27,520.34 L394.27,529.97 M396.57,520.09 L396.57,530.02 M398.87,519.82 L398.87,530.05 M401.16,519.49 L401.16,530.07 M403.46,519.12 L403.46,530.04 M405.76,518.34 L405.76,529.91 M408.05,517.37 L408.05,529.72 M410.35,516.36 L410.35,529.51 M412.65,515.46 L412.65,529.31 M414.94,514.81 L414.94,529.17 " stroke="#D3E8C4" stroke-width="0.45" fill="none"/>
<path d="M311.60,521.30 L312.37,521.30 L313.13,521.30 L313.90,521.30 L314.66,521.30 L315.43,521.30 L316.19,521.30 L316.96,521.30 L317.72,521.30 L318.49,521.29 L319.25,521.25 L320.02,521.20 L320.79,521.16 L321.55,521.14 L322.32,521.15 L323.08,521.20 L323.85,521.30 L324.61,521.49 L325.38,521.76 L326.14,522.08 L326.91,522.43 L327.68,522.77 L328.44,523.08 L329.21,523.33 L329.97,523.48 L330.74,523.51 L331.50,523.53 L332.27,523.54 L333.03,523.54 L333.80,523.53 L334.56,523.51 L335.33,523.49 L336.10,523.46 L336.86,523.43 L337.63,523.39 L338.39,523.36 L339.16,523.31 L339.92,523.27 L340.69,523.23 L341.45,523.18 L342.22,523.14 L342.99,523.10 L343.75,523.06 L344.52,523.03 L345.28,523.00 L346.05,522.97 L346.81,522.95 L347.58,522.94 L348.34,522.94 L349.11,522.94 L349.88,522.95 L350.64,522.97 L351.41,523.00 L352.17,523.03 L352.94,523.06 L353.70,523.10 L354.47,523.14 L355.23,523.18 L356.00,523.23 L356.76,523.27 L357.53,523.31 L358.30,523.36 L359.06,523.39 L359.83,523.43 L360.59,523.46 L361.36,523.49 L362.12,523.51 L362.89,523.53 L363.65,523.54 L364.42,523.54 L365.19,523.53 L365.95,523.51 L366.72,523.48 L367.48,523.45 L368.25,523.40 L369.01,523.34 L369.78,523.28 L370.54,523.21 L371.31,523.13 L372.07,523.05 L372.84,522.96 L373.61,522.86 L374.37,522.77 L375.14,522.67 L375.90,522.56 L376.67,522.46 L377.43,522.35 L378.20,522.24 L378.96,522.13 L379.73,522.02 L380.50,521.91 L381.26,521.80 L382.03,521.70 L382.79,521.59 L383.56,521.49 L384.32,521.39 L385.09,521.30 L385.85,521.21 L386.62,521.12 L387.38,521.04 L388.15,520.96 L388.92,520.88 L389.68,520.81 L390.45,520.73 L391.21,520.65 L391.98,520.58 L392.74,520.50 L393.51,520.42 L394.27,520.34 L395.04,520.26 L395.81,520.18 L396.57,520.09 L397.34,520.01 L398.10,519.91 L398.87,519.82 L399.63,519.71 L400.40,519.61 L401.16,519.49 L401.93,519.37 L402.69,519.25 L403.46,519.12 L404.23,518.89 L404.99,518.62 L405.76,518.34 L406.52,518.03 L407.29,517.70 L408.05,517.37 L408.82,517.03 L409.58,516.69 L410.35,516.36 L411.12,516.04 L411.88,515.74 L412.65,515.46 L413.41,515.21 L414.18,514.99 L414.94,514.81" stroke="#D3E8C4" stroke-width="0.6" fill="none"/>
<path d="M311.60,521.40 L312.37,521.48 L313.13,521.11 L313.90,520.30 L314.66,520.63 L315.43,521.05 L316.19,522.75 L316.96,523.79 L317.72,523.84 L318.49,523.64 L319.25,523.07 L320.02,517.44 L320.79,508.35 L321.55,517.62 L322.32,524.44 L323.08,525.89 L323.85,526.50 L324.61,527.21 L325.38,527.29 L326.14,527.68 L326.91,527.93 L327.68,528.36 L328.44,528.49 L329.21,529.16 L329.97,529.08 L330.74,529.05 L331.50,529.04 L332.27,529.31 L333.03,528.94 L333.80,529.13 L334.56,528.64 L335.33,528.73 L336.10,527.49 L336.86,526.95 L337.63,526.47 L338.39,526.10 L339.16,526.57 L339.92,526.65 L340.69,527.24 L341.45,528.16 L342.22,528.50 L342.99,528.99 L343.75,528.86 L344.52,529.17 L345.28,528.85 L346.05,528.79 L346.81,528.69 L347.58,528.63 L348.34,529.41 L349.11,529.49 L349.88,529.63 L350.64,529.43 L351.41,529.25 L352.17,529.41 L352.94,529.69 L353.70,529.65 L354.47,529.93 L355.23,530.18 L356.00,530.52 L356.76,530.79 L357.53,530.53 L358.30,530.52 L359.06,531.16 L359.83,531.47 L360.59,531.15 L361.36,531.58 L362.12,531.70 L362.89,531.39 L363.65,531.87 L364.42,532.02 L365.19,531.72 L365.95,532.24 L366.72,531.98 L367.48,532.17 L368.25,532.02 L369.01,532.08 L369.78,531.51 L370.54,531.62 L371.31,531.69 L372.07,531.77 L372.84,531.62 L373.61,531.41 L374.37,531.50 L375.14,530.95 L375.90,530.76 L376.67,530.82 L377.43,531.14 L378.20,530.45 L378.96,530.71 L379.73,530.93 L380.50,530.62 L381.26,530.63 L382.03,530.62 L382.79,529.89 L383.56,529.95 L384.32,530.31 L385.09,529.76 L385.85,529.85 L386.62,529.76 L387.38,530.32 L388.15,529.56 L388.92,530.01 L389.68,529.77 L390.45,529.85 L391.21,529.75 L391.98,530.21 L392.74,530.28 L393.51,529.95 L394.27,530.18 L395.04,529.79 L395.81,529.77 L396.57,529.65 L397.34,529.95 L398.10,530.04 L398.87,530.25 L399.63,530.09 L400.40,529.82 L401.16,530.01 L401.93,529.78 L402.69,530.32 L403.46,530.08 L404.23,529.68 L404.99,530.26 L405.76,530.19 L406.52,529.62 L407.29,529.85 L408.05,529.82 L408.82,529.46 L409.58,529.33 L410.35,529.77 L411.12,529.59 L411.88,529.27 L412.65,529.02 L413.41,529.02 L414.18,529.48 L414.94,528.86" stroke="#5DAE45" stroke-width="1.5" fill="none"/>
<path d="M311.60,521.30 L312.37,521.44 L313.13,521.59 L313.90,521.76 L314.66,521.95 L315.43,522.16 L316.19,522.39 L316.96,522.66 L317.72,522.96 L318.49,523.30 L319.25,523.68 L320.02,524.10 L320.79,524.58 L321.55,525.10 L322.32,525.66 L323.08,526.26 L323.85,526.91 L324.61,527.59 L325.38,528.30 L326.14,529.05 L326.91,529.84 L327.68,530.66 L328.44,531.51 L329.21,532.40 L329.97,533.31 L330.74,533.79 L331.50,534.28 L332.27,534.79 L333.03,535.32 L333.80,535.86 L334.56,536.42 L335.33,536.99 L336.10,537.57 L336.86,538.15 L337.63,538.75 L338.39,539.34 L339.16,539.95 L339.92,540.55 L340.69,541.15 L341.45,541.76 L342.22,542.36 L342.99,542.95 L343.75,543.54 L344.52,544.12 L345.28,544.69 L346.05,545.25 L346.81,545.80 L347.58,546.33 L348.34,546.85 L349.11,547.36 L349.88,547.86 L350.64,548.35 L351.41,548.84 L352.17,549.33 L352.94,549.80 L353.70,550.28 L354.47,550.74 L355.23,551.21 L356.00,551.67 L356.76,552.12 L357.53,552.57 L358.30,553.02 L359.06,553.46 L359.83,553.90 L360.59,554.34 L361.36,554.78 L362.12,555.21 L362.89,555.64 L363.65,556.07 L364.42,556.50 L365.19,556.92 L365.95,557.35 L366.72,557.77 L367.48,558.20 L368.25,558.63 L369.01,559.07 L369.78,559.52 L370.54,559.97 L371.31,560.41 L372.07,560.86 L372.84,561.31 L373.61,561.76 L374.37,562.20 L375.14,562.63 L375.90,563.06 L376.67,563.48 L377.43,563.89 L378.20,564.29 L378.96,564.68 L379.73,565.05 L380.50,565.41 L381.26,565.75 L382.03,566.08 L382.79,566.38 L383.56,566.67 L384.32,566.93 L385.09,567.16 L385.85,567.30 L386.62,567.42 L387.38,567.53 L388.15,567.64 L388.92,567.74 L389.68,567.83 L390.45,567.91 L391.21,567.99 L391.98,568.06 L392.74,568.12 L393.51,568.18 L394.27,568.23 L395.04,568.27 L395.81,568.31 L396.57,568.35 L397.34,568.38 L398.10,568.41 L398.87,568.43 L399.63,568.45 L400.40,568.47 L401.16,568.48 L401.93,568.49 L402.69,568.50 L403.46,568.50 L404.23,568.51 L404.99,568.51 L405.76,568.51 L406.52,568.51 L407.29,568.51 L408.05,568.52 L408.82,568.52 L409.58,568.52 L410.35,568.52 L411.12,568.53 L411.88,568.53 L412.65,568.54 L413.41,568.55 L414.18,568.56 L414.94,568.58 L414.94,579.34 L414.18,579.17 L413.41,578.98 L412.65,578.75 L411.88,578.50 L411.12,578.22 L410.35,577.94 L409.58,577.64 L408.82,577.33 L408.05,577.02 L407.29,576.71 L406.52,576.41 L405.76,576.12 L404.99,575.84 L404.23,575.59 L403.46,575.35 L402.69,575.22 L401.93,575.09 L401.16,574.98 L400.40,574.87 L399.63,574.77 L398.87,574.67 L398.10,574.58 L397.34,574.49 L396.57,574.40 L395.81,574.32 L395.04,574.23 L394.27,574.15 L393.51,574.06 L392.74,573.97 L391.98,573.87 L391.21,573.77 L390.45,573.66 L389.68,573.54 L388.92,573.42 L388.15,573.29 L387.38,573.14 L386.62,572.98 L385.85,572.81 L385.09,572.62 L384.32,572.42 L383.56,572.21 L382.79,571.98 L382.03,571.74 L381.26,571.49 L380.50,571.23 L379.73,570.96 L378.96,570.68 L378.20,570.40 L377.43,570.11 L376.67,569.82 L375.90,569.52 L375.14,569.22 L374.37,568.92 L373.61,568.62 L372.84,568.32 L372.07,568.02 L371.31,567.72 L370.54,567.43 L369.78,567.15 L369.01,566.86 L368.25,566.59 L367.48,566.33 L366.72,566.07 L365.95,565.58 L365.19,565.10 L364.42,564.63 L363.65,564.17 L362.89,563.72 L362.12,563.27 L361.36,562.83 L360.59,562.39 L359.83,561.95 L359.06,561.51 L358.30,561.06 L357.53,560.61 L356.76,560.16 L356.00,559.70 L355.23,559.25 L354.47,558.79 L353.70,558.34 L352.94,557.88 L352.17,557.43 L351.41,556.97 L350.64,556.52 L349.88,556.06 L349.11,555.61 L348.34,555.15 L347.58,554.71 L346.81,554.27 L346.05,553.85 L345.28,553.44 L344.52,553.02 L343.75,552.60 L342.99,552.17 L342.22,551.72 L341.45,551.26 L340.69,550.77 L339.92,550.25 L339.16,549.69 L338.39,549.11 L337.63,548.51 L336.86,547.89 L336.10,547.25 L335.33,546.59 L334.56,545.91 L333.80,545.21 L333.03,544.49 L332.27,543.75 L331.50,542.99 L330.74,542.20 L329.97,541.39 L329.21,540.55 L328.44,539.65 L327.68,538.71 L326.91,537.74 L326.14,536.74 L325.38,535.74 L324.61,534.74 L323.85,533.74 L323.08,532.76 L322.32,531.81 L321.55,530.90 L320.79,530.04 L320.02,529.19 L319.25,528.33 L318.49,527.46 L317.72,526.61 L316.96,525.77 L316.19,524.96 L315.43,524.19 L314.66,523.47 L313.90,522.81 L313.13,522.22 L312.37,521.71 L311.60,521.30 Z" stroke="none" stroke-width="1" fill="#D6CCE2" fill-opacity="0.35"/>
<path d="M311.60,521.30 L311.60,521.30 M313.90,521.76 L313.90,522.81 M316.19,522.39 L316.19,524.96 M318.49,523.30 L318.49,527.46 M320.79,524.58 L320.79,530.04 M323.08,526.26 L323.08,532.76 M325.38,528.30 L325.38,535.74 M327.68,530.66 L327.68,538.71 M329.97,533.31 L329.97,541.39 M332.27,534.79 L332.27,543.75 M334.56,536.42 L334.56,545.91 M336.86,538.15 L336.86,547.89 M339.16,539.95 L339.16,549.69 M341.45,541.76 L341.45,551.26 M343.75,543.54 L343.75,552.60 M346.05,545.25 L346.05,553.85 M348.34,546.85 L348.34,555.15 M350.64,548.35 L350.64,556.52 M352.94,549.80 L352.94,557.88 M355.23,551.21 L355.23,559.25 M357.53,552.57 L357.53,560.61 M359.83,553.90 L359.83,561.95 M362.12,555.21 L362.12,563.27 M364.42,556.50 L364.42,564.63 M366.72,557.77 L366.72,566.07 M369.01,559.07 L369.01,566.86 M371.31,560.41 L371.31,567.72 M373.61,561.76 L373.61,568.62 M375.90,563.06 L375.90,569.52 M378.20,564.29 L378.20,570.40 M380.50,565.41 L380.50,571.23 M382.79,566.38 L382.79,571.98 M385.09,567.16 L385.09,572.62 M387.38,567.53 L387.38,573.14 M389.68,567.83 L389.68,573.54 M391.98,568.06 L391.98,573.87 M394.27,568.23 L394.27,574.15 M396.57,568.35 L396.57,574.40 M398.87,568.43 L398.87,574.67 M401.16,568.48 L401.16,574.98 M403.46,568.50 L403.46,575.35 M405.76,568.51 L405.76,576.12 M408.05,568.52 L408.05,577.02 M410.35,568.52 L410.35,577.94 M412.65,568.54 L412.65,578.75 M414.94,568.58 L414.94,579.34 " stroke="#D6CCE2" stroke-width="0.45" fill="none"/>
<path d="M311.60,521.30 L312.37,521.44 L313.13,521.59 L313.90,521.76 L314.66,521.95 L315.43,522.16 L316.19,522.39 L316.96,522.66 L317.72,522.96 L318.49,523.30 L319.25,523.68 L320.02,524.10 L320.79,524.58 L321.55,525.10 L322.32,525.66 L323.08,526.26 L323.85,526.91 L324.61,527.59 L325.38,528.30 L326.14,529.05 L326.91,529.84 L327.68,530.66 L328.44,531.51 L329.21,532.40 L329.97,533.31 L330.74,533.79 L331.50,534.28 L332.27,534.79 L333.03,535.32 L333.80,535.86 L334.56,536.42 L335.33,536.99 L336.10,537.57 L336.86,538.15 L337.63,538.75 L338.39,539.34 L339.16,539.95 L339.92,540.55 L340.69,541.15 L341.45,541.76 L342.22,542.36 L342.99,542.95 L343.75,543.54 L344.52,544.12 L345.28,544.69 L346.05,545.25 L346.81,545.80 L347.58,546.33 L348.34,546.85 L349.11,547.36 L349.88,547.86 L350.64,548.35 L351.41,548.84 L352.17,549.33 L352.94,549.80 L353.70,550.28 L354.47,550.74 L355.23,551.21 L356.00,551.67 L356.76,552.12 L357.53,552.57 L358.30,553.02 L359.06,553.46 L359.83,553.90 L360.59,554.34 L361.36,554.78 L362.12,555.21 L362.89,555.64 L363.65,556.07 L364.42,556.50 L365.19,556.92 L365.95,557.35 L366.72,557.77 L367.48,558.20 L368.25,558.63 L369.01,559.07 L369.78,559.52 L370.54,559.97 L371.31,560.41 L372.07,560.86 L372.84,561.31 L373.61,561.76 L374.37,562.20 L375.14,562.63 L375.90,563.06 L376.67,563.48 L377.43,563.89 L378.20,564.29 L378.96,564.68 L379.73,565.05 L380.50,565.41 L381.26,565.75 L382.03,566.08 L382.79,566.38 L383.56,566.67 L384.32,566.93 L385.09,567.16 L385.85,567.30 L386.62,567.42 L387.38,567.53 L388.15,567.64 L388.92,567.74 L389.68,567.83 L390.45,567.91 L391.21,567.99 L391.98,568.06 L392.74,568.12 L393.51,568.18 L394.27,568.23 L395.04,568.27 L395.81,568.31 L396.57,568.35 L397.34,568.38 L398.10,568.41 L398.87,568.43 L399.63,568.45 L400.40,568.47 L401.16,568.48 L401.93,568.49 L402.69,568.50 L403.46,568.50 L404.23,568.51 L404.99,568.51 L405.76,568.51 L406.52,568.51 L407.29,568.51 L408.05,568.52 L408.82,568.52 L409.58,568.52 L410.35,568.52 L411.12,568.53 L411.88,568.53 L412.65,568.54 L413.41,568.55 L414.18,568.56 L414.94,568.58" stroke="#D6CCE2" stroke-width="0.6" fill="none"/>
<path d="M311.60,521.66 L312.37,521.55 L313.13,522.07 L313.90,523.08 L314.66,523.30 L315.43,524.24 L316.19,525.32 L316.96,525.40 L317.72,526.81 L318.49,527.59 L319.25,528.64 L320.02,529.06 L320.79,530.06 L321.55,530.54 L322.32,531.49 L323.08,532.94 L323.85,533.39 L324.61,534.81 L325.38,535.84 L326.14,536.49 L326.91,537.46 L327.68,538.39 L328.44,539.64 L329.21,540.42 L329.97,541.65 L330.74,542.39 L331.50,542.96 L332.27,543.74 L333.03,544.41 L333.80,545.08 L334.56,545.97 L335.33,546.27 L336.10,547.41 L336.86,547.88 L337.63,548.20 L338.39,548.90 L339.16,549.34 L339.92,549.92 L340.69,550.91 L341.45,551.62 L342.22,552.05 L342.99,552.07 L343.75,552.70 L344.52,552.89 L345.28,553.32 L346.05,553.91 L346.81,554.12 L347.58,554.50 L348.34,554.98 L349.11,555.52 L349.88,555.93 L350.64,556.27 L351.41,556.79 L352.17,557.68 L352.94,557.50 L353.70,558.18 L354.47,558.86 L355.23,559.32 L356.00,559.69 L356.76,560.30 L357.53,560.46 L358.30,561.29 L359.06,561.26 L359.83,561.70 L360.59,562.62 L361.36,562.91 L362.12,563.01 L362.89,563.98 L363.65,564.03 L364.42,564.36 L365.19,565.46 L365.95,565.86 L366.72,565.83 L367.48,566.20 L368.25,566.45 L369.01,566.80 L369.78,567.49 L370.54,567.54 L371.31,567.64 L372.07,568.21 L372.84,568.58 L373.61,568.51 L374.37,569.25 L375.14,569.37 L375.90,569.77 L376.67,569.82 L377.43,569.88 L378.20,570.27 L378.96,570.58 L379.73,571.17 L380.50,570.94 L381.26,571.23 L382.03,572.09 L382.79,571.75 L383.56,572.39 L384.32,572.66 L385.09,572.38 L385.85,573.03 L386.62,572.67 L387.38,572.85 L388.15,573.41 L388.92,573.33 L389.68,573.82 L390.45,573.33 L391.21,573.57 L391.98,573.68 L392.74,573.68 L393.51,573.86 L394.27,574.51 L395.04,574.02 L395.81,574.27 L396.57,574.04 L397.34,574.46 L398.10,574.54 L398.87,575.00 L399.63,575.08 L400.40,575.05 L401.16,574.62 L401.93,575.43 L402.69,575.49 L403.46,575.33 L404.23,575.45 L404.99,575.50 L405.76,575.86 L406.52,576.23 L407.29,576.75 L408.05,576.95 L408.82,577.03 L409.58,577.86 L410.35,578.15 L411.12,578.34 L411.88,578.14 L412.65,578.80 L413.41,579.21 L414.18,579.29 L414.94,579.38" stroke="#6A4A92" stroke-width="2.2" fill="none"/>
<circle cx="311.60" cy="521.66" r="0.5" fill="#fff" stroke="none"/>
<circle cx="314.66" cy="523.30" r="0.5" fill="#fff" stroke="none"/>
<circle cx="317.72" cy="526.81" r="0.5" fill="#fff" stroke="none"/>
<circle cx="320.79" cy="530.06" r="0.5" fill="#fff" stroke="none"/>
<circle cx="323.85" cy="533.39" r="0.5" fill="#fff" stroke="none"/>
<circle cx="326.91" cy="537.46" r="0.5" fill="#fff" stroke="none"/>
<circle cx="329.97" cy="541.65" r="0.5" fill="#fff" stroke="none"/>
<circle cx="333.03" cy="544.41" r="0.5" fill="#fff" stroke="none"/>
<circle cx="336.10" cy="547.41" r="0.5" fill="#fff" stroke="none"/>
<circle cx="339.16" cy="549.34" r="0.5" fill="#fff" stroke="none"/>
<circle cx="342.22" cy="552.05" r="0.5" fill="#fff" stroke="none"/>
<circle cx="345.28" cy="553.32" r="0.5" fill="#fff" stroke="none"/>
<circle cx="348.34" cy="554.98" r="0.5" fill="#fff" stroke="none"/>
<circle cx="351.41" cy="556.79" r="0.5" fill="#fff" stroke="none"/>
<circle cx="354.47" cy="558.86" r="0.5" fill="#fff" stroke="none"/>
<circle cx="357.53" cy="560.46" r="0.5" fill="#fff" stroke="none"/>
<circle cx="360.59" cy="562.62" r="0.5" fill="#fff" stroke="none"/>
<circle cx="363.65" cy="564.03" r="0.5" fill="#fff" stroke="none"/>
<circle cx="366.72" cy="565.83" r="0.5" fill="#fff" stroke="none"/>
<circle cx="369.78" cy="567.49" r="0.5" fill="#fff" stroke="none"/>
<circle cx="372.84" cy="568.58" r="0.5" fill="#fff" stroke="none"/>
<circle cx="375.90" cy="569.77" r="0.5" fill="#fff" stroke="none"/>
<circle cx="378.96" cy="570.58" r="0.5" fill="#fff" stroke="none"/>
<circle cx="382.03" cy="572.09" r="0.5" fill="#fff" stroke="none"/>
<circle cx="385.09" cy="572.38" r="0.5" fill="#fff" stroke="none"/>
<circle cx="388.15" cy="573.41" r="0.5" fill="#fff" stroke="none"/>
<circle cx="391.21" cy="573.57" r="0.5" fill="#fff" stroke="none"/>
<circle cx="394.27" cy="574.51" r="0.5" fill="#fff" stroke="none"/>
<circle cx="397.34" cy="574.46" r="0.5" fill="#fff" stroke="none"/>
<circle cx="400.40" cy="575.05" r="0.5" fill="#fff" stroke="none"/>
<circle cx="403.46" cy="575.33" r="0.5" fill="#fff" stroke="none"/>
<circle cx="406.52" cy="576.23" r="0.5" fill="#fff" stroke="none"/>
<circle cx="409.58" cy="577.86" r="0.5" fill="#fff" stroke="none"/>
<circle cx="412.65" cy="578.80" r="0.5" fill="#fff" stroke="none"/>
<path d="M311.60,521.30 L312.37,521.48 L313.13,521.67 L313.90,521.88 L314.66,522.11 L315.43,522.37 L316.19,522.66 L316.96,523.01 L317.72,523.40 L318.49,523.86 L319.25,524.38 L320.02,524.98 L320.79,525.67 L321.55,526.45 L322.32,527.32 L323.08,528.28 L323.85,529.31 L324.61,530.40 L325.38,531.54 L326.14,532.71 L326.91,533.92 L327.68,535.14 L328.44,536.36 L329.21,537.58 L329.97,538.77 L330.74,539.37 L331.50,539.97 L332.27,540.58 L333.03,541.20 L333.80,541.83 L334.56,542.46 L335.33,543.09 L336.10,543.73 L336.86,544.38 L337.63,545.03 L338.39,545.68 L339.16,546.33 L339.92,546.98 L340.69,547.63 L341.45,548.29 L342.22,548.94 L342.99,549.59 L343.75,550.24 L344.52,550.89 L345.28,551.53 L346.05,552.17 L346.81,552.81 L347.58,553.44 L348.34,554.06 L349.11,554.68 L349.88,555.31 L350.64,555.94 L351.41,556.57 L352.17,557.20 L352.94,557.83 L353.70,558.46 L354.47,559.10 L355.23,559.73 L356.00,560.35 L356.76,560.98 L357.53,561.60 L358.30,562.22 L359.06,562.83 L359.83,563.44 L360.59,564.05 L361.36,564.64 L362.12,565.23 L362.89,565.81 L363.65,566.39 L364.42,566.95 L365.19,567.51 L365.95,568.05 L366.72,568.58 L367.48,569.10 L368.25,569.60 L369.01,570.09 L369.78,570.56 L370.54,571.02 L371.31,571.47 L372.07,571.91 L372.84,572.34 L373.61,572.77 L374.37,573.19 L375.14,573.61 L375.90,574.02 L376.67,574.44 L377.43,574.85 L378.20,575.27 L378.96,575.69 L379.73,576.12 L380.50,576.56 L381.26,577.00 L382.03,577.45 L382.79,577.92 L383.56,578.39 L384.32,578.89 L385.09,579.39 L385.85,579.72 L386.62,580.05 L387.38,580.39 L388.15,580.75 L388.92,581.11 L389.68,581.49 L390.45,581.87 L391.21,582.26 L391.98,582.65 L392.74,583.05 L393.51,583.46 L394.27,583.87 L395.04,584.28 L395.81,584.70 L396.57,585.11 L397.34,585.53 L398.10,585.94 L398.87,586.36 L399.63,586.77 L400.40,587.18 L401.16,587.59 L401.93,587.99 L402.69,588.39 L403.46,588.77 L404.23,589.16 L404.99,589.53 L405.76,589.90 L406.52,590.25 L407.29,590.60 L408.05,590.94 L408.82,591.26 L409.58,591.57 L410.35,591.86 L411.12,592.14 L411.88,592.41 L412.65,592.66 L413.41,592.89 L414.18,593.10 L414.94,593.30 L414.94,606.40 L414.18,606.21 L413.41,605.98 L412.65,605.73 L411.88,605.46 L411.12,605.16 L410.35,604.84 L409.58,604.50 L408.82,604.14 L408.05,603.76 L407.29,603.36 L406.52,602.94 L405.76,602.51 L404.99,602.06 L404.23,601.60 L403.46,601.13 L402.69,600.81 L401.93,600.49 L401.16,600.15 L400.40,599.81 L399.63,599.46 L398.87,599.11 L398.10,598.74 L397.34,598.37 L396.57,597.99 L395.81,597.60 L395.04,597.21 L394.27,596.80 L393.51,596.40 L392.74,595.99 L391.98,595.57 L391.21,595.15 L390.45,594.72 L389.68,594.29 L388.92,593.85 L388.15,593.41 L387.38,592.97 L386.62,592.53 L385.85,592.08 L385.09,591.62 L384.32,591.16 L383.56,590.68 L382.79,590.19 L382.03,589.68 L381.26,589.16 L380.50,588.63 L379.73,588.09 L378.96,587.55 L378.20,587.00 L377.43,586.45 L376.67,585.89 L375.90,585.34 L375.14,584.79 L374.37,584.24 L373.61,583.70 L372.84,583.17 L372.07,582.64 L371.31,582.13 L370.54,581.63 L369.78,581.15 L369.01,580.68 L368.25,580.23 L367.48,579.80 L366.72,579.39 L365.95,578.64 L365.19,577.95 L364.42,577.31 L363.65,576.73 L362.89,576.18 L362.12,575.65 L361.36,575.15 L360.59,574.66 L359.83,574.17 L359.06,573.68 L358.30,573.16 L357.53,572.62 L356.76,572.07 L356.00,571.52 L355.23,570.98 L354.47,570.44 L353.70,569.90 L352.94,569.36 L352.17,568.82 L351.41,568.28 L350.64,567.74 L349.88,567.19 L349.11,566.63 L348.34,566.07 L347.58,565.52 L346.81,564.99 L346.05,564.48 L345.28,563.97 L344.52,563.46 L343.75,562.93 L342.99,562.39 L342.22,561.82 L341.45,561.21 L340.69,560.56 L339.92,559.85 L339.16,559.08 L338.39,558.26 L337.63,557.39 L336.86,556.48 L336.10,555.52 L335.33,554.54 L334.56,553.51 L333.80,552.46 L333.03,551.38 L332.27,550.28 L331.50,549.15 L330.74,548.01 L329.97,546.85 L329.21,545.65 L328.44,544.37 L327.68,543.03 L326.91,541.65 L326.14,540.25 L325.38,538.84 L324.61,537.44 L323.85,536.06 L323.08,534.73 L322.32,533.45 L321.55,532.24 L320.79,531.13 L320.02,530.07 L319.25,529.03 L318.49,528.03 L317.72,527.05 L316.96,526.12 L316.19,525.23 L315.43,524.40 L314.66,523.63 L313.90,522.93 L313.13,522.30 L312.37,521.76 L311.60,521.30 Z" stroke="none" stroke-width="1" fill="#F6E2A6" fill-opacity="0.35"/>
<path d="M311.60,521.30 L311.60,521.30 M313.90,521.88 L313.90,522.93 M316.19,522.66 L316.19,525.23 M318.49,523.86 L318.49,528.03 M320.79,525.67 L320.79,531.13 M323.08,528.28 L323.08,534.73 M325.38,531.54 L325.38,538.84 M327.68,535.14 L327.68,543.03 M329.97,538.77 L329.97,546.85 M332.27,540.58 L332.27,550.28 M334.56,542.46 L334.56,553.51 M336.86,544.38 L336.86,556.48 M339.16,546.33 L339.16,559.08 M341.45,548.29 L341.45,561.21 M343.75,550.24 L343.75,562.93 M346.05,552.17 L346.05,564.48 M348.34,554.06 L348.34,566.07 M350.64,555.94 L350.64,567.74 M352.94,557.83 L352.94,569.36 M355.23,559.73 L355.23,570.98 M357.53,561.60 L357.53,572.62 M359.83,563.44 L359.83,574.17 M362.12,565.23 L362.12,575.65 M364.42,566.95 L364.42,577.31 M366.72,568.58 L366.72,579.39 M369.01,570.09 L369.01,580.68 M371.31,571.47 L371.31,582.13 M373.61,572.77 L373.61,583.70 M375.90,574.02 L375.90,585.34 M378.20,575.27 L378.20,587.00 M380.50,576.56 L380.50,588.63 M382.79,577.92 L382.79,590.19 M385.09,579.39 L385.09,591.62 M387.38,580.39 L387.38,592.97 M389.68,581.49 L389.68,594.29 M391.98,582.65 L391.98,595.57 M394.27,583.87 L394.27,596.80 M396.57,585.11 L396.57,597.99 M398.87,586.36 L398.87,599.11 M401.16,587.59 L401.16,600.15 M403.46,588.77 L403.46,601.13 M405.76,589.90 L405.76,602.51 M408.05,590.94 L408.05,603.76 M410.35,591.86 L410.35,604.84 M412.65,592.66 L412.65,605.73 M414.94,593.30 L414.94,606.40 " stroke="#F6E2A6" stroke-width="0.45" fill="none"/>
<path d="M311.60,521.30 L312.37,521.48 L313.13,521.67 L313.90,521.88 L314.66,522.11 L315.43,522.37 L316.19,522.66 L316.96,523.01 L317.72,523.40 L318.49,523.86 L319.25,524.38 L320.02,524.98 L320.79,525.67 L321.55,526.45 L322.32,527.32 L323.08,528.28 L323.85,529.31 L324.61,530.40 L325.38,531.54 L326.14,532.71 L326.91,533.92 L327.68,535.14 L328.44,536.36 L329.21,537.58 L329.97,538.77 L330.74,539.37 L331.50,539.97 L332.27,540.58 L333.03,541.20 L333.80,541.83 L334.56,542.46 L335.33,543.09 L336.10,543.73 L336.86,544.38 L337.63,545.03 L338.39,545.68 L339.16,546.33 L339.92,546.98 L340.69,547.63 L341.45,548.29 L342.22,548.94 L342.99,549.59 L343.75,550.24 L344.52,550.89 L345.28,551.53 L346.05,552.17 L346.81,552.81 L347.58,553.44 L348.34,554.06 L349.11,554.68 L349.88,555.31 L350.64,555.94 L351.41,556.57 L352.17,557.20 L352.94,557.83 L353.70,558.46 L354.47,559.10 L355.23,559.73 L356.00,560.35 L356.76,560.98 L357.53,561.60 L358.30,562.22 L359.06,562.83 L359.83,563.44 L360.59,564.05 L361.36,564.64 L362.12,565.23 L362.89,565.81 L363.65,566.39 L364.42,566.95 L365.19,567.51 L365.95,568.05 L366.72,568.58 L367.48,569.10 L368.25,569.60 L369.01,570.09 L369.78,570.56 L370.54,571.02 L371.31,571.47 L372.07,571.91 L372.84,572.34 L373.61,572.77 L374.37,573.19 L375.14,573.61 L375.90,574.02 L376.67,574.44 L377.43,574.85 L378.20,575.27 L378.96,575.69 L379.73,576.12 L380.50,576.56 L381.26,577.00 L382.03,577.45 L382.79,577.92 L383.56,578.39 L384.32,578.89 L385.09,579.39 L385.85,579.72 L386.62,580.05 L387.38,580.39 L388.15,580.75 L388.92,581.11 L389.68,581.49 L390.45,581.87 L391.21,582.26 L391.98,582.65 L392.74,583.05 L393.51,583.46 L394.27,583.87 L395.04,584.28 L395.81,584.70 L396.57,585.11 L397.34,585.53 L398.10,585.94 L398.87,586.36 L399.63,586.77 L400.40,587.18 L401.16,587.59 L401.93,587.99 L402.69,588.39 L403.46,588.77 L404.23,589.16 L404.99,589.53 L405.76,589.90 L406.52,590.25 L407.29,590.60 L408.05,590.94 L408.82,591.26 L409.58,591.57 L410.35,591.86 L411.12,592.14 L411.88,592.41 L412.65,592.66 L413.41,592.89 L414.18,593.10 L414.94,593.30" stroke="#F6E2A6" stroke-width="0.6" fill="none"/>
<path d="M311.60,521.07 L312.37,521.86 L313.13,522.41 L313.90,522.68 L314.66,523.87 L315.43,524.72 L316.19,525.43 L316.96,526.22 L317.72,527.11 L318.49,527.83 L319.25,528.93 L320.02,530.40 L320.79,531.36 L321.55,532.01 L322.32,533.60 L323.08,534.55 L323.85,536.38 L324.61,537.09 L325.38,538.59 L326.14,540.35 L326.91,541.74 L327.68,543.15 L328.44,544.56 L329.21,545.93 L329.97,547.04 L330.74,547.75 L331.50,549.44 L332.27,549.92 L333.03,551.56 L333.80,552.15 L334.56,553.54 L335.33,554.27 L336.10,555.88 L336.86,556.70 L337.63,557.34 L338.39,558.17 L339.16,558.88 L339.92,560.22 L340.69,560.85 L341.45,561.35 L342.22,561.97 L342.99,562.71 L343.75,563.04 L344.52,563.20 L345.28,563.59 L346.05,564.55 L346.81,565.22 L347.58,565.59 L348.34,565.95 L349.11,567.01 L349.88,567.19 L350.64,568.04 L351.41,568.40 L352.17,568.52 L352.94,569.72 L353.70,569.96 L354.47,570.19 L355.23,571.14 L356.00,571.58 L356.76,572.35 L357.53,572.68 L358.30,572.84 L359.06,573.79 L359.83,574.40 L360.59,574.98 L361.36,575.35 L362.12,575.45 L362.89,576.16 L363.65,577.03 L364.42,577.48 L365.19,577.91 L365.95,578.86 L366.72,579.52 L367.48,579.43 L368.25,579.94 L369.01,580.80 L369.78,581.25 L370.54,581.52 L371.31,582.11 L372.07,582.26 L372.84,583.55 L373.61,583.68 L374.37,584.43 L375.14,584.80 L375.90,585.29 L376.67,585.96 L377.43,586.48 L378.20,587.19 L378.96,587.72 L379.73,588.12 L380.50,588.74 L381.26,589.25 L382.03,589.82 L382.79,589.88 L383.56,591.05 L384.32,590.85 L385.09,591.25 L385.85,591.75 L386.62,592.21 L387.38,593.13 L388.15,593.31 L388.92,593.92 L389.68,594.12 L390.45,594.83 L391.21,595.49 L391.98,595.90 L392.74,595.97 L393.51,596.18 L394.27,596.91 L395.04,597.14 L395.81,597.42 L396.57,597.80 L397.34,598.62 L398.10,598.53 L398.87,599.42 L399.63,599.38 L400.40,599.43 L401.16,600.15 L401.93,600.44 L402.69,600.58 L403.46,601.11 L404.23,601.96 L404.99,601.75 L405.76,602.77 L406.52,603.28 L407.29,603.55 L408.05,603.72 L408.82,604.51 L409.58,604.83 L410.35,605.08 L411.12,605.17 L411.88,605.41 L412.65,606.01 L413.41,605.78 L414.18,606.19 L414.94,606.48" stroke="#E8B01A" stroke-width="1.5" fill="none"/>
<path d="M311.60,521.30 L312.37,521.81 L313.13,522.41 L313.90,523.11 L314.66,523.89 L315.43,524.74 L316.19,525.67 L316.96,526.65 L317.72,527.69 L318.49,528.77 L319.25,529.89 L320.02,531.05 L320.79,532.22 L321.55,533.41 L322.32,534.61 L323.08,535.84 L323.85,537.11 L324.61,538.42 L325.38,539.78 L326.14,541.21 L326.91,542.72 L327.68,544.31 L328.44,546.00 L329.21,547.79 L329.97,549.69 L330.74,550.70 L331.50,551.76 L332.27,552.87 L333.03,554.03 L333.80,555.22 L334.56,556.45 L335.33,557.70 L336.10,558.99 L336.86,560.29 L337.63,561.61 L338.39,562.94 L339.16,564.28 L339.92,565.63 L340.69,566.97 L341.45,568.31 L342.22,569.64 L342.99,570.95 L343.75,572.25 L344.52,573.52 L345.28,574.77 L346.05,575.98 L346.81,577.16 L347.58,578.30 L348.34,579.39 L349.11,580.46 L349.88,581.51 L350.64,582.56 L351.41,583.59 L352.17,584.61 L352.94,585.62 L353.70,586.61 L354.47,587.60 L355.23,588.56 L356.00,589.52 L356.76,590.46 L357.53,591.38 L358.30,592.29 L359.06,593.17 L359.83,594.05 L360.59,594.90 L361.36,595.74 L362.12,596.55 L362.89,597.35 L363.65,598.13 L364.42,598.88 L365.19,599.61 L365.95,600.33 L366.72,601.02 L367.48,601.68 L368.25,602.31 L369.01,602.91 L369.78,603.49 L370.54,604.04 L371.31,604.56 L372.07,605.07 L372.84,605.55 L373.61,606.01 L374.37,606.46 L375.14,606.90 L375.90,607.32 L376.67,607.72 L377.43,608.12 L378.20,608.51 L378.96,608.89 L379.73,609.27 L380.50,609.65 L381.26,610.02 L382.03,610.40 L382.79,610.77 L383.56,611.16 L384.32,611.54 L385.09,611.94 L385.85,612.18 L386.62,612.42 L387.38,612.67 L388.15,612.92 L388.92,613.16 L389.68,613.41 L390.45,613.66 L391.21,613.91 L391.98,614.16 L392.74,614.40 L393.51,614.65 L394.27,614.90 L395.04,615.14 L395.81,615.38 L396.57,615.62 L397.34,615.86 L398.10,616.09 L398.87,616.33 L399.63,616.56 L400.40,616.78 L401.16,617.00 L401.93,617.22 L402.69,617.44 L403.46,617.65 L404.23,617.85 L404.99,618.05 L405.76,618.25 L406.52,618.44 L407.29,618.62 L408.05,618.80 L408.82,618.97 L409.58,619.13 L410.35,619.29 L411.12,619.44 L411.88,619.59 L412.65,619.72 L413.41,619.85 L414.18,619.97 L414.94,620.08 L414.94,622.82 L414.18,622.72 L413.41,622.61 L412.65,622.49 L411.88,622.35 L411.12,622.21 L410.35,622.05 L409.58,621.88 L408.82,621.70 L408.05,621.51 L407.29,621.30 L406.52,621.09 L405.76,620.87 L404.99,620.63 L404.23,620.38 L403.46,620.13 L402.69,619.96 L401.93,619.78 L401.16,619.61 L400.40,619.43 L399.63,619.25 L398.87,619.07 L398.10,618.88 L397.34,618.69 L396.57,618.49 L395.81,618.29 L395.04,618.08 L394.27,617.87 L393.51,617.65 L392.74,617.42 L391.98,617.19 L391.21,616.96 L390.45,616.71 L389.68,616.46 L388.92,616.20 L388.15,615.93 L387.38,615.66 L386.62,615.37 L385.85,615.08 L385.09,614.78 L384.32,614.46 L383.56,614.13 L382.79,613.78 L382.03,613.41 L381.26,613.03 L380.50,612.64 L379.73,612.25 L378.96,611.84 L378.20,611.42 L377.43,611.00 L376.67,610.58 L375.90,610.15 L375.14,609.73 L374.37,609.30 L373.61,608.88 L372.84,608.45 L372.07,608.04 L371.31,607.63 L370.54,607.22 L369.78,606.83 L369.01,606.45 L368.25,606.08 L367.48,605.72 L366.72,605.38 L365.95,604.75 L365.19,604.17 L364.42,603.62 L363.65,603.11 L362.89,602.62 L362.12,602.14 L361.36,601.65 L360.59,601.15 L359.83,600.63 L359.06,600.08 L358.30,599.48 L357.53,598.83 L356.76,598.13 L356.00,597.41 L355.23,596.66 L354.47,595.88 L353.70,595.08 L352.94,594.26 L352.17,593.42 L351.41,592.56 L350.64,591.69 L349.88,590.81 L349.11,589.91 L348.34,589.00 L347.58,588.09 L346.81,587.18 L346.05,586.26 L345.28,585.32 L344.52,584.38 L343.75,583.41 L342.99,582.42 L342.22,581.40 L341.45,580.35 L340.69,579.27 L339.92,578.15 L339.16,576.99 L338.39,575.80 L337.63,574.58 L336.86,573.33 L336.10,572.06 L335.33,570.75 L334.56,569.42 L333.80,568.05 L333.03,566.64 L332.27,565.19 L331.50,563.71 L330.74,562.18 L329.97,560.61 L329.21,558.97 L328.44,557.24 L327.68,555.43 L326.91,553.57 L326.14,551.68 L325.38,549.76 L324.61,547.84 L323.85,545.93 L323.08,544.05 L322.32,542.22 L321.55,540.46 L320.79,538.77 L320.02,537.11 L319.25,535.40 L318.49,533.69 L317.72,531.98 L316.96,530.30 L316.19,528.67 L315.43,527.12 L314.66,525.67 L313.90,524.34 L313.13,523.15 L312.37,522.13 L311.60,521.30 Z" stroke="none" stroke-width="1" fill="#F2B8DA" fill-opacity="0.35"/>
<path d="M311.60,521.30 L311.60,521.30 M313.90,523.11 L313.90,524.34 M316.19,525.67 L316.19,528.67 M318.49,528.77 L318.49,533.69 M320.79,532.22 L320.79,538.77 M323.08,535.84 L323.08,544.05 M325.38,539.78 L325.38,549.76 M327.68,544.31 L327.68,555.43 M329.97,549.69 L329.97,560.61 M332.27,552.87 L332.27,565.19 M334.56,556.45 L334.56,569.42 M336.86,560.29 L336.86,573.33 M339.16,564.28 L339.16,576.99 M341.45,568.31 L341.45,580.35 M343.75,572.25 L343.75,583.41 M346.05,575.98 L346.05,586.26 M348.34,579.39 L348.34,589.00 M350.64,582.56 L350.64,591.69 M352.94,585.62 L352.94,594.26 M355.23,588.56 L355.23,596.66 M357.53,591.38 L357.53,598.83 M359.83,594.05 L359.83,600.63 M362.12,596.55 L362.12,602.14 M364.42,598.88 L364.42,603.62 M366.72,601.02 L366.72,605.38 M369.01,602.91 L369.01,606.45 M371.31,604.56 L371.31,607.63 M373.61,606.01 L373.61,608.88 M375.90,607.32 L375.90,610.15 M378.20,608.51 L378.20,611.42 M380.50,609.65 L380.50,612.64 M382.79,610.77 L382.79,613.78 M385.09,611.94 L385.09,614.78 M387.38,612.67 L387.38,615.66 M389.68,613.41 L389.68,616.46 M391.98,614.16 L391.98,617.19 M394.27,614.90 L394.27,617.87 M396.57,615.62 L396.57,618.49 M398.87,616.33 L398.87,619.07 M401.16,617.00 L401.16,619.61 M403.46,617.65 L403.46,620.13 M405.76,618.25 L405.76,620.87 M408.05,618.80 L408.05,621.51 M410.35,619.29 L410.35,622.05 M412.65,619.72 L412.65,622.49 M414.94,620.08 L414.94,622.82 " stroke="#F2B8DA" stroke-width="0.45" fill="none"/>
<path d="M311.60,521.30 L312.37,521.81 L313.13,522.41 L313.90,523.11 L314.66,523.89 L315.43,524.74 L316.19,525.67 L316.96,526.65 L317.72,527.69 L318.49,528.77 L319.25,529.89 L320.02,531.05 L320.79,532.22 L321.55,533.41 L322.32,534.61 L323.08,535.84 L323.85,537.11 L324.61,538.42 L325.38,539.78 L326.14,541.21 L326.91,542.72 L327.68,544.31 L328.44,546.00 L329.21,547.79 L329.97,549.69 L330.74,550.70 L331.50,551.76 L332.27,552.87 L333.03,554.03 L333.80,555.22 L334.56,556.45 L335.33,557.70 L336.10,558.99 L336.86,560.29 L337.63,561.61 L338.39,562.94 L339.16,564.28 L339.92,565.63 L340.69,566.97 L341.45,568.31 L342.22,569.64 L342.99,570.95 L343.75,572.25 L344.52,573.52 L345.28,574.77 L346.05,575.98 L346.81,577.16 L347.58,578.30 L348.34,579.39 L349.11,580.46 L349.88,581.51 L350.64,582.56 L351.41,583.59 L352.17,584.61 L352.94,585.62 L353.70,586.61 L354.47,587.60 L355.23,588.56 L356.00,589.52 L356.76,590.46 L357.53,591.38 L358.30,592.29 L359.06,593.17 L359.83,594.05 L360.59,594.90 L361.36,595.74 L362.12,596.55 L362.89,597.35 L363.65,598.13 L364.42,598.88 L365.19,599.61 L365.95,600.33 L366.72,601.02 L367.48,601.68 L368.25,602.31 L369.01,602.91 L369.78,603.49 L370.54,604.04 L371.31,604.56 L372.07,605.07 L372.84,605.55 L373.61,606.01 L374.37,606.46 L375.14,606.90 L375.90,607.32 L376.67,607.72 L377.43,608.12 L378.20,608.51 L378.96,608.89 L379.73,609.27 L380.50,609.65 L381.26,610.02 L382.03,610.40 L382.79,610.77 L383.56,611.16 L384.32,611.54 L385.09,611.94 L385.85,612.18 L386.62,612.42 L387.38,612.67 L388.15,612.92 L388.92,613.16 L389.68,613.41 L390.45,613.66 L391.21,613.91 L391.98,614.16 L392.74,614.40 L393.51,614.65 L394.27,614.90 L395.04,615.14 L395.81,615.38 L396.57,615.62 L397.34,615.86 L398.10,616.09 L398.87,616.33 L399.63,616.56 L400.40,616.78 L401.16,617.00 L401.93,617.22 L402.69,617.44 L403.46,617.65 L404.23,617.85 L404.99,618.05 L405.76,618.25 L406.52,618.44 L407.29,618.62 L408.05,618.80 L408.82,618.97 L409.58,619.13 L410.35,619.29 L411.12,619.44 L411.88,619.59 L412.65,619.72 L413.41,619.85 L414.18,619.97 L414.94,620.08" stroke="#F2B8DA" stroke-width="0.6" fill="none"/>
<path d="M311.60,521.62 L312.37,522.20 L313.13,523.53 L313.90,524.65 L314.66,525.59 L315.43,527.25 L316.19,528.75 L316.96,530.60 L317.72,531.68 L318.49,533.56 L319.25,535.42 L320.02,537.08 L320.79,539.02 L321.55,540.39 L322.32,542.03 L323.08,544.29 L323.85,546.20 L324.61,547.83 L325.38,550.04 L326.14,551.75 L326.91,553.75 L327.68,555.78 L328.44,557.36 L329.21,558.73 L329.97,560.58 L330.74,562.41 L331.50,564.05 L332.27,565.50 L333.03,566.26 L333.80,567.84 L334.56,569.34 L335.33,570.72 L336.10,571.79 L336.86,573.63 L337.63,574.36 L338.39,575.55 L339.16,577.15 L339.92,577.98 L340.69,579.41 L341.45,580.23 L342.22,581.59 L342.99,582.65 L343.75,583.04 L344.52,584.60 L345.28,585.52 L346.05,586.44 L346.81,587.17 L347.58,588.32 L348.34,589.35 L349.11,590.02 L349.88,590.84 L350.64,592.06 L351.41,592.19 L352.17,593.72 L352.94,594.25 L353.70,594.72 L354.47,595.66 L355.23,596.36 L356.00,597.07 L356.76,598.00 L357.53,598.79 L358.30,599.43 L359.06,600.25 L359.83,600.30 L360.59,601.18 L361.36,601.49 L362.12,602.37 L362.89,602.94 L363.65,603.07 L364.42,603.26 L365.19,604.22 L365.95,604.94 L366.72,605.45 L367.48,605.36 L368.25,606.29 L369.01,606.52 L369.78,606.68 L370.54,607.41 L371.31,607.65 L372.07,608.26 L372.84,608.21 L373.61,609.18 L374.37,609.58 L375.14,609.80 L375.90,609.96 L376.67,610.36 L377.43,610.68 L378.20,611.48 L378.96,612.14 L379.73,612.24 L380.50,612.46 L381.26,613.06 L382.03,613.27 L382.79,613.80 L383.56,614.11 L384.32,614.14 L385.09,614.86 L385.85,615.06 L386.62,615.38 L387.38,615.29 L388.15,615.61 L388.92,616.30 L389.68,616.50 L390.45,616.81 L391.21,617.25 L391.98,617.25 L392.74,617.35 L393.51,617.75 L394.27,617.86 L395.04,618.35 L395.81,617.98 L396.57,618.34 L397.34,619.06 L398.10,619.03 L398.87,618.91 L399.63,618.96 L400.40,619.37 L401.16,619.93 L401.93,619.76 L402.69,620.31 L403.46,620.40 L404.23,620.57 L404.99,620.53 L405.76,620.99 L406.52,621.38 L407.29,621.31 L408.05,621.33 L408.82,621.89 L409.58,621.66 L410.35,622.43 L411.12,622.21 L411.88,622.72 L412.65,622.32 L413.41,622.82 L414.18,622.41 L414.94,622.58" stroke="#D81F8F" stroke-width="1.5" fill="none"/>
<path d="M311.60,521.30 L312.37,521.30 L313.13,521.30 L313.90,521.30 L314.66,521.30 L315.43,521.30 L316.19,521.30 L316.96,521.30 L317.72,521.30 L318.49,521.30 L319.25,521.30 L320.02,521.30 L320.79,521.30 L321.55,521.30 L322.32,521.30 L323.08,521.30 L323.85,521.30 L324.61,521.30 L325.38,521.30 L326.14,521.30 L326.91,521.30 L327.68,521.30 L328.44,521.30 L329.21,521.30 L329.97,521.30 L330.74,521.30 L331.50,521.30 L332.27,521.30 L333.03,521.30 L333.80,521.30 L334.56,521.30 L335.33,521.30 L336.10,521.30 L336.86,521.30 L337.63,521.30 L338.39,521.30 L339.16,521.30 L339.92,521.30 L340.69,521.30 L341.45,521.30 L342.22,521.30 L342.99,521.30 L343.75,521.30 L344.52,521.30 L345.28,521.30 L346.05,521.30 L346.81,521.30 L347.58,521.30 L348.34,521.30 L349.11,521.30 L349.88,521.30 L350.64,521.30 L351.41,521.30 L352.17,521.30 L352.94,521.30 L353.70,521.30 L354.47,521.30 L355.23,521.30 L356.00,521.30 L356.76,521.30 L357.53,521.30 L358.30,521.30 L359.06,521.30 L359.83,521.30 L360.59,521.30 L361.36,521.30 L362.12,521.30 L362.89,521.30 L363.65,521.30 L364.42,521.30 L365.19,521.30 L365.95,521.30 L366.72,521.30 L367.48,521.30 L368.25,521.30 L369.01,521.30 L369.78,521.30 L370.54,521.30 L371.31,521.30 L372.07,521.30 L372.84,521.30 L373.61,521.30 L374.37,521.30 L375.14,521.30 L375.90,521.30 L376.67,521.30 L377.43,521.30 L378.20,521.30 L378.96,521.30 L379.73,521.30 L380.50,521.30 L381.26,521.30 L382.03,521.30 L382.79,521.30 L383.56,521.30 L384.32,521.30 L385.09,521.30 L385.85,521.30 L386.62,521.30 L387.38,521.30 L388.15,521.30 L388.92,521.30 L389.68,521.30 L390.45,521.30 L391.21,521.30 L391.98,521.30 L392.74,521.30 L393.51,521.30 L394.27,521.30 L395.04,521.30 L395.81,521.30 L396.57,521.30 L397.34,521.30 L398.10,521.30 L398.87,521.30 L399.63,521.30 L400.40,521.30 L401.16,521.30 L401.93,521.30 L402.69,521.30 L403.46,521.30 L404.23,521.30 L404.99,521.30 L405.76,521.30 L406.52,521.30 L407.29,521.30 L408.05,521.30 L408.82,521.30 L409.58,521.30 L410.35,521.30 L411.12,521.30 L411.88,521.30 L412.65,521.30 L413.41,521.30 L414.18,521.30 L414.94,521.30" stroke="#1F3A7E" stroke-width="2.2" fill="none"/>
<line x1="422.30" y1="520.70" x2="431.50" y2="520.70" stroke="#1F3A7E" stroke-width="0.8"/>
<circle cx="426.90" cy="520.70" r="0.9" fill="#1F3A7E"/>
<text x="434.50" y="522.70" font-size="5.8" text-anchor="start" font-weight="normal" fill="#2a2a2a" textLength="32.4" lengthAdjust="spacingAndGlyphs">SKOV3 alone</text>
<line x1="422.30" y1="531.45" x2="431.50" y2="531.45" stroke="#E8B01A" stroke-width="0.8"/>
<circle cx="426.90" cy="531.45" r="0.9" fill="#E8B01A"/>
<text x="434.50" y="533.45" font-size="5.8" text-anchor="start" font-weight="normal" fill="#2a2a2a" textLength="30.6" lengthAdjust="spacingAndGlyphs">hnCD16 iNK</text>
<line x1="422.30" y1="542.20" x2="431.50" y2="542.20" stroke="#D81F8F" stroke-width="0.8"/>
<circle cx="426.90" cy="542.20" r="0.9" fill="#D81F8F"/>
<text x="434.50" y="544.20" font-size="5.8" text-anchor="start" font-weight="normal" fill="#2a2a2a" textLength="57.6" lengthAdjust="spacingAndGlyphs">hnCD16-iNK+anti-Her2</text>
<line x1="422.30" y1="552.95" x2="431.50" y2="552.95" stroke="#5DAE45" stroke-width="0.8"/>
<circle cx="426.90" cy="552.95" r="0.9" fill="#5DAE45"/>
<text x="434.50" y="554.95" font-size="5.8" text-anchor="start" font-weight="normal" fill="#2a2a2a" textLength="14.8" lengthAdjust="spacingAndGlyphs">PBNK</text>
<line x1="422.30" y1="563.70" x2="431.50" y2="563.70" stroke="#6A4A92" stroke-width="0.8"/>
<circle cx="426.90" cy="563.70" r="1.1" fill="#fff" stroke="#6A4A92" stroke-width="0.6"/>
<text x="434.50" y="565.70" font-size="5.8" text-anchor="start" font-weight="normal" fill="#2a2a2a" textLength="41.1" lengthAdjust="spacingAndGlyphs">PBNK+anti-Her2</text>
</svg></body></html>
